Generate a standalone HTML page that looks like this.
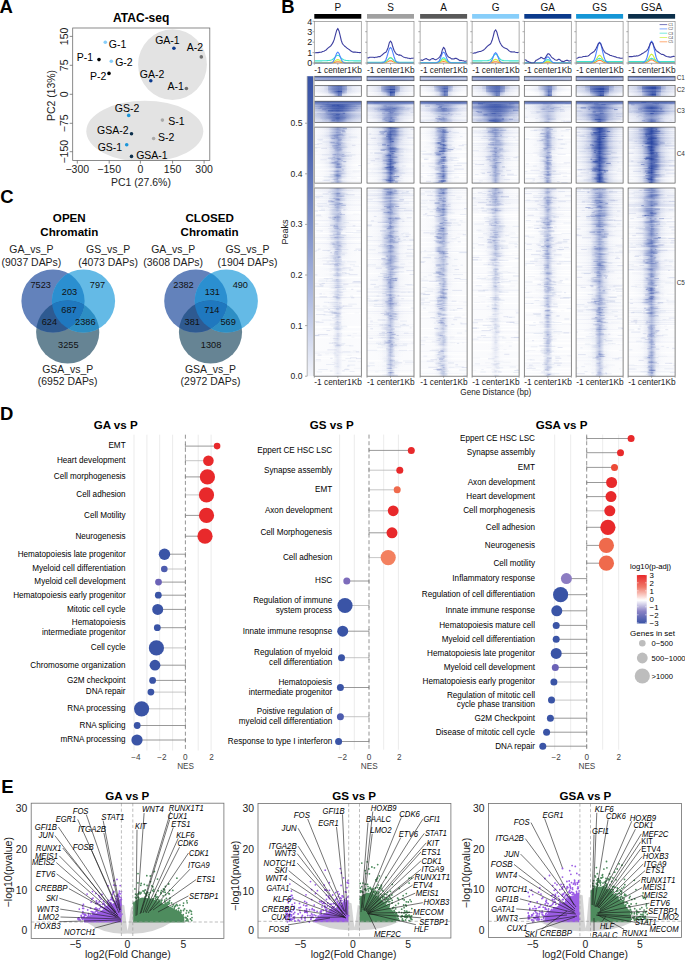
<!DOCTYPE html>
<html><head><meta charset="utf-8"><style>
html,body{margin:0;padding:0;background:#fff;}
svg{display:block;font-family:"Liberation Sans", sans-serif;}
stop{stop-color:#2b47a3;}
</style></head><body>
<svg width="685" height="961" viewBox="0 0 685 961">
<rect width="685" height="961" fill="#fff"/>
<text x="-0.5" y="12.7" font-size="18.5" font-weight="bold" fill="#000">A</text>
<text x="141.2" y="22" font-size="12" font-weight="bold" text-anchor="middle" fill="#000">ATAC-seq</text>
<clipPath id="clipA"><rect x="72.7" y="28" width="137.10000000000002" height="132.4"/></clipPath>
<g clip-path="url(#clipA)">
<ellipse cx="172.5" cy="64.6" rx="34.4" ry="35.3" fill="#e3e3e3"/>
<ellipse cx="144.8" cy="131.3" rx="58.5" ry="30.6" fill="#e3e3e3"/>
</g>
<rect x="72.7" y="28" width="137.1" height="132.4" fill="none" stroke="#6e6e6e" stroke-width="0.8"/>
<line x1="69.7" y1="36.4" x2="72.7" y2="36.4" stroke="#6e6e6e" stroke-width="0.8"/>
<text transform="translate(68.2,36.4) rotate(-90)" font-size="10.5" text-anchor="middle" fill="#222">150</text>
<line x1="69.7" y1="65.3" x2="72.7" y2="65.3" stroke="#6e6e6e" stroke-width="0.8"/>
<text transform="translate(68.2,65.3) rotate(-90)" font-size="10.5" text-anchor="middle" fill="#222">75</text>
<line x1="69.7" y1="94.3" x2="72.7" y2="94.3" stroke="#6e6e6e" stroke-width="0.8"/>
<text transform="translate(68.2,94.3) rotate(-90)" font-size="10.5" text-anchor="middle" fill="#222">0</text>
<line x1="69.7" y1="123.3" x2="72.7" y2="123.3" stroke="#6e6e6e" stroke-width="0.8"/>
<text transform="translate(68.2,123.3) rotate(-90)" font-size="10.5" text-anchor="middle" fill="#222">−75</text>
<line x1="69.7" y1="151.7" x2="72.7" y2="151.7" stroke="#6e6e6e" stroke-width="0.8"/>
<text transform="translate(68.2,151.7) rotate(-90)" font-size="10.5" text-anchor="middle" fill="#222">−150</text>
<line x1="77.3" y1="160.4" x2="77.3" y2="163.6" stroke="#6e6e6e" stroke-width="0.8"/>
<text x="77.3" y="173.3" font-size="10.5" text-anchor="middle" fill="#222">−300</text>
<line x1="109.2" y1="160.4" x2="109.2" y2="163.6" stroke="#6e6e6e" stroke-width="0.8"/>
<text x="109.2" y="173.3" font-size="10.5" text-anchor="middle" fill="#222">−150</text>
<line x1="140.4" y1="160.4" x2="140.4" y2="163.6" stroke="#6e6e6e" stroke-width="0.8"/>
<text x="140.4" y="173.3" font-size="10.5" text-anchor="middle" fill="#222">0</text>
<line x1="172.6" y1="160.4" x2="172.6" y2="163.6" stroke="#6e6e6e" stroke-width="0.8"/>
<text x="172.6" y="173.3" font-size="10.5" text-anchor="middle" fill="#222">150</text>
<line x1="204.1" y1="160.4" x2="204.1" y2="163.6" stroke="#6e6e6e" stroke-width="0.8"/>
<text x="204.1" y="173.3" font-size="10.5" text-anchor="middle" fill="#222">300</text>
<text x="141" y="185.6" font-size="10.45" text-anchor="middle" fill="#222">PC1 (27.6%)</text>
<text transform="translate(54.6,95.5) rotate(-90)" font-size="10.45" text-anchor="middle" fill="#222">PC2 (13%)</text>
<circle cx="99" cy="59.6" r="1.8" fill="#000"/>
<text x="93.2" y="61.2" font-size="10.5" text-anchor="end">P-1</text>
<circle cx="109" cy="73.4" r="1.8" fill="#000"/>
<text x="106.3" y="79.6" font-size="10.5" text-anchor="end">P-2</text>
<circle cx="105.3" cy="42.2" r="1.8" fill="#87cefa"/>
<text x="108.8" y="48.2" font-size="10.5">G-1</text>
<circle cx="111.3" cy="61.2" r="1.8" fill="#87cefa"/>
<text x="115.2" y="65.7" font-size="10.5">G-2</text>
<circle cx="173.9" cy="48.2" r="1.8" fill="#0b3a8e"/>
<text x="167.4" y="43.8" font-size="10.5" text-anchor="middle">GA-1</text>
<circle cx="201.3" cy="56.9" r="1.8" fill="#707070"/>
<text x="194.8" y="51.2" font-size="10.5" text-anchor="middle">A-2</text>
<circle cx="150.8" cy="80.8" r="1.8" fill="#0b3a8e"/>
<text x="152" y="78" font-size="10.5" text-anchor="middle">GA-2</text>
<circle cx="186.4" cy="88.5" r="1.8" fill="#707070"/>
<text x="183.9" y="90.2" font-size="10.5" text-anchor="end">A-1</text>
<circle cx="128.7" cy="115.4" r="1.8" fill="#1b95d8"/>
<text x="127.1" y="112" font-size="10.5" text-anchor="middle">GS-2</text>
<circle cx="131.5" cy="133.8" r="1.8" fill="#0c2f4c"/>
<text x="128.6" y="133.8" font-size="10.5" text-anchor="end">GSA-2</text>
<circle cx="126.7" cy="144.8" r="1.8" fill="#1b95d8"/>
<text x="122.2" y="151.3" font-size="10.5" text-anchor="end">GS-1</text>
<circle cx="131.5" cy="156.4" r="1.8" fill="#0c2f4c"/>
<text x="136.2" y="159.2" font-size="10.5">GSA-1</text>
<circle cx="162.4" cy="120.1" r="1.8" fill="#a9a9a9"/>
<text x="168.3" y="125" font-size="10.5">S-1</text>
<circle cx="153.6" cy="138.5" r="1.8" fill="#a9a9a9"/>
<text x="158" y="141.2" font-size="10.5">S-2</text>
<text x="281.2" y="12.7" font-size="18.5" font-weight="bold" fill="#000">B</text>
<text x="337.8" y="10.9" font-size="10" text-anchor="middle" fill="#111">P</text>
<rect x="314.3" y="14" width="47" height="4.7" fill="#000000"/>
<line x1="312.5" y1="63" x2="314.3" y2="63" stroke="#777" stroke-width="0.6"/>
<line x1="312.5" y1="52.6" x2="314.3" y2="52.6" stroke="#777" stroke-width="0.6"/>
<line x1="312.5" y1="42.2" x2="314.3" y2="42.2" stroke="#777" stroke-width="0.6"/>
<line x1="312.5" y1="31.7" x2="314.3" y2="31.7" stroke="#777" stroke-width="0.6"/>
<line x1="312.5" y1="21.3" x2="314.3" y2="21.3" stroke="#777" stroke-width="0.6"/>
<line x1="314.3" y1="63.2" x2="314.3" y2="64.8" stroke="#777" stroke-width="0.6"/>
<line x1="337.8" y1="63.2" x2="337.8" y2="64.8" stroke="#777" stroke-width="0.6"/>
<line x1="361.3" y1="63.2" x2="361.3" y2="64.8" stroke="#777" stroke-width="0.6"/>
<text x="338.1" y="72.6" font-size="8.3" text-anchor="middle" fill="#222" textLength="47.5" lengthAdjust="spacingAndGlyphs">-1 center1Kb</text>
<text x="390.5" y="10.9" font-size="10" text-anchor="middle" fill="#111">S</text>
<rect x="367" y="14" width="47" height="4.7" fill="#a0a0a0"/>
<line x1="365.2" y1="63" x2="367" y2="63" stroke="#777" stroke-width="0.6"/>
<line x1="365.2" y1="52.6" x2="367" y2="52.6" stroke="#777" stroke-width="0.6"/>
<line x1="365.2" y1="42.2" x2="367" y2="42.2" stroke="#777" stroke-width="0.6"/>
<line x1="365.2" y1="31.7" x2="367" y2="31.7" stroke="#777" stroke-width="0.6"/>
<line x1="365.2" y1="21.3" x2="367" y2="21.3" stroke="#777" stroke-width="0.6"/>
<line x1="367" y1="63.2" x2="367" y2="64.8" stroke="#777" stroke-width="0.6"/>
<line x1="390.5" y1="63.2" x2="390.5" y2="64.8" stroke="#777" stroke-width="0.6"/>
<line x1="414" y1="63.2" x2="414" y2="64.8" stroke="#777" stroke-width="0.6"/>
<text x="390.8" y="72.6" font-size="8.3" text-anchor="middle" fill="#222" textLength="47.5" lengthAdjust="spacingAndGlyphs">-1 center1Kb</text>
<text x="443.6" y="10.9" font-size="10" text-anchor="middle" fill="#111">A</text>
<rect x="420.1" y="14" width="47" height="4.7" fill="#595959"/>
<line x1="418.3" y1="63" x2="420.1" y2="63" stroke="#777" stroke-width="0.6"/>
<line x1="418.3" y1="52.6" x2="420.1" y2="52.6" stroke="#777" stroke-width="0.6"/>
<line x1="418.3" y1="42.2" x2="420.1" y2="42.2" stroke="#777" stroke-width="0.6"/>
<line x1="418.3" y1="31.7" x2="420.1" y2="31.7" stroke="#777" stroke-width="0.6"/>
<line x1="418.3" y1="21.3" x2="420.1" y2="21.3" stroke="#777" stroke-width="0.6"/>
<line x1="420.1" y1="63.2" x2="420.1" y2="64.8" stroke="#777" stroke-width="0.6"/>
<line x1="443.6" y1="63.2" x2="443.6" y2="64.8" stroke="#777" stroke-width="0.6"/>
<line x1="467.1" y1="63.2" x2="467.1" y2="64.8" stroke="#777" stroke-width="0.6"/>
<text x="443.9" y="72.6" font-size="8.3" text-anchor="middle" fill="#222" textLength="47.5" lengthAdjust="spacingAndGlyphs">-1 center1Kb</text>
<text x="495.6" y="10.9" font-size="10" text-anchor="middle" fill="#111">G</text>
<rect x="472.1" y="14" width="47" height="4.7" fill="#87cefa"/>
<line x1="470.3" y1="63" x2="472.1" y2="63" stroke="#777" stroke-width="0.6"/>
<line x1="470.3" y1="52.6" x2="472.1" y2="52.6" stroke="#777" stroke-width="0.6"/>
<line x1="470.3" y1="42.2" x2="472.1" y2="42.2" stroke="#777" stroke-width="0.6"/>
<line x1="470.3" y1="31.7" x2="472.1" y2="31.7" stroke="#777" stroke-width="0.6"/>
<line x1="470.3" y1="21.3" x2="472.1" y2="21.3" stroke="#777" stroke-width="0.6"/>
<line x1="472.1" y1="63.2" x2="472.1" y2="64.8" stroke="#777" stroke-width="0.6"/>
<line x1="495.6" y1="63.2" x2="495.6" y2="64.8" stroke="#777" stroke-width="0.6"/>
<line x1="519.1" y1="63.2" x2="519.1" y2="64.8" stroke="#777" stroke-width="0.6"/>
<text x="495.9" y="72.6" font-size="8.3" text-anchor="middle" fill="#222" textLength="47.5" lengthAdjust="spacingAndGlyphs">-1 center1Kb</text>
<text x="547.8" y="10.9" font-size="10" text-anchor="middle" fill="#111">GA</text>
<rect x="524.3" y="14" width="47" height="4.7" fill="#0a3a8c"/>
<line x1="522.5" y1="63" x2="524.3" y2="63" stroke="#777" stroke-width="0.6"/>
<line x1="522.5" y1="52.6" x2="524.3" y2="52.6" stroke="#777" stroke-width="0.6"/>
<line x1="522.5" y1="42.2" x2="524.3" y2="42.2" stroke="#777" stroke-width="0.6"/>
<line x1="522.5" y1="31.7" x2="524.3" y2="31.7" stroke="#777" stroke-width="0.6"/>
<line x1="522.5" y1="21.3" x2="524.3" y2="21.3" stroke="#777" stroke-width="0.6"/>
<line x1="524.3" y1="63.2" x2="524.3" y2="64.8" stroke="#777" stroke-width="0.6"/>
<line x1="547.8" y1="63.2" x2="547.8" y2="64.8" stroke="#777" stroke-width="0.6"/>
<line x1="571.3" y1="63.2" x2="571.3" y2="64.8" stroke="#777" stroke-width="0.6"/>
<text x="548.1" y="72.6" font-size="8.3" text-anchor="middle" fill="#222" textLength="47.5" lengthAdjust="spacingAndGlyphs">-1 center1Kb</text>
<text x="599.6" y="10.9" font-size="10" text-anchor="middle" fill="#111">GS</text>
<rect x="576.1" y="14" width="47" height="4.7" fill="#1596d6"/>
<line x1="574.3" y1="63" x2="576.1" y2="63" stroke="#777" stroke-width="0.6"/>
<line x1="574.3" y1="52.6" x2="576.1" y2="52.6" stroke="#777" stroke-width="0.6"/>
<line x1="574.3" y1="42.2" x2="576.1" y2="42.2" stroke="#777" stroke-width="0.6"/>
<line x1="574.3" y1="31.7" x2="576.1" y2="31.7" stroke="#777" stroke-width="0.6"/>
<line x1="574.3" y1="21.3" x2="576.1" y2="21.3" stroke="#777" stroke-width="0.6"/>
<line x1="576.1" y1="63.2" x2="576.1" y2="64.8" stroke="#777" stroke-width="0.6"/>
<line x1="599.6" y1="63.2" x2="599.6" y2="64.8" stroke="#777" stroke-width="0.6"/>
<line x1="623.1" y1="63.2" x2="623.1" y2="64.8" stroke="#777" stroke-width="0.6"/>
<text x="599.9" y="72.6" font-size="8.3" text-anchor="middle" fill="#222" textLength="47.5" lengthAdjust="spacingAndGlyphs">-1 center1Kb</text>
<text x="651.6" y="10.9" font-size="10" text-anchor="middle" fill="#111">GSA</text>
<rect x="628.1" y="14" width="47" height="4.7" fill="#0b2f4a"/>
<line x1="626.3" y1="63" x2="628.1" y2="63" stroke="#777" stroke-width="0.6"/>
<line x1="626.3" y1="52.6" x2="628.1" y2="52.6" stroke="#777" stroke-width="0.6"/>
<line x1="626.3" y1="42.2" x2="628.1" y2="42.2" stroke="#777" stroke-width="0.6"/>
<line x1="626.3" y1="31.7" x2="628.1" y2="31.7" stroke="#777" stroke-width="0.6"/>
<line x1="626.3" y1="21.3" x2="628.1" y2="21.3" stroke="#777" stroke-width="0.6"/>
<line x1="628.1" y1="63.2" x2="628.1" y2="64.8" stroke="#777" stroke-width="0.6"/>
<line x1="651.6" y1="63.2" x2="651.6" y2="64.8" stroke="#777" stroke-width="0.6"/>
<line x1="675.1" y1="63.2" x2="675.1" y2="64.8" stroke="#777" stroke-width="0.6"/>
<text x="651.9" y="72.6" font-size="8.3" text-anchor="middle" fill="#222" textLength="47.5" lengthAdjust="spacingAndGlyphs">-1 center1Kb</text>
<text x="312.3" y="66.2" font-size="9" text-anchor="end" fill="#222">0</text>
<text x="312.3" y="55.8" font-size="9" text-anchor="end" fill="#222">1</text>
<text x="312.3" y="45.4" font-size="9" text-anchor="end" fill="#222">2</text>
<text x="312.3" y="34.9" font-size="9" text-anchor="end" fill="#222">3</text>
<text x="312.3" y="24.5" font-size="9" text-anchor="end" fill="#222">4</text>
<polyline points="314.6,62.8 315.8,62.8 316.9,62.8 318.1,62.8 319.2,62.8 320.4,62.8 321.6,62.8 322.7,62.8 323.9,62.8 325,62.8 326.2,62.8 327.4,62.8 328.5,62.8 329.7,62.8 330.8,62.8 332,62.7 333.2,62.6 334.3,62.4 335.5,62.1 336.6,61.9 337.8,61.7 339,61.9 340.1,62.1 341.3,62.4 342.4,62.6 343.6,62.7 344.8,62.8 345.9,62.8 347.1,62.8 348.2,62.8 349.4,62.8 350.6,62.8 351.7,62.8 352.9,62.8 354,62.8 355.2,62.8 356.4,62.8 357.5,62.8 358.7,62.8 359.8,62.8 361,62.8" fill="none" stroke="#ff8a3a" stroke-width="1.1" stroke-linejoin="round"/>
<polyline points="314.6,62.5 315.8,62.5 316.9,62.5 318.1,62.5 319.2,62.5 320.4,62.5 321.6,62.5 322.7,62.5 323.9,62.5 325,62.5 326.2,62.5 327.4,62.5 328.5,62.5 329.7,62.5 330.8,62.4 332,62.3 333.2,62 334.3,61.4 335.5,60.6 336.6,59.9 337.8,59.6 339,59.9 340.1,60.6 341.3,61.4 342.4,62 343.6,62.3 344.8,62.4 345.9,62.5 347.1,62.5 348.2,62.5 349.4,62.5 350.6,62.5 351.7,62.5 352.9,62.5 354,62.5 355.2,62.5 356.4,62.5 357.5,62.5 358.7,62.5 359.8,62.5 361,62.5" fill="none" stroke="#cdf03c" stroke-width="1.1" stroke-linejoin="round"/>
<polyline points="314.6,60.9 315.8,60.9 316.9,60.9 318.1,60.9 319.2,60.9 320.4,60.9 321.6,60.9 322.7,60.8 323.9,60.8 325,60.7 326.2,60.7 327.4,60.6 328.5,60.5 329.7,60.4 330.8,60.2 332,59.8 333.2,59.1 334.3,58 335.5,56.7 336.6,55.6 337.8,55.2 339,55.6 340.1,56.8 341.3,58.1 342.4,59.1 343.6,59.8 344.8,60.2 345.9,60.4 347.1,60.5 348.2,60.6 349.4,60.7 350.6,60.8 351.7,60.8 352.9,60.8 354,60.9 355.2,60.9 356.4,60.9 357.5,60.9 358.7,60.9 359.8,60.9 361,60.9" fill="none" stroke="#3fe3cf" stroke-width="1.1" stroke-linejoin="round"/>
<polyline points="314.6,63 315.8,63 316.9,63 318.1,63 319.2,63 320.4,63 321.6,63 322.7,63 323.9,63 325,63 326.2,63 327.4,63 328.5,63 329.7,63 330.8,62.9 332,62.5 333.2,61.6 334.3,59.5 335.5,56.4 336.6,53.4 337.8,52.1 339,53.4 340.1,56.4 341.3,59.5 342.4,61.6 343.6,62.5 344.8,62.9 345.9,63 347.1,63 348.2,63 349.4,63 350.6,63 351.7,63 352.9,63 354,63 355.2,63 356.4,63 357.5,63 358.7,63 359.8,63 361,63" fill="none" stroke="#4d84ff" stroke-width="1.1" stroke-linejoin="round"/>
<polyline points="314.6,52.7 315.8,52.8 316.9,52.5 318.1,52.6 319.2,52.4 320.4,52.2 321.6,52.1 322.7,51.5 323.9,51.3 325,50.6 326.2,49.9 327.4,48.6 328.5,47.6 329.7,46.8 330.8,45.9 332,44.1 333.2,42.1 334.3,39.2 335.5,34.7 336.6,30.6 337.8,28.4 339,30.9 340.1,35.4 341.3,40.5 342.4,43.6 343.6,45 344.8,46.3 345.9,47.1 347.1,48.2 348.2,48.9 349.4,49.7 350.6,50.8 351.7,51.5 352.9,52.1 354,52.1 355.2,52.1 356.4,52.2 357.5,52.4 358.7,52.5 359.8,52.6 361,52.5" fill="none" stroke="#3d3fa0" stroke-width="1.1" stroke-linejoin="round"/>
<rect x="314.3" y="21.4" width="47" height="41.8" fill="none" stroke="#8a8a8a" stroke-width="0.7"/>
<polyline points="367.3,62.8 368.5,62.8 369.6,62.8 370.8,62.8 371.9,62.8 373.1,62.8 374.3,62.8 375.4,62.8 376.6,62.8 377.7,62.8 378.9,62.8 380.1,62.8 381.2,62.8 382.4,62.8 383.5,62.8 384.7,62.7 385.9,62.4 387,62 388.2,61.5 389.3,60.9 390.5,60.7 391.7,60.9 392.8,61.5 394,62 395.1,62.4 396.3,62.7 397.5,62.8 398.6,62.8 399.8,62.8 400.9,62.8 402.1,62.8 403.3,62.8 404.4,62.8 405.6,62.8 406.7,62.8 407.9,62.8 409.1,62.8 410.2,62.8 411.4,62.8 412.5,62.8 413.7,62.8" fill="none" stroke="#ff8a3a" stroke-width="1.1" stroke-linejoin="round"/>
<polyline points="367.3,62.6 368.5,62.6 369.6,62.6 370.8,62.6 371.9,62.6 373.1,62.6 374.3,62.6 375.4,62.6 376.6,62.6 377.7,62.6 378.9,62.6 380.1,62.6 381.2,62.6 382.4,62.6 383.5,62.5 384.7,62.4 385.9,61.9 387,60.9 388.2,59.5 389.3,58 390.5,57.4 391.7,58 392.8,59.5 394,60.9 395.1,61.9 396.3,62.4 397.5,62.5 398.6,62.6 399.8,62.6 400.9,62.6 402.1,62.6 403.3,62.6 404.4,62.6 405.6,62.6 406.7,62.6 407.9,62.6 409.1,62.6 410.2,62.6 411.4,62.6 412.5,62.6 413.7,62.6" fill="none" stroke="#cdf03c" stroke-width="1.1" stroke-linejoin="round"/>
<polyline points="367.3,62.2 368.5,62.2 369.6,62.2 370.8,62.2 371.9,62.2 373.1,62.2 374.3,62.2 375.4,62.2 376.6,62.2 377.7,62.2 378.9,62.2 380.1,62.2 381.2,62.2 382.4,62.1 383.5,62.1 384.7,61.9 385.9,61.4 387,60.6 388.2,59.4 389.3,58.3 390.5,57.8 391.7,58.3 392.8,59.4 394,60.6 395.1,61.4 396.3,61.9 397.5,62.1 398.6,62.1 399.8,62.2 400.9,62.2 402.1,62.2 403.3,62.2 404.4,62.2 405.6,62.2 406.7,62.2 407.9,62.2 409.1,62.2 410.2,62.2 411.4,62.2 412.5,62.2 413.7,62.2" fill="none" stroke="#3fe3cf" stroke-width="1.1" stroke-linejoin="round"/>
<polyline points="367.3,63 368.5,63 369.6,63 370.8,63 371.9,63 373.1,63 374.3,63 375.4,63 376.6,63 377.7,63 378.9,63 380.1,63 381.2,63 382.4,62.9 383.5,62.5 384.7,61.6 385.9,59.7 387,56.5 388.2,52.4 389.3,48.8 390.5,47.4 391.7,48.8 392.8,52.4 394,56.5 395.1,59.7 396.3,61.6 397.5,62.5 398.6,62.9 399.8,63 400.9,63 402.1,63 403.3,63 404.4,63 405.6,63 406.7,63 407.9,63 409.1,63 410.2,63 411.4,63 412.5,63 413.7,63" fill="none" stroke="#4d84ff" stroke-width="1.1" stroke-linejoin="round"/>
<polyline points="367.3,57.8 368.5,57.9 369.6,57.3 370.8,57.2 371.9,57.3 373.1,57.2 374.3,57.6 375.4,57.3 376.6,57.2 377.7,56.9 378.9,56.5 380.1,56.6 381.2,55.6 382.4,54.8 383.5,53.6 384.7,52.7 385.9,52.2 387,50.3 388.2,47.2 389.3,42.8 390.5,41 391.7,42.9 392.8,46.8 394,50.2 395.1,52.2 396.3,53.9 397.5,54.4 398.6,55.1 399.8,54.9 400.9,55.3 402.1,56.1 403.3,56.9 404.4,57.3 405.6,57.7 406.7,57.8 407.9,58.3 409.1,58.3 410.2,58.7 411.4,58.2 412.5,58.2 413.7,58.1" fill="none" stroke="#3d3fa0" stroke-width="1.1" stroke-linejoin="round"/>
<rect x="367" y="21.4" width="47" height="41.8" fill="none" stroke="#8a8a8a" stroke-width="0.7"/>
<polyline points="420.4,62.8 421.6,62.8 422.7,62.8 423.9,62.8 425,62.8 426.2,62.8 427.4,62.8 428.5,62.8 429.7,62.8 430.8,62.8 432,62.8 433.2,62.8 434.3,62.8 435.5,62.8 436.6,62.8 437.8,62.7 439,62.6 440.1,62.3 441.3,62 442.4,61.7 443.6,61.5 444.8,61.7 445.9,62 447.1,62.3 448.2,62.6 449.4,62.7 450.6,62.8 451.7,62.8 452.9,62.8 454,62.8 455.2,62.8 456.4,62.8 457.5,62.8 458.7,62.8 459.8,62.8 461,62.8 462.2,62.8 463.3,62.8 464.5,62.8 465.6,62.8 466.8,62.8" fill="none" stroke="#ff8a3a" stroke-width="1.1" stroke-linejoin="round"/>
<polyline points="420.4,62.7 421.6,62.7 422.7,62.7 423.9,62.7 425,62.7 426.2,62.7 427.4,62.7 428.5,62.7 429.7,62.7 430.8,62.7 432,62.7 433.2,62.7 434.3,62.7 435.5,62.7 436.6,62.7 437.8,62.6 439,62.3 440.1,61.7 441.3,60.8 442.4,59.9 443.6,59.6 444.8,59.9 445.9,60.8 447.1,61.7 448.2,62.3 449.4,62.6 450.6,62.7 451.7,62.7 452.9,62.7 454,62.7 455.2,62.7 456.4,62.7 457.5,62.7 458.7,62.7 459.8,62.7 461,62.7 462.2,62.7 463.3,62.7 464.5,62.7 465.6,62.7 466.8,62.7" fill="none" stroke="#cdf03c" stroke-width="1.1" stroke-linejoin="round"/>
<polyline points="420.4,62.5 421.6,62.5 422.7,62.5 423.9,62.5 425,62.5 426.2,62.5 427.4,62.5 428.5,62.5 429.7,62.5 430.8,62.5 432,62.5 433.2,62.5 434.3,62.5 435.5,62.5 436.6,62.4 437.8,62.2 439,61.7 440.1,60.8 441.3,59.5 442.4,58.3 443.6,57.8 444.8,58.3 445.9,59.5 447.1,60.8 448.2,61.7 449.4,62.2 450.6,62.4 451.7,62.5 452.9,62.5 454,62.5 455.2,62.5 456.4,62.5 457.5,62.5 458.7,62.5 459.8,62.5 461,62.5 462.2,62.5 463.3,62.5 464.5,62.5 465.6,62.5 466.8,62.5" fill="none" stroke="#3fe3cf" stroke-width="1.1" stroke-linejoin="round"/>
<polyline points="420.4,63 421.6,63 422.7,63 423.9,63 425,63 426.2,63 427.4,63 428.5,63 429.7,63 430.8,63 432,63 433.2,63 434.3,63 435.5,63 436.6,62.8 437.8,62.3 439,61.2 440.1,59 441.3,56 442.4,53.2 443.6,52.1 444.8,53.2 445.9,56 447.1,59 448.2,61.2 449.4,62.3 450.6,62.8 451.7,63 452.9,63 454,63 455.2,63 456.4,63 457.5,63 458.7,63 459.8,63 461,63 462.2,63 463.3,63 464.5,63 465.6,63 466.8,63" fill="none" stroke="#4d84ff" stroke-width="1.1" stroke-linejoin="round"/>
<polyline points="420.4,60.1 421.6,60 422.7,60.4 423.9,59.4 425,58.9 426.2,58.5 427.4,59.2 428.5,59.7 429.7,60.3 430.8,59.4 432,58.6 433.2,58.6 434.3,59.2 435.5,59.8 436.6,59.4 437.8,58.6 439,57.6 440.1,56.3 441.3,53.9 442.4,49.7 443.6,47.2 444.8,48.9 445.9,52.7 447.1,55.3 448.2,56.7 449.4,57.6 450.6,58.1 451.7,59 452.9,58.9 454,59 455.2,58.2 456.4,58.4 457.5,59 458.7,59.7 459.8,60.6 461,60.3 462.2,60.7 463.3,60.8 464.5,61.3 465.6,61.2 466.8,60.9" fill="none" stroke="#3d3fa0" stroke-width="1.1" stroke-linejoin="round"/>
<rect x="420.1" y="21.4" width="47" height="41.8" fill="none" stroke="#8a8a8a" stroke-width="0.7"/>
<polyline points="472.4,62.8 473.6,62.8 474.7,62.8 475.9,62.8 477,62.8 478.2,62.8 479.4,62.8 480.5,62.8 481.7,62.8 482.8,62.8 484,62.8 485.2,62.8 486.3,62.8 487.5,62.8 488.6,62.8 489.8,62.7 491,62.6 492.1,62.4 493.3,62.1 494.4,61.9 495.6,61.7 496.8,61.9 497.9,62.1 499.1,62.4 500.2,62.6 501.4,62.7 502.6,62.8 503.7,62.8 504.9,62.8 506,62.8 507.2,62.8 508.4,62.8 509.5,62.8 510.7,62.8 511.8,62.8 513,62.8 514.2,62.8 515.3,62.8 516.5,62.8 517.6,62.8 518.8,62.8" fill="none" stroke="#ff8a3a" stroke-width="1.1" stroke-linejoin="round"/>
<polyline points="472.4,62.5 473.6,62.5 474.7,62.5 475.9,62.5 477,62.5 478.2,62.5 479.4,62.5 480.5,62.5 481.7,62.5 482.8,62.5 484,62.5 485.2,62.5 486.3,62.5 487.5,62.5 488.6,62.4 489.8,62.3 491,62 492.1,61.3 493.3,60.5 494.4,59.7 495.6,59.4 496.8,59.7 497.9,60.5 499.1,61.3 500.2,62 501.4,62.3 502.6,62.4 503.7,62.5 504.9,62.5 506,62.5 507.2,62.5 508.4,62.5 509.5,62.5 510.7,62.5 511.8,62.5 513,62.5 514.2,62.5 515.3,62.5 516.5,62.5 517.6,62.5 518.8,62.5" fill="none" stroke="#cdf03c" stroke-width="1.1" stroke-linejoin="round"/>
<polyline points="472.4,60.9 473.6,60.9 474.7,60.9 475.9,60.9 477,60.9 478.2,60.9 479.4,60.9 480.5,60.9 481.7,60.9 482.8,60.8 484,60.8 485.2,60.8 486.3,60.7 487.5,60.6 488.6,60.4 489.8,60 491,59.2 492.1,57.9 493.3,56.2 494.4,54.7 495.6,54.1 496.8,54.7 497.9,56.2 499.1,57.9 500.2,59.2 501.4,60 502.6,60.4 503.7,60.6 504.9,60.7 506,60.8 507.2,60.8 508.4,60.8 509.5,60.9 510.7,60.9 511.8,60.9 513,60.9 514.2,60.9 515.3,60.9 516.5,60.9 517.6,60.9 518.8,60.9" fill="none" stroke="#3fe3cf" stroke-width="1.1" stroke-linejoin="round"/>
<polyline points="472.4,63 473.6,63 474.7,63 475.9,63 477,63 478.2,63 479.4,63 480.5,63 481.7,63 482.8,63 484,63 485.2,63 486.3,63 487.5,63 488.6,62.9 489.8,62.6 491,61.6 492.1,59.7 493.3,56.7 494.4,53.8 495.6,52.6 496.8,53.8 497.9,56.7 499.1,59.7 500.2,61.6 501.4,62.6 502.6,62.9 503.7,63 504.9,63 506,63 507.2,63 508.4,63 509.5,63 510.7,63 511.8,63 513,63 514.2,63 515.3,63 516.5,63 517.6,63 518.8,63" fill="none" stroke="#4d84ff" stroke-width="1.1" stroke-linejoin="round"/>
<polyline points="472.4,53.3 473.6,53.2 474.7,52.9 475.9,52.9 477,52.2 478.2,51.9 479.4,51.5 480.5,51.5 481.7,51.1 482.8,50.4 484,49.7 485.2,48.6 486.3,47.3 487.5,46.1 488.6,45.3 489.8,44.6 491,43.1 492.1,40.3 493.3,36.1 494.4,31.5 495.6,29.8 496.8,31.9 497.9,36.1 499.1,40.2 500.2,43 501.4,45.1 502.6,46.6 503.7,47.4 504.9,48.1 506,48.5 507.2,49.1 508.4,50.2 509.5,51.1 510.7,51.9 511.8,51.9 513,52 514.2,51.8 515.3,52.2 516.5,52.5 517.6,52.6 518.8,52.2" fill="none" stroke="#3d3fa0" stroke-width="1.1" stroke-linejoin="round"/>
<rect x="472.1" y="21.4" width="47" height="41.8" fill="none" stroke="#8a8a8a" stroke-width="0.7"/>
<polyline points="524.6,62.9 525.8,62.9 526.9,62.9 528.1,62.9 529.2,62.9 530.4,62.9 531.6,62.9 532.7,62.9 533.9,62.9 535,62.9 536.2,62.9 537.4,62.9 538.5,62.9 539.7,62.9 540.8,62.9 542,62.9 543.2,62.8 544.3,62.7 545.5,62.5 546.6,62.3 547.8,62.3 549,62.3 550.1,62.5 551.3,62.7 552.4,62.8 553.6,62.9 554.8,62.9 555.9,62.9 557.1,62.9 558.2,62.9 559.4,62.9 560.6,62.9 561.7,62.9 562.9,62.9 564,62.9 565.2,62.9 566.4,62.9 567.5,62.9 568.7,62.9 569.8,62.9 571,62.9" fill="none" stroke="#ff8a3a" stroke-width="1.1" stroke-linejoin="round"/>
<polyline points="524.6,62.8 525.8,62.8 526.9,62.8 528.1,62.8 529.2,62.8 530.4,62.8 531.6,62.8 532.7,62.8 533.9,62.8 535,62.8 536.2,62.8 537.4,62.8 538.5,62.8 539.7,62.8 540.8,62.8 542,62.7 543.2,62.6 544.3,62.3 545.5,61.9 546.6,61.4 547.8,61.2 549,61.4 550.1,61.9 551.3,62.3 552.4,62.6 553.6,62.7 554.8,62.8 555.9,62.8 557.1,62.8 558.2,62.8 559.4,62.8 560.6,62.8 561.7,62.8 562.9,62.8 564,62.8 565.2,62.8 566.4,62.8 567.5,62.8 568.7,62.8 569.8,62.8 571,62.8" fill="none" stroke="#cdf03c" stroke-width="1.1" stroke-linejoin="round"/>
<polyline points="524.6,62.7 525.8,62.7 526.9,62.7 528.1,62.7 529.2,62.7 530.4,62.7 531.6,62.7 532.7,62.7 533.9,62.7 535,62.7 536.2,62.7 537.4,62.7 538.5,62.7 539.7,62.7 540.8,62.6 542,62.5 543.2,62.2 544.3,61.5 545.5,60.7 546.6,59.9 547.8,59.6 549,59.9 550.1,60.7 551.3,61.5 552.4,62.2 553.6,62.5 554.8,62.6 555.9,62.7 557.1,62.7 558.2,62.7 559.4,62.7 560.6,62.7 561.7,62.7 562.9,62.7 564,62.7 565.2,62.7 566.4,62.7 567.5,62.7 568.7,62.7 569.8,62.7 571,62.7" fill="none" stroke="#3fe3cf" stroke-width="1.1" stroke-linejoin="round"/>
<polyline points="524.6,63 525.8,63 526.9,63 528.1,63 529.2,63 530.4,63 531.6,63 532.7,63 533.9,63 535,63 536.2,63 537.4,63 538.5,63 539.7,63 540.8,62.9 542,62.7 543.2,62.2 544.3,61 545.5,59.2 546.6,57.5 547.8,56.7 549,57.5 550.1,59.2 551.3,61 552.4,62.2 553.6,62.7 554.8,62.9 555.9,63 557.1,63 558.2,63 559.4,63 560.6,63 561.7,63 562.9,63 564,63 565.2,63 566.4,63 567.5,63 568.7,63 569.8,63 571,63" fill="none" stroke="#4d84ff" stroke-width="1.1" stroke-linejoin="round"/>
<polyline points="524.6,59.8 525.8,60 526.9,61 528.1,61.5 529.2,62.1 530.4,62.4 531.6,63 532.7,63 533.9,62.8 535,61.6 536.2,60.2 537.4,59.7 538.5,59 539.7,58.6 540.8,57.3 542,57.8 543.2,58.6 544.3,59 545.5,57.7 546.6,55.6 547.8,53.9 549,53.9 550.1,55 551.3,56.8 552.4,58 553.6,58.6 554.8,59.7 555.9,60.1 557.1,60.2 558.2,59.4 559.4,59.4 560.6,60.3 561.7,61.4 562.9,61.4 564,61.7 565.2,60.7 566.4,60.4 567.5,60.3 568.7,61 569.8,61 571,60.5" fill="none" stroke="#3d3fa0" stroke-width="1.1" stroke-linejoin="round"/>
<rect x="524.3" y="21.4" width="47" height="41.8" fill="none" stroke="#8a8a8a" stroke-width="0.7"/>
<polyline points="576.4,62.8 577.6,62.8 578.7,62.8 579.9,62.8 581,62.8 582.2,62.8 583.4,62.8 584.5,62.8 585.7,62.8 586.8,62.8 588,62.8 589.2,62.8 590.3,62.8 591.5,62.8 592.6,62.7 593.8,62.6 595,62.4 596.1,61.8 597.3,61.1 598.4,60.5 599.6,60.2 600.8,60.5 601.9,61.1 603.1,61.8 604.2,62.4 605.4,62.6 606.6,62.7 607.7,62.8 608.9,62.8 610,62.8 611.2,62.8 612.4,62.8 613.5,62.8 614.7,62.8 615.8,62.8 617,62.8 618.2,62.8 619.3,62.8 620.5,62.8 621.6,62.8 622.8,62.8" fill="none" stroke="#ff8a3a" stroke-width="1.1" stroke-linejoin="round"/>
<polyline points="576.4,62.5 577.6,62.5 578.7,62.5 579.9,62.5 581,62.5 582.2,62.5 583.4,62.5 584.5,62.5 585.7,62.5 586.8,62.5 588,62.5 589.2,62.5 590.3,62.5 591.5,62.4 592.6,62.3 593.8,62 595,61.2 596.1,59.8 597.3,57.8 598.4,56 599.6,55.2 600.8,56 601.9,57.8 603.1,59.8 604.2,61.2 605.4,62 606.6,62.3 607.7,62.4 608.9,62.5 610,62.5 611.2,62.5 612.4,62.5 613.5,62.5 614.7,62.5 615.8,62.5 617,62.5 618.2,62.5 619.3,62.5 620.5,62.5 621.6,62.5 622.8,62.5" fill="none" stroke="#cdf03c" stroke-width="1.1" stroke-linejoin="round"/>
<polyline points="576.4,61.5 577.6,61.5 578.7,61.5 579.9,61.5 581,61.5 582.2,61.5 583.4,61.5 584.5,61.5 585.7,61.5 586.8,61.5 588,61.5 589.2,61.5 590.3,61.5 591.5,61.5 592.6,61.4 593.8,61.3 595,60.9 596.1,60.2 597.3,59.4 598.4,58.7 599.6,58.4 600.8,58.7 601.9,59.4 603.1,60.2 604.2,60.9 605.4,61.3 606.6,61.4 607.7,61.5 608.9,61.5 610,61.5 611.2,61.5 612.4,61.5 613.5,61.5 614.7,61.5 615.8,61.5 617,61.5 618.2,61.5 619.3,61.5 620.5,61.5 621.6,61.5 622.8,61.5" fill="none" stroke="#3fe3cf" stroke-width="1.1" stroke-linejoin="round"/>
<polyline points="576.4,63 577.6,63 578.7,63 579.9,63 581,63 582.2,63 583.4,63 584.5,63 585.7,63 586.8,63 588,63 589.2,63 590.3,62.9 591.5,62.7 592.6,62.1 593.8,60.6 595,57.8 596.1,53.4 597.3,48.3 598.4,43.9 599.6,42.2 600.8,43.9 601.9,48.3 603.1,53.4 604.2,57.8 605.4,60.6 606.6,62.1 607.7,62.7 608.9,62.9 610,63 611.2,63 612.4,63 613.5,63 614.7,63 615.8,63 617,63 618.2,63 619.3,63 620.5,63 621.6,63 622.8,63" fill="none" stroke="#4d84ff" stroke-width="1.1" stroke-linejoin="round"/>
<polyline points="576.4,58.4 577.6,57.9 578.7,57.4 579.9,57.3 581,57.3 582.2,57 583.4,56.5 584.5,56.5 585.7,56.4 586.8,56.3 588,56 589.2,55.2 590.3,54.2 591.5,53.2 592.6,52.5 593.8,51.8 595,50.4 596.1,48.5 597.3,45.9 598.4,43.5 599.6,42.6 600.8,43.9 601.9,46.6 603.1,49.5 604.2,51.3 605.4,52.9 606.6,53.3 607.7,54.1 608.9,54.5 610,55.4 611.2,55.5 612.4,56 613.5,56.2 614.7,56.8 615.8,56.9 617,57.4 618.2,57.8 619.3,57.9 620.5,58.2 621.6,58.3 622.8,58.1" fill="none" stroke="#3d3fa0" stroke-width="1.1" stroke-linejoin="round"/>
<rect x="576.1" y="21.4" width="47" height="41.8" fill="none" stroke="#8a8a8a" stroke-width="0.7"/>
<polyline points="628.4,62.8 629.6,62.8 630.7,62.8 631.9,62.8 633,62.8 634.2,62.8 635.4,62.8 636.5,62.8 637.7,62.8 638.8,62.8 640,62.8 641.2,62.8 642.3,62.8 643.5,62.8 644.6,62.7 645.8,62.6 647,62.3 648.1,61.6 649.3,60.8 650.4,60 651.6,59.7 652.8,60 653.9,60.8 655.1,61.6 656.2,62.3 657.4,62.6 658.6,62.7 659.7,62.8 660.9,62.8 662,62.8 663.2,62.8 664.4,62.8 665.5,62.8 666.7,62.8 667.8,62.8 669,62.8 670.2,62.8 671.3,62.8 672.5,62.8 673.6,62.8 674.8,62.8" fill="none" stroke="#ff8a3a" stroke-width="1.1" stroke-linejoin="round"/>
<polyline points="628.4,62.5 629.6,62.5 630.7,62.5 631.9,62.5 633,62.5 634.2,62.5 635.4,62.5 636.5,62.5 637.7,62.5 638.8,62.5 640,62.5 641.2,62.5 642.3,62.5 643.5,62.4 644.6,62.3 645.8,62 647,61.1 648.1,59.4 649.3,57.1 650.4,55 651.6,54.1 652.8,55 653.9,57.1 655.1,59.4 656.2,61.1 657.4,62 658.6,62.3 659.7,62.4 660.9,62.5 662,62.5 663.2,62.5 664.4,62.5 665.5,62.5 666.7,62.5 667.8,62.5 669,62.5 670.2,62.5 671.3,62.5 672.5,62.5 673.6,62.5 674.8,62.5" fill="none" stroke="#cdf03c" stroke-width="1.1" stroke-linejoin="round"/>
<polyline points="628.4,61.5 629.6,61.5 630.7,61.5 631.9,61.5 633,61.5 634.2,61.5 635.4,61.5 636.5,61.5 637.7,61.5 638.8,61.5 640,61.5 641.2,61.5 642.3,61.5 643.5,61.5 644.6,61.4 645.8,61.3 647,60.9 648.1,60.2 649.3,59.4 650.4,58.7 651.6,58.4 652.8,58.7 653.9,59.4 655.1,60.2 656.2,60.9 657.4,61.3 658.6,61.4 659.7,61.5 660.9,61.5 662,61.5 663.2,61.5 664.4,61.5 665.5,61.5 666.7,61.5 667.8,61.5 669,61.5 670.2,61.5 671.3,61.5 672.5,61.5 673.6,61.5 674.8,61.5" fill="none" stroke="#3fe3cf" stroke-width="1.1" stroke-linejoin="round"/>
<polyline points="628.4,63 629.6,63 630.7,63 631.9,63 633,63 634.2,63 635.4,63 636.5,63 637.7,63 638.8,63 640,63 641.2,63 642.3,62.9 643.5,62.7 644.6,62 645.8,60.5 647,57.5 648.1,53 649.3,47.5 650.4,42.9 651.6,41.1 652.8,42.9 653.9,47.5 655.1,53 656.2,57.5 657.4,60.5 658.6,62 659.7,62.7 660.9,62.9 662,63 663.2,63 664.4,63 665.5,63 666.7,63 667.8,63 669,63 670.2,63 671.3,63 672.5,63 673.6,63 674.8,63" fill="none" stroke="#4d84ff" stroke-width="1.1" stroke-linejoin="round"/>
<polyline points="628.4,56.8 629.6,56.5 630.7,56.6 631.9,56.6 633,56.5 634.2,56.1 635.4,56.2 636.5,55.9 637.7,56 638.8,55.5 640,54.9 641.2,54.3 642.3,53.5 643.5,52.9 644.6,52.1 645.8,51.4 647,50.4 648.1,48.8 649.3,46 650.4,43.2 651.6,42.1 652.8,43.3 653.9,46.3 655.1,48.8 656.2,50.6 657.4,51.5 658.6,52.2 659.7,53.1 660.9,53.9 662,54.4 663.2,54.5 664.4,55.2 665.5,56 666.7,56.5 667.8,56.8 669,56.9 670.2,57.2 671.3,56.9 672.5,56.6 673.6,56.2 674.8,56.5" fill="none" stroke="#3d3fa0" stroke-width="1.1" stroke-linejoin="round"/>
<rect x="628.1" y="21.4" width="47" height="41.8" fill="none" stroke="#8a8a8a" stroke-width="0.7"/>
<line x1="659.6" y1="24.6" x2="667.2" y2="24.6" stroke="#3d3fa0" stroke-width="0.7"/>
<text x="668.2" y="25.9" font-size="3.8" fill="#333">C1</text>
<line x1="659.6" y1="28.9" x2="667.2" y2="28.9" stroke="#4d84ff" stroke-width="0.7"/>
<text x="668.2" y="30.2" font-size="3.8" fill="#333">C2</text>
<line x1="659.6" y1="33.2" x2="667.2" y2="33.2" stroke="#3fe3cf" stroke-width="0.7"/>
<text x="668.2" y="34.5" font-size="3.8" fill="#333">C3</text>
<line x1="659.6" y1="37.5" x2="667.2" y2="37.5" stroke="#cdf03c" stroke-width="0.7"/>
<text x="668.2" y="38.8" font-size="3.8" fill="#333">C4</text>
<line x1="659.6" y1="41.8" x2="667.2" y2="41.8" stroke="#ff8a3a" stroke-width="0.7"/>
<text x="668.2" y="43.1" font-size="3.8" fill="#333">C5</text>
<defs><linearGradient id="h0_0"><stop offset="0" stop-opacity=".00"/><stop offset="0.1" stop-opacity=".00"/><stop offset="0.2" stop-opacity=".00"/><stop offset="0.3" stop-opacity=".00"/><stop offset="0.4" stop-opacity=".27"/><stop offset="0.5" stop-opacity=".05"/><stop offset="0.6" stop-opacity=".00"/><stop offset="0.7" stop-opacity=".00"/><stop offset="0.8" stop-opacity=".00"/><stop offset="0.9" stop-opacity=".00"/><stop offset="1" stop-opacity=".00"/></linearGradient><linearGradient id="h0_1"><stop offset="0" stop-opacity=".00"/><stop offset="0.1" stop-opacity=".00"/><stop offset="0.2" stop-opacity=".00"/><stop offset="0.3" stop-opacity=".00"/><stop offset="0.4" stop-opacity=".02"/><stop offset="0.5" stop-opacity=".48"/><stop offset="0.6" stop-opacity=".00"/><stop offset="0.7" stop-opacity=".00"/><stop offset="0.8" stop-opacity=".00"/><stop offset="0.9" stop-opacity=".00"/><stop offset="1" stop-opacity=".00"/></linearGradient><linearGradient id="h0_2"><stop offset="0" stop-opacity=".00"/><stop offset="0.1" stop-opacity=".00"/><stop offset="0.2" stop-opacity=".00"/><stop offset="0.3" stop-opacity=".00"/><stop offset="0.4" stop-opacity=".00"/><stop offset="0.5" stop-opacity="1"/><stop offset="0.6" stop-opacity=".00"/><stop offset="0.7" stop-opacity=".00"/><stop offset="0.8" stop-opacity=".00"/><stop offset="0.9" stop-opacity=".00"/><stop offset="1" stop-opacity=".00"/></linearGradient><linearGradient id="h0_3"><stop offset="0" stop-opacity=".00"/><stop offset="0.1" stop-opacity=".00"/><stop offset="0.2" stop-opacity=".00"/><stop offset="0.3" stop-opacity=".00"/><stop offset="0.4" stop-opacity=".00"/><stop offset="0.5" stop-opacity=".48"/><stop offset="0.6" stop-opacity=".02"/><stop offset="0.7" stop-opacity=".00"/><stop offset="0.8" stop-opacity=".00"/><stop offset="0.9" stop-opacity=".00"/><stop offset="1" stop-opacity=".00"/></linearGradient><linearGradient id="h0_4"><stop offset="0" stop-opacity=".00"/><stop offset="0.1" stop-opacity=".00"/><stop offset="0.2" stop-opacity=".00"/><stop offset="0.3" stop-opacity=".00"/><stop offset="0.4" stop-opacity=".00"/><stop offset="0.5" stop-opacity=".05"/><stop offset="0.6" stop-opacity=".27"/><stop offset="0.7" stop-opacity=".00"/><stop offset="0.8" stop-opacity=".00"/><stop offset="0.9" stop-opacity=".00"/><stop offset="1" stop-opacity=".00"/></linearGradient><linearGradient id="h1_0"><stop offset="0" stop-opacity=".00"/><stop offset="0.1" stop-opacity=".00"/><stop offset="0.2" stop-opacity=".00"/><stop offset="0.3" stop-opacity=".00"/><stop offset="0.4" stop-opacity=".45"/><stop offset="0.5" stop-opacity=".17"/><stop offset="0.6" stop-opacity=".00"/><stop offset="0.7" stop-opacity=".00"/><stop offset="0.8" stop-opacity=".00"/><stop offset="0.9" stop-opacity=".00"/><stop offset="1" stop-opacity=".00"/></linearGradient><linearGradient id="h1_1"><stop offset="0" stop-opacity=".00"/><stop offset="0.1" stop-opacity=".00"/><stop offset="0.2" stop-opacity=".00"/><stop offset="0.3" stop-opacity=".00"/><stop offset="0.4" stop-opacity=".09"/><stop offset="0.5" stop-opacity=".64"/><stop offset="0.6" stop-opacity=".00"/><stop offset="0.7" stop-opacity=".00"/><stop offset="0.8" stop-opacity=".00"/><stop offset="0.9" stop-opacity=".00"/><stop offset="1" stop-opacity=".00"/></linearGradient><linearGradient id="h1_2"><stop offset="0" stop-opacity=".00"/><stop offset="0.1" stop-opacity=".00"/><stop offset="0.2" stop-opacity=".00"/><stop offset="0.3" stop-opacity=".00"/><stop offset="0.4" stop-opacity=".01"/><stop offset="0.5" stop-opacity="1"/><stop offset="0.6" stop-opacity=".01"/><stop offset="0.7" stop-opacity=".00"/><stop offset="0.8" stop-opacity=".00"/><stop offset="0.9" stop-opacity=".00"/><stop offset="1" stop-opacity=".00"/></linearGradient><linearGradient id="h1_3"><stop offset="0" stop-opacity=".00"/><stop offset="0.1" stop-opacity=".00"/><stop offset="0.2" stop-opacity=".00"/><stop offset="0.3" stop-opacity=".00"/><stop offset="0.4" stop-opacity=".00"/><stop offset="0.5" stop-opacity=".64"/><stop offset="0.6" stop-opacity=".09"/><stop offset="0.7" stop-opacity=".00"/><stop offset="0.8" stop-opacity=".00"/><stop offset="0.9" stop-opacity=".00"/><stop offset="1" stop-opacity=".00"/></linearGradient><linearGradient id="h1_4"><stop offset="0" stop-opacity=".00"/><stop offset="0.1" stop-opacity=".00"/><stop offset="0.2" stop-opacity=".00"/><stop offset="0.3" stop-opacity=".00"/><stop offset="0.4" stop-opacity=".00"/><stop offset="0.5" stop-opacity=".17"/><stop offset="0.6" stop-opacity=".45"/><stop offset="0.7" stop-opacity=".00"/><stop offset="0.8" stop-opacity=".00"/><stop offset="0.9" stop-opacity=".00"/><stop offset="1" stop-opacity=".00"/></linearGradient><linearGradient id="h2_0"><stop offset="0" stop-opacity=".00"/><stop offset="0.1" stop-opacity=".00"/><stop offset="0.2" stop-opacity=".00"/><stop offset="0.3" stop-opacity=".00"/><stop offset="0.4" stop-opacity=".59"/><stop offset="0.5" stop-opacity=".30"/><stop offset="0.6" stop-opacity=".00"/><stop offset="0.7" stop-opacity=".00"/><stop offset="0.8" stop-opacity=".00"/><stop offset="0.9" stop-opacity=".00"/><stop offset="1" stop-opacity=".00"/></linearGradient><linearGradient id="h2_1"><stop offset="0" stop-opacity=".00"/><stop offset="0.1" stop-opacity=".00"/><stop offset="0.2" stop-opacity=".00"/><stop offset="0.3" stop-opacity=".00"/><stop offset="0.4" stop-opacity=".20"/><stop offset="0.5" stop-opacity=".74"/><stop offset="0.6" stop-opacity=".00"/><stop offset="0.7" stop-opacity=".00"/><stop offset="0.8" stop-opacity=".00"/><stop offset="0.9" stop-opacity=".00"/><stop offset="1" stop-opacity=".00"/></linearGradient><linearGradient id="h2_2"><stop offset="0" stop-opacity=".00"/><stop offset="0.1" stop-opacity=".00"/><stop offset="0.2" stop-opacity=".00"/><stop offset="0.3" stop-opacity=".00"/><stop offset="0.4" stop-opacity=".04"/><stop offset="0.5" stop-opacity="1"/><stop offset="0.6" stop-opacity=".04"/><stop offset="0.7" stop-opacity=".00"/><stop offset="0.8" stop-opacity=".00"/><stop offset="0.9" stop-opacity=".00"/><stop offset="1" stop-opacity=".00"/></linearGradient><linearGradient id="h2_3"><stop offset="0" stop-opacity=".00"/><stop offset="0.1" stop-opacity=".00"/><stop offset="0.2" stop-opacity=".00"/><stop offset="0.3" stop-opacity=".00"/><stop offset="0.4" stop-opacity=".00"/><stop offset="0.5" stop-opacity=".74"/><stop offset="0.6" stop-opacity=".20"/><stop offset="0.7" stop-opacity=".00"/><stop offset="0.8" stop-opacity=".00"/><stop offset="0.9" stop-opacity=".00"/><stop offset="1" stop-opacity=".00"/></linearGradient><linearGradient id="h2_4"><stop offset="0" stop-opacity=".00"/><stop offset="0.1" stop-opacity=".00"/><stop offset="0.2" stop-opacity=".00"/><stop offset="0.3" stop-opacity=".00"/><stop offset="0.4" stop-opacity=".00"/><stop offset="0.5" stop-opacity=".30"/><stop offset="0.6" stop-opacity=".59"/><stop offset="0.7" stop-opacity=".00"/><stop offset="0.8" stop-opacity=".00"/><stop offset="0.9" stop-opacity=".00"/><stop offset="1" stop-opacity=".00"/></linearGradient><linearGradient id="h3_0"><stop offset="0" stop-opacity=".00"/><stop offset="0.1" stop-opacity=".00"/><stop offset="0.2" stop-opacity=".00"/><stop offset="0.3" stop-opacity=".01"/><stop offset="0.4" stop-opacity=".68"/><stop offset="0.5" stop-opacity=".43"/><stop offset="0.6" stop-opacity=".00"/><stop offset="0.7" stop-opacity=".00"/><stop offset="0.8" stop-opacity=".00"/><stop offset="0.9" stop-opacity=".00"/><stop offset="1" stop-opacity=".00"/></linearGradient><linearGradient id="h3_1"><stop offset="0" stop-opacity=".00"/><stop offset="0.1" stop-opacity=".00"/><stop offset="0.2" stop-opacity=".00"/><stop offset="0.3" stop-opacity=".00"/><stop offset="0.4" stop-opacity=".31"/><stop offset="0.5" stop-opacity=".81"/><stop offset="0.6" stop-opacity=".02"/><stop offset="0.7" stop-opacity=".00"/><stop offset="0.8" stop-opacity=".00"/><stop offset="0.9" stop-opacity=".00"/><stop offset="1" stop-opacity=".00"/></linearGradient><linearGradient id="h3_2"><stop offset="0" stop-opacity=".00"/><stop offset="0.1" stop-opacity=".00"/><stop offset="0.2" stop-opacity=".00"/><stop offset="0.3" stop-opacity=".00"/><stop offset="0.4" stop-opacity=".09"/><stop offset="0.5" stop-opacity="1"/><stop offset="0.6" stop-opacity=".09"/><stop offset="0.7" stop-opacity=".00"/><stop offset="0.8" stop-opacity=".00"/><stop offset="0.9" stop-opacity=".00"/><stop offset="1" stop-opacity=".00"/></linearGradient><linearGradient id="h3_3"><stop offset="0" stop-opacity=".00"/><stop offset="0.1" stop-opacity=".00"/><stop offset="0.2" stop-opacity=".00"/><stop offset="0.3" stop-opacity=".00"/><stop offset="0.4" stop-opacity=".02"/><stop offset="0.5" stop-opacity=".81"/><stop offset="0.6" stop-opacity=".31"/><stop offset="0.7" stop-opacity=".00"/><stop offset="0.8" stop-opacity=".00"/><stop offset="0.9" stop-opacity=".00"/><stop offset="1" stop-opacity=".00"/></linearGradient><linearGradient id="h3_4"><stop offset="0" stop-opacity=".00"/><stop offset="0.1" stop-opacity=".00"/><stop offset="0.2" stop-opacity=".00"/><stop offset="0.3" stop-opacity=".00"/><stop offset="0.4" stop-opacity=".00"/><stop offset="0.5" stop-opacity=".43"/><stop offset="0.6" stop-opacity=".68"/><stop offset="0.7" stop-opacity=".01"/><stop offset="0.8" stop-opacity=".00"/><stop offset="0.9" stop-opacity=".00"/><stop offset="1" stop-opacity=".00"/></linearGradient><linearGradient id="h4_0"><stop offset="0" stop-opacity=".00"/><stop offset="0.1" stop-opacity=".00"/><stop offset="0.2" stop-opacity=".00"/><stop offset="0.3" stop-opacity=".03"/><stop offset="0.4" stop-opacity=".75"/><stop offset="0.5" stop-opacity=".53"/><stop offset="0.6" stop-opacity=".01"/><stop offset="0.7" stop-opacity=".00"/><stop offset="0.8" stop-opacity=".00"/><stop offset="0.9" stop-opacity=".00"/><stop offset="1" stop-opacity=".00"/></linearGradient><linearGradient id="h4_1"><stop offset="0" stop-opacity=".00"/><stop offset="0.1" stop-opacity=".00"/><stop offset="0.2" stop-opacity=".00"/><stop offset="0.3" stop-opacity=".01"/><stop offset="0.4" stop-opacity=".42"/><stop offset="0.5" stop-opacity=".85"/><stop offset="0.6" stop-opacity=".05"/><stop offset="0.7" stop-opacity=".00"/><stop offset="0.8" stop-opacity=".00"/><stop offset="0.9" stop-opacity=".00"/><stop offset="1" stop-opacity=".00"/></linearGradient><linearGradient id="h4_2"><stop offset="0" stop-opacity=".00"/><stop offset="0.1" stop-opacity=".00"/><stop offset="0.2" stop-opacity=".00"/><stop offset="0.3" stop-opacity=".00"/><stop offset="0.4" stop-opacity=".17"/><stop offset="0.5" stop-opacity="1"/><stop offset="0.6" stop-opacity=".17"/><stop offset="0.7" stop-opacity=".00"/><stop offset="0.8" stop-opacity=".00"/><stop offset="0.9" stop-opacity=".00"/><stop offset="1" stop-opacity=".00"/></linearGradient><linearGradient id="h4_3"><stop offset="0" stop-opacity=".00"/><stop offset="0.1" stop-opacity=".00"/><stop offset="0.2" stop-opacity=".00"/><stop offset="0.3" stop-opacity=".00"/><stop offset="0.4" stop-opacity=".05"/><stop offset="0.5" stop-opacity=".85"/><stop offset="0.6" stop-opacity=".42"/><stop offset="0.7" stop-opacity=".01"/><stop offset="0.8" stop-opacity=".00"/><stop offset="0.9" stop-opacity=".00"/><stop offset="1" stop-opacity=".00"/></linearGradient><linearGradient id="h4_4"><stop offset="0" stop-opacity=".00"/><stop offset="0.1" stop-opacity=".00"/><stop offset="0.2" stop-opacity=".00"/><stop offset="0.3" stop-opacity=".00"/><stop offset="0.4" stop-opacity=".01"/><stop offset="0.5" stop-opacity=".53"/><stop offset="0.6" stop-opacity=".75"/><stop offset="0.7" stop-opacity=".03"/><stop offset="0.8" stop-opacity=".00"/><stop offset="0.9" stop-opacity=".00"/><stop offset="1" stop-opacity=".00"/></linearGradient><linearGradient id="h5_0"><stop offset="0" stop-opacity=".00"/><stop offset="0.1" stop-opacity=".00"/><stop offset="0.2" stop-opacity=".00"/><stop offset="0.3" stop-opacity=".09"/><stop offset="0.4" stop-opacity=".82"/><stop offset="0.5" stop-opacity=".64"/><stop offset="0.6" stop-opacity=".04"/><stop offset="0.7" stop-opacity=".00"/><stop offset="0.8" stop-opacity=".00"/><stop offset="0.9" stop-opacity=".00"/><stop offset="1" stop-opacity=".00"/></linearGradient><linearGradient id="h5_1"><stop offset="0" stop-opacity=".00"/><stop offset="0.1" stop-opacity=".00"/><stop offset="0.2" stop-opacity=".00"/><stop offset="0.3" stop-opacity=".03"/><stop offset="0.4" stop-opacity=".55"/><stop offset="0.5" stop-opacity=".89"/><stop offset="0.6" stop-opacity=".12"/><stop offset="0.7" stop-opacity=".00"/><stop offset="0.8" stop-opacity=".00"/><stop offset="0.9" stop-opacity=".00"/><stop offset="1" stop-opacity=".00"/></linearGradient><linearGradient id="h5_2"><stop offset="0" stop-opacity=".00"/><stop offset="0.1" stop-opacity=".00"/><stop offset="0.2" stop-opacity=".00"/><stop offset="0.3" stop-opacity=".01"/><stop offset="0.4" stop-opacity=".29"/><stop offset="0.5" stop-opacity="1"/><stop offset="0.6" stop-opacity=".29"/><stop offset="0.7" stop-opacity=".01"/><stop offset="0.8" stop-opacity=".00"/><stop offset="0.9" stop-opacity=".00"/><stop offset="1" stop-opacity=".00"/></linearGradient><linearGradient id="h5_3"><stop offset="0" stop-opacity=".00"/><stop offset="0.1" stop-opacity=".00"/><stop offset="0.2" stop-opacity=".00"/><stop offset="0.3" stop-opacity=".00"/><stop offset="0.4" stop-opacity=".12"/><stop offset="0.5" stop-opacity=".89"/><stop offset="0.6" stop-opacity=".55"/><stop offset="0.7" stop-opacity=".03"/><stop offset="0.8" stop-opacity=".00"/><stop offset="0.9" stop-opacity=".00"/><stop offset="1" stop-opacity=".00"/></linearGradient><linearGradient id="h5_4"><stop offset="0" stop-opacity=".00"/><stop offset="0.1" stop-opacity=".00"/><stop offset="0.2" stop-opacity=".00"/><stop offset="0.3" stop-opacity=".00"/><stop offset="0.4" stop-opacity=".04"/><stop offset="0.5" stop-opacity=".64"/><stop offset="0.6" stop-opacity=".82"/><stop offset="0.7" stop-opacity=".09"/><stop offset="0.8" stop-opacity=".00"/><stop offset="0.9" stop-opacity=".00"/><stop offset="1" stop-opacity=".00"/></linearGradient><linearGradient id="h6_0"><stop offset="0" stop-opacity=".00"/><stop offset="0.1" stop-opacity=".00"/><stop offset="0.2" stop-opacity=".01"/><stop offset="0.3" stop-opacity=".17"/><stop offset="0.4" stop-opacity=".86"/><stop offset="0.5" stop-opacity=".72"/><stop offset="0.6" stop-opacity=".10"/><stop offset="0.7" stop-opacity=".00"/><stop offset="0.8" stop-opacity=".00"/><stop offset="0.9" stop-opacity=".00"/><stop offset="1" stop-opacity=".00"/></linearGradient><linearGradient id="h6_1"><stop offset="0" stop-opacity=".00"/><stop offset="0.1" stop-opacity=".00"/><stop offset="0.2" stop-opacity=".00"/><stop offset="0.3" stop-opacity=".07"/><stop offset="0.4" stop-opacity=".64"/><stop offset="0.5" stop-opacity=".92"/><stop offset="0.6" stop-opacity=".22"/><stop offset="0.7" stop-opacity=".01"/><stop offset="0.8" stop-opacity=".00"/><stop offset="0.9" stop-opacity=".00"/><stop offset="1" stop-opacity=".00"/></linearGradient><linearGradient id="h6_2"><stop offset="0" stop-opacity=".00"/><stop offset="0.1" stop-opacity=".00"/><stop offset="0.2" stop-opacity=".00"/><stop offset="0.3" stop-opacity=".03"/><stop offset="0.4" stop-opacity=".40"/><stop offset="0.5" stop-opacity="1"/><stop offset="0.6" stop-opacity=".40"/><stop offset="0.7" stop-opacity=".03"/><stop offset="0.8" stop-opacity=".00"/><stop offset="0.9" stop-opacity=".00"/><stop offset="1" stop-opacity=".00"/></linearGradient><linearGradient id="h6_3"><stop offset="0" stop-opacity=".00"/><stop offset="0.1" stop-opacity=".00"/><stop offset="0.2" stop-opacity=".00"/><stop offset="0.3" stop-opacity=".01"/><stop offset="0.4" stop-opacity=".22"/><stop offset="0.5" stop-opacity=".92"/><stop offset="0.6" stop-opacity=".64"/><stop offset="0.7" stop-opacity=".07"/><stop offset="0.8" stop-opacity=".00"/><stop offset="0.9" stop-opacity=".00"/><stop offset="1" stop-opacity=".00"/></linearGradient><linearGradient id="h6_4"><stop offset="0" stop-opacity=".00"/><stop offset="0.1" stop-opacity=".00"/><stop offset="0.2" stop-opacity=".00"/><stop offset="0.3" stop-opacity=".00"/><stop offset="0.4" stop-opacity=".10"/><stop offset="0.5" stop-opacity=".72"/><stop offset="0.6" stop-opacity=".86"/><stop offset="0.7" stop-opacity=".17"/><stop offset="0.8" stop-opacity=".01"/><stop offset="0.9" stop-opacity=".00"/><stop offset="1" stop-opacity=".00"/></linearGradient><linearGradient id="h7_0"><stop offset="0" stop-opacity=".00"/><stop offset="0.1" stop-opacity=".00"/><stop offset="0.2" stop-opacity=".02"/><stop offset="0.3" stop-opacity=".26"/><stop offset="0.4" stop-opacity=".89"/><stop offset="0.5" stop-opacity=".78"/><stop offset="0.6" stop-opacity=".17"/><stop offset="0.7" stop-opacity=".01"/><stop offset="0.8" stop-opacity=".00"/><stop offset="0.9" stop-opacity=".00"/><stop offset="1" stop-opacity=".00"/></linearGradient><linearGradient id="h7_1"><stop offset="0" stop-opacity=".00"/><stop offset="0.1" stop-opacity=".00"/><stop offset="0.2" stop-opacity=".01"/><stop offset="0.3" stop-opacity=".13"/><stop offset="0.4" stop-opacity=".71"/><stop offset="0.5" stop-opacity=".94"/><stop offset="0.6" stop-opacity=".31"/><stop offset="0.7" stop-opacity=".03"/><stop offset="0.8" stop-opacity=".00"/><stop offset="0.9" stop-opacity=".00"/><stop offset="1" stop-opacity=".00"/></linearGradient><linearGradient id="h7_2"><stop offset="0" stop-opacity=".00"/><stop offset="0.1" stop-opacity=".00"/><stop offset="0.2" stop-opacity=".00"/><stop offset="0.3" stop-opacity=".06"/><stop offset="0.4" stop-opacity=".50"/><stop offset="0.5" stop-opacity="1"/><stop offset="0.6" stop-opacity=".50"/><stop offset="0.7" stop-opacity=".06"/><stop offset="0.8" stop-opacity=".00"/><stop offset="0.9" stop-opacity=".00"/><stop offset="1" stop-opacity=".00"/></linearGradient><linearGradient id="h7_3"><stop offset="0" stop-opacity=".00"/><stop offset="0.1" stop-opacity=".00"/><stop offset="0.2" stop-opacity=".00"/><stop offset="0.3" stop-opacity=".03"/><stop offset="0.4" stop-opacity=".31"/><stop offset="0.5" stop-opacity=".94"/><stop offset="0.6" stop-opacity=".71"/><stop offset="0.7" stop-opacity=".13"/><stop offset="0.8" stop-opacity=".01"/><stop offset="0.9" stop-opacity=".00"/><stop offset="1" stop-opacity=".00"/></linearGradient><linearGradient id="h7_4"><stop offset="0" stop-opacity=".00"/><stop offset="0.1" stop-opacity=".00"/><stop offset="0.2" stop-opacity=".00"/><stop offset="0.3" stop-opacity=".01"/><stop offset="0.4" stop-opacity=".17"/><stop offset="0.5" stop-opacity=".78"/><stop offset="0.6" stop-opacity=".89"/><stop offset="0.7" stop-opacity=".26"/><stop offset="0.8" stop-opacity=".02"/><stop offset="0.9" stop-opacity=".00"/><stop offset="1" stop-opacity=".00"/></linearGradient><linearGradient id="h8_0"><stop offset="0" stop-opacity=".00"/><stop offset="0.1" stop-opacity=".00"/><stop offset="0.2" stop-opacity=".05"/><stop offset="0.3" stop-opacity=".37"/><stop offset="0.4" stop-opacity=".92"/><stop offset="0.5" stop-opacity=".83"/><stop offset="0.6" stop-opacity=".27"/><stop offset="0.7" stop-opacity=".03"/><stop offset="0.8" stop-opacity=".00"/><stop offset="0.9" stop-opacity=".00"/><stop offset="1" stop-opacity=".00"/></linearGradient><linearGradient id="h8_1"><stop offset="0" stop-opacity=".00"/><stop offset="0.1" stop-opacity=".00"/><stop offset="0.2" stop-opacity=".02"/><stop offset="0.3" stop-opacity=".23"/><stop offset="0.4" stop-opacity=".78"/><stop offset="0.5" stop-opacity=".96"/><stop offset="0.6" stop-opacity=".42"/><stop offset="0.7" stop-opacity=".07"/><stop offset="0.8" stop-opacity=".00"/><stop offset="0.9" stop-opacity=".00"/><stop offset="1" stop-opacity=".00"/></linearGradient><linearGradient id="h8_2"><stop offset="0" stop-opacity=".00"/><stop offset="0.1" stop-opacity=".00"/><stop offset="0.2" stop-opacity=".01"/><stop offset="0.3" stop-opacity=".13"/><stop offset="0.4" stop-opacity=".60"/><stop offset="0.5" stop-opacity="1"/><stop offset="0.6" stop-opacity=".60"/><stop offset="0.7" stop-opacity=".13"/><stop offset="0.8" stop-opacity=".01"/><stop offset="0.9" stop-opacity=".00"/><stop offset="1" stop-opacity=".00"/></linearGradient><linearGradient id="h8_3"><stop offset="0" stop-opacity=".00"/><stop offset="0.1" stop-opacity=".00"/><stop offset="0.2" stop-opacity=".00"/><stop offset="0.3" stop-opacity=".07"/><stop offset="0.4" stop-opacity=".42"/><stop offset="0.5" stop-opacity=".96"/><stop offset="0.6" stop-opacity=".78"/><stop offset="0.7" stop-opacity=".23"/><stop offset="0.8" stop-opacity=".02"/><stop offset="0.9" stop-opacity=".00"/><stop offset="1" stop-opacity=".00"/></linearGradient><linearGradient id="h8_4"><stop offset="0" stop-opacity=".00"/><stop offset="0.1" stop-opacity=".00"/><stop offset="0.2" stop-opacity=".00"/><stop offset="0.3" stop-opacity=".03"/><stop offset="0.4" stop-opacity=".27"/><stop offset="0.5" stop-opacity=".83"/><stop offset="0.6" stop-opacity=".92"/><stop offset="0.7" stop-opacity=".37"/><stop offset="0.8" stop-opacity=".05"/><stop offset="0.9" stop-opacity=".00"/><stop offset="1" stop-opacity=".00"/></linearGradient><linearGradient id="h9_0"><stop offset="0" stop-opacity=".00"/><stop offset="0.1" stop-opacity=".01"/><stop offset="0.2" stop-opacity=".12"/><stop offset="0.3" stop-opacity=".49"/><stop offset="0.4" stop-opacity=".94"/><stop offset="0.5" stop-opacity=".88"/><stop offset="0.6" stop-opacity=".39"/><stop offset="0.7" stop-opacity=".08"/><stop offset="0.8" stop-opacity=".01"/><stop offset="0.9" stop-opacity=".00"/><stop offset="1" stop-opacity=".00"/></linearGradient><linearGradient id="h9_1"><stop offset="0" stop-opacity=".00"/><stop offset="0.1" stop-opacity=".01"/><stop offset="0.2" stop-opacity=".07"/><stop offset="0.3" stop-opacity=".35"/><stop offset="0.4" stop-opacity=".84"/><stop offset="0.5" stop-opacity=".97"/><stop offset="0.6" stop-opacity=".54"/><stop offset="0.7" stop-opacity=".14"/><stop offset="0.8" stop-opacity=".02"/><stop offset="0.9" stop-opacity=".00"/><stop offset="1" stop-opacity=".00"/></linearGradient><linearGradient id="h9_2"><stop offset="0" stop-opacity=".00"/><stop offset="0.1" stop-opacity=".00"/><stop offset="0.2" stop-opacity=".04"/><stop offset="0.3" stop-opacity=".23"/><stop offset="0.4" stop-opacity=".69"/><stop offset="0.5" stop-opacity="1"/><stop offset="0.6" stop-opacity=".69"/><stop offset="0.7" stop-opacity=".23"/><stop offset="0.8" stop-opacity=".04"/><stop offset="0.9" stop-opacity=".00"/><stop offset="1" stop-opacity=".00"/></linearGradient><linearGradient id="h9_3"><stop offset="0" stop-opacity=".00"/><stop offset="0.1" stop-opacity=".00"/><stop offset="0.2" stop-opacity=".02"/><stop offset="0.3" stop-opacity=".14"/><stop offset="0.4" stop-opacity=".54"/><stop offset="0.5" stop-opacity=".97"/><stop offset="0.6" stop-opacity=".84"/><stop offset="0.7" stop-opacity=".35"/><stop offset="0.8" stop-opacity=".07"/><stop offset="0.9" stop-opacity=".01"/><stop offset="1" stop-opacity=".00"/></linearGradient><linearGradient id="h9_4"><stop offset="0" stop-opacity=".00"/><stop offset="0.1" stop-opacity=".00"/><stop offset="0.2" stop-opacity=".01"/><stop offset="0.3" stop-opacity=".08"/><stop offset="0.4" stop-opacity=".39"/><stop offset="0.5" stop-opacity=".88"/><stop offset="0.6" stop-opacity=".94"/><stop offset="0.7" stop-opacity=".49"/><stop offset="0.8" stop-opacity=".12"/><stop offset="0.9" stop-opacity=".01"/><stop offset="1" stop-opacity=".00"/></linearGradient><linearGradient id="h10_0"><stop offset="0" stop-opacity=".00"/><stop offset="0.1" stop-opacity=".04"/><stop offset="0.2" stop-opacity=".20"/><stop offset="0.3" stop-opacity=".58"/><stop offset="0.4" stop-opacity=".96"/><stop offset="0.5" stop-opacity=".91"/><stop offset="0.6" stop-opacity=".49"/><stop offset="0.7" stop-opacity=".15"/><stop offset="0.8" stop-opacity=".03"/><stop offset="0.9" stop-opacity=".00"/><stop offset="1" stop-opacity=".00"/></linearGradient><linearGradient id="h10_1"><stop offset="0" stop-opacity=".00"/><stop offset="0.1" stop-opacity=".02"/><stop offset="0.2" stop-opacity=".13"/><stop offset="0.3" stop-opacity=".45"/><stop offset="0.4" stop-opacity=".87"/><stop offset="0.5" stop-opacity=".98"/><stop offset="0.6" stop-opacity=".63"/><stop offset="0.7" stop-opacity=".23"/><stop offset="0.8" stop-opacity=".05"/><stop offset="0.9" stop-opacity=".01"/><stop offset="1" stop-opacity=".00"/></linearGradient><linearGradient id="h10_2"><stop offset="0" stop-opacity=".00"/><stop offset="0.1" stop-opacity=".01"/><stop offset="0.2" stop-opacity=".08"/><stop offset="0.3" stop-opacity=".33"/><stop offset="0.4" stop-opacity=".76"/><stop offset="0.5" stop-opacity="1"/><stop offset="0.6" stop-opacity=".76"/><stop offset="0.7" stop-opacity=".33"/><stop offset="0.8" stop-opacity=".08"/><stop offset="0.9" stop-opacity=".01"/><stop offset="1" stop-opacity=".00"/></linearGradient><linearGradient id="h10_3"><stop offset="0" stop-opacity=".00"/><stop offset="0.1" stop-opacity=".01"/><stop offset="0.2" stop-opacity=".05"/><stop offset="0.3" stop-opacity=".23"/><stop offset="0.4" stop-opacity=".63"/><stop offset="0.5" stop-opacity=".98"/><stop offset="0.6" stop-opacity=".87"/><stop offset="0.7" stop-opacity=".45"/><stop offset="0.8" stop-opacity=".13"/><stop offset="0.9" stop-opacity=".02"/><stop offset="1" stop-opacity=".00"/></linearGradient><linearGradient id="h10_4"><stop offset="0" stop-opacity=".00"/><stop offset="0.1" stop-opacity=".00"/><stop offset="0.2" stop-opacity=".03"/><stop offset="0.3" stop-opacity=".15"/><stop offset="0.4" stop-opacity=".49"/><stop offset="0.5" stop-opacity=".91"/><stop offset="0.6" stop-opacity=".96"/><stop offset="0.7" stop-opacity=".58"/><stop offset="0.8" stop-opacity=".20"/><stop offset="0.9" stop-opacity=".04"/><stop offset="1" stop-opacity=".00"/></linearGradient><linearGradient id="h11_0"><stop offset="0" stop-opacity=".02"/><stop offset="0.1" stop-opacity=".09"/><stop offset="0.2" stop-opacity=".30"/><stop offset="0.3" stop-opacity=".67"/><stop offset="0.4" stop-opacity=".97"/><stop offset="0.5" stop-opacity=".93"/><stop offset="0.6" stop-opacity=".59"/><stop offset="0.7" stop-opacity=".25"/><stop offset="0.8" stop-opacity=".07"/><stop offset="0.9" stop-opacity=".01"/><stop offset="1" stop-opacity=".00"/></linearGradient><linearGradient id="h11_1"><stop offset="0" stop-opacity=".01"/><stop offset="0.1" stop-opacity=".06"/><stop offset="0.2" stop-opacity=".22"/><stop offset="0.3" stop-opacity=".55"/><stop offset="0.4" stop-opacity=".90"/><stop offset="0.5" stop-opacity=".98"/><stop offset="0.6" stop-opacity=".71"/><stop offset="0.7" stop-opacity=".34"/><stop offset="0.8" stop-opacity=".11"/><stop offset="0.9" stop-opacity=".02"/><stop offset="1" stop-opacity=".00"/></linearGradient><linearGradient id="h11_2"><stop offset="0" stop-opacity=".01"/><stop offset="0.1" stop-opacity=".04"/><stop offset="0.2" stop-opacity=".16"/><stop offset="0.3" stop-opacity=".44"/><stop offset="0.4" stop-opacity=".81"/><stop offset="0.5" stop-opacity="1"/><stop offset="0.6" stop-opacity=".81"/><stop offset="0.7" stop-opacity=".44"/><stop offset="0.8" stop-opacity=".16"/><stop offset="0.9" stop-opacity=".04"/><stop offset="1" stop-opacity=".01"/></linearGradient><linearGradient id="h11_3"><stop offset="0" stop-opacity=".00"/><stop offset="0.1" stop-opacity=".02"/><stop offset="0.2" stop-opacity=".11"/><stop offset="0.3" stop-opacity=".34"/><stop offset="0.4" stop-opacity=".71"/><stop offset="0.5" stop-opacity=".98"/><stop offset="0.6" stop-opacity=".90"/><stop offset="0.7" stop-opacity=".55"/><stop offset="0.8" stop-opacity=".22"/><stop offset="0.9" stop-opacity=".06"/><stop offset="1" stop-opacity=".01"/></linearGradient><linearGradient id="h11_4"><stop offset="0" stop-opacity=".00"/><stop offset="0.1" stop-opacity=".01"/><stop offset="0.2" stop-opacity=".07"/><stop offset="0.3" stop-opacity=".25"/><stop offset="0.4" stop-opacity=".59"/><stop offset="0.5" stop-opacity=".93"/><stop offset="0.6" stop-opacity=".97"/><stop offset="0.7" stop-opacity=".67"/><stop offset="0.8" stop-opacity=".30"/><stop offset="0.9" stop-opacity=".09"/><stop offset="1" stop-opacity=".02"/></linearGradient><linearGradient id="h12_0"><stop offset="0" stop-opacity=".06"/><stop offset="0.1" stop-opacity=".18"/><stop offset="0.2" stop-opacity=".43"/><stop offset="0.3" stop-opacity=".75"/><stop offset="0.4" stop-opacity=".98"/><stop offset="0.5" stop-opacity=".95"/><stop offset="0.6" stop-opacity=".68"/><stop offset="0.7" stop-opacity=".37"/><stop offset="0.8" stop-opacity=".15"/><stop offset="0.9" stop-opacity=".04"/><stop offset="1" stop-opacity=".01"/></linearGradient><linearGradient id="h12_1"><stop offset="0" stop-opacity=".04"/><stop offset="0.1" stop-opacity=".13"/><stop offset="0.2" stop-opacity=".34"/><stop offset="0.3" stop-opacity=".65"/><stop offset="0.4" stop-opacity=".93"/><stop offset="0.5" stop-opacity=".99"/><stop offset="0.6" stop-opacity=".78"/><stop offset="0.7" stop-opacity=".46"/><stop offset="0.8" stop-opacity=".20"/><stop offset="0.9" stop-opacity=".06"/><stop offset="1" stop-opacity=".02"/></linearGradient><linearGradient id="h12_2"><stop offset="0" stop-opacity=".02"/><stop offset="0.1" stop-opacity=".09"/><stop offset="0.2" stop-opacity=".26"/><stop offset="0.3" stop-opacity=".55"/><stop offset="0.4" stop-opacity=".86"/><stop offset="0.5" stop-opacity="1"/><stop offset="0.6" stop-opacity=".86"/><stop offset="0.7" stop-opacity=".55"/><stop offset="0.8" stop-opacity=".26"/><stop offset="0.9" stop-opacity=".09"/><stop offset="1" stop-opacity=".02"/></linearGradient><linearGradient id="h12_3"><stop offset="0" stop-opacity=".02"/><stop offset="0.1" stop-opacity=".06"/><stop offset="0.2" stop-opacity=".20"/><stop offset="0.3" stop-opacity=".46"/><stop offset="0.4" stop-opacity=".78"/><stop offset="0.5" stop-opacity=".99"/><stop offset="0.6" stop-opacity=".93"/><stop offset="0.7" stop-opacity=".65"/><stop offset="0.8" stop-opacity=".34"/><stop offset="0.9" stop-opacity=".13"/><stop offset="1" stop-opacity=".04"/></linearGradient><linearGradient id="h12_4"><stop offset="0" stop-opacity=".01"/><stop offset="0.1" stop-opacity=".04"/><stop offset="0.2" stop-opacity=".15"/><stop offset="0.3" stop-opacity=".37"/><stop offset="0.4" stop-opacity=".68"/><stop offset="0.5" stop-opacity=".95"/><stop offset="0.6" stop-opacity=".98"/><stop offset="0.7" stop-opacity=".75"/><stop offset="0.8" stop-opacity=".43"/><stop offset="0.9" stop-opacity=".18"/><stop offset="1" stop-opacity=".06"/></linearGradient><linearGradient id="h13_0"><stop offset="0" stop-opacity=".13"/><stop offset="0.1" stop-opacity=".30"/><stop offset="0.2" stop-opacity=".55"/><stop offset="0.3" stop-opacity=".82"/><stop offset="0.4" stop-opacity=".98"/><stop offset="0.5" stop-opacity=".96"/><stop offset="0.6" stop-opacity=".77"/><stop offset="0.7" stop-opacity=".49"/><stop offset="0.8" stop-opacity=".26"/><stop offset="0.9" stop-opacity=".11"/><stop offset="1" stop-opacity=".04"/></linearGradient><linearGradient id="h13_1"><stop offset="0" stop-opacity=".10"/><stop offset="0.1" stop-opacity=".24"/><stop offset="0.2" stop-opacity=".47"/><stop offset="0.3" stop-opacity=".74"/><stop offset="0.4" stop-opacity=".95"/><stop offset="0.5" stop-opacity=".99"/><stop offset="0.6" stop-opacity=".84"/><stop offset="0.7" stop-opacity=".58"/><stop offset="0.8" stop-opacity=".32"/><stop offset="0.9" stop-opacity=".15"/><stop offset="1" stop-opacity=".05"/></linearGradient><linearGradient id="h13_2"><stop offset="0" stop-opacity=".07"/><stop offset="0.1" stop-opacity=".19"/><stop offset="0.2" stop-opacity=".39"/><stop offset="0.3" stop-opacity=".66"/><stop offset="0.4" stop-opacity=".90"/><stop offset="0.5" stop-opacity="1"/><stop offset="0.6" stop-opacity=".90"/><stop offset="0.7" stop-opacity=".66"/><stop offset="0.8" stop-opacity=".39"/><stop offset="0.9" stop-opacity=".19"/><stop offset="1" stop-opacity=".07"/></linearGradient><linearGradient id="h13_3"><stop offset="0" stop-opacity=".05"/><stop offset="0.1" stop-opacity=".15"/><stop offset="0.2" stop-opacity=".32"/><stop offset="0.3" stop-opacity=".58"/><stop offset="0.4" stop-opacity=".84"/><stop offset="0.5" stop-opacity=".99"/><stop offset="0.6" stop-opacity=".95"/><stop offset="0.7" stop-opacity=".74"/><stop offset="0.8" stop-opacity=".47"/><stop offset="0.9" stop-opacity=".24"/><stop offset="1" stop-opacity=".10"/></linearGradient><linearGradient id="h13_4"><stop offset="0" stop-opacity=".04"/><stop offset="0.1" stop-opacity=".11"/><stop offset="0.2" stop-opacity=".26"/><stop offset="0.3" stop-opacity=".49"/><stop offset="0.4" stop-opacity=".77"/><stop offset="0.5" stop-opacity=".96"/><stop offset="0.6" stop-opacity=".98"/><stop offset="0.7" stop-opacity=".82"/><stop offset="0.8" stop-opacity=".55"/><stop offset="0.9" stop-opacity=".30"/><stop offset="1" stop-opacity=".13"/></linearGradient><linearGradient id="h14_0"><stop offset="0" stop-opacity=".26"/><stop offset="0.1" stop-opacity=".45"/><stop offset="0.2" stop-opacity=".67"/><stop offset="0.3" stop-opacity=".87"/><stop offset="0.4" stop-opacity=".99"/><stop offset="0.5" stop-opacity=".98"/><stop offset="0.6" stop-opacity=".84"/><stop offset="0.7" stop-opacity=".63"/><stop offset="0.8" stop-opacity=".41"/><stop offset="0.9" stop-opacity=".23"/><stop offset="1" stop-opacity=".11"/></linearGradient><linearGradient id="h14_1"><stop offset="0" stop-opacity=".22"/><stop offset="0.1" stop-opacity=".39"/><stop offset="0.2" stop-opacity=".60"/><stop offset="0.3" stop-opacity=".82"/><stop offset="0.4" stop-opacity=".97"/><stop offset="0.5" stop-opacity=".99"/><stop offset="0.6" stop-opacity=".89"/><stop offset="0.7" stop-opacity=".69"/><stop offset="0.8" stop-opacity=".47"/><stop offset="0.9" stop-opacity=".28"/><stop offset="1" stop-opacity=".14"/></linearGradient><linearGradient id="h14_2"><stop offset="0" stop-opacity=".18"/><stop offset="0.1" stop-opacity=".33"/><stop offset="0.2" stop-opacity=".54"/><stop offset="0.3" stop-opacity=".76"/><stop offset="0.4" stop-opacity=".93"/><stop offset="0.5" stop-opacity="1"/><stop offset="0.6" stop-opacity=".93"/><stop offset="0.7" stop-opacity=".76"/><stop offset="0.8" stop-opacity=".54"/><stop offset="0.9" stop-opacity=".33"/><stop offset="1" stop-opacity=".18"/></linearGradient><linearGradient id="h14_3"><stop offset="0" stop-opacity=".14"/><stop offset="0.1" stop-opacity=".28"/><stop offset="0.2" stop-opacity=".47"/><stop offset="0.3" stop-opacity=".69"/><stop offset="0.4" stop-opacity=".89"/><stop offset="0.5" stop-opacity=".99"/><stop offset="0.6" stop-opacity=".97"/><stop offset="0.7" stop-opacity=".82"/><stop offset="0.8" stop-opacity=".60"/><stop offset="0.9" stop-opacity=".39"/><stop offset="1" stop-opacity=".22"/></linearGradient><linearGradient id="h14_4"><stop offset="0" stop-opacity=".11"/><stop offset="0.1" stop-opacity=".23"/><stop offset="0.2" stop-opacity=".41"/><stop offset="0.3" stop-opacity=".63"/><stop offset="0.4" stop-opacity=".84"/><stop offset="0.5" stop-opacity=".98"/><stop offset="0.6" stop-opacity=".99"/><stop offset="0.7" stop-opacity=".87"/><stop offset="0.8" stop-opacity=".67"/><stop offset="0.9" stop-opacity=".45"/><stop offset="1" stop-opacity=".26"/></linearGradient><linearGradient id="h15_0"><stop offset="0" stop-opacity=".43"/><stop offset="0.1" stop-opacity=".61"/><stop offset="0.2" stop-opacity=".78"/><stop offset="0.3" stop-opacity=".92"/><stop offset="0.4" stop-opacity=".99"/><stop offset="0.5" stop-opacity=".98"/><stop offset="0.6" stop-opacity=".89"/><stop offset="0.7" stop-opacity=".75"/><stop offset="0.8" stop-opacity=".57"/><stop offset="0.9" stop-opacity=".40"/><stop offset="1" stop-opacity=".26"/></linearGradient><linearGradient id="h15_1"><stop offset="0" stop-opacity=".38"/><stop offset="0.1" stop-opacity=".55"/><stop offset="0.2" stop-opacity=".73"/><stop offset="0.3" stop-opacity=".88"/><stop offset="0.4" stop-opacity=".98"/><stop offset="0.5" stop-opacity="1.00"/><stop offset="0.6" stop-opacity=".93"/><stop offset="0.7" stop-opacity=".79"/><stop offset="0.8" stop-opacity=".62"/><stop offset="0.9" stop-opacity=".45"/><stop offset="1" stop-opacity=".30"/></linearGradient><linearGradient id="h15_2"><stop offset="0" stop-opacity=".34"/><stop offset="0.1" stop-opacity=".50"/><stop offset="0.2" stop-opacity=".68"/><stop offset="0.3" stop-opacity=".84"/><stop offset="0.4" stop-opacity=".96"/><stop offset="0.5" stop-opacity="1"/><stop offset="0.6" stop-opacity=".96"/><stop offset="0.7" stop-opacity=".84"/><stop offset="0.8" stop-opacity=".68"/><stop offset="0.9" stop-opacity=".50"/><stop offset="1" stop-opacity=".34"/></linearGradient><linearGradient id="h15_3"><stop offset="0" stop-opacity=".30"/><stop offset="0.1" stop-opacity=".45"/><stop offset="0.2" stop-opacity=".62"/><stop offset="0.3" stop-opacity=".79"/><stop offset="0.4" stop-opacity=".93"/><stop offset="0.5" stop-opacity="1.00"/><stop offset="0.6" stop-opacity=".98"/><stop offset="0.7" stop-opacity=".88"/><stop offset="0.8" stop-opacity=".73"/><stop offset="0.9" stop-opacity=".55"/><stop offset="1" stop-opacity=".38"/></linearGradient><linearGradient id="h15_4"><stop offset="0" stop-opacity=".26"/><stop offset="0.1" stop-opacity=".40"/><stop offset="0.2" stop-opacity=".57"/><stop offset="0.3" stop-opacity=".75"/><stop offset="0.4" stop-opacity=".89"/><stop offset="0.5" stop-opacity=".98"/><stop offset="0.6" stop-opacity=".99"/><stop offset="0.7" stop-opacity=".92"/><stop offset="0.8" stop-opacity=".78"/><stop offset="0.9" stop-opacity=".61"/><stop offset="1" stop-opacity=".43"/></linearGradient><linearGradient id="h16_0"><stop offset="0" stop-opacity=".63"/><stop offset="0.1" stop-opacity=".76"/><stop offset="0.2" stop-opacity=".87"/><stop offset="0.3" stop-opacity=".95"/><stop offset="0.4" stop-opacity="1.00"/><stop offset="0.5" stop-opacity=".99"/><stop offset="0.6" stop-opacity=".94"/><stop offset="0.7" stop-opacity=".85"/><stop offset="0.8" stop-opacity=".74"/><stop offset="0.9" stop-opacity=".61"/><stop offset="1" stop-opacity=".48"/></linearGradient><linearGradient id="h16_1"><stop offset="0" stop-opacity=".59"/><stop offset="0.1" stop-opacity=".72"/><stop offset="0.2" stop-opacity=".84"/><stop offset="0.3" stop-opacity=".93"/><stop offset="0.4" stop-opacity=".99"/><stop offset="0.5" stop-opacity="1.00"/><stop offset="0.6" stop-opacity=".96"/><stop offset="0.7" stop-opacity=".88"/><stop offset="0.8" stop-opacity=".77"/><stop offset="0.9" stop-opacity=".65"/><stop offset="1" stop-opacity=".51"/></linearGradient><linearGradient id="h16_2"><stop offset="0" stop-opacity=".55"/><stop offset="0.1" stop-opacity=".68"/><stop offset="0.2" stop-opacity=".81"/><stop offset="0.3" stop-opacity=".91"/><stop offset="0.4" stop-opacity=".98"/><stop offset="0.5" stop-opacity="1"/><stop offset="0.6" stop-opacity=".98"/><stop offset="0.7" stop-opacity=".91"/><stop offset="0.8" stop-opacity=".81"/><stop offset="0.9" stop-opacity=".68"/><stop offset="1" stop-opacity=".55"/></linearGradient><linearGradient id="h16_3"><stop offset="0" stop-opacity=".51"/><stop offset="0.1" stop-opacity=".65"/><stop offset="0.2" stop-opacity=".77"/><stop offset="0.3" stop-opacity=".88"/><stop offset="0.4" stop-opacity=".96"/><stop offset="0.5" stop-opacity="1.00"/><stop offset="0.6" stop-opacity=".99"/><stop offset="0.7" stop-opacity=".93"/><stop offset="0.8" stop-opacity=".84"/><stop offset="0.9" stop-opacity=".72"/><stop offset="1" stop-opacity=".59"/></linearGradient><linearGradient id="h16_4"><stop offset="0" stop-opacity=".48"/><stop offset="0.1" stop-opacity=".61"/><stop offset="0.2" stop-opacity=".74"/><stop offset="0.3" stop-opacity=".85"/><stop offset="0.4" stop-opacity=".94"/><stop offset="0.5" stop-opacity=".99"/><stop offset="0.6" stop-opacity="1.00"/><stop offset="0.7" stop-opacity=".95"/><stop offset="0.8" stop-opacity=".87"/><stop offset="0.9" stop-opacity=".76"/><stop offset="1" stop-opacity=".63"/></linearGradient><linearGradient id="h17_0"><stop offset="0" stop-opacity=".87"/><stop offset="0.1" stop-opacity=".92"/><stop offset="0.2" stop-opacity=".96"/><stop offset="0.3" stop-opacity=".99"/><stop offset="0.4" stop-opacity="1.00"/><stop offset="0.5" stop-opacity="1.00"/><stop offset="0.6" stop-opacity=".98"/><stop offset="0.7" stop-opacity=".95"/><stop offset="0.8" stop-opacity=".91"/><stop offset="0.9" stop-opacity=".86"/><stop offset="1" stop-opacity=".80"/></linearGradient><linearGradient id="h17_1"><stop offset="0" stop-opacity=".86"/><stop offset="0.1" stop-opacity=".91"/><stop offset="0.2" stop-opacity=".95"/><stop offset="0.3" stop-opacity=".98"/><stop offset="0.4" stop-opacity="1.00"/><stop offset="0.5" stop-opacity="1.00"/><stop offset="0.6" stop-opacity=".99"/><stop offset="0.7" stop-opacity=".96"/><stop offset="0.8" stop-opacity=".93"/><stop offset="0.9" stop-opacity=".88"/><stop offset="1" stop-opacity=".82"/></linearGradient><linearGradient id="h17_2"><stop offset="0" stop-opacity=".84"/><stop offset="0.1" stop-opacity=".89"/><stop offset="0.2" stop-opacity=".94"/><stop offset="0.3" stop-opacity=".97"/><stop offset="0.4" stop-opacity=".99"/><stop offset="0.5" stop-opacity="1"/><stop offset="0.6" stop-opacity=".99"/><stop offset="0.7" stop-opacity=".97"/><stop offset="0.8" stop-opacity=".94"/><stop offset="0.9" stop-opacity=".89"/><stop offset="1" stop-opacity=".84"/></linearGradient><linearGradient id="h17_3"><stop offset="0" stop-opacity=".82"/><stop offset="0.1" stop-opacity=".88"/><stop offset="0.2" stop-opacity=".93"/><stop offset="0.3" stop-opacity=".96"/><stop offset="0.4" stop-opacity=".99"/><stop offset="0.5" stop-opacity="1.00"/><stop offset="0.6" stop-opacity="1.00"/><stop offset="0.7" stop-opacity=".98"/><stop offset="0.8" stop-opacity=".95"/><stop offset="0.9" stop-opacity=".91"/><stop offset="1" stop-opacity=".86"/></linearGradient><linearGradient id="h17_4"><stop offset="0" stop-opacity=".80"/><stop offset="0.1" stop-opacity=".86"/><stop offset="0.2" stop-opacity=".91"/><stop offset="0.3" stop-opacity=".95"/><stop offset="0.4" stop-opacity=".98"/><stop offset="0.5" stop-opacity="1.00"/><stop offset="0.6" stop-opacity="1.00"/><stop offset="0.7" stop-opacity=".99"/><stop offset="0.8" stop-opacity=".96"/><stop offset="0.9" stop-opacity=".92"/><stop offset="1" stop-opacity=".87"/></linearGradient><linearGradient id="fl0"><stop offset="0" stop-opacity=".00"/><stop offset="0.1" stop-opacity=".00"/><stop offset="0.1" stop-opacity=".00"/><stop offset="0.1" stop-opacity=".00"/><stop offset="0.2" stop-opacity=".00"/><stop offset="0.2" stop-opacity=".00"/><stop offset="0.3" stop-opacity=".00"/><stop offset="0.3" stop-opacity=".00"/><stop offset="0.4" stop-opacity=".08"/><stop offset="0.5" stop-opacity=".66"/><stop offset="0.5" stop-opacity="1"/><stop offset="0.6" stop-opacity=".66"/><stop offset="0.6" stop-opacity=".08"/><stop offset="0.7" stop-opacity=".00"/><stop offset="0.7" stop-opacity=".00"/><stop offset="0.8" stop-opacity=".00"/><stop offset="0.8" stop-opacity=".00"/><stop offset="0.8" stop-opacity=".00"/><stop offset="0.9" stop-opacity=".00"/><stop offset="0.9" stop-opacity=".00"/><stop offset="1" stop-opacity=".00"/></linearGradient><linearGradient id="fl1"><stop offset="0" stop-opacity=".00"/><stop offset="0.1" stop-opacity=".00"/><stop offset="0.1" stop-opacity=".00"/><stop offset="0.1" stop-opacity=".00"/><stop offset="0.2" stop-opacity=".00"/><stop offset="0.2" stop-opacity=".00"/><stop offset="0.3" stop-opacity=".00"/><stop offset="0.3" stop-opacity=".02"/><stop offset="0.4" stop-opacity=".27"/><stop offset="0.5" stop-opacity=".80"/><stop offset="0.5" stop-opacity="1"/><stop offset="0.6" stop-opacity=".80"/><stop offset="0.6" stop-opacity=".27"/><stop offset="0.7" stop-opacity=".02"/><stop offset="0.7" stop-opacity=".00"/><stop offset="0.8" stop-opacity=".00"/><stop offset="0.8" stop-opacity=".00"/><stop offset="0.8" stop-opacity=".00"/><stop offset="0.9" stop-opacity=".00"/><stop offset="0.9" stop-opacity=".00"/><stop offset="1" stop-opacity=".00"/></linearGradient><linearGradient id="fl2"><stop offset="0" stop-opacity=".00"/><stop offset="0.1" stop-opacity=".00"/><stop offset="0.1" stop-opacity=".00"/><stop offset="0.1" stop-opacity=".00"/><stop offset="0.2" stop-opacity=".00"/><stop offset="0.2" stop-opacity=".00"/><stop offset="0.3" stop-opacity=".01"/><stop offset="0.3" stop-opacity=".11"/><stop offset="0.4" stop-opacity=".46"/><stop offset="0.5" stop-opacity=".88"/><stop offset="0.5" stop-opacity="1"/><stop offset="0.6" stop-opacity=".88"/><stop offset="0.6" stop-opacity=".46"/><stop offset="0.7" stop-opacity=".11"/><stop offset="0.7" stop-opacity=".01"/><stop offset="0.8" stop-opacity=".00"/><stop offset="0.8" stop-opacity=".00"/><stop offset="0.8" stop-opacity=".00"/><stop offset="0.9" stop-opacity=".00"/><stop offset="0.9" stop-opacity=".00"/><stop offset="1" stop-opacity=".00"/></linearGradient><linearGradient id="fl3"><stop offset="0" stop-opacity=".00"/><stop offset="0.1" stop-opacity=".00"/><stop offset="0.1" stop-opacity=".00"/><stop offset="0.1" stop-opacity=".00"/><stop offset="0.2" stop-opacity=".00"/><stop offset="0.2" stop-opacity=".00"/><stop offset="0.3" stop-opacity=".05"/><stop offset="0.3" stop-opacity=".23"/><stop offset="0.4" stop-opacity=".60"/><stop offset="0.5" stop-opacity=".92"/><stop offset="0.5" stop-opacity="1"/><stop offset="0.6" stop-opacity=".92"/><stop offset="0.6" stop-opacity=".60"/><stop offset="0.7" stop-opacity=".23"/><stop offset="0.7" stop-opacity=".05"/><stop offset="0.8" stop-opacity=".00"/><stop offset="0.8" stop-opacity=".00"/><stop offset="0.8" stop-opacity=".00"/><stop offset="0.9" stop-opacity=".00"/><stop offset="0.9" stop-opacity=".00"/><stop offset="1" stop-opacity=".00"/></linearGradient><linearGradient id="fl4"><stop offset="0" stop-opacity=".00"/><stop offset="0.1" stop-opacity=".00"/><stop offset="0.1" stop-opacity=".00"/><stop offset="0.1" stop-opacity=".00"/><stop offset="0.2" stop-opacity=".00"/><stop offset="0.2" stop-opacity=".02"/><stop offset="0.3" stop-opacity=".12"/><stop offset="0.3" stop-opacity=".37"/><stop offset="0.4" stop-opacity=".71"/><stop offset="0.5" stop-opacity=".94"/><stop offset="0.5" stop-opacity="1"/><stop offset="0.6" stop-opacity=".94"/><stop offset="0.6" stop-opacity=".71"/><stop offset="0.7" stop-opacity=".37"/><stop offset="0.7" stop-opacity=".12"/><stop offset="0.8" stop-opacity=".02"/><stop offset="0.8" stop-opacity=".00"/><stop offset="0.8" stop-opacity=".00"/><stop offset="0.9" stop-opacity=".00"/><stop offset="0.9" stop-opacity=".00"/><stop offset="1" stop-opacity=".00"/></linearGradient><linearGradient id="fl5"><stop offset="0" stop-opacity=".00"/><stop offset="0.1" stop-opacity=".00"/><stop offset="0.1" stop-opacity=".00"/><stop offset="0.1" stop-opacity=".00"/><stop offset="0.2" stop-opacity=".02"/><stop offset="0.2" stop-opacity=".10"/><stop offset="0.3" stop-opacity=".27"/><stop offset="0.3" stop-opacity=".54"/><stop offset="0.4" stop-opacity=".80"/><stop offset="0.5" stop-opacity=".96"/><stop offset="0.5" stop-opacity="1"/><stop offset="0.6" stop-opacity=".96"/><stop offset="0.6" stop-opacity=".80"/><stop offset="0.7" stop-opacity=".54"/><stop offset="0.7" stop-opacity=".27"/><stop offset="0.8" stop-opacity=".10"/><stop offset="0.8" stop-opacity=".02"/><stop offset="0.8" stop-opacity=".00"/><stop offset="0.9" stop-opacity=".00"/><stop offset="0.9" stop-opacity=".00"/><stop offset="1" stop-opacity=".00"/></linearGradient><linearGradient id="fl6"><stop offset="0" stop-opacity=".00"/><stop offset="0.1" stop-opacity=".00"/><stop offset="0.1" stop-opacity=".00"/><stop offset="0.1" stop-opacity=".02"/><stop offset="0.2" stop-opacity=".08"/><stop offset="0.2" stop-opacity=".21"/><stop offset="0.3" stop-opacity=".41"/><stop offset="0.3" stop-opacity=".66"/><stop offset="0.4" stop-opacity=".86"/><stop offset="0.5" stop-opacity=".98"/><stop offset="0.5" stop-opacity="1"/><stop offset="0.6" stop-opacity=".98"/><stop offset="0.6" stop-opacity=".86"/><stop offset="0.7" stop-opacity=".66"/><stop offset="0.7" stop-opacity=".41"/><stop offset="0.8" stop-opacity=".21"/><stop offset="0.8" stop-opacity=".08"/><stop offset="0.8" stop-opacity=".02"/><stop offset="0.9" stop-opacity=".00"/><stop offset="0.9" stop-opacity=".00"/><stop offset="1" stop-opacity=".00"/></linearGradient><linearGradient id="side" x1="0" y1="0" x2="0" y2="1"><stop offset="0" style="stop-color:#3752a5"/><stop offset="0.25" style="stop-color:#4f67b1"/><stop offset="0.5" style="stop-color:#7d90c8"/><stop offset="0.75" style="stop-color:#b3bfe2"/><stop offset="1" style="stop-color:#f2f4fa"/></linearGradient></defs>
<g transform="translate(314.3,0)">
<path d="M0 95.3h47v1H0z" fill="url(#fl0)" fill-opacity="0.8"/>
<path d="M0 94.3h47v1H0z" fill="url(#fl0)" fill-opacity="0.85"/>
<path d="M0 93.3h47v1H0z" fill="url(#fl1)" fill-opacity="0.85"/>
<path d="M0 92.3h47v1H0z" fill="url(#fl2)" fill-opacity="0.9"/>
<path d="M0 90.4h47v1H0zM0 91.3h47v1H0z" fill="url(#fl2)" fill-opacity="1.0"/>
<path d="M0 87.4h47v1H0zM0 89.4h47v1H0z" fill="url(#fl4)" fill-opacity="0.85"/>
<path d="M0 86.4h47v1H0z" fill="url(#fl4)" fill-opacity="0.9"/>
<path d="M0 85.4h47v1H0zM0 88.4h47v1H0z" fill="url(#fl4)" fill-opacity="1.0"/>
<path d="M0 232h47v1H0zM0 256.1h47v1H0zM0 257.1h47v1H0zM0 258.1h47v1H0z" fill="url(#h10_1)" fill-opacity="0.05"/>
<path d="M0 248.1h47v1H0zM0 249.1h47v1H0zM0 250.1h47v1H0zM0 251.1h47v1H0zM0 252.1h47v1H0zM0 254.1h47v1H0zM0 270.1h47v1H0zM0 274.1h47v1H0zM0 279.1h47v1H0zM0 280.1h47v1H0zM0 281.1h47v1H0zM0 285.1h47v1H0zM0 287.1h47v1H0zM0 291.1h47v1H0zM0 295.1h47v1H0z" fill="url(#h10_2)" fill-opacity="0.05"/>
<path d="M0 178.1h47v1H0zM0 182.1h47v1H0z" fill="url(#h10_2)" fill-opacity="0.1"/>
<path d="M0 95.3h47v1H0zM0 174.1h47v1H0zM0 176.1h47v1H0zM0 177.1h47v1H0z" fill="url(#h10_2)" fill-opacity="0.15"/>
<path d="M0 116.4h47v1H0z" fill="url(#h10_2)" fill-opacity="0.8"/>
<path d="M0 117.4h47v1H0z" fill="url(#h10_2)" fill-opacity="0.95"/>
<path d="M0 172.1h47v1H0z" fill="url(#h10_3)" fill-opacity="0.1"/>
<path d="M0 173.1h47v1H0z" fill="url(#h10_3)" fill-opacity="0.15"/>
<path d="M0 209h47v1H0zM0 210h47v1H0zM0 230h47v1H0zM0 231h47v1H0zM0 244.1h47v1H0zM0 255.1h47v1H0zM0 260.1h47v1H0zM0 261.1h47v1H0zM0 264.1h47v1H0z" fill="url(#h11_1)" fill-opacity="0.05"/>
<path d="M0 162.1h47v1H0zM0 163.1h47v1H0z" fill="url(#h11_1)" fill-opacity="0.15"/>
<path d="M0 112.4h47v1H0z" fill="url(#h11_1)" fill-opacity="0.7"/>
<path d="M0 113.4h47v1H0z" fill="url(#h11_1)" fill-opacity="0.9"/>
<path d="M0 206h47v1H0zM0 216h47v1H0zM0 217h47v1H0zM0 218h47v1H0zM0 219h47v1H0zM0 220h47v1H0zM0 221h47v1H0zM0 226h47v1H0zM0 229h47v1H0zM0 234h47v1H0zM0 236.1h47v1H0zM0 237.1h47v1H0zM0 240.1h47v1H0zM0 241.1h47v1H0zM0 242.1h47v1H0zM0 243.1h47v1H0zM0 245.1h47v1H0zM0 246.1h47v1H0zM0 247.1h47v1H0zM0 253.1h47v1H0zM0 263.1h47v1H0zM0 265.1h47v1H0zM0 268.1h47v1H0zM0 269.1h47v1H0z" fill="url(#h11_2)" fill-opacity="0.05"/>
<path d="M0 160.1h47v1H0zM0 167.1h47v1H0zM0 170.1h47v1H0z" fill="url(#h11_2)" fill-opacity="0.1"/>
<path d="M0 94.3h47v1H0zM0 164.1h47v1H0zM0 165.1h47v1H0zM0 166.1h47v1H0zM0 171.1h47v1H0z" fill="url(#h11_2)" fill-opacity="0.15"/>
<path d="M0 114.4h47v1H0z" fill="url(#h11_2)" fill-opacity="0.7"/>
<path d="M0 111.3h47v1H0zM0 115.4h47v1H0z" fill="url(#h11_2)" fill-opacity="0.8"/>
<path d="M0 239.1h47v1H0z" fill="url(#h11_3)" fill-opacity="0.05"/>
<path d="M0 168.1h47v1H0zM0 169.1h47v1H0z" fill="url(#h11_3)" fill-opacity="0.1"/>
<path d="M0 191h47v1H0zM0 211h47v1H0zM0 212h47v1H0zM0 213h47v1H0zM0 214h47v1H0z" fill="url(#h12_1)" fill-opacity="0.05"/>
<path d="M0 188h47v1H0zM0 193h47v1H0zM0 195h47v1H0zM0 197h47v1H0zM0 198h47v1H0zM0 199h47v1H0zM0 200h47v1H0zM0 203h47v1H0zM0 204h47v1H0zM0 205h47v1H0zM0 207h47v1H0zM0 208h47v1H0zM0 215h47v1H0zM0 222h47v1H0zM0 223h47v1H0zM0 224h47v1H0zM0 225h47v1H0zM0 227h47v1H0zM0 228h47v1H0zM0 235.1h47v1H0zM0 238.1h47v1H0z" fill="url(#h12_2)" fill-opacity="0.05"/>
<path d="M0 139.1h47v1H0zM0 142.1h47v1H0zM0 144.1h47v1H0zM0 148.1h47v1H0zM0 149.1h47v1H0zM0 150.1h47v1H0zM0 151.1h47v1H0zM0 152.1h47v1H0zM0 153.1h47v1H0zM0 154.1h47v1H0zM0 155.1h47v1H0zM0 156.1h47v1H0zM0 157.1h47v1H0zM0 159.1h47v1H0zM0 161.1h47v1H0z" fill="url(#h12_2)" fill-opacity="0.1"/>
<path d="M0 93.3h47v1H0zM0 143.1h47v1H0zM0 145.1h47v1H0zM0 147.1h47v1H0zM0 158.1h47v1H0z" fill="url(#h12_2)" fill-opacity="0.15"/>
<path d="M0 109.3h47v1H0zM0 110.3h47v1H0z" fill="url(#h12_2)" fill-opacity="0.85"/>
<path d="M0 201h47v1H0zM0 202h47v1H0z" fill="url(#h13_1)" fill-opacity="0.05"/>
<path d="M0 132.1h47v1H0zM0 141.1h47v1H0z" fill="url(#h13_1)" fill-opacity="0.1"/>
<path d="M0 135.1h47v1H0zM0 136.1h47v1H0z" fill="url(#h13_1)" fill-opacity="0.15"/>
<path d="M0 189h47v1H0zM0 190h47v1H0zM0 192h47v1H0zM0 194h47v1H0zM0 196h47v1H0z" fill="url(#h13_2)" fill-opacity="0.05"/>
<path d="M0 130.1h47v1H0zM0 131.1h47v1H0zM0 133.1h47v1H0zM0 140.1h47v1H0zM0 146.1h47v1H0z" fill="url(#h13_2)" fill-opacity="0.1"/>
<path d="M0 127.1h47v1H0zM0 128.1h47v1H0zM0 129.1h47v1H0zM0 134.1h47v1H0zM0 137.1h47v1H0zM0 138.1h47v1H0z" fill="url(#h13_2)" fill-opacity="0.15"/>
<path d="M0 90.4h47v1H0zM0 91.3h47v1H0zM0 92.3h47v1H0z" fill="url(#h13_2)" fill-opacity="0.2"/>
<path d="M0 107.3h47v1H0z" fill="url(#h13_2)" fill-opacity="0.9"/>
<path d="M0 105.3h47v1H0zM0 108.3h47v1H0z" fill="url(#h13_2)" fill-opacity="1.0"/>
<path d="M0 87.4h47v1H0zM0 89.4h47v1H0z" fill="url(#h14_2)" fill-opacity="0.15"/>
<path d="M0 86.4h47v1H0zM0 88.4h47v1H0zM0 120.5h47v1H0zM0 121.5h47v1H0z" fill="url(#h14_2)" fill-opacity="0.2"/>
<path d="M0 118.4h47v1H0z" fill="url(#h14_2)" fill-opacity="0.25"/>
<path d="M0 119.5h47v1H0z" fill="url(#h14_2)" fill-opacity="0.3"/>
<path d="M0 104.2h47v1H0zM0 106.3h47v1H0z" fill="url(#h14_2)" fill-opacity="1.0"/>
<path d="M0 85.4h47v1H0z" fill="url(#h15_2)" fill-opacity="0.2"/>
<path d="M0 116.4h47v1H0z" fill="url(#h15_2)" fill-opacity="0.3"/>
<path d="M0 117.4h47v1H0z" fill="url(#h15_2)" fill-opacity="0.35"/>
<path d="M0 112.4h47v1H0z" fill="url(#h16_1)" fill-opacity="0.25"/>
<path d="M0 113.4h47v1H0z" fill="url(#h16_1)" fill-opacity="0.3"/>
<path d="M0 114.4h47v1H0z" fill="url(#h16_2)" fill-opacity="0.25"/>
<path d="M0 107.3h47v1H0zM0 109.3h47v1H0zM0 110.3h47v1H0zM0 111.3h47v1H0zM0 115.4h47v1H0z" fill="url(#h16_2)" fill-opacity="0.3"/>
<path d="M0 105.3h47v1H0zM0 108.3h47v1H0z" fill="url(#h16_2)" fill-opacity="0.35"/>
<path d="M0 86.4h47v1H0zM0 87.4h47v1H0zM0 89.4h47v1H0zM0 91.3h47v1H0zM0 92.3h47v1H0zM0 93.3h47v1H0zM0 95.3h47v1H0zM0 128.1h47v1H0zM0 129.1h47v1H0zM0 130.1h47v1H0zM0 131.1h47v1H0zM0 132.1h47v1H0zM0 133.1h47v1H0zM0 134.1h47v1H0zM0 135.1h47v1H0zM0 136.1h47v1H0zM0 137.1h47v1H0zM0 138.1h47v1H0zM0 139.1h47v1H0zM0 140.1h47v1H0zM0 141.1h47v1H0zM0 142.1h47v1H0zM0 143.1h47v1H0zM0 145.1h47v1H0zM0 146.1h47v1H0zM0 147.1h47v1H0zM0 148.1h47v1H0zM0 149.1h47v1H0zM0 150.1h47v1H0zM0 151.1h47v1H0zM0 152.1h47v1H0zM0 153.1h47v1H0zM0 155.1h47v1H0zM0 156.1h47v1H0zM0 157.1h47v1H0zM0 158.1h47v1H0zM0 159.1h47v1H0zM0 160.1h47v1H0zM0 161.1h47v1H0zM0 162.1h47v1H0zM0 163.1h47v1H0zM0 166.1h47v1H0zM0 167.1h47v1H0zM0 168.1h47v1H0zM0 170.1h47v1H0zM0 171.1h47v1H0zM0 172.1h47v1H0zM0 173.1h47v1H0zM0 174.1h47v1H0zM0 175.1h47v1H0zM0 178.1h47v1H0zM0 179.1h47v1H0zM0 180.1h47v1H0zM0 188h47v1H0zM0 192h47v1H0zM0 193h47v1H0zM0 195h47v1H0zM0 199h47v1H0zM0 201h47v1H0zM0 202h47v1H0zM0 203h47v1H0zM0 206h47v1H0zM0 207h47v1H0zM0 208h47v1H0zM0 209h47v1H0zM0 214h47v1H0zM0 215h47v1H0zM0 216h47v1H0zM0 217h47v1H0zM0 218h47v1H0zM0 219h47v1H0zM0 221h47v1H0zM0 223h47v1H0zM0 224h47v1H0zM0 225h47v1H0zM0 228h47v1H0zM0 229h47v1H0zM0 230h47v1H0zM0 232h47v1H0zM0 234h47v1H0zM0 235.1h47v1H0zM0 236.1h47v1H0zM0 238.1h47v1H0zM0 239.1h47v1H0zM0 241.1h47v1H0zM0 242.1h47v1H0zM0 244.1h47v1H0zM0 245.1h47v1H0zM0 246.1h47v1H0zM0 247.1h47v1H0zM0 248.1h47v1H0zM0 249.1h47v1H0zM0 250.1h47v1H0zM0 251.1h47v1H0zM0 252.1h47v1H0zM0 253.1h47v1H0zM0 254.1h47v1H0zM0 255.1h47v1H0zM0 256.1h47v1H0zM0 257.1h47v1H0zM0 258.1h47v1H0zM0 259.1h47v1H0zM0 260.1h47v1H0zM0 261.1h47v1H0zM0 262.1h47v1H0zM0 263.1h47v1H0zM0 264.1h47v1H0zM0 266.1h47v1H0zM0 267.1h47v1H0zM0 268.1h47v1H0zM0 269.1h47v1H0zM0 270.1h47v1H0zM0 271.1h47v1H0zM0 272.1h47v1H0zM0 273.1h47v1H0zM0 274.1h47v1H0zM0 275.1h47v1H0zM0 276.1h47v1H0zM0 278.1h47v1H0zM0 279.1h47v1H0zM0 280.1h47v1H0zM0 281.1h47v1H0zM0 282.1h47v1H0zM0 284.1h47v1H0zM0 285.1h47v1H0zM0 287.1h47v1H0zM0 289.1h47v1H0zM0 290.1h47v1H0zM0 291.1h47v1H0zM0 292.1h47v1H0zM0 293.1h47v1H0zM0 294.1h47v1H0zM0 296.1h47v1H0zM0 298.1h47v1H0zM0 299.1h47v1H0zM0 300.1h47v1H0zM0 301.1h47v1H0zM0 302.1h47v1H0zM0 303.1h47v1H0zM0 304.1h47v1H0zM0 305.1h47v1H0zM0 306.1h47v1H0zM0 307.1h47v1H0zM0 309.1h47v1H0zM0 310.1h47v1H0zM0 311.1h47v1H0zM0 312.1h47v1H0zM0 314.1h47v1H0zM0 315.1h47v1H0zM0 316.1h47v1H0zM0 317.1h47v1H0zM0 318.1h47v1H0zM0 319.1h47v1H0zM0 320.1h47v1H0zM0 321.1h47v1H0zM0 322.1h47v1H0zM0 323.1h47v1H0zM0 324.1h47v1H0zM0 325.1h47v1H0zM0 328.1h47v1H0zM0 329.1h47v1H0zM0 330.2h47v1H0zM0 332.2h47v1H0zM0 333.2h47v1H0zM0 334.2h47v1H0zM0 336.2h47v1H0zM0 338.2h47v1H0zM0 339.2h47v1H0zM0 340.2h47v1H0zM0 341.2h47v1H0zM0 342.2h47v1H0zM0 343.2h47v1H0zM0 344.2h47v1H0zM0 345.2h47v1H0zM0 346.2h47v1H0zM0 347.2h47v1H0zM0 348.2h47v1H0zM0 349.2h47v1H0zM0 350.2h47v1H0zM0 353.2h47v1H0zM0 354.2h47v1H0zM0 355.2h47v1H0zM0 357.2h47v1H0zM0 359.2h47v1H0zM0 360.2h47v1H0zM0 361.2h47v1H0zM0 362.2h47v1H0zM0 363.2h47v1H0zM0 364.2h47v1H0zM0 365.2h47v1H0zM0 366.2h47v1H0zM0 367.2h47v1H0zM0 368.2h47v1H0zM0 369.2h47v1H0zM0 370.2h47v1H0zM0 371.2h47v1H0zM0 373.2h47v1H0zM0 374.2h47v1H0z" fill="url(#h17_2)" fill-opacity="0.025"/>
<path d="M0 88.4h47v1H0zM0 101.2h47v1H0zM0 111.3h47v1H0zM0 127.1h47v1H0zM0 144.1h47v1H0zM0 154.1h47v1H0zM0 176.1h47v1H0zM0 181.1h47v1H0zM0 189h47v1H0zM0 190h47v1H0zM0 191h47v1H0zM0 194h47v1H0zM0 196h47v1H0zM0 197h47v1H0zM0 198h47v1H0zM0 200h47v1H0zM0 204h47v1H0zM0 205h47v1H0zM0 210h47v1H0zM0 286.1h47v1H0zM0 335.2h47v1H0zM0 351.2h47v1H0zM0 352.2h47v1H0zM0 375.2h47v1H0z" fill="url(#h17_2)" fill-opacity="0.05"/>
<path d="M0 76.3h47v1.1H0zM0 79.6h47v1.1H0zM0 85.4h47v1H0zM0 90.4h47v1H0zM0 106.3h47v1H0zM0 109.3h47v1H0zM0 113.4h47v1H0zM0 220h47v1H0zM0 226h47v1H0zM0 237.1h47v1H0zM0 243.1h47v1H0zM0 283.1h47v1H0zM0 297.1h47v1H0zM0 308.1h47v1H0z" fill="url(#h17_2)" fill-opacity="0.075"/>
<path d="M0 78.5h47v1.1H0zM0 102.2h47v1H0zM0 107.3h47v1H0zM0 120.5h47v1H0z" fill="url(#h17_2)" fill-opacity="0.1"/>
<path d="M0 104.2h47v1H0zM0 105.3h47v1H0zM0 112.4h47v1H0zM0 115.4h47v1H0zM0 117.4h47v1H0zM0 119.5h47v1H0z" fill="url(#h17_2)" fill-opacity="0.125"/>
<path d="M0 77.4h47v1.1H0zM0 103.2h47v1H0zM0 108.3h47v1H0zM0 110.3h47v1H0zM0 114.4h47v1H0zM0 116.4h47v1H0zM0 118.4h47v1H0zM0 121.5h47v1H0z" fill="url(#h17_2)" fill-opacity="0.15"/>
<path d="M0 103.2h47v1H0z" fill="url(#h17_2)" fill-opacity="0.2"/>
<path d="M0 78.5h47v1.1H0z" fill="url(#h17_2)" fill-opacity="0.275"/>
<path d="M0 102.2h47v1H0z" fill="url(#h17_2)" fill-opacity="0.3"/>
<path d="M0 101.2h47v1H0zM0 104.2h47v1H0zM0 106.3h47v1H0z" fill="url(#h17_2)" fill-opacity="0.35"/>
<path d="M0 103.2h47v1H0z" fill="url(#h17_2)" fill-opacity="0.6"/>
<path d="M0 77.4h47v1.1H0z" fill="url(#h17_2)" fill-opacity="0.65"/>
<path d="M0 79.6h47v1.1H0z" fill="url(#h17_2)" fill-opacity="0.75"/>
<path d="M0 102.2h47v1H0z" fill="url(#h17_2)" fill-opacity="0.8"/>
<path d="M0 101.2h47v1H0z" fill="url(#h17_2)" fill-opacity="0.95"/>
<path d="M0 76.3h47v1.1H0z" fill="url(#h17_2)" fill-opacity="1.0"/>
<path d="M0 374.2h47v1H0z" fill="url(#h1_1)" fill-opacity="0.05"/>
<path d="M0 368.2h47v1H0zM0 369.2h47v1H0zM0 370.2h47v1H0zM0 371.2h47v1H0zM0 375.2h47v1H0z" fill="url(#h1_1)" fill-opacity="0.1"/>
<path d="M0 351.2h47v1H0zM0 355.2h47v1H0zM0 356.2h47v1H0zM0 357.2h47v1H0zM0 362.2h47v1H0zM0 363.2h47v1H0zM0 364.2h47v1H0zM0 365.2h47v1H0zM0 372.2h47v1H0zM0 373.2h47v1H0z" fill="url(#h1_2)" fill-opacity="0.1"/>
<path d="M0 343.2h47v1H0zM0 344.2h47v1H0z" fill="url(#h1_2)" fill-opacity="0.15"/>
<path d="M0 347.2h47v1H0zM0 352.2h47v1H0zM0 353.2h47v1H0z" fill="url(#h2_1)" fill-opacity="0.1"/>
<path d="M0 315.1h47v1H0zM0 331.2h47v1H0zM0 340.2h47v1H0zM0 346.2h47v1H0z" fill="url(#h2_1)" fill-opacity="0.15"/>
<path d="M0 310.1h47v1H0zM0 314.1h47v1H0zM0 325.1h47v1H0z" fill="url(#h2_1)" fill-opacity="0.2"/>
<path d="M0 332.2h47v1H0zM0 335.2h47v1H0zM0 341.2h47v1H0zM0 348.2h47v1H0zM0 349.2h47v1H0zM0 350.2h47v1H0zM0 354.2h47v1H0zM0 358.2h47v1H0zM0 359.2h47v1H0zM0 360.2h47v1H0zM0 361.2h47v1H0zM0 366.2h47v1H0zM0 367.2h47v1H0z" fill="url(#h2_2)" fill-opacity="0.1"/>
<path d="M0 316.1h47v1H0zM0 318.1h47v1H0zM0 322.1h47v1H0zM0 333.2h47v1H0zM0 334.2h47v1H0zM0 338.2h47v1H0zM0 339.2h47v1H0zM0 342.2h47v1H0zM0 345.2h47v1H0z" fill="url(#h2_2)" fill-opacity="0.15"/>
<path d="M0 324.1h47v1H0zM0 327.1h47v1H0zM0 328.1h47v1H0z" fill="url(#h2_2)" fill-opacity="0.2"/>
<path d="M0 278.1h47v1H0zM0 301.1h47v1H0zM0 320.1h47v1H0z" fill="url(#h3_1)" fill-opacity="0.15"/>
<path d="M0 277.1h47v1H0zM0 299.1h47v1H0zM0 302.1h47v1H0zM0 305.1h47v1H0zM0 306.1h47v1H0zM0 311.1h47v1H0zM0 312.1h47v1H0zM0 317.1h47v1H0z" fill="url(#h3_1)" fill-opacity="0.2"/>
<path d="M0 258.1h47v1H0zM0 313.1h47v1H0z" fill="url(#h3_1)" fill-opacity="0.25"/>
<path d="M0 179.1h47v1H0zM0 257.1h47v1H0z" fill="url(#h3_1)" fill-opacity="0.3"/>
<path d="M0 272.1h47v1H0zM0 289.1h47v1H0zM0 300.1h47v1H0zM0 321.1h47v1H0zM0 323.1h47v1H0zM0 330.2h47v1H0zM0 336.2h47v1H0zM0 337.2h47v1H0z" fill="url(#h3_2)" fill-opacity="0.15"/>
<path d="M0 250.1h47v1H0zM0 271.1h47v1H0zM0 279.1h47v1H0zM0 290.1h47v1H0zM0 292.1h47v1H0zM0 295.1h47v1H0zM0 296.1h47v1H0zM0 297.1h47v1H0zM0 307.1h47v1H0zM0 309.1h47v1H0zM0 319.1h47v1H0zM0 326.1h47v1H0zM0 329.1h47v1H0z" fill="url(#h3_2)" fill-opacity="0.2"/>
<path d="M0 273.1h47v1H0z" fill="url(#h3_2)" fill-opacity="0.25"/>
<path d="M0 180.1h47v1H0zM0 275.1h47v1H0z" fill="url(#h3_2)" fill-opacity="0.3"/>
<path d="M0 181.1h47v1H0z" fill="url(#h3_2)" fill-opacity="0.35"/>
<path d="M0 178.1h47v1H0z" fill="url(#h3_2)" fill-opacity="0.4"/>
<path d="M0 175.1h47v1H0z" fill="url(#h3_2)" fill-opacity="0.5"/>
<path d="M0 303.1h47v1H0z" fill="url(#h4_1)" fill-opacity="0.15"/>
<path d="M0 259.1h47v1H0zM0 288.1h47v1H0zM0 293.1h47v1H0zM0 304.1h47v1H0zM0 308.1h47v1H0z" fill="url(#h4_1)" fill-opacity="0.2"/>
<path d="M0 232h47v1H0zM0 260.1h47v1H0z" fill="url(#h4_1)" fill-opacity="0.25"/>
<path d="M0 230h47v1H0zM0 256.1h47v1H0z" fill="url(#h4_1)" fill-opacity="0.3"/>
<path d="M0 262.1h47v1H0zM0 267.1h47v1H0zM0 276.1h47v1H0zM0 280.1h47v1H0zM0 282.1h47v1H0zM0 283.1h47v1H0zM0 284.1h47v1H0zM0 286.1h47v1H0zM0 291.1h47v1H0zM0 294.1h47v1H0zM0 298.1h47v1H0z" fill="url(#h4_2)" fill-opacity="0.2"/>
<path d="M0 248.1h47v1H0zM0 251.1h47v1H0zM0 252.1h47v1H0zM0 254.1h47v1H0zM0 263.1h47v1H0zM0 270.1h47v1H0zM0 274.1h47v1H0zM0 281.1h47v1H0zM0 285.1h47v1H0zM0 287.1h47v1H0z" fill="url(#h4_2)" fill-opacity="0.25"/>
<path d="M0 249.1h47v1H0zM0 269.1h47v1H0z" fill="url(#h4_2)" fill-opacity="0.3"/>
<path d="M0 182.1h47v1H0zM0 220h47v1H0zM0 242.1h47v1H0z" fill="url(#h4_2)" fill-opacity="0.35"/>
<path d="M0 177.1h47v1H0z" fill="url(#h4_2)" fill-opacity="0.4"/>
<path d="M0 165.1h47v1H0z" fill="url(#h4_2)" fill-opacity="0.45"/>
<path d="M0 164.1h47v1H0zM0 174.1h47v1H0zM0 176.1h47v1H0z" fill="url(#h4_2)" fill-opacity="0.5"/>
<path d="M0 172.1h47v1H0z" fill="url(#h4_3)" fill-opacity="0.35"/>
<path d="M0 173.1h47v1H0z" fill="url(#h4_3)" fill-opacity="0.45"/>
<path d="M0 233h47v1H0z" fill="url(#h5_1)" fill-opacity="0.2"/>
<path d="M0 255.1h47v1H0zM0 261.1h47v1H0zM0 264.1h47v1H0z" fill="url(#h5_1)" fill-opacity="0.25"/>
<path d="M0 210h47v1H0zM0 211h47v1H0z" fill="url(#h5_1)" fill-opacity="0.3"/>
<path d="M0 209h47v1H0zM0 214h47v1H0zM0 231h47v1H0zM0 244.1h47v1H0z" fill="url(#h5_1)" fill-opacity="0.35"/>
<path d="M0 162.1h47v1H0z" fill="url(#h5_1)" fill-opacity="0.4"/>
<path d="M0 163.1h47v1H0z" fill="url(#h5_1)" fill-opacity="0.5"/>
<path d="M0 240.1h47v1H0zM0 265.1h47v1H0zM0 266.1h47v1H0z" fill="url(#h5_2)" fill-opacity="0.2"/>
<path d="M0 197h47v1H0zM0 225h47v1H0zM0 226h47v1H0zM0 228h47v1H0zM0 235.1h47v1H0zM0 237.1h47v1H0zM0 238.1h47v1H0zM0 246.1h47v1H0zM0 253.1h47v1H0zM0 268.1h47v1H0z" fill="url(#h5_2)" fill-opacity="0.25"/>
<path d="M0 227h47v1H0zM0 229h47v1H0zM0 234h47v1H0zM0 236.1h47v1H0zM0 241.1h47v1H0zM0 243.1h47v1H0zM0 245.1h47v1H0zM0 247.1h47v1H0z" fill="url(#h5_2)" fill-opacity="0.3"/>
<path d="M0 150.1h47v1H0zM0 156.1h47v1H0zM0 160.1h47v1H0zM0 170.1h47v1H0zM0 208h47v1H0zM0 215h47v1H0zM0 221h47v1H0z" fill="url(#h5_2)" fill-opacity="0.35"/>
<path d="M0 154.1h47v1H0zM0 166.1h47v1H0zM0 167.1h47v1H0zM0 171.1h47v1H0zM0 206h47v1H0zM0 216h47v1H0zM0 217h47v1H0zM0 218h47v1H0zM0 219h47v1H0z" fill="url(#h5_2)" fill-opacity="0.4"/>
<path d="M0 239.1h47v1H0z" fill="url(#h5_3)" fill-opacity="0.2"/>
<path d="M0 168.1h47v1H0zM0 169.1h47v1H0z" fill="url(#h5_3)" fill-opacity="0.3"/>
<path d="M0 212h47v1H0z" fill="url(#h6_1)" fill-opacity="0.25"/>
<path d="M0 191h47v1H0zM0 201h47v1H0zM0 202h47v1H0zM0 213h47v1H0z" fill="url(#h6_1)" fill-opacity="0.3"/>
<path d="M0 141.1h47v1H0z" fill="url(#h6_1)" fill-opacity="0.35"/>
<path d="M0 222h47v1H0zM0 223h47v1H0zM0 224h47v1H0z" fill="url(#h6_2)" fill-opacity="0.25"/>
<path d="M0 152.1h47v1H0zM0 205h47v1H0z" fill="url(#h6_2)" fill-opacity="0.3"/>
<path d="M0 146.1h47v1H0zM0 149.1h47v1H0zM0 151.1h47v1H0zM0 153.1h47v1H0zM0 155.1h47v1H0zM0 157.1h47v1H0zM0 159.1h47v1H0zM0 189h47v1H0zM0 192h47v1H0zM0 196h47v1H0zM0 199h47v1H0zM0 200h47v1H0zM0 207h47v1H0z" fill="url(#h6_2)" fill-opacity="0.35"/>
<path d="M0 139.1h47v1H0zM0 142.1h47v1H0zM0 144.1h47v1H0zM0 148.1h47v1H0zM0 161.1h47v1H0zM0 194h47v1H0zM0 195h47v1H0zM0 198h47v1H0zM0 203h47v1H0z" fill="url(#h6_2)" fill-opacity="0.4"/>
<path d="M0 137.1h47v1H0zM0 138.1h47v1H0zM0 145.1h47v1H0zM0 147.1h47v1H0zM0 158.1h47v1H0zM0 188h47v1H0zM0 193h47v1H0zM0 204h47v1H0z" fill="url(#h6_2)" fill-opacity="0.45"/>
<path d="M0 143.1h47v1H0z" fill="url(#h6_2)" fill-opacity="0.5"/>
<path d="M0 132.1h47v1H0zM0 136.1h47v1H0z" fill="url(#h7_1)" fill-opacity="0.4"/>
<path d="M0 135.1h47v1H0z" fill="url(#h7_1)" fill-opacity="0.55"/>
<path d="M0 190h47v1H0z" fill="url(#h7_2)" fill-opacity="0.3"/>
<path d="M0 140.1h47v1H0z" fill="url(#h7_2)" fill-opacity="0.35"/>
<path d="M0 128.1h47v1H0zM0 130.1h47v1H0zM0 131.1h47v1H0z" fill="url(#h7_2)" fill-opacity="0.4"/>
<path d="M0 127.1h47v1H0zM0 129.1h47v1H0z" fill="url(#h7_2)" fill-opacity="0.45"/>
<path d="M0 134.1h47v1H0z" fill="url(#h7_2)" fill-opacity="0.5"/>
<path d="M0 133.1h47v1H0z" fill="url(#h8_2)" fill-opacity="0.35"/>
<path d="M0 121.5h47v1H0z" fill="url(#h8_2)" fill-opacity="0.55"/>
<path d="M0 120.5h47v1H0z" fill="url(#h8_2)" fill-opacity="0.6"/>
<path d="M0 119.5h47v1H0z" fill="url(#h8_2)" fill-opacity="0.8"/>
<path d="M0 312.1h47v1H0zM0 313.1h47v1H0z" fill="url(#h9_1)" fill-opacity="0.05"/>
<path d="M0 179.1h47v1H0z" fill="url(#h9_1)" fill-opacity="0.1"/>
<path d="M0 273.1h47v1H0zM0 275.1h47v1H0zM0 297.1h47v1H0z" fill="url(#h9_2)" fill-opacity="0.05"/>
<path d="M0 180.1h47v1H0zM0 181.1h47v1H0z" fill="url(#h9_2)" fill-opacity="0.1"/>
<path d="M0 175.1h47v1H0z" fill="url(#h9_2)" fill-opacity="0.15"/>
<path d="M0 118.4h47v1H0z" fill="url(#h9_2)" fill-opacity="0.7"/>
<path d="M0.2 108.7h5.7M22.5 119.3h8.2M8.4 121.3h4M6.4 104.2h3.1M12.8 107.2h5.9M0.2 122h9M28.5 159.3h9M36.8 177.8h6.1M38 172.1h7.1M26.7 161.1h7.7M32.4 140h4.7M38.5 170.8h8.3M18.7 174.3h4.4M22.7 135.6h9.4M0.2 151.1h3.6M19.5 181.4h9.2M13.9 177.1h6.9M38.4 333.6h4.2M30.9 345.6h5.5M20.9 316.6h5.3M8.4 328.4h9.6M9.3 307.8h4.9M19.9 363.7h4M15.8 249.2h2.6M31.4 190.5h7.7M28.7 306h4M18 343h4M8 257.6h6.5M40.3 313.2h4.4M15 271.5h2.7M16.9 287.7h3.4M13.6 207.6h9.7M30 209.6h3.5M26.2 272.1h2.2M23.1 317.1h5.4M12.9 307h8.4M0.4 361h6.6M22.4 373.4h1.8M11.9 279.2h2.2M24 325.9h8.5M19.5 352.4h2.3M43 361.7h3.8M22.3 324.1h2.2M3.3 286.5h5.8M16 330.1h2.1M21.3 199.8h9.5M27.5 360.6h4M18 342.5h3.7M19.9 355.3h4.1M0.9 216.7h7.5M0.2 353.6h5.5M21.3 316.8h3.1M11.6 281.4h9.7M10.8 353.8h4.1M19.3 340.8h5.2M11.5 258.2h8M17.5 292.5h4.4M38.5 350.8h3.6M24.3 352.9h4.4M21.3 314.9h5.6M20 366.5h4.6M21.3 345h4M15.9 338.1h5M17.4 362.6h3.9M28.5 253h4.7M23.5 336h4M18.6 336h6.1M2.9 258.6h9.5M6.1 231.4h2.2M21.1 315.6h2.5M21.1 322.8h5.8M39.6 368.4h7.2M22.1 335.9h3.6M19.5 343.1h4.4M12.5 239.3h9.1M32.9 355.3h4.6M38.5 214.1h6.7M30.8 368.8h3.3M7.9 260.7h9.3M40 286.1h4.7M24.5 345.5h2.7M1.7 195.9h7M21.1 345.6h8.2M16.4 193.8h7M16.8 326.3h7.6M20 356.8h2.9M37.2 337.3h2.9M8.8 294h2.2M23.9 325.6h1.6M13.5 228.6h8.6M5 279.2h9.2" stroke="#2b47a3" stroke-opacity="0.05" stroke-width="0.8"/>
<path d="M6.4 118.1h9.2M20.6 119.7h3.5M8.5 104.1h7.1M16.8 121.1h3.3M42 104.6h4.4M2.9 113.7h4.1M10.9 104.6h3.2M7.8 119.9h4.3M0.2 148h2.8M20.1 175.6h6.2M8.2 180.3h7.1M0.2 147.6h6M8.2 142.2h9.4M9.5 180.2h6.3M26.6 152.9h4.5M22.7 127.8h9.7M31.4 152.5h5.1M31.4 155h10M29.8 156.1h4.9M19.4 176h7M0.2 144.5h4.4M6 159.8h6.4M34.5 137h8.5M9.4 177h9.7M7.5 154.9h7.7M2.9 143.6h5.1M4.1 140.1h4.1M2.6 139.3h6.3M14.8 142.5h6.5M21 322.7h5.6M28.5 194h5.3M26.3 333.9h1.7M1.5 359.7h5.1M0.2 306.1h5.1M7.4 320.1h9.8M2.4 372h5.5M33.2 335.4h3.5M4.1 281h6.6M2.8 203.5h9.8M34.9 345.9h4.3M17 312.4h5.5M9.1 315.1h9.6M9.5 278.5h9.1M14.8 204.5h5.3M8.6 206.3h6.4M2 230.9h6.7M22.5 232.8h4.2M18.5 328h4.6M18.3 343.1h4.7M0.5 196.6h8.4M6.5 209.2h4.3M29 222.6h5.8M22.1 298.8h4.1M23.4 261.1h4.1M13.2 251h2.2M22.9 314.1h3.8M28 351.9h8.1M26.7 326.9h6.4M23.8 257.3h3.1M19.1 245.1h2.9M26.8 249.7h7.4M11 281h2.1M22.7 289.3h6.8M22.5 333.8h2.8M21.9 309.3h3.3M24 295.1h4.9M19.1 353.8h3.1M26.7 244.2h5.6M20.3 317.6h2M9.5 302.3h5M21.4 233.6h5.3M0.2 335.3h4.4M19 328.2h10M31.1 232.4h7.7M26.5 262.2h4.6M8.4 306.2h4.1M31 358.6h5.8M0.2 286.1h8.9M17.8 318.6h2.2M22.3 315.8h2.6M20.6 257.9h4.1M35.6 264.9h5.1M17.4 193.3h8.7M38.9 266.2h5.9M21.6 210.6h5.2M20.8 207.5h4.6M0.2 321.6h5M14.6 198.3h5.9M20 294.3h4.7M1.7 197.7h3.4M33.9 361.2h7.4M26.7 227.2h5M25.3 308.5h1.9M18.7 275.4h2.9M27.2 343.6h3.9M20.6 346.8h5.9M3.8 206.7h4.8M39.5 250.6h3.2M2.4 206.1h6.3M4.7 210.5h6.1M33.4 365.1h7.5M34 304.2h8.5M24.6 264.7h4.8M38.8 232.8h7.7M32.5 261.9h9.5M19.1 345h1.5M17.5 280.1h5.2M19.6 266.9h3.7M27.8 254.7h2.7M16.5 239.2h8.5M13.7 302.7h9.6M23.4 287.2h5.1M28 235.5h4M14 312.3h7.4M22.2 344.8h8M18.6 296.5h4.9M21.5 308.6h3.4M35.3 371.6h5M35.7 296.2h3.1M4 369.5h9.5M18.4 217h7.4M20.6 329.4h5.6M21.2 315.4h4.4M11.8 364.5h8.4M20.5 345.4h4.9M2.4 310h7.6M22.6 228.4h4.5M15.6 371h2.6M15.5 324.1h6.7M1.8 250.2h3.1M30.9 273.5h4.7M19.1 306.5h6M23 245.7h3.1" stroke="#2b47a3" stroke-opacity="0.1" stroke-width="0.8"/>
<path d="M31.2 110.3h9.7M41.3 108.8h2.4M29.2 117.7h2.4M39.2 106.2h3.1M13.1 114.5h5.8M4.1 108.2h2.5M12.7 102.9h2.1M22 137.6h1.9M26.8 166h4.2M16.1 175h5.2M19.6 179.9h4.2M24.7 147h8.6M32 156.1h5.8M37.6 145.4h3.6M16.8 182.4h2.9M43.9 165.5h2.9M21.7 142.2h6.6M25.5 150.2h2M21.5 167h5.6M24.6 130.6h5.5M21.4 171.2h5.9M23.6 149.8h5.2M23.2 164.1h4.7M6.8 148.3h6M9.3 311.9h4.8M24.7 306.2h4.7M27.2 196.1h2.4M28.2 267.9h8.6M4.8 284.3h2.3M24.1 250.9h3.4M17.4 313.3h8.6M28.8 209.9h2.4M0.2 224h3.8M28.4 306.1h9.6M41.2 249.1h5.6M27.9 370.9h2.5M3.3 355.1h4M1.5 322.3h7.8M5.2 293.9h2.5M41.5 351.8h3.3M36.9 289.3h2.1M15 218.1h6.9M20.2 202.7h5.5M19.9 237.6h9.9M32.1 194.9h8.2M23.5 246.3h4.7M17.2 263.3h2.4M28.2 289h3.7M1.5 215.2h5.4M8.1 250.4h8.1M15.1 311.2h3.8M8.4 193.9h6M24.8 307.6h3.6M3.8 249.1h2.5M21 237.6h2.4M12.2 330.6h3.7M3.6 334.5h10M13.4 192.2h3M21.8 279.7h2.3M25 292.7h3.9M42.3 291.2h4.5M20.4 263.2h5.9M13.8 309.5h2M34.4 274.7h8.9M25.3 196.6h2.2M15.3 235.6h5.1M5.2 296.8h7.7M19.3 259.5h8.1M28.9 284.3h5.2M22 196.1h8.2M36.8 297.8h3.2M0.2 251.1h2.2M16.2 237.6h5.4M21.6 297.8h4M18.6 338.7h5.6M13.6 217.3h3.2M21 205.1h5.5M21.5 272.7h2.3M23.4 257.2h2.4M12.4 262.1h2.7M18.3 296.8h5M22.3 321.6h1.7M0.2 274.9h3M44 250.5h2.8M39.1 281.6h7.1M38.4 225.8h2.7M1.6 314.4h9.5M35.8 357.9h6.7M34.7 270h4.4M0.2 211.1h3.5M7.3 283.4h3.3M13.1 349.9h9.2M19.6 313.2h3.1M15.9 358.3h2.5M5.9 285.1h3.4M18.8 246.9h3.2M19.9 225.4h3.3M27.7 272.8h4.5M20.8 287.6h1.7M14.6 343.2h4.1M29.9 369.6h5.2M8.7 264.1h8.3M38 282.2h8.6M24.8 303.1h2.7M42 230.9h4.8M20.9 224.1h2.4M32.7 366h2.5M17.5 217.3h9.3M41.7 358.6h5.1M0.2 335.6h5" stroke="#2b47a3" stroke-opacity="0.15" stroke-width="0.8"/>
<path d="M24 175.6h2.2M24.4 134.3h4.2M18.4 179.2h5.3M27.4 156.5h2.6M27.3 135.8h2.8M16.9 159.8h4M13.6 158.1h5M23.3 146.9h1.7M19.3 171.9h4.8M24.8 155.1h2.1M24.5 245.2h2.3M23.5 234.3h2.4M20.2 265.6h4.5M22.9 233h3.5M23.9 199.8h2M16 252.6h1.7M19.9 264.5h3.7M23.6 213.9h4.1M20.7 251.7h3M24.1 256.9h2.2M17.1 201.4h3.3M20.9 261h1.5M24.7 229.9h3.9M21 249.2h5.4M18.9 258.1h2.8M19 198.1h3.3M16.3 242.9h3.7M18.7 234.1h4.9M19.7 254h3.9M20.6 199.6h5.1M19.9 252.2h2.4" stroke="#2b47a3" stroke-opacity="0.2" stroke-width="0.8"/>
<path d="M24.3 167h2.8M20.2 161.8h3.5M20.5 150h5.3M23.2 140.9h3.2M27.8 170.1h1.8M26.9 160.3h1.9M19.2 148.2h4.1M19.7 136.2h3.8M16.2 137.9h6M17.2 162.6h5M23.8 159.6h3.2M21.5 132.7h5.3M22.5 164.1h3.1M25.5 214.5h5.3M18 244h2.3M20.1 205.3h1.5M22.2 193.7h3.5M24.5 203.5h4M20 228.4h4.3M18.2 219.3h2.5M22.1 199.3h2.7M19.6 226.3h4.3M20 217.5h1.7M25.1 212.3h1.6M13.9 200.8h4.1M15.8 225.3h4.9M18.7 227h4.7M13.9 201.8h5.5" stroke="#2b47a3" stroke-opacity="0.25" stroke-width="0.8"/>
<path d="M11.3 112.2h6M19.1 115.5h5.7M27.9 132h3.7M17.2 138.7h3.3M21.4 167.3h5.4M26.6 156h5.2M21.5 175.2h1.8M25.2 148.9h2M22.9 159.1h3.2M26.9 205.4h4.7" stroke="#2b47a3" stroke-opacity="0.3" stroke-width="0.8"/>
<path d="M7.9 109.3h4.2M5.9 106.9h2.3M16.2 142.7h4.1M18.2 154.7h3.6M18.4 157.2h2.5M27.3 154.6h2.8M27.7 131h3M29 161.7h2.9M23.8 139.8h3.7M23.7 144.7h2.9" stroke="#2b47a3" stroke-opacity="0.35" stroke-width="0.8"/>
<path d="M18 146h5.1M28.4 128.7h4.3" stroke="#2b47a3" stroke-opacity="0.4" stroke-width="0.8"/>
<path d="M24.2 106.9h6" stroke="#2b47a3" stroke-opacity="0.45" stroke-width="0.8"/>
<path d="M17.3 120.2h3.3" stroke="#2b47a3" stroke-opacity="0.5" stroke-width="0.8"/>
<path d="M17.7 105.6h3.3" stroke="#2b47a3" stroke-opacity="0.55" stroke-width="0.8"/>
<path d="M21.5 114.5h4M28.4 113.3h2.4" stroke="#2b47a3" stroke-opacity="0.6" stroke-width="0.8"/>
<path d="M21.4 118.1h3.9" stroke="#2b47a3" stroke-opacity="0.65" stroke-width="0.8"/>
<path d="M13.7 110.8h5.3M22.4 105.5h2.5" stroke="#2b47a3" stroke-opacity="0.7" stroke-width="0.8"/>
</g>
<rect x="314.3" y="76.3" width="47" height="4.4" fill="none" stroke="#555" stroke-width="0.7"/>
<rect x="314.3" y="85.4" width="47" height="10.9" fill="none" stroke="#555" stroke-width="0.7"/>
<rect x="314.3" y="101.2" width="47" height="21.3" fill="none" stroke="#555" stroke-width="0.7"/>
<rect x="314.3" y="127.1" width="47" height="56" fill="none" stroke="#555" stroke-width="0.7"/>
<rect x="314.3" y="188" width="47" height="188.2" fill="none" stroke="#555" stroke-width="0.7"/>
<line x1="314.3" y1="376.2" x2="314.3" y2="377.8" stroke="#777" stroke-width="0.6"/>
<line x1="337.8" y1="376.2" x2="337.8" y2="377.8" stroke="#777" stroke-width="0.6"/>
<line x1="361.3" y1="376.2" x2="361.3" y2="377.8" stroke="#777" stroke-width="0.6"/>
<text x="338.1" y="384.8" font-size="8.3" text-anchor="middle" fill="#222" textLength="47.5" lengthAdjust="spacingAndGlyphs">-1 center1Kb</text>
<g transform="translate(367,0)">
<path d="M0 95.3h47v1H0z" fill="url(#fl0)" fill-opacity="0.85"/>
<path d="M0 94.3h47v1H0z" fill="url(#fl0)" fill-opacity="0.9"/>
<path d="M0 93.3h47v1H0z" fill="url(#fl0)" fill-opacity="1.0"/>
<path d="M0 91.3h47v1H0zM0 92.3h47v1H0z" fill="url(#fl1)" fill-opacity="1.0"/>
<path d="M0 85.4h47v1H0zM0 90.4h47v1H0z" fill="url(#fl3)" fill-opacity="0.9"/>
<path d="M0 86.4h47v1H0zM0 88.4h47v1H0zM0 89.4h47v1H0z" fill="url(#fl3)" fill-opacity="1.0"/>
<path d="M0 87.4h47v1H0z" fill="url(#fl4)" fill-opacity="0.9"/>
<path d="M0 327.1h47v1H0zM0 328.1h47v1H0zM0 329.1h47v1H0z" fill="url(#h10_1)" fill-opacity="0.05"/>
<path d="M0 179.1h47v1H0z" fill="url(#h10_1)" fill-opacity="0.25"/>
<path d="M0 293.1h47v1H0zM0 294.1h47v1H0zM0 319.1h47v1H0zM0 320.1h47v1H0zM0 322.1h47v1H0zM0 326.1h47v1H0zM0 331.2h47v1H0zM0 334.2h47v1H0zM0 337.2h47v1H0zM0 338.2h47v1H0zM0 339.2h47v1H0zM0 340.2h47v1H0zM0 343.2h47v1H0zM0 346.2h47v1H0z" fill="url(#h10_2)" fill-opacity="0.05"/>
<path d="M0 95.3h47v1H0zM0 174.1h47v1H0z" fill="url(#h10_2)" fill-opacity="0.15"/>
<path d="M0 176.1h47v1H0zM0 177.1h47v1H0zM0 178.1h47v1H0zM0 181.1h47v1H0z" fill="url(#h10_2)" fill-opacity="0.2"/>
<path d="M0 164.1h47v1H0zM0 166.1h47v1H0zM0 180.1h47v1H0z" fill="url(#h10_2)" fill-opacity="0.25"/>
<path d="M0 111.3h47v1H0z" fill="url(#h10_2)" fill-opacity="0.55"/>
<path d="M0 109.3h47v1H0z" fill="url(#h10_2)" fill-opacity="0.65"/>
<path d="M0 318.1h47v1H0zM0 345.2h47v1H0z" fill="url(#h10_3)" fill-opacity="0.05"/>
<path d="M0 112.4h47v1H0z" fill="url(#h10_3)" fill-opacity="0.6"/>
<path d="M0 289.1h47v1H0zM0 324.1h47v1H0zM0 325.1h47v1H0z" fill="url(#h11_1)" fill-opacity="0.05"/>
<path d="M0 120.5h47v1H0z" fill="url(#h11_1)" fill-opacity="0.25"/>
<path d="M0 270.1h47v1H0zM0 271.1h47v1H0zM0 273.1h47v1H0zM0 274.1h47v1H0zM0 275.1h47v1H0zM0 281.1h47v1H0zM0 282.1h47v1H0zM0 283.1h47v1H0zM0 286.1h47v1H0zM0 287.1h47v1H0zM0 288.1h47v1H0zM0 290.1h47v1H0zM0 291.1h47v1H0zM0 292.1h47v1H0zM0 295.1h47v1H0zM0 296.1h47v1H0zM0 297.1h47v1H0zM0 298.1h47v1H0zM0 300.1h47v1H0zM0 301.1h47v1H0zM0 302.1h47v1H0zM0 303.1h47v1H0zM0 304.1h47v1H0zM0 306.1h47v1H0zM0 307.1h47v1H0zM0 308.1h47v1H0zM0 309.1h47v1H0zM0 310.1h47v1H0zM0 312.1h47v1H0zM0 315.1h47v1H0zM0 323.1h47v1H0zM0 330.2h47v1H0z" fill="url(#h11_2)" fill-opacity="0.05"/>
<path d="M0 175.1h47v1H0z" fill="url(#h11_2)" fill-opacity="0.15"/>
<path d="M0 92.3h47v1H0zM0 93.3h47v1H0zM0 94.3h47v1H0zM0 121.5h47v1H0zM0 155.1h47v1H0zM0 160.1h47v1H0zM0 163.1h47v1H0zM0 165.1h47v1H0zM0 168.1h47v1H0zM0 173.1h47v1H0z" fill="url(#h11_2)" fill-opacity="0.2"/>
<path d="M0 159.1h47v1H0zM0 167.1h47v1H0zM0 169.1h47v1H0zM0 172.1h47v1H0z" fill="url(#h11_2)" fill-opacity="0.25"/>
<path d="M0 105.3h47v1H0z" fill="url(#h11_2)" fill-opacity="0.4"/>
<path d="M0 106.3h47v1H0z" fill="url(#h11_2)" fill-opacity="0.5"/>
<path d="M0 107.3h47v1H0z" fill="url(#h11_2)" fill-opacity="0.6"/>
<path d="M0 108.3h47v1H0z" fill="url(#h11_2)" fill-opacity="0.65"/>
<path d="M0 272.1h47v1H0zM0 311.1h47v1H0zM0 313.1h47v1H0zM0 314.1h47v1H0zM0 316.1h47v1H0zM0 317.1h47v1H0z" fill="url(#h11_3)" fill-opacity="0.05"/>
<path d="M0 162.1h47v1H0zM0 171.1h47v1H0z" fill="url(#h11_3)" fill-opacity="0.2"/>
<path d="M0 170.1h47v1H0z" fill="url(#h11_3)" fill-opacity="0.25"/>
<path d="M0 215h47v1H0zM0 222h47v1H0zM0 224h47v1H0zM0 229h47v1H0zM0 232h47v1H0zM0 235.1h47v1H0zM0 236.1h47v1H0zM0 244.1h47v1H0zM0 249.1h47v1H0zM0 250.1h47v1H0zM0 251.1h47v1H0zM0 252.1h47v1H0zM0 255.1h47v1H0zM0 260.1h47v1H0zM0 262.1h47v1H0zM0 263.1h47v1H0zM0 264.1h47v1H0zM0 265.1h47v1H0zM0 276.1h47v1H0zM0 277.1h47v1H0zM0 278.1h47v1H0zM0 279.1h47v1H0zM0 280.1h47v1H0zM0 284.1h47v1H0zM0 285.1h47v1H0zM0 299.1h47v1H0zM0 305.1h47v1H0z" fill="url(#h12_2)" fill-opacity="0.05"/>
<path d="M0 145.1h47v1H0zM0 146.1h47v1H0zM0 153.1h47v1H0z" fill="url(#h12_2)" fill-opacity="0.15"/>
<path d="M0 140.1h47v1H0zM0 141.1h47v1H0zM0 147.1h47v1H0zM0 154.1h47v1H0zM0 156.1h47v1H0zM0 157.1h47v1H0zM0 158.1h47v1H0z" fill="url(#h12_2)" fill-opacity="0.2"/>
<path d="M0 119.5h47v1H0zM0 138.1h47v1H0zM0 139.1h47v1H0zM0 161.1h47v1H0z" fill="url(#h12_2)" fill-opacity="0.25"/>
<path d="M0 104.2h47v1H0z" fill="url(#h12_2)" fill-opacity="0.5"/>
<path d="M0 223h47v1H0zM0 256.1h47v1H0zM0 257.1h47v1H0zM0 258.1h47v1H0zM0 261.1h47v1H0zM0 268.1h47v1H0zM0 269.1h47v1H0z" fill="url(#h12_3)" fill-opacity="0.05"/>
<path d="M0 151.1h47v1H0z" fill="url(#h12_3)" fill-opacity="0.15"/>
<path d="M0 129.1h47v1H0zM0 150.1h47v1H0z" fill="url(#h12_3)" fill-opacity="0.2"/>
<path d="M0 148.1h47v1H0zM0 149.1h47v1H0z" fill="url(#h12_3)" fill-opacity="0.25"/>
<path d="M0 188h47v1H0zM0 189h47v1H0zM0 194h47v1H0zM0 195h47v1H0zM0 196h47v1H0zM0 198h47v1H0zM0 199h47v1H0zM0 201h47v1H0z" fill="url(#h13_1)" fill-opacity="0.05"/>
<path d="M0 116.4h47v1H0zM0 117.4h47v1H0z" fill="url(#h13_1)" fill-opacity="0.2"/>
<path d="M0 190h47v1H0zM0 192h47v1H0zM0 200h47v1H0zM0 203h47v1H0zM0 204h47v1H0zM0 205h47v1H0zM0 206h47v1H0zM0 207h47v1H0zM0 208h47v1H0zM0 209h47v1H0zM0 210h47v1H0zM0 211h47v1H0zM0 212h47v1H0zM0 213h47v1H0zM0 214h47v1H0zM0 216h47v1H0zM0 217h47v1H0zM0 220h47v1H0zM0 221h47v1H0zM0 225h47v1H0zM0 226h47v1H0zM0 227h47v1H0zM0 228h47v1H0zM0 230h47v1H0zM0 231h47v1H0zM0 233h47v1H0zM0 234h47v1H0zM0 237.1h47v1H0zM0 238.1h47v1H0zM0 239.1h47v1H0zM0 240.1h47v1H0zM0 241.1h47v1H0zM0 242.1h47v1H0zM0 243.1h47v1H0zM0 245.1h47v1H0zM0 246.1h47v1H0zM0 247.1h47v1H0zM0 248.1h47v1H0zM0 253.1h47v1H0zM0 254.1h47v1H0zM0 259.1h47v1H0z" fill="url(#h13_2)" fill-opacity="0.05"/>
<path d="M0 143.1h47v1H0zM0 144.1h47v1H0z" fill="url(#h13_2)" fill-opacity="0.15"/>
<path d="M0 91.3h47v1H0zM0 115.4h47v1H0zM0 118.4h47v1H0zM0 137.1h47v1H0zM0 142.1h47v1H0z" fill="url(#h13_2)" fill-opacity="0.2"/>
<path d="M0 127.1h47v1H0z" fill="url(#h13_2)" fill-opacity="0.25"/>
<path d="M0 218h47v1H0zM0 219h47v1H0zM0 266.1h47v1H0zM0 267.1h47v1H0z" fill="url(#h13_3)" fill-opacity="0.05"/>
<path d="M0 152.1h47v1H0z" fill="url(#h13_3)" fill-opacity="0.15"/>
<path d="M0 130.1h47v1H0zM0 132.1h47v1H0zM0 133.1h47v1H0zM0 135.1h47v1H0zM0 136.1h47v1H0z" fill="url(#h13_3)" fill-opacity="0.2"/>
<path d="M0 128.1h47v1H0zM0 131.1h47v1H0zM0 134.1h47v1H0z" fill="url(#h13_3)" fill-opacity="0.25"/>
<path d="M0 197h47v1H0zM0 202h47v1H0z" fill="url(#h14_1)" fill-opacity="0.05"/>
<path d="M0 191h47v1H0zM0 193h47v1H0z" fill="url(#h14_2)" fill-opacity="0.05"/>
<path d="M0 85.4h47v1H0zM0 86.4h47v1H0zM0 87.4h47v1H0zM0 88.4h47v1H0zM0 89.4h47v1H0zM0 90.4h47v1H0zM0 114.4h47v1H0z" fill="url(#h14_2)" fill-opacity="0.2"/>
<path d="M0 113.4h47v1H0z" fill="url(#h14_3)" fill-opacity="0.2"/>
<path d="M0 110.3h47v1H0zM0 111.3h47v1H0z" fill="url(#h15_2)" fill-opacity="0.2"/>
<path d="M0 108.3h47v1H0zM0 109.3h47v1H0z" fill="url(#h15_2)" fill-opacity="0.25"/>
<path d="M0 112.4h47v1H0z" fill="url(#h15_3)" fill-opacity="0.2"/>
<path d="M0 104.2h47v1H0zM0 105.3h47v1H0zM0 106.3h47v1H0z" fill="url(#h16_2)" fill-opacity="0.15"/>
<path d="M0 107.3h47v1H0z" fill="url(#h16_2)" fill-opacity="0.2"/>
<path d="M0 85.4h47v1H0zM0 88.4h47v1H0zM0 90.4h47v1H0zM0 91.3h47v1H0zM0 92.3h47v1H0zM0 94.3h47v1H0zM0 95.3h47v1H0zM0 101.2h47v1H0zM0 102.2h47v1H0zM0 103.2h47v1H0zM0 105.3h47v1H0zM0 112.4h47v1H0zM0 113.4h47v1H0zM0 116.4h47v1H0zM0 118.4h47v1H0zM0 119.5h47v1H0zM0 127.1h47v1H0zM0 128.1h47v1H0zM0 130.1h47v1H0zM0 131.1h47v1H0zM0 132.1h47v1H0zM0 133.1h47v1H0zM0 135.1h47v1H0zM0 136.1h47v1H0zM0 137.1h47v1H0zM0 139.1h47v1H0zM0 141.1h47v1H0zM0 142.1h47v1H0zM0 143.1h47v1H0zM0 146.1h47v1H0zM0 147.1h47v1H0zM0 148.1h47v1H0zM0 150.1h47v1H0zM0 151.1h47v1H0zM0 152.1h47v1H0zM0 153.1h47v1H0zM0 154.1h47v1H0zM0 156.1h47v1H0zM0 157.1h47v1H0zM0 161.1h47v1H0zM0 163.1h47v1H0zM0 164.1h47v1H0zM0 165.1h47v1H0zM0 166.1h47v1H0zM0 167.1h47v1H0zM0 170.1h47v1H0zM0 171.1h47v1H0zM0 175.1h47v1H0zM0 177.1h47v1H0zM0 178.1h47v1H0zM0 179.1h47v1H0zM0 180.1h47v1H0zM0 181.1h47v1H0zM0 182.1h47v1H0zM0 189h47v1H0zM0 192h47v1H0zM0 197h47v1H0zM0 199h47v1H0zM0 200h47v1H0zM0 202h47v1H0zM0 204h47v1H0zM0 205h47v1H0zM0 209h47v1H0zM0 212h47v1H0zM0 213h47v1H0zM0 214h47v1H0zM0 215h47v1H0zM0 216h47v1H0zM0 217h47v1H0zM0 218h47v1H0zM0 219h47v1H0zM0 220h47v1H0zM0 222h47v1H0zM0 223h47v1H0zM0 224h47v1H0zM0 225h47v1H0zM0 227h47v1H0zM0 228h47v1H0zM0 229h47v1H0zM0 230h47v1H0zM0 231h47v1H0zM0 232h47v1H0zM0 233h47v1H0zM0 234h47v1H0zM0 235.1h47v1H0zM0 237.1h47v1H0zM0 238.1h47v1H0zM0 239.1h47v1H0zM0 241.1h47v1H0zM0 242.1h47v1H0zM0 244.1h47v1H0zM0 246.1h47v1H0zM0 247.1h47v1H0zM0 248.1h47v1H0zM0 249.1h47v1H0zM0 250.1h47v1H0zM0 251.1h47v1H0zM0 252.1h47v1H0zM0 254.1h47v1H0zM0 255.1h47v1H0zM0 256.1h47v1H0zM0 257.1h47v1H0zM0 260.1h47v1H0zM0 261.1h47v1H0zM0 262.1h47v1H0zM0 263.1h47v1H0zM0 264.1h47v1H0zM0 265.1h47v1H0zM0 267.1h47v1H0zM0 268.1h47v1H0zM0 269.1h47v1H0zM0 270.1h47v1H0zM0 271.1h47v1H0zM0 272.1h47v1H0zM0 274.1h47v1H0zM0 275.1h47v1H0zM0 276.1h47v1H0zM0 277.1h47v1H0zM0 278.1h47v1H0zM0 279.1h47v1H0zM0 280.1h47v1H0zM0 281.1h47v1H0zM0 282.1h47v1H0zM0 283.1h47v1H0zM0 284.1h47v1H0zM0 285.1h47v1H0zM0 286.1h47v1H0zM0 287.1h47v1H0zM0 290.1h47v1H0zM0 293.1h47v1H0zM0 294.1h47v1H0zM0 298.1h47v1H0zM0 299.1h47v1H0zM0 302.1h47v1H0zM0 304.1h47v1H0zM0 305.1h47v1H0zM0 306.1h47v1H0zM0 308.1h47v1H0zM0 309.1h47v1H0zM0 310.1h47v1H0zM0 312.1h47v1H0zM0 314.1h47v1H0zM0 315.1h47v1H0zM0 316.1h47v1H0zM0 317.1h47v1H0zM0 318.1h47v1H0zM0 319.1h47v1H0zM0 320.1h47v1H0zM0 321.1h47v1H0zM0 322.1h47v1H0zM0 323.1h47v1H0zM0 325.1h47v1H0zM0 327.1h47v1H0zM0 328.1h47v1H0zM0 329.1h47v1H0zM0 330.2h47v1H0zM0 332.2h47v1H0zM0 334.2h47v1H0zM0 336.2h47v1H0zM0 338.2h47v1H0zM0 340.2h47v1H0zM0 342.2h47v1H0zM0 344.2h47v1H0zM0 345.2h47v1H0zM0 346.2h47v1H0zM0 347.2h47v1H0zM0 348.2h47v1H0zM0 351.2h47v1H0zM0 352.2h47v1H0zM0 353.2h47v1H0zM0 354.2h47v1H0zM0 355.2h47v1H0zM0 356.2h47v1H0zM0 357.2h47v1H0zM0 358.2h47v1H0zM0 359.2h47v1H0zM0 361.2h47v1H0zM0 362.2h47v1H0zM0 363.2h47v1H0zM0 364.2h47v1H0zM0 365.2h47v1H0zM0 366.2h47v1H0zM0 367.2h47v1H0zM0 368.2h47v1H0zM0 369.2h47v1H0zM0 371.2h47v1H0zM0 372.2h47v1H0zM0 374.2h47v1H0zM0 375.2h47v1H0z" fill="url(#h17_2)" fill-opacity="0.025"/>
<path d="M0 77.4h47v1.1H0zM0 86.4h47v1H0zM0 93.3h47v1H0zM0 106.3h47v1H0zM0 111.3h47v1H0zM0 120.5h47v1H0zM0 129.1h47v1H0zM0 134.1h47v1H0zM0 138.1h47v1H0zM0 140.1h47v1H0zM0 145.1h47v1H0zM0 149.1h47v1H0zM0 155.1h47v1H0zM0 158.1h47v1H0zM0 159.1h47v1H0zM0 160.1h47v1H0zM0 162.1h47v1H0zM0 168.1h47v1H0zM0 169.1h47v1H0zM0 173.1h47v1H0zM0 174.1h47v1H0zM0 176.1h47v1H0zM0 188h47v1H0zM0 191h47v1H0zM0 196h47v1H0zM0 203h47v1H0zM0 206h47v1H0zM0 207h47v1H0zM0 221h47v1H0zM0 226h47v1H0zM0 236.1h47v1H0zM0 245.1h47v1H0zM0 253.1h47v1H0zM0 259.1h47v1H0zM0 266.1h47v1H0zM0 288.1h47v1H0zM0 289.1h47v1H0zM0 295.1h47v1H0zM0 301.1h47v1H0zM0 303.1h47v1H0zM0 313.1h47v1H0zM0 324.1h47v1H0zM0 326.1h47v1H0zM0 331.2h47v1H0zM0 333.2h47v1H0zM0 337.2h47v1H0zM0 341.2h47v1H0zM0 350.2h47v1H0zM0 370.2h47v1H0z" fill="url(#h17_2)" fill-opacity="0.05"/>
<path d="M0 78.5h47v1.1H0zM0 104.2h47v1H0zM0 107.3h47v1H0zM0 108.3h47v1H0zM0 109.3h47v1H0zM0 110.3h47v1H0zM0 114.4h47v1H0zM0 115.4h47v1H0zM0 117.4h47v1H0zM0 121.5h47v1H0zM0 144.1h47v1H0zM0 172.1h47v1H0zM0 190h47v1H0zM0 193h47v1H0zM0 194h47v1H0zM0 198h47v1H0zM0 208h47v1H0zM0 210h47v1H0zM0 211h47v1H0zM0 240.1h47v1H0zM0 291.1h47v1H0zM0 292.1h47v1H0zM0 296.1h47v1H0zM0 300.1h47v1H0zM0 311.1h47v1H0zM0 335.2h47v1H0zM0 343.2h47v1H0z" fill="url(#h17_2)" fill-opacity="0.075"/>
<path d="M0 76.3h47v1.1H0zM0 78.5h47v1.1H0zM0 201h47v1H0z" fill="url(#h17_2)" fill-opacity="0.1"/>
<path d="M0 195h47v1H0z" fill="url(#h17_2)" fill-opacity="0.125"/>
<path d="M0 79.6h47v1.1H0z" fill="url(#h17_2)" fill-opacity="0.15"/>
<path d="M0 103.2h47v1H0z" fill="url(#h17_2)" fill-opacity="0.2"/>
<path d="M0 102.2h47v1H0z" fill="url(#h17_2)" fill-opacity="0.3"/>
<path d="M0 101.2h47v1H0z" fill="url(#h17_2)" fill-opacity="0.35"/>
<path d="M0 77.4h47v1.1H0zM0 103.2h47v1H0z" fill="url(#h17_2)" fill-opacity="0.6"/>
<path d="M0 79.6h47v1.1H0zM0 102.2h47v1H0z" fill="url(#h17_2)" fill-opacity="0.8"/>
<path d="M0 76.3h47v1.1H0z" fill="url(#h17_2)" fill-opacity="0.9"/>
<path d="M0 101.2h47v1H0z" fill="url(#h17_2)" fill-opacity="0.95"/>
<path d="M0 371.2h47v1H0z" fill="url(#h1_1)" fill-opacity="0.2"/>
<path d="M0 372.2h47v1H0zM0 373.2h47v1H0z" fill="url(#h1_2)" fill-opacity="0.25"/>
<path d="M0 369.2h47v1H0z" fill="url(#h2_1)" fill-opacity="0.2"/>
<path d="M0 358.2h47v1H0z" fill="url(#h2_1)" fill-opacity="0.25"/>
<path d="M0 374.2h47v1H0z" fill="url(#h2_1)" fill-opacity="0.3"/>
<path d="M0 351.2h47v1H0zM0 353.2h47v1H0zM0 354.2h47v1H0zM0 360.2h47v1H0zM0 368.2h47v1H0zM0 370.2h47v1H0zM0 375.2h47v1H0z" fill="url(#h2_2)" fill-opacity="0.25"/>
<path d="M0 348.2h47v1H0zM0 349.2h47v1H0zM0 355.2h47v1H0zM0 359.2h47v1H0zM0 362.2h47v1H0z" fill="url(#h2_2)" fill-opacity="0.3"/>
<path d="M0 361.2h47v1H0z" fill="url(#h2_3)" fill-opacity="0.25"/>
<path d="M0 363.2h47v1H0z" fill="url(#h2_3)" fill-opacity="0.3"/>
<path d="M0 357.2h47v1H0z" fill="url(#h3_1)" fill-opacity="0.2"/>
<path d="M0 347.2h47v1H0zM0 352.2h47v1H0zM0 365.2h47v1H0zM0 366.2h47v1H0zM0 367.2h47v1H0z" fill="url(#h3_2)" fill-opacity="0.2"/>
<path d="M0 321.1h47v1H0zM0 332.2h47v1H0zM0 336.2h47v1H0zM0 343.2h47v1H0zM0 350.2h47v1H0zM0 356.2h47v1H0z" fill="url(#h3_2)" fill-opacity="0.25"/>
<path d="M0 333.2h47v1H0z" fill="url(#h3_2)" fill-opacity="0.3"/>
<path d="M0 335.2h47v1H0zM0 341.2h47v1H0zM0 342.2h47v1H0z" fill="url(#h3_2)" fill-opacity="0.35"/>
<path d="M0 182.1h47v1H0z" fill="url(#h3_2)" fill-opacity="0.6"/>
<path d="M0 364.2h47v1H0z" fill="url(#h3_3)" fill-opacity="0.25"/>
<path d="M0 344.2h47v1H0z" fill="url(#h3_3)" fill-opacity="0.3"/>
<path d="M0 328.1h47v1H0z" fill="url(#h4_1)" fill-opacity="0.25"/>
<path d="M0 324.1h47v1H0zM0 327.1h47v1H0zM0 329.1h47v1H0z" fill="url(#h4_1)" fill-opacity="0.3"/>
<path d="M0 325.1h47v1H0z" fill="url(#h4_1)" fill-opacity="0.35"/>
<path d="M0 289.1h47v1H0z" fill="url(#h4_1)" fill-opacity="0.4"/>
<path d="M0 179.1h47v1H0z" fill="url(#h4_1)" fill-opacity="0.75"/>
<path d="M0 293.1h47v1H0zM0 310.1h47v1H0zM0 319.1h47v1H0zM0 322.1h47v1H0zM0 323.1h47v1H0zM0 331.2h47v1H0zM0 339.2h47v1H0zM0 346.2h47v1H0z" fill="url(#h4_2)" fill-opacity="0.25"/>
<path d="M0 292.1h47v1H0zM0 320.1h47v1H0zM0 326.1h47v1H0zM0 330.2h47v1H0zM0 334.2h47v1H0zM0 337.2h47v1H0zM0 338.2h47v1H0z" fill="url(#h4_2)" fill-opacity="0.3"/>
<path d="M0 308.1h47v1H0zM0 340.2h47v1H0z" fill="url(#h4_2)" fill-opacity="0.35"/>
<path d="M0 294.1h47v1H0z" fill="url(#h4_2)" fill-opacity="0.4"/>
<path d="M0 287.1h47v1H0z" fill="url(#h4_2)" fill-opacity="0.45"/>
<path d="M0 175.1h47v1H0z" fill="url(#h4_2)" fill-opacity="0.55"/>
<path d="M0 174.1h47v1H0z" fill="url(#h4_2)" fill-opacity="0.6"/>
<path d="M0 121.5h47v1H0zM0 176.1h47v1H0zM0 177.1h47v1H0z" fill="url(#h4_2)" fill-opacity="0.65"/>
<path d="M0 165.1h47v1H0zM0 178.1h47v1H0zM0 181.1h47v1H0z" fill="url(#h4_2)" fill-opacity="0.7"/>
<path d="M0 164.1h47v1H0z" fill="url(#h4_2)" fill-opacity="0.75"/>
<path d="M0 166.1h47v1H0zM0 180.1h47v1H0z" fill="url(#h4_2)" fill-opacity="0.8"/>
<path d="M0 318.1h47v1H0z" fill="url(#h4_3)" fill-opacity="0.3"/>
<path d="M0 345.2h47v1H0z" fill="url(#h4_3)" fill-opacity="0.35"/>
<path d="M0 170.1h47v1H0z" fill="url(#h4_3)" fill-opacity="0.85"/>
<path d="M0 120.5h47v1H0z" fill="url(#h5_1)" fill-opacity="0.65"/>
<path d="M0 296.1h47v1H0z" fill="url(#h5_2)" fill-opacity="0.25"/>
<path d="M0 270.1h47v1H0zM0 276.1h47v1H0zM0 277.1h47v1H0zM0 290.1h47v1H0zM0 295.1h47v1H0zM0 297.1h47v1H0zM0 307.1h47v1H0zM0 309.1h47v1H0zM0 312.1h47v1H0z" fill="url(#h5_2)" fill-opacity="0.3"/>
<path d="M0 271.1h47v1H0zM0 273.1h47v1H0zM0 275.1h47v1H0zM0 288.1h47v1H0zM0 291.1h47v1H0zM0 298.1h47v1H0zM0 299.1h47v1H0zM0 300.1h47v1H0zM0 304.1h47v1H0z" fill="url(#h5_2)" fill-opacity="0.35"/>
<path d="M0 282.1h47v1H0zM0 283.1h47v1H0zM0 284.1h47v1H0zM0 301.1h47v1H0zM0 302.1h47v1H0zM0 305.1h47v1H0zM0 306.1h47v1H0zM0 315.1h47v1H0z" fill="url(#h5_2)" fill-opacity="0.4"/>
<path d="M0 263.1h47v1H0zM0 274.1h47v1H0zM0 280.1h47v1H0zM0 281.1h47v1H0zM0 285.1h47v1H0zM0 286.1h47v1H0zM0 303.1h47v1H0z" fill="url(#h5_2)" fill-opacity="0.45"/>
<path d="M0 158.1h47v1H0z" fill="url(#h5_2)" fill-opacity="0.6"/>
<path d="M0 147.1h47v1H0zM0 173.1h47v1H0z" fill="url(#h5_2)" fill-opacity="0.65"/>
<path d="M0 155.1h47v1H0zM0 160.1h47v1H0zM0 163.1h47v1H0zM0 168.1h47v1H0z" fill="url(#h5_2)" fill-opacity="0.7"/>
<path d="M0 159.1h47v1H0zM0 167.1h47v1H0zM0 172.1h47v1H0z" fill="url(#h5_2)" fill-opacity="0.75"/>
<path d="M0 169.1h47v1H0z" fill="url(#h5_2)" fill-opacity="0.8"/>
<path d="M0 161.1h47v1H0z" fill="url(#h5_2)" fill-opacity="0.85"/>
<path d="M0 311.1h47v1H0zM0 317.1h47v1H0z" fill="url(#h5_3)" fill-opacity="0.25"/>
<path d="M0 269.1h47v1H0zM0 316.1h47v1H0z" fill="url(#h5_3)" fill-opacity="0.3"/>
<path d="M0 313.1h47v1H0zM0 314.1h47v1H0z" fill="url(#h5_3)" fill-opacity="0.35"/>
<path d="M0 256.1h47v1H0zM0 272.1h47v1H0z" fill="url(#h5_3)" fill-opacity="0.45"/>
<path d="M0 171.1h47v1H0z" fill="url(#h5_3)" fill-opacity="0.7"/>
<path d="M0 162.1h47v1H0z" fill="url(#h5_3)" fill-opacity="0.75"/>
<path d="M0 373.2h47v1H0z" fill="url(#h6_2)" fill-opacity="0.05"/>
<path d="M0 228h47v1H0zM0 229h47v1H0zM0 244.1h47v1H0z" fill="url(#h6_2)" fill-opacity="0.3"/>
<path d="M0 215h47v1H0zM0 224h47v1H0zM0 234h47v1H0zM0 245.1h47v1H0zM0 264.1h47v1H0zM0 278.1h47v1H0z" fill="url(#h6_2)" fill-opacity="0.35"/>
<path d="M0 232h47v1H0zM0 249.1h47v1H0zM0 250.1h47v1H0zM0 255.1h47v1H0zM0 262.1h47v1H0zM0 265.1h47v1H0zM0 279.1h47v1H0z" fill="url(#h6_2)" fill-opacity="0.4"/>
<path d="M0 207h47v1H0zM0 212h47v1H0zM0 235.1h47v1H0zM0 251.1h47v1H0zM0 252.1h47v1H0z" fill="url(#h6_2)" fill-opacity="0.45"/>
<path d="M0 146.1h47v1H0zM0 153.1h47v1H0zM0 222h47v1H0zM0 236.1h47v1H0zM0 248.1h47v1H0zM0 259.1h47v1H0zM0 260.1h47v1H0z" fill="url(#h6_2)" fill-opacity="0.5"/>
<path d="M0 144.1h47v1H0zM0 145.1h47v1H0z" fill="url(#h6_2)" fill-opacity="0.55"/>
<path d="M0 154.1h47v1H0z" fill="url(#h6_2)" fill-opacity="0.6"/>
<path d="M0 119.5h47v1H0zM0 140.1h47v1H0zM0 141.1h47v1H0zM0 142.1h47v1H0zM0 156.1h47v1H0z" fill="url(#h6_2)" fill-opacity="0.65"/>
<path d="M0 157.1h47v1H0z" fill="url(#h6_2)" fill-opacity="0.7"/>
<path d="M0 138.1h47v1H0zM0 139.1h47v1H0z" fill="url(#h6_2)" fill-opacity="0.8"/>
<path d="M0 223h47v1H0zM0 257.1h47v1H0zM0 267.1h47v1H0zM0 268.1h47v1H0z" fill="url(#h6_3)" fill-opacity="0.35"/>
<path d="M0 258.1h47v1H0zM0 261.1h47v1H0zM0 266.1h47v1H0z" fill="url(#h6_3)" fill-opacity="0.45"/>
<path d="M0 151.1h47v1H0zM0 152.1h47v1H0z" fill="url(#h6_3)" fill-opacity="0.55"/>
<path d="M0 129.1h47v1H0zM0 150.1h47v1H0z" fill="url(#h6_3)" fill-opacity="0.65"/>
<path d="M0 149.1h47v1H0z" fill="url(#h6_3)" fill-opacity="0.75"/>
<path d="M0 148.1h47v1H0z" fill="url(#h6_3)" fill-opacity="0.8"/>
<path d="M0 195h47v1H0zM0 196h47v1H0zM0 199h47v1H0z" fill="url(#h7_1)" fill-opacity="0.35"/>
<path d="M0 188h47v1H0zM0 194h47v1H0z" fill="url(#h7_1)" fill-opacity="0.45"/>
<path d="M0 189h47v1H0zM0 198h47v1H0z" fill="url(#h7_1)" fill-opacity="0.5"/>
<path d="M0 116.4h47v1H0zM0 117.4h47v1H0z" fill="url(#h7_1)" fill-opacity="0.55"/>
<path d="M0 372.2h47v1H0z" fill="url(#h7_2)" fill-opacity="0.05"/>
<path d="M0 230h47v1H0zM0 231h47v1H0zM0 240.1h47v1H0z" fill="url(#h7_2)" fill-opacity="0.3"/>
<path d="M0 211h47v1H0zM0 216h47v1H0zM0 225h47v1H0zM0 233h47v1H0zM0 243.1h47v1H0zM0 253.1h47v1H0zM0 254.1h47v1H0z" fill="url(#h7_2)" fill-opacity="0.35"/>
<path d="M0 206h47v1H0zM0 208h47v1H0zM0 209h47v1H0zM0 220h47v1H0zM0 221h47v1H0zM0 227h47v1H0zM0 238.1h47v1H0zM0 239.1h47v1H0zM0 246.1h47v1H0z" fill="url(#h7_2)" fill-opacity="0.4"/>
<path d="M0 200h47v1H0zM0 203h47v1H0zM0 214h47v1H0zM0 217h47v1H0zM0 226h47v1H0zM0 241.1h47v1H0zM0 242.1h47v1H0zM0 247.1h47v1H0z" fill="url(#h7_2)" fill-opacity="0.45"/>
<path d="M0 205h47v1H0zM0 213h47v1H0zM0 237.1h47v1H0z" fill="url(#h7_2)" fill-opacity="0.5"/>
<path d="M0 115.4h47v1H0zM0 143.1h47v1H0z" fill="url(#h7_2)" fill-opacity="0.55"/>
<path d="M0 118.4h47v1H0zM0 192h47v1H0z" fill="url(#h7_2)" fill-opacity="0.6"/>
<path d="M0 137.1h47v1H0z" fill="url(#h7_2)" fill-opacity="0.65"/>
<path d="M0 127.1h47v1H0z" fill="url(#h7_2)" fill-opacity="0.8"/>
<path d="M0 218h47v1H0z" fill="url(#h7_3)" fill-opacity="0.55"/>
<path d="M0 136.1h47v1H0z" fill="url(#h7_3)" fill-opacity="0.6"/>
<path d="M0 130.1h47v1H0zM0 133.1h47v1H0z" fill="url(#h7_3)" fill-opacity="0.7"/>
<path d="M0 132.1h47v1H0z" fill="url(#h7_3)" fill-opacity="0.75"/>
<path d="M0 128.1h47v1H0zM0 131.1h47v1H0zM0 134.1h47v1H0z" fill="url(#h7_3)" fill-opacity="0.8"/>
<path d="M0 358.2h47v1H0zM0 374.2h47v1H0z" fill="url(#h8_1)" fill-opacity="0.05"/>
<path d="M0 202h47v1H0z" fill="url(#h8_1)" fill-opacity="0.35"/>
<path d="M0 201h47v1H0z" fill="url(#h8_1)" fill-opacity="0.4"/>
<path d="M0 197h47v1H0z" fill="url(#h8_1)" fill-opacity="0.5"/>
<path d="M0 348.2h47v1H0zM0 349.2h47v1H0zM0 353.2h47v1H0zM0 354.2h47v1H0zM0 355.2h47v1H0zM0 359.2h47v1H0zM0 362.2h47v1H0zM0 368.2h47v1H0zM0 370.2h47v1H0zM0 375.2h47v1H0z" fill="url(#h8_2)" fill-opacity="0.05"/>
<path d="M0 210h47v1H0z" fill="url(#h8_2)" fill-opacity="0.35"/>
<path d="M0 190h47v1H0z" fill="url(#h8_2)" fill-opacity="0.4"/>
<path d="M0 191h47v1H0zM0 204h47v1H0z" fill="url(#h8_2)" fill-opacity="0.5"/>
<path d="M0 193h47v1H0z" fill="url(#h8_2)" fill-opacity="0.55"/>
<path d="M0 114.4h47v1H0z" fill="url(#h8_2)" fill-opacity="0.6"/>
<path d="M0 361.2h47v1H0zM0 363.2h47v1H0z" fill="url(#h8_3)" fill-opacity="0.05"/>
<path d="M0 219h47v1H0z" fill="url(#h8_3)" fill-opacity="0.4"/>
<path d="M0 135.1h47v1H0z" fill="url(#h8_3)" fill-opacity="0.65"/>
<path d="M0 321.1h47v1H0zM0 332.2h47v1H0zM0 333.2h47v1H0zM0 335.2h47v1H0zM0 336.2h47v1H0zM0 341.2h47v1H0zM0 342.2h47v1H0zM0 347.2h47v1H0zM0 350.2h47v1H0zM0 351.2h47v1H0zM0 352.2h47v1H0zM0 356.2h47v1H0zM0 360.2h47v1H0zM0 365.2h47v1H0zM0 366.2h47v1H0z" fill="url(#h9_2)" fill-opacity="0.05"/>
<path d="M0 182.1h47v1H0z" fill="url(#h9_2)" fill-opacity="0.2"/>
<path d="M0 110.3h47v1H0z" fill="url(#h9_2)" fill-opacity="0.65"/>
<path d="M0 344.2h47v1H0zM0 364.2h47v1H0z" fill="url(#h9_3)" fill-opacity="0.05"/>
<path d="M0 113.4h47v1H0z" fill="url(#h9_3)" fill-opacity="0.5"/>
<path d="M7.4 112.1h6M5.6 117h8.3M28.3 108.5h2.2M9.4 115.4h8.8M25.1 146.1h2.7M24.1 161.5h5.5M27.2 180.9h6.9M13.6 138.8h4.7M33 178.6h2.7M19.5 147.9h8M14.4 168.6h4.8M6.2 164.6h5.3M5.3 128.5h8.1M29.3 131.2h6.4M4.3 171h2.1M38.9 151h6.5M21.8 132.3h2.9M23.8 141.7h10M21.8 163.2h8.9M30.5 153.8h3.5M37.2 364.2h8.3M37.3 258.2h8.8M24.8 271.9h9.8M26.6 197.1h9.4M39.6 239.2h7.2M41.3 262.9h4.6M9.8 347.4h6.3M38 213.8h7.6M14.1 345.6h7.1M8.1 371.8h3.3M37.7 253.2h8.2M23.8 271.2h2.5M10.4 335h7.6M28.3 271.5h6.3M10.9 293.7h9.1M1.9 305.1h8.1M38.7 252.9h6.4M8.2 299.9h9.4M34.1 292.4h4.8M44.1 342.8h2.7M14 337.6h8.4M2.9 322.4h7.9M32.4 235.2h3.8M23 319.3h3.4M21.7 251.4h7.7M13.2 342.5h4.3M10.9 337.5h8.1M0.5 318.2h3.9M12.3 202.8h5.6M1.2 324.5h4.8M18 215.9h5.3M14 328.2h6.9M41.3 333.5h5.5M41.8 350.4h4.1M0.2 192.2h2.6M0.2 326.7h4.5M32.2 286.7h6.3M29 254.1h3.8M0.2 299.2h4.3" stroke="#2b47a3" stroke-opacity="0.05" stroke-width="0.8"/>
<path d="M21.8 106.8h4.3M34.5 109.9h7.8M14.4 106h4.9M27.8 115h4.2M40.1 108.4h3.5M26.8 108.3h3M10.5 110.5h6.1M11.1 145.7h9.7M29.1 139.7h6M32.6 173.3h5.6M27.9 151.8h8.9M35.2 166.1h3.6M17.5 167.9h3.2M15.9 149.9h6.5M7.1 153h8.9M0.2 163.7h3.1M10.1 143.4h8.5M0.2 144.2h2.2M31.2 155.6h5.3M3.1 153h2.8M20.8 349.8h5.8M34.9 192.4h6.4M33.2 321.1h6.8M21.9 361.1h9.4M34.3 271.9h2.9M7.1 304.5h9.1M20.3 262.5h6.9M22.5 375.1h1.7M0.2 298.2h2.4M9.1 343.1h5M25.8 243.9h6.3M38 362.3h8.8M26 305.2h7.6M0.2 199.7h5.5M13.9 234.8h8.4M11 344.6h7.5M38.3 234.7h5.6M23.5 322.2h3M27.5 241.4h5M16.7 361h8.9M28 327.1h6.1M36 360.9h9.9M34.2 193.2h8.6M20.2 228.5h3.6M25.1 220.7h5.4M23.6 370.8h2.8M6.9 300.4h4.7M30.7 241.5h4M0.2 366.3h2.7M17.9 235.3h6.2M26.9 302.4h4.7M36.2 233.1h6M22.3 372.4h2M11.1 276.5h9.7M12.3 335.2h5.3M0.2 365.7h7.6M29.7 215.9h3M0.2 265.9h1.2M19.1 295.2h9.9M30.9 208.5h8.2M39.7 285.1h7.1M34.1 298.7h3M15.2 191.7h6.7M19 364.3h5.5M0.4 350.2h9.9M26.7 201.3h9.1M2 363.1h5.4M11 252.6h8.5M1.7 249.8h7M40.3 245.8h4M17.4 310.9h2.2M35.9 236.8h5.4M34.2 233.8h2.4M21.4 354.9h2.4M28.1 339.3h4.3M29.2 219.3h3.4M40.9 292.1h2.3M1.7 301.2h8.8M31.8 350.3h8.3M0.6 264.8h8.4M35.9 344.2h4.6M37.7 284.6h7.5M33.3 264.1h4.9M36.3 239.7h2.7M17.9 292.2h2.7M33 325.5h9.1M3.1 280.1h7.7M26 342.6h2.1M36.6 203.1h5.6M22.7 368h1.8M26.3 367.6h4M0.2 236.6h5.4M0.2 225.8h4.3M27.1 189.5h2.1M20.8 373.1h3.6M18.8 330.4h6.9M24.3 356.3h3.8M6.6 306.5h10M16.1 261.8h8.9M42.7 327.9h2M19.2 368.2h5M11.8 285.9h8M23.8 278.7h6.7M27.9 314.6h2.6M9.6 296h2.8M15.4 252.2h6.3M32.3 345.7h7.7M19.2 229.9h7.7" stroke="#2b47a3" stroke-opacity="0.1" stroke-width="0.8"/>
<path d="M43.5 112.4h3.3M29.1 107.2h8.8M16.8 118.8h2.8M19.3 107h2.7M7.4 109.2h4.9M43.6 129.4h3.2M27.2 178.5h3.1M22 178.1h3.6M3.7 160.7h4.3M29.1 175.1h5.5M8 158.9h4.5M16.8 129.6h5.1M26.8 128.3h5.8M2.1 134h2.2M11.6 134.3h5.1M16.4 163.1h4.2M3.8 138.3h5.3M40.4 137.9h6.4M7.5 153.2h7.7M25.3 313.8h4.1M20.8 282.9h5.9M20.5 340.7h2.4M27 362.8h8.2M20.7 298.3h3.7M28.4 267.7h8.7M36.9 210.2h8.1M21.1 194h9.7M22.8 365.8h5.4M40.1 249.4h6.7M35.3 221.3h2.1M22.1 297.2h5.2M26.3 231.4h4.9M36.8 333.2h4.6M20.8 260.6h3M28.2 236.5h3.8M14.7 332.4h3.2M20.9 358.1h3.1M2.3 338.3h3.8M17.9 256.9h3.8M13.6 313.5h8.6M21.2 240.8h5.2M13 273.4h6.8M13.2 244.4h6.6M16.8 341.1h2.1M21.6 352.7h3.2M3.9 220.9h3.2M27.4 345h2.5M12 333.4h8.3M6.8 216.4h2.8M3.3 328.8h2.8M3.5 284.4h5.4M20.1 228.8h3.4M19 195h7.6M12.4 325.1h3.6M22.4 257.2h5.4M21.6 345.1h4.6M10.7 222.5h9.6M14 264.1h9.2M8.7 268.2h6.2M22.5 372.3h3.1M22.5 352.1h3.6M24 344h2.1M20.5 317.5h2.2M17.6 311.9h2.2M22.7 338.3h5.7M23.7 318.3h2.2M0.2 225h4.8M23 360.7h5.1M39.7 217.8h5.2M23.3 316.7h6.2M11.5 246.2h9.6M16.4 275.3h3.6M15.7 279.9h4.8M23.2 372.8h4.2M13.6 209.5h4.6M39.4 256h7.4M3.2 321.1h2.6M42.5 274.4h4.3M42.4 240h4.4M21.6 346.3h5.3M38.8 236.3h3.4M19.9 207.5h2.8M6.9 287h5.3M39.3 270.6h7.5M23.2 341h2M35.6 324.4h3M19.1 348.9h1.5M21 372.5h5.9M10.6 320h7.9M19.6 304.4h2.2M20.2 283.8h3.9M23.7 255.9h5.3M24.8 274.1h3.8M15.3 293.6h4.3M39.3 191.5h2.6M43.8 308h3M18.7 294.9h5" stroke="#2b47a3" stroke-opacity="0.15" stroke-width="0.8"/>
<path d="M6.8 102.9h5.8M24 117.4h5.6M17.6 110.6h3.3M20.6 113.6h5.1M24.8 111.1h3.2M22.9 347.2h2.9M27.1 238.6h1.6M20.4 258h4.7M22.3 304.7h3.2M28 217.7h4.7M18.9 194.3h5M25 297.7h3.4M17.2 245h1.7M24.2 310.9h2.4M22.2 332.6h4.9M23.2 210.3h2.3M19.1 313h3.4M20.4 364.7h5M21.7 340.6h1.6M23.8 280.1h5.9M25.5 375.3h5.3M21.4 325.5h2.2M24.2 268.2h4M23.9 308h2.3M24.5 237.5h2.1M24.2 269.6h2.5M23.9 334.3h5M20.3 368.3h4.7M21.1 227.7h3.5M18.5 267.7h4M23.2 226.6h3.6M25.1 334.4h3.4M26.5 319.6h4.3M13 230.9h5.9M30.5 295.8h1.8M29.6 335.5h2.1M21.6 226.9h3.4M22.6 337.6h4.4M25.2 220.2h1.8M21.9 301h3.9" stroke="#2b47a3" stroke-opacity="0.2" stroke-width="0.8"/>
<path d="M15 113.2h3.2M18.1 120.2h1.7M22.4 174.1h5.5M24.6 130.4h3.7M15.9 160.4h4.5M24 153.6h1.9M22.9 221.2h1.6M25.8 280.6h4.2M22.3 233.1h4.2M18.2 342.2h5.1M17.1 314.5h4.9M19.6 245.8h5.2M28.2 218.4h5.5M25.8 242.4h5.6M21.3 235.3h3.5M19.7 279.7h4.3M21.1 251.1h5.4M28 280.1h2.5M21 276.8h4.4M24.1 329h3.6M16.8 238.3h4.4M22.7 298.2h2.2M19.6 228.5h4.9M21.7 316.2h3.1M23.2 239.5h3.1M18.3 263.8h3.3M22 295.7h2.9M27.9 278.2h2.9M22.2 287.4h4M21.2 300.3h3.6M24.9 303.9h5.2M16.9 343.1h5.7M23.8 236.2h2.6M21.6 318.9h5.1M23.8 299.2h2.1M20.6 269.3h5.9M22.5 201.9h1.6M16.6 189.3h5.5M21.1 282.2h2M21.6 303.8h5.2M19.9 332.5h5.2M23.5 344.4h2.7" stroke="#2b47a3" stroke-opacity="0.25" stroke-width="0.8"/>
<path d="M25.3 108.5h3.2M15.3 119.3h2.9M18 109.4h4.9M16.5 106h3.1M21.7 121.6h3.7M24.9 147.4h4.5M21 180.2h4.6M13.5 149.4h5.8M18.2 155.6h5.4M23.7 148.9h3.6M19.7 134.8h4.4M13.5 133.6h3.5M23.6 169.6h3.8M16.7 277.5h5.3M24.2 228.2h2.5M23.3 231.3h4.1M24.4 278.5h5M22.6 218.8h1.9M18.2 301.9h3.5M30.9 239.1h2.4M22.6 240.9h5.5M27.2 191h2.6M32.4 199.8h4.7M22.5 209.4h2.1" stroke="#2b47a3" stroke-opacity="0.3" stroke-width="0.8"/>
<path d="M21.5 111.9h2.3M13 109.4h5M21.9 167.3h4.4M17.6 167.6h3.7M13.6 150.5h4.1M21.3 159.8h4.4M14.3 258.7h4.3M28.2 206.5h4.1M17 206.6h5.7M22.4 225.7h1.6M19.3 256.2h1.9M22.1 223.5h2.6M21.6 245.7h4.2M21.1 218.9h2.3M23.2 247h3.9M22.1 206.7h4.8" stroke="#2b47a3" stroke-opacity="0.35" stroke-width="0.8"/>
<path d="M22.8 112.5h3.8M22.5 121.5h5.3M25.2 120h2.6M25 180.1h3M19.6 155.6h4.3M25.1 157.2h5.3M23.5 141.4h3.2M23.2 151.8h2.3M23.2 167.4h3.4M20.1 167.3h2.8M16.5 212.4h6M20.6 212.1h5.3M19.6 207.9h3.9M19.7 192.2h5.6" stroke="#2b47a3" stroke-opacity="0.4" stroke-width="0.8"/>
<path d="M23.5 118.2h1.7M26.6 163.1h2.3M20.8 154.1h2.5M23.8 168.4h5.4M18.7 180.4h4.8M23 163.4h3.8" stroke="#2b47a3" stroke-opacity="0.45" stroke-width="0.8"/>
<path d="M19.7 164.2h3.6M23.9 173.4h1.6M24.6 153.6h2.7M20.8 135h4M17.8 131.2h2M28 182h2.8M19.9 133.1h4.1M21.3 137.3h2.4" stroke="#2b47a3" stroke-opacity="0.5" stroke-width="0.8"/>
<path d="M22.4 151.7h4M18.8 167.9h5.4M24.9 166.7h2M25 141.5h1.7" stroke="#2b47a3" stroke-opacity="0.55" stroke-width="0.8"/>
<path d="M19.1 136.4h5.4M20.1 145.7h2.4M15.1 144.8h3.8M12.4 132h5.9M25.4 151.5h2.9M26.6 176.7h5.7" stroke="#2b47a3" stroke-opacity="0.6" stroke-width="0.8"/>
</g>
<rect x="367" y="76.3" width="47" height="4.4" fill="none" stroke="#555" stroke-width="0.7"/>
<rect x="367" y="85.4" width="47" height="10.9" fill="none" stroke="#555" stroke-width="0.7"/>
<rect x="367" y="101.2" width="47" height="21.3" fill="none" stroke="#555" stroke-width="0.7"/>
<rect x="367" y="127.1" width="47" height="56" fill="none" stroke="#555" stroke-width="0.7"/>
<rect x="367" y="188" width="47" height="188.2" fill="none" stroke="#555" stroke-width="0.7"/>
<line x1="367" y1="376.2" x2="367" y2="377.8" stroke="#777" stroke-width="0.6"/>
<line x1="390.5" y1="376.2" x2="390.5" y2="377.8" stroke="#777" stroke-width="0.6"/>
<line x1="414" y1="376.2" x2="414" y2="377.8" stroke="#777" stroke-width="0.6"/>
<text x="390.8" y="384.8" font-size="8.3" text-anchor="middle" fill="#222" textLength="47.5" lengthAdjust="spacingAndGlyphs">-1 center1Kb</text>
<g transform="translate(420.1,0)">
<path d="M0 93.3h47v1H0z" fill="url(#fl0)" fill-opacity="0.8"/>
<path d="M0 92.3h47v1H0zM0 95.3h47v1H0z" fill="url(#fl0)" fill-opacity="0.85"/>
<path d="M0 94.3h47v1H0z" fill="url(#fl0)" fill-opacity="0.9"/>
<path d="M0 91.3h47v1H0z" fill="url(#fl0)" fill-opacity="0.95"/>
<path d="M0 90.4h47v1H0z" fill="url(#fl1)" fill-opacity="0.9"/>
<path d="M0 87.4h47v1H0zM0 88.4h47v1H0z" fill="url(#fl2)" fill-opacity="0.85"/>
<path d="M0 89.4h47v1H0z" fill="url(#fl2)" fill-opacity="0.9"/>
<path d="M0 85.4h47v1H0z" fill="url(#fl3)" fill-opacity="0.8"/>
<path d="M0 86.4h47v1H0z" fill="url(#fl3)" fill-opacity="0.9"/>
<path d="M0 372.2h47v1H0z" fill="url(#h0_1)" fill-opacity="0.2"/>
<path d="M0 370.2h47v1H0z" fill="url(#h0_1)" fill-opacity="0.25"/>
<path d="M0 373.2h47v1H0z" fill="url(#h0_1)" fill-opacity="0.3"/>
<path d="M0 367.2h47v1H0z" fill="url(#h0_2)" fill-opacity="0.25"/>
<path d="M0 216h47v1H0zM0 247.1h47v1H0zM0 249.1h47v1H0zM0 250.1h47v1H0zM0 251.1h47v1H0zM0 272.1h47v1H0zM0 273.1h47v1H0zM0 276.1h47v1H0z" fill="url(#h10_0)" fill-opacity="0.05"/>
<path d="M0 128.1h47v1H0zM0 152.1h47v1H0zM0 153.1h47v1H0zM0 155.1h47v1H0z" fill="url(#h10_0)" fill-opacity="0.15"/>
<path d="M0 142.1h47v1H0zM0 143.1h47v1H0zM0 154.1h47v1H0z" fill="url(#h10_0)" fill-opacity="0.2"/>
<path d="M0 213h47v1H0zM0 214h47v1H0zM0 215h47v1H0zM0 217h47v1H0zM0 218h47v1H0zM0 228h47v1H0zM0 229h47v1H0zM0 231h47v1H0zM0 242.1h47v1H0zM0 243.1h47v1H0zM0 244.1h47v1H0zM0 245.1h47v1H0zM0 255.1h47v1H0zM0 256.1h47v1H0zM0 257.1h47v1H0zM0 261.1h47v1H0zM0 262.1h47v1H0zM0 264.1h47v1H0zM0 265.1h47v1H0zM0 266.1h47v1H0zM0 267.1h47v1H0zM0 271.1h47v1H0zM0 274.1h47v1H0zM0 278.1h47v1H0zM0 279.1h47v1H0z" fill="url(#h10_1)" fill-opacity="0.05"/>
<path d="M0 139.1h47v1H0z" fill="url(#h10_1)" fill-opacity="0.15"/>
<path d="M0 129.1h47v1H0zM0 134.1h47v1H0zM0 138.1h47v1H0zM0 140.1h47v1H0zM0 144.1h47v1H0zM0 151.1h47v1H0z" fill="url(#h10_1)" fill-opacity="0.2"/>
<path d="M0 127.1h47v1H0z" fill="url(#h10_1)" fill-opacity="0.25"/>
<path d="M0 92.3h47v1H0zM0 93.3h47v1H0z" fill="url(#h10_2)" fill-opacity="0.15"/>
<path d="M0 94.3h47v1H0zM0 148.1h47v1H0z" fill="url(#h10_2)" fill-opacity="0.2"/>
<path d="M0 104.2h47v1H0z" fill="url(#h10_2)" fill-opacity="0.4"/>
<path d="M0 106.3h47v1H0z" fill="url(#h10_2)" fill-opacity="0.45"/>
<path d="M0 105.3h47v1H0z" fill="url(#h10_2)" fill-opacity="0.5"/>
<path d="M0 108.3h47v1H0zM0 109.3h47v1H0z" fill="url(#h10_2)" fill-opacity="0.55"/>
<path d="M0 110.3h47v1H0z" fill="url(#h10_2)" fill-opacity="0.6"/>
<path d="M0 195h47v1H0zM0 196h47v1H0zM0 226h47v1H0zM0 233h47v1H0zM0 248.1h47v1H0zM0 258.1h47v1H0z" fill="url(#h11_0)" fill-opacity="0.05"/>
<path d="M0 193h47v1H0zM0 194h47v1H0zM0 199h47v1H0zM0 200h47v1H0zM0 201h47v1H0zM0 202h47v1H0zM0 206h47v1H0zM0 207h47v1H0zM0 211h47v1H0zM0 212h47v1H0zM0 219h47v1H0zM0 220h47v1H0zM0 221h47v1H0zM0 224h47v1H0zM0 225h47v1H0zM0 227h47v1H0zM0 230h47v1H0zM0 232h47v1H0zM0 234h47v1H0zM0 235.1h47v1H0zM0 236.1h47v1H0zM0 237.1h47v1H0zM0 238.1h47v1H0zM0 239.1h47v1H0zM0 240.1h47v1H0zM0 241.1h47v1H0zM0 246.1h47v1H0zM0 259.1h47v1H0zM0 260.1h47v1H0zM0 263.1h47v1H0zM0 268.1h47v1H0zM0 269.1h47v1H0zM0 270.1h47v1H0z" fill="url(#h11_1)" fill-opacity="0.05"/>
<path d="M0 130.1h47v1H0zM0 133.1h47v1H0zM0 136.1h47v1H0z" fill="url(#h11_1)" fill-opacity="0.15"/>
<path d="M0 131.1h47v1H0zM0 132.1h47v1H0zM0 135.1h47v1H0z" fill="url(#h11_1)" fill-opacity="0.2"/>
<path d="M0 222h47v1H0zM0 223h47v1H0z" fill="url(#h11_2)" fill-opacity="0.05"/>
<path d="M0 120.5h47v1H0zM0 121.5h47v1H0z" fill="url(#h11_2)" fill-opacity="0.1"/>
<path d="M0 137.1h47v1H0z" fill="url(#h11_2)" fill-opacity="0.15"/>
<path d="M0 91.3h47v1H0z" fill="url(#h11_2)" fill-opacity="0.2"/>
<path d="M0 188h47v1H0zM0 189h47v1H0zM0 190h47v1H0zM0 191h47v1H0zM0 192h47v1H0zM0 197h47v1H0zM0 198h47v1H0zM0 203h47v1H0zM0 204h47v1H0zM0 205h47v1H0zM0 208h47v1H0zM0 209h47v1H0zM0 210h47v1H0z" fill="url(#h12_1)" fill-opacity="0.05"/>
<path d="M0 117.4h47v1H0z" fill="url(#h12_2)" fill-opacity="0.1"/>
<path d="M0 118.4h47v1H0zM0 119.5h47v1H0z" fill="url(#h12_2)" fill-opacity="0.15"/>
<path d="M0 90.4h47v1H0z" fill="url(#h12_2)" fill-opacity="0.2"/>
<path d="M0 114.4h47v1H0zM0 115.4h47v1H0zM0 116.4h47v1H0z" fill="url(#h13_2)" fill-opacity="0.1"/>
<path d="M0 87.4h47v1H0zM0 88.4h47v1H0z" fill="url(#h13_2)" fill-opacity="0.15"/>
<path d="M0 89.4h47v1H0z" fill="url(#h13_2)" fill-opacity="0.2"/>
<path d="M0 85.4h47v1H0zM0 112.4h47v1H0z" fill="url(#h14_2)" fill-opacity="0.15"/>
<path d="M0 86.4h47v1H0zM0 111.3h47v1H0z" fill="url(#h14_2)" fill-opacity="0.2"/>
<path d="M0 113.4h47v1H0z" fill="url(#h14_3)" fill-opacity="0.1"/>
<path d="M0 104.2h47v1H0zM0 106.3h47v1H0zM0 107.3h47v1H0z" fill="url(#h15_2)" fill-opacity="0.15"/>
<path d="M0 105.3h47v1H0zM0 108.3h47v1H0zM0 109.3h47v1H0zM0 110.3h47v1H0z" fill="url(#h15_2)" fill-opacity="0.2"/>
<path d="M0 77.4h47v1.1H0zM0 85.4h47v1H0zM0 87.4h47v1H0zM0 88.4h47v1H0zM0 89.4h47v1H0zM0 90.4h47v1H0zM0 91.3h47v1H0zM0 92.3h47v1H0zM0 93.3h47v1H0zM0 95.3h47v1H0zM0 101.2h47v1H0zM0 105.3h47v1H0zM0 106.3h47v1H0zM0 109.3h47v1H0zM0 111.3h47v1H0zM0 112.4h47v1H0zM0 114.4h47v1H0zM0 117.4h47v1H0zM0 121.5h47v1H0zM0 127.1h47v1H0zM0 128.1h47v1H0zM0 129.1h47v1H0zM0 130.1h47v1H0zM0 131.1h47v1H0zM0 132.1h47v1H0zM0 134.1h47v1H0zM0 135.1h47v1H0zM0 136.1h47v1H0zM0 137.1h47v1H0zM0 138.1h47v1H0zM0 139.1h47v1H0zM0 141.1h47v1H0zM0 142.1h47v1H0zM0 143.1h47v1H0zM0 144.1h47v1H0zM0 145.1h47v1H0zM0 146.1h47v1H0zM0 147.1h47v1H0zM0 148.1h47v1H0zM0 149.1h47v1H0zM0 150.1h47v1H0zM0 154.1h47v1H0zM0 155.1h47v1H0zM0 156.1h47v1H0zM0 157.1h47v1H0zM0 162.1h47v1H0zM0 164.1h47v1H0zM0 165.1h47v1H0zM0 166.1h47v1H0zM0 167.1h47v1H0zM0 168.1h47v1H0zM0 169.1h47v1H0zM0 170.1h47v1H0zM0 171.1h47v1H0zM0 175.1h47v1H0zM0 177.1h47v1H0zM0 178.1h47v1H0zM0 179.1h47v1H0zM0 180.1h47v1H0zM0 181.1h47v1H0zM0 182.1h47v1H0zM0 189h47v1H0zM0 191h47v1H0zM0 194h47v1H0zM0 196h47v1H0zM0 197h47v1H0zM0 198h47v1H0zM0 200h47v1H0zM0 201h47v1H0zM0 204h47v1H0zM0 205h47v1H0zM0 206h47v1H0zM0 207h47v1H0zM0 208h47v1H0zM0 210h47v1H0zM0 211h47v1H0zM0 212h47v1H0zM0 213h47v1H0zM0 214h47v1H0zM0 216h47v1H0zM0 218h47v1H0zM0 219h47v1H0zM0 220h47v1H0zM0 221h47v1H0zM0 222h47v1H0zM0 223h47v1H0zM0 224h47v1H0zM0 225h47v1H0zM0 226h47v1H0zM0 227h47v1H0zM0 228h47v1H0zM0 229h47v1H0zM0 231h47v1H0zM0 232h47v1H0zM0 233h47v1H0zM0 234h47v1H0zM0 235.1h47v1H0zM0 236.1h47v1H0zM0 238.1h47v1H0zM0 239.1h47v1H0zM0 240.1h47v1H0zM0 241.1h47v1H0zM0 243.1h47v1H0zM0 244.1h47v1H0zM0 245.1h47v1H0zM0 247.1h47v1H0zM0 248.1h47v1H0zM0 249.1h47v1H0zM0 250.1h47v1H0zM0 253.1h47v1H0zM0 254.1h47v1H0zM0 255.1h47v1H0zM0 256.1h47v1H0zM0 257.1h47v1H0zM0 258.1h47v1H0zM0 259.1h47v1H0zM0 260.1h47v1H0zM0 261.1h47v1H0zM0 262.1h47v1H0zM0 263.1h47v1H0zM0 264.1h47v1H0zM0 265.1h47v1H0zM0 266.1h47v1H0zM0 267.1h47v1H0zM0 268.1h47v1H0zM0 269.1h47v1H0zM0 270.1h47v1H0zM0 271.1h47v1H0zM0 273.1h47v1H0zM0 274.1h47v1H0zM0 275.1h47v1H0zM0 276.1h47v1H0zM0 277.1h47v1H0zM0 278.1h47v1H0zM0 279.1h47v1H0zM0 280.1h47v1H0zM0 283.1h47v1H0zM0 284.1h47v1H0zM0 285.1h47v1H0zM0 286.1h47v1H0zM0 287.1h47v1H0zM0 288.1h47v1H0zM0 289.1h47v1H0zM0 290.1h47v1H0zM0 291.1h47v1H0zM0 292.1h47v1H0zM0 293.1h47v1H0zM0 294.1h47v1H0zM0 296.1h47v1H0zM0 297.1h47v1H0zM0 298.1h47v1H0zM0 299.1h47v1H0zM0 300.1h47v1H0zM0 301.1h47v1H0zM0 303.1h47v1H0zM0 304.1h47v1H0zM0 306.1h47v1H0zM0 307.1h47v1H0zM0 308.1h47v1H0zM0 309.1h47v1H0zM0 310.1h47v1H0zM0 312.1h47v1H0zM0 313.1h47v1H0zM0 314.1h47v1H0zM0 315.1h47v1H0zM0 317.1h47v1H0zM0 319.1h47v1H0zM0 320.1h47v1H0zM0 321.1h47v1H0zM0 322.1h47v1H0zM0 323.1h47v1H0zM0 324.1h47v1H0zM0 325.1h47v1H0zM0 326.1h47v1H0zM0 327.1h47v1H0zM0 329.1h47v1H0zM0 330.2h47v1H0zM0 331.2h47v1H0zM0 332.2h47v1H0zM0 333.2h47v1H0zM0 334.2h47v1H0zM0 336.2h47v1H0zM0 338.2h47v1H0zM0 341.2h47v1H0zM0 344.2h47v1H0zM0 345.2h47v1H0zM0 346.2h47v1H0zM0 347.2h47v1H0zM0 348.2h47v1H0zM0 349.2h47v1H0zM0 350.2h47v1H0zM0 353.2h47v1H0zM0 355.2h47v1H0zM0 356.2h47v1H0zM0 357.2h47v1H0zM0 359.2h47v1H0zM0 360.2h47v1H0zM0 362.2h47v1H0zM0 363.2h47v1H0zM0 364.2h47v1H0zM0 365.2h47v1H0zM0 366.2h47v1H0zM0 367.2h47v1H0zM0 368.2h47v1H0zM0 370.2h47v1H0zM0 371.2h47v1H0zM0 372.2h47v1H0z" fill="url(#h17_2)" fill-opacity="0.025"/>
<path d="M0 78.5h47v1.1H0zM0 86.4h47v1H0zM0 102.2h47v1H0zM0 103.2h47v1H0zM0 107.3h47v1H0zM0 108.3h47v1H0zM0 110.3h47v1H0zM0 113.4h47v1H0zM0 116.4h47v1H0zM0 118.4h47v1H0zM0 133.1h47v1H0zM0 153.1h47v1H0zM0 163.1h47v1H0zM0 190h47v1H0zM0 192h47v1H0zM0 193h47v1H0zM0 195h47v1H0zM0 199h47v1H0zM0 202h47v1H0zM0 203h47v1H0zM0 209h47v1H0zM0 230h47v1H0zM0 272.1h47v1H0zM0 281.1h47v1H0zM0 305.1h47v1H0zM0 318.1h47v1H0zM0 337.2h47v1H0zM0 339.2h47v1H0zM0 342.2h47v1H0zM0 351.2h47v1H0zM0 361.2h47v1H0zM0 373.2h47v1H0z" fill="url(#h17_2)" fill-opacity="0.05"/>
<path d="M0 79.6h47v1.1H0zM0 173.1h47v1H0zM0 188h47v1H0zM0 251.1h47v1H0z" fill="url(#h17_2)" fill-opacity="0.075"/>
<path d="M0 76.3h47v1.1H0zM0 78.5h47v1.1H0zM0 104.2h47v1H0zM0 115.4h47v1H0zM0 119.5h47v1H0z" fill="url(#h17_2)" fill-opacity="0.1"/>
<path d="M0 120.5h47v1H0z" fill="url(#h17_2)" fill-opacity="0.125"/>
<path d="M0 103.2h47v1H0z" fill="url(#h17_2)" fill-opacity="0.2"/>
<path d="M0 102.2h47v1H0z" fill="url(#h17_2)" fill-opacity="0.3"/>
<path d="M0 101.2h47v1H0z" fill="url(#h17_2)" fill-opacity="0.35"/>
<path d="M0 77.4h47v1.1H0z" fill="url(#h17_2)" fill-opacity="0.45"/>
<path d="M0 103.2h47v1H0z" fill="url(#h17_2)" fill-opacity="0.6"/>
<path d="M0 79.6h47v1.1H0z" fill="url(#h17_2)" fill-opacity="0.65"/>
<path d="M0 76.3h47v1.1H0z" fill="url(#h17_2)" fill-opacity="0.7"/>
<path d="M0 102.2h47v1H0z" fill="url(#h17_2)" fill-opacity="0.8"/>
<path d="M0 101.2h47v1H0z" fill="url(#h17_2)" fill-opacity="0.95"/>
<path d="M0 352.2h47v1H0zM0 358.2h47v1H0z" fill="url(#h1_0)" fill-opacity="0.25"/>
<path d="M0 362.2h47v1H0z" fill="url(#h1_0)" fill-opacity="0.3"/>
<path d="M0 346.2h47v1H0zM0 347.2h47v1H0zM0 353.2h47v1H0zM0 368.2h47v1H0z" fill="url(#h1_1)" fill-opacity="0.2"/>
<path d="M0 348.2h47v1H0zM0 350.2h47v1H0zM0 361.2h47v1H0zM0 363.2h47v1H0zM0 364.2h47v1H0zM0 366.2h47v1H0zM0 369.2h47v1H0z" fill="url(#h1_1)" fill-opacity="0.25"/>
<path d="M0 324.1h47v1H0zM0 349.2h47v1H0zM0 351.2h47v1H0zM0 365.2h47v1H0zM0 371.2h47v1H0zM0 374.2h47v1H0z" fill="url(#h1_1)" fill-opacity="0.3"/>
<path d="M0 338.2h47v1H0z" fill="url(#h1_1)" fill-opacity="0.35"/>
<path d="M0 337.2h47v1H0z" fill="url(#h1_1)" fill-opacity="0.4"/>
<path d="M0 375.2h47v1H0z" fill="url(#h1_2)" fill-opacity="0.25"/>
<path d="M0 311.1h47v1H0zM0 312.1h47v1H0zM0 313.1h47v1H0zM0 316.1h47v1H0z" fill="url(#h2_0)" fill-opacity="0.25"/>
<path d="M0 333.2h47v1H0zM0 354.2h47v1H0z" fill="url(#h2_0)" fill-opacity="0.3"/>
<path d="M0 334.2h47v1H0zM0 335.2h47v1H0z" fill="url(#h2_0)" fill-opacity="0.35"/>
<path d="M0 164.1h47v1H0zM0 182.1h47v1H0z" fill="url(#h2_0)" fill-opacity="0.55"/>
<path d="M0 359.2h47v1H0z" fill="url(#h2_1)" fill-opacity="0.2"/>
<path d="M0 291.1h47v1H0zM0 294.1h47v1H0zM0 319.1h47v1H0zM0 320.1h47v1H0zM0 322.1h47v1H0zM0 323.1h47v1H0zM0 326.1h47v1H0zM0 327.1h47v1H0zM0 330.2h47v1H0zM0 339.2h47v1H0zM0 343.2h47v1H0zM0 345.2h47v1H0zM0 357.2h47v1H0zM0 360.2h47v1H0z" fill="url(#h2_1)" fill-opacity="0.25"/>
<path d="M0 290.1h47v1H0zM0 298.1h47v1H0zM0 299.1h47v1H0zM0 309.1h47v1H0zM0 310.1h47v1H0zM0 318.1h47v1H0zM0 328.1h47v1H0zM0 329.1h47v1H0zM0 331.2h47v1H0zM0 341.2h47v1H0zM0 344.2h47v1H0zM0 355.2h47v1H0zM0 356.2h47v1H0z" fill="url(#h2_1)" fill-opacity="0.3"/>
<path d="M0 288.1h47v1H0zM0 302.1h47v1H0zM0 307.1h47v1H0zM0 325.1h47v1H0zM0 336.2h47v1H0zM0 340.2h47v1H0zM0 342.2h47v1H0z" fill="url(#h2_1)" fill-opacity="0.35"/>
<path d="M0 172.1h47v1H0zM0 179.1h47v1H0z" fill="url(#h2_1)" fill-opacity="0.45"/>
<path d="M0 165.1h47v1H0zM0 166.1h47v1H0zM0 180.1h47v1H0zM0 181.1h47v1H0z" fill="url(#h2_1)" fill-opacity="0.6"/>
<path d="M0 147.1h47v1H0zM0 175.1h47v1H0z" fill="url(#h2_1)" fill-opacity="0.65"/>
<path d="M0 177.1h47v1H0z" fill="url(#h2_1)" fill-opacity="0.7"/>
<path d="M0 176.1h47v1H0z" fill="url(#h2_1)" fill-opacity="0.75"/>
<path d="M0 286.1h47v1H0z" fill="url(#h2_2)" fill-opacity="0.4"/>
<path d="M0 332.2h47v1H0z" fill="url(#h3_0)" fill-opacity="0.25"/>
<path d="M0 306.1h47v1H0z" fill="url(#h3_0)" fill-opacity="0.3"/>
<path d="M0 277.1h47v1H0z" fill="url(#h3_0)" fill-opacity="0.35"/>
<path d="M0 304.1h47v1H0z" fill="url(#h3_0)" fill-opacity="0.4"/>
<path d="M0 216h47v1H0z" fill="url(#h3_0)" fill-opacity="0.5"/>
<path d="M0 152.1h47v1H0zM0 162.1h47v1H0zM0 163.1h47v1H0zM0 251.1h47v1H0z" fill="url(#h3_0)" fill-opacity="0.55"/>
<path d="M0 154.1h47v1H0z" fill="url(#h3_0)" fill-opacity="0.65"/>
<path d="M0 142.1h47v1H0z" fill="url(#h3_0)" fill-opacity="0.7"/>
<path d="M0 317.1h47v1H0z" fill="url(#h3_1)" fill-opacity="0.2"/>
<path d="M0 321.1h47v1H0z" fill="url(#h3_1)" fill-opacity="0.25"/>
<path d="M0 281.1h47v1H0zM0 287.1h47v1H0zM0 293.1h47v1H0zM0 308.1h47v1H0zM0 315.1h47v1H0z" fill="url(#h3_1)" fill-opacity="0.3"/>
<path d="M0 285.1h47v1H0zM0 289.1h47v1H0zM0 295.1h47v1H0zM0 300.1h47v1H0zM0 301.1h47v1H0zM0 305.1h47v1H0zM0 314.1h47v1H0z" fill="url(#h3_1)" fill-opacity="0.35"/>
<path d="M0 244.1h47v1H0zM0 253.1h47v1H0zM0 254.1h47v1H0zM0 256.1h47v1H0zM0 275.1h47v1H0zM0 280.1h47v1H0zM0 292.1h47v1H0zM0 296.1h47v1H0zM0 303.1h47v1H0z" fill="url(#h3_1)" fill-opacity="0.4"/>
<path d="M0 278.1h47v1H0zM0 297.1h47v1H0z" fill="url(#h3_1)" fill-opacity="0.45"/>
<path d="M0 168.1h47v1H0z" fill="url(#h3_1)" fill-opacity="0.5"/>
<path d="M0 141.1h47v1H0zM0 156.1h47v1H0zM0 157.1h47v1H0zM0 158.1h47v1H0zM0 169.1h47v1H0zM0 170.1h47v1H0zM0 252.1h47v1H0z" fill="url(#h3_1)" fill-opacity="0.55"/>
<path d="M0 167.1h47v1H0zM0 178.1h47v1H0z" fill="url(#h3_1)" fill-opacity="0.6"/>
<path d="M0 146.1h47v1H0zM0 173.1h47v1H0z" fill="url(#h3_1)" fill-opacity="0.65"/>
<path d="M0 145.1h47v1H0zM0 159.1h47v1H0zM0 161.1h47v1H0zM0 174.1h47v1H0z" fill="url(#h3_1)" fill-opacity="0.7"/>
<path d="M0 149.1h47v1H0zM0 150.1h47v1H0zM0 160.1h47v1H0z" fill="url(#h3_1)" fill-opacity="0.75"/>
<path d="M0 282.1h47v1H0z" fill="url(#h3_2)" fill-opacity="0.25"/>
<path d="M0 283.1h47v1H0z" fill="url(#h3_2)" fill-opacity="0.35"/>
<path d="M0 284.1h47v1H0z" fill="url(#h3_2)" fill-opacity="0.4"/>
<path d="M0 171.1h47v1H0z" fill="url(#h3_2)" fill-opacity="0.55"/>
<path d="M0 148.1h47v1H0z" fill="url(#h3_2)" fill-opacity="0.7"/>
<path d="M0 258.1h47v1H0z" fill="url(#h4_0)" fill-opacity="0.3"/>
<path d="M0 272.1h47v1H0zM0 273.1h47v1H0zM0 276.1h47v1H0z" fill="url(#h4_0)" fill-opacity="0.4"/>
<path d="M0 153.1h47v1H0zM0 247.1h47v1H0zM0 248.1h47v1H0zM0 249.1h47v1H0zM0 250.1h47v1H0z" fill="url(#h4_0)" fill-opacity="0.45"/>
<path d="M0 155.1h47v1H0zM0 233h47v1H0z" fill="url(#h4_0)" fill-opacity="0.5"/>
<path d="M0 128.1h47v1H0z" fill="url(#h4_0)" fill-opacity="0.55"/>
<path d="M0 143.1h47v1H0z" fill="url(#h4_0)" fill-opacity="0.65"/>
<path d="M0 245.1h47v1H0zM0 262.1h47v1H0zM0 263.1h47v1H0zM0 265.1h47v1H0zM0 266.1h47v1H0zM0 267.1h47v1H0zM0 268.1h47v1H0zM0 274.1h47v1H0z" fill="url(#h4_1)" fill-opacity="0.3"/>
<path d="M0 242.1h47v1H0zM0 255.1h47v1H0zM0 257.1h47v1H0zM0 259.1h47v1H0zM0 260.1h47v1H0zM0 261.1h47v1H0zM0 271.1h47v1H0zM0 279.1h47v1H0z" fill="url(#h4_1)" fill-opacity="0.35"/>
<path d="M0 224h47v1H0zM0 232h47v1H0zM0 239.1h47v1H0zM0 240.1h47v1H0zM0 243.1h47v1H0zM0 246.1h47v1H0zM0 264.1h47v1H0zM0 269.1h47v1H0zM0 270.1h47v1H0z" fill="url(#h4_1)" fill-opacity="0.4"/>
<path d="M0 213h47v1H0zM0 217h47v1H0zM0 218h47v1H0zM0 219h47v1H0zM0 227h47v1H0zM0 235.1h47v1H0z" fill="url(#h4_1)" fill-opacity="0.45"/>
<path d="M0 136.1h47v1H0zM0 215h47v1H0zM0 229h47v1H0zM0 231h47v1H0z" fill="url(#h4_1)" fill-opacity="0.5"/>
<path d="M0 130.1h47v1H0zM0 133.1h47v1H0zM0 139.1h47v1H0zM0 214h47v1H0zM0 228h47v1H0z" fill="url(#h4_1)" fill-opacity="0.55"/>
<path d="M0 129.1h47v1H0zM0 134.1h47v1H0zM0 135.1h47v1H0zM0 138.1h47v1H0z" fill="url(#h4_1)" fill-opacity="0.6"/>
<path d="M0 132.1h47v1H0zM0 140.1h47v1H0zM0 144.1h47v1H0z" fill="url(#h4_1)" fill-opacity="0.65"/>
<path d="M0 151.1h47v1H0z" fill="url(#h4_1)" fill-opacity="0.7"/>
<path d="M0 127.1h47v1H0zM0 131.1h47v1H0z" fill="url(#h4_1)" fill-opacity="0.75"/>
<path d="M0 196h47v1H0zM0 226h47v1H0z" fill="url(#h5_0)" fill-opacity="0.4"/>
<path d="M0 195h47v1H0z" fill="url(#h5_0)" fill-opacity="0.5"/>
<path d="M0 203h47v1H0zM0 220h47v1H0zM0 221h47v1H0z" fill="url(#h5_1)" fill-opacity="0.35"/>
<path d="M0 197h47v1H0zM0 198h47v1H0zM0 199h47v1H0zM0 201h47v1H0zM0 202h47v1H0zM0 207h47v1H0zM0 241.1h47v1H0z" fill="url(#h5_1)" fill-opacity="0.4"/>
<path d="M0 194h47v1H0zM0 204h47v1H0zM0 205h47v1H0zM0 225h47v1H0zM0 230h47v1H0zM0 234h47v1H0zM0 236.1h47v1H0zM0 237.1h47v1H0zM0 238.1h47v1H0z" fill="url(#h5_1)" fill-opacity="0.45"/>
<path d="M0 191h47v1H0zM0 200h47v1H0zM0 210h47v1H0z" fill="url(#h5_1)" fill-opacity="0.5"/>
<path d="M0 190h47v1H0zM0 206h47v1H0zM0 208h47v1H0zM0 211h47v1H0zM0 212h47v1H0z" fill="url(#h5_1)" fill-opacity="0.55"/>
<path d="M0 189h47v1H0zM0 193h47v1H0z" fill="url(#h5_1)" fill-opacity="0.6"/>
<path d="M0 367.2h47v1H0z" fill="url(#h5_2)" fill-opacity="0.05"/>
<path d="M0 121.5h47v1H0z" fill="url(#h5_2)" fill-opacity="0.25"/>
<path d="M0 120.5h47v1H0zM0 223h47v1H0z" fill="url(#h5_2)" fill-opacity="0.35"/>
<path d="M0 222h47v1H0z" fill="url(#h5_2)" fill-opacity="0.45"/>
<path d="M0 137.1h47v1H0z" fill="url(#h5_2)" fill-opacity="0.5"/>
<path d="M0 352.2h47v1H0z" fill="url(#h6_0)" fill-opacity="0.05"/>
<path d="M0 351.2h47v1H0zM0 366.2h47v1H0zM0 368.2h47v1H0zM0 369.2h47v1H0zM0 370.2h47v1H0zM0 371.2h47v1H0zM0 372.2h47v1H0zM0 373.2h47v1H0zM0 374.2h47v1H0z" fill="url(#h6_1)" fill-opacity="0.05"/>
<path d="M0 188h47v1H0z" fill="url(#h6_1)" fill-opacity="0.45"/>
<path d="M0 192h47v1H0z" fill="url(#h6_1)" fill-opacity="0.5"/>
<path d="M0 209h47v1H0z" fill="url(#h6_1)" fill-opacity="0.6"/>
<path d="M0 117.4h47v1H0z" fill="url(#h6_2)" fill-opacity="0.3"/>
<path d="M0 119.5h47v1H0z" fill="url(#h6_2)" fill-opacity="0.4"/>
<path d="M0 118.4h47v1H0z" fill="url(#h6_2)" fill-opacity="0.45"/>
<path d="M0 358.2h47v1H0zM0 362.2h47v1H0z" fill="url(#h7_0)" fill-opacity="0.05"/>
<path d="M0 324.1h47v1H0zM0 337.2h47v1H0zM0 338.2h47v1H0zM0 339.2h47v1H0zM0 348.2h47v1H0zM0 349.2h47v1H0zM0 350.2h47v1H0zM0 361.2h47v1H0zM0 363.2h47v1H0zM0 364.2h47v1H0zM0 365.2h47v1H0z" fill="url(#h7_1)" fill-opacity="0.05"/>
<path d="M0 375.2h47v1H0z" fill="url(#h7_2)" fill-opacity="0.05"/>
<path d="M0 115.4h47v1H0z" fill="url(#h7_2)" fill-opacity="0.25"/>
<path d="M0 114.4h47v1H0z" fill="url(#h7_2)" fill-opacity="0.3"/>
<path d="M0 116.4h47v1H0z" fill="url(#h7_2)" fill-opacity="0.35"/>
<path d="M0 311.1h47v1H0zM0 312.1h47v1H0zM0 313.1h47v1H0zM0 333.2h47v1H0zM0 334.2h47v1H0zM0 335.2h47v1H0zM0 354.2h47v1H0z" fill="url(#h8_0)" fill-opacity="0.05"/>
<path d="M0 164.1h47v1H0zM0 182.1h47v1H0z" fill="url(#h8_0)" fill-opacity="0.15"/>
<path d="M0 288.1h47v1H0zM0 294.1h47v1H0zM0 298.1h47v1H0zM0 299.1h47v1H0zM0 307.1h47v1H0zM0 309.1h47v1H0zM0 310.1h47v1H0zM0 318.1h47v1H0zM0 319.1h47v1H0zM0 322.1h47v1H0zM0 323.1h47v1H0zM0 325.1h47v1H0zM0 326.1h47v1H0zM0 327.1h47v1H0zM0 328.1h47v1H0zM0 329.1h47v1H0zM0 330.2h47v1H0zM0 331.2h47v1H0zM0 336.2h47v1H0zM0 340.2h47v1H0zM0 341.2h47v1H0zM0 342.2h47v1H0zM0 343.2h47v1H0zM0 344.2h47v1H0zM0 345.2h47v1H0zM0 355.2h47v1H0zM0 356.2h47v1H0zM0 357.2h47v1H0zM0 359.2h47v1H0zM0 360.2h47v1H0z" fill="url(#h8_1)" fill-opacity="0.05"/>
<path d="M0 179.1h47v1H0z" fill="url(#h8_1)" fill-opacity="0.15"/>
<path d="M0 147.1h47v1H0zM0 165.1h47v1H0zM0 175.1h47v1H0zM0 176.1h47v1H0zM0 177.1h47v1H0zM0 180.1h47v1H0z" fill="url(#h8_1)" fill-opacity="0.2"/>
<path d="M0 286.1h47v1H0z" fill="url(#h8_2)" fill-opacity="0.05"/>
<path d="M0 277.1h47v1H0zM0 304.1h47v1H0zM0 306.1h47v1H0zM0 316.1h47v1H0zM0 332.2h47v1H0z" fill="url(#h9_0)" fill-opacity="0.05"/>
<path d="M0 162.1h47v1H0zM0 163.1h47v1H0z" fill="url(#h9_0)" fill-opacity="0.15"/>
<path d="M0 252.1h47v1H0zM0 253.1h47v1H0zM0 254.1h47v1H0zM0 275.1h47v1H0zM0 280.1h47v1H0zM0 281.1h47v1H0zM0 285.1h47v1H0zM0 287.1h47v1H0zM0 289.1h47v1H0zM0 290.1h47v1H0zM0 291.1h47v1H0zM0 292.1h47v1H0zM0 293.1h47v1H0zM0 295.1h47v1H0zM0 296.1h47v1H0zM0 297.1h47v1H0zM0 300.1h47v1H0zM0 301.1h47v1H0zM0 302.1h47v1H0zM0 303.1h47v1H0zM0 305.1h47v1H0zM0 308.1h47v1H0zM0 314.1h47v1H0zM0 315.1h47v1H0zM0 317.1h47v1H0zM0 320.1h47v1H0zM0 321.1h47v1H0z" fill="url(#h9_1)" fill-opacity="0.05"/>
<path d="M0 141.1h47v1H0zM0 156.1h47v1H0zM0 157.1h47v1H0zM0 158.1h47v1H0zM0 168.1h47v1H0zM0 169.1h47v1H0zM0 170.1h47v1H0zM0 172.1h47v1H0z" fill="url(#h9_1)" fill-opacity="0.15"/>
<path d="M0 145.1h47v1H0zM0 146.1h47v1H0zM0 149.1h47v1H0zM0 159.1h47v1H0zM0 161.1h47v1H0zM0 166.1h47v1H0zM0 167.1h47v1H0zM0 173.1h47v1H0zM0 174.1h47v1H0zM0 178.1h47v1H0zM0 181.1h47v1H0z" fill="url(#h9_1)" fill-opacity="0.2"/>
<path d="M0 150.1h47v1H0zM0 160.1h47v1H0z" fill="url(#h9_1)" fill-opacity="0.25"/>
<path d="M0 282.1h47v1H0zM0 283.1h47v1H0zM0 284.1h47v1H0z" fill="url(#h9_2)" fill-opacity="0.05"/>
<path d="M0 95.3h47v1H0zM0 171.1h47v1H0z" fill="url(#h9_2)" fill-opacity="0.15"/>
<path d="M0 112.4h47v1H0z" fill="url(#h9_2)" fill-opacity="0.35"/>
<path d="M0 107.3h47v1H0z" fill="url(#h9_2)" fill-opacity="0.45"/>
<path d="M0 111.3h47v1H0z" fill="url(#h9_2)" fill-opacity="0.55"/>
<path d="M0 113.4h47v1H0z" fill="url(#h9_3)" fill-opacity="0.35"/>
<path d="M41.7 108.1h5.1M7.9 104.2h9M10.3 112.4h7M0.2 106.3h4.8M44.3 148.1h2.5M11.2 168.1h7.9M15.4 167.1h8.8M13.3 168.4h8.7M3.7 147.1h6.6M8.2 163.2h4.4M1.8 158.1h7.5M23.6 131.7h8.7M7.8 165.4h2.5M11.6 349.8h7.3M0.2 203.3h5.6M27.6 225.3h9.3M30.2 342.8h5M40.6 222.3h4.8M15.5 329.9h8.1M29.8 337.8h4.6M23.4 248.7h7.2M18.5 254.4h7.4M31.1 324.1h2.4M12.9 273.7h9.6M11.7 262.2h6.3M41.8 342.8h2.4M15.5 229.7h8.2M5.6 217.1h3.3M13.6 267.7h2.2M6.4 288.4h7.1M24 245.6h2.9M7.1 289.7h7.8M23.5 224.3h6.2M42.2 315.1h2.4M11.7 341.9h3.5M0.2 304.6h9M36.3 199.3h4.3M11.6 341h5.3M19.4 361.6h3.1M16.4 309.5h4.2M18.3 246.7h2.5M0.2 278.8h4.3M2.6 252.4h9.1M12.1 227.9h5.1M17.1 323.5h3.2M37.3 234h6.5M22.6 234.4h4.5M27.8 242h6.1M29.3 336.3h5.3M38.5 302h5M15.1 234.7h8.8" stroke="#2b47a3" stroke-opacity="0.05" stroke-width="0.8"/>
<path d="M0.5 121.5h3.7M30.6 103h9.7M35.6 114.3h5.6M29.8 108.4h8.1M14.2 121.3h8.3M13.3 114h9.2M2.1 166h2.2M13 182.5h8.5M41.8 144.7h5M28.7 147.4h5.9M32.5 132.6h6.5M18.4 171.8h7.9M34.1 177.1h4.8M0.2 151.4h6.1M7.2 175.8h6.1M31.1 160.5h7.4M18.2 147.9h10M36.9 163.1h9.9M36.4 149.1h5.4M26.1 171.1h8.1M26.6 141.4h7.1M27.6 157.9h9.3M24.3 128.1h9.3M0.2 176.8h2.9M28.2 159.7h5.2M3.7 159.4h3.5M13 138.3h2.4M21.9 179.1h2.6M23.3 145.3h8.5M8.7 166.4h6.3M30.1 158.2h9.3M39.9 136.6h2.6M16.1 176.9h8.8M33.1 148.3h2.2M23.3 342.3h2.3M39.6 279.5h7.2M18.1 363.7h4.3M4.4 291.3h8.7M23.1 198.4h2M18.6 208.4h5.6M45.7 283.2h1.1M15.7 198.9h6.8M0.2 303.8h3.8M2.2 287.5h4.5M16.5 314h5.2M7.2 255h8M1.3 200.8h6.4M40.3 265.2h2.5M38.5 252.7h8.3M13.3 209h4.4M33 274.6h9.9M1.3 280.3h7M0.2 261.6h5.4M13.3 318.2h4.9M39.5 252.4h7.3M36.9 333.1h5.1M28.5 367.3h6M36.2 197.1h5.7M20.9 190.9h2.2M3 308.2h2.8M0.2 340.8h5.4M0.2 344.7h4.4M29.8 213h4.6M4.7 191.7h6.2M16.7 265h7.7M9.5 211.7h3.6M44.7 331h2.1M10 232.3h5.8M3.3 356.2h3.8M31.2 324.5h3.2M0.2 294.8h9.4M3.3 257.4h7.2M33.9 259.4h3.7M12.5 191.5h9.5M2.1 257.8h9M21.8 212.9h7.7M33 223h5.6M39.5 220.8h3M24.2 299.2h3.3M19.5 365.4h3.4M21.2 311.2h5.2M35.5 237.4h4.4M0.2 194.1h4.5M43.3 302.2h3.5M29.4 310.2h5.1M22.6 371h6.4M22.3 340.9h3.5M18.5 210h5.4M3.6 337.2h4.1M20.1 373.1h3.3M31.8 265.9h5.5M19 298.1h7.3M9.4 300.8h9.8M28.4 195.7h6.7M39.8 323h2.5M9.6 350.5h9M39 370h7.3M19.2 328.2h3M18.5 373h6.5M19.9 369.2h7.6M33 310h4.2M18.9 196.9h2.4M8.4 312.1h6.7M8.1 275.2h3.9M16.6 338.7h3.7M13.2 273.3h9.8M3.3 276.9h3.4M39.8 214.5h6.3M30 219.8h6M21.3 313.9h4.1M17.2 357.6h5.1M7 208.8h2.4M19.3 204.9h9.8M35.1 366.9h8.6M17 354.4h2.2M4.1 250.7h2M13.6 323.1h2M0.2 206.9h7.4M0.2 298.2h8M31.4 238.9h5M23.9 339.4h2.2" stroke="#2b47a3" stroke-opacity="0.1" stroke-width="0.8"/>
<path d="M21.2 114.5h6.2M16.6 104.5h7.4M23.8 121.2h8.4M25.2 115.1h6.8M17.6 116.3h2.1M30.6 114.7h2.9M24.3 102.9h4.7M20.7 109.2h4.2M18.1 116.5h3.2M14.6 169.3h3.8M34.1 169.1h9.6M23 131.1h7.8M18 147.6h7M5.8 181.3h5M4 159.2h4.5M38.5 145.7h5.2M33.7 165.6h8M14.8 153.4h9M2.3 154.2h9.3M21.5 151.2h9.4M34.2 317.2h7M40.5 323.9h6.3M20.3 290.6h4.4M43.3 375.4h3.5M18.7 320.3h3.6M2.8 214.9h3.7M4.9 213.7h2.4M33.1 319.7h4M10.2 317.6h4.5M41.6 367.5h5.2M24.9 257.9h5.3M22.8 356.8h2.2M13.6 240.5h5.5M18.4 283h3.2M21.6 293.2h5.4M25.6 225.9h5.1M25.1 249.1h3.3M9.1 200.7h5.9M16.9 242.7h5.9M3 294.5h7.1M19.1 309.9h6M18.3 338.9h2.6M16.9 306.9h6.3M14 216.8h3.2M27.8 363h6.1M16.2 280.7h4M17 370.1h5.2M42.6 234.7h3.3M16.5 340.5h3.5M20.7 372h4.4M16.6 251.2h6.5M19.8 320.4h4.7M19.4 196.1h8.9M21.2 374h6M9.8 233.9h4.3M0.2 300h4.4M15 231.8h7.8M3.3 232.8h6.4M6.6 361.1h6.9M15.4 369.2h9.9M0.2 293.3h5.1M18.4 344.1h5.4M37.6 241.9h3.1M19.9 295.3h4.7M0.7 302.4h9.4M34.3 278.5h6.1M20.4 333.1h4.2M18.3 353.7h5.6M21.9 318.3h4M31.5 301.2h4.8M8.2 367.3h9.3M15.4 363.8h5.6M18.9 257.5h4M16.6 370.4h3.4M25.9 206.4h4.6M21.6 328.3h1.7M34.5 269.5h4.5M27.9 204.3h2.7M20.4 298.4h4.3M18.5 251.8h6.2M18.6 295.9h2.6M17 301.8h3.8M16.3 320.9h5.1M0.2 262.4h4.1M6.8 215.5h8.4M17.5 366h5.8M43.9 208.5h2.9M37.3 225h3.8M36.8 343.4h2.3M35.2 364.8h2.8M24.9 223.2h6.9M9 281.2h8.1M13.2 369.5h7M32.2 290.4h9.8M0.2 252.7h1.3M21.1 365.2h3.5M18 200.6h5.3M19.7 223.3h1.9M19.5 361.2h2.7M36.9 308.5h5.6M20.5 370.7h2.7M7 195.3h5.5M16.6 229.5h3.9M10.4 359.7h6.6M14 258h2.6" stroke="#2b47a3" stroke-opacity="0.15" stroke-width="0.8"/>
<path d="M21.1 117.8h2.9M19.5 104.2h2.8M16.5 121.6h2.4M21.7 110.5h4.7M23.8 118.8h3.2M14.6 147.8h6M22.1 167.4h5.7M20.3 181.1h5.5M17.6 268.7h4.2M16.8 304.2h5.5M23 198.3h2.9M15.5 271.6h4.9M19.9 297.1h3.6M17.6 292h5.7M20 350.8h2.7M17.1 302.3h2M24.5 242.7h4.9M19.2 351.9h4.6M18.3 316.3h1.8M16.4 234.2h1.8M18.5 253h3.7M20.2 321.4h2.5M23.5 298.1h4.1M20 289.1h3.3M16 236.3h4.7M20.7 351h2.9M22.6 367.5h1.8M15.8 272.4h5.4M16.9 237.8h5.4M19.2 335.7h6M20.8 322.6h2.3M20.4 268.3h3.7M24.5 192.9h2.8M20 241.7h2.4M17.3 313.3h3.9M20.8 259h4.8M18.3 301.1h3.2M17.9 314.4h3.5M23.2 293.9h2.8M20.2 318.7h3M19.9 335.3h2.9M17.9 231h2.4M17.8 352.1h2.2M18.1 308.6h4.6M19.5 291.4h3.8M17.5 322.8h4.6" stroke="#2b47a3" stroke-opacity="0.2" stroke-width="0.8"/>
<path d="M16.8 119.7h5.3M28 113.3h1.6M18.2 176.3h5.6M17.6 137.8h3.9M18.5 180.6h3.1M14.3 152.7h3.3M20.2 159.7h5.3M16.7 130.7h4.4M21.8 132.6h3.6M20.7 148.5h5.7M14.1 328.4h4.2M16.6 369.3h4.9M18.6 322.5h5.4M19.1 230.6h4.2M16.4 208.4h3.1M18.9 359.5h4.1M17.7 297.6h4M24.6 256.6h3.7M15.4 264.9h4.7M15.8 266h5.5M22.1 251.4h5.4M21.5 241.3h3.4M19.6 228.4h4.1M19.2 358.5h5.1M18 233.8h4.5M19.1 253.2h5M16.4 298.3h3M22.4 294.1h4.8M24.8 325.9h2.5" stroke="#2b47a3" stroke-opacity="0.25" stroke-width="0.8"/>
<path d="M18.8 118.9h5.5M4.9 106.1h5M15.7 104.3h3.9M19.6 106.7h2.3M22 130.6h4.1M18.6 137h4.5M21.8 176.3h2.1M24 156.8h1.5M16.4 173.6h4.6M19.4 308.6h2.8M23.1 253.5h5.3M14.6 202.9h4.9M24 220.5h3.3M16.8 300.1h5.8M25.7 264h2.8M21.9 209.6h3.1M20.1 323.8h4.9M18.7 242.9h3.8M20.5 297.2h5.9M20.1 215.5h3.3M19.3 226.9h3.2M17.5 238.3h3.4M20.4 293.2h3.1M22.4 289.6h5.7M16.1 237.9h5.7M14.4 203.3h5.1M23.7 282h2.5M18.7 283.8h2" stroke="#2b47a3" stroke-opacity="0.3" stroke-width="0.8"/>
<path d="M21.1 108.6h5.7M18.9 106.2h3.5M15.3 118.4h5.1M16 154.3h4.9M21.1 163.4h3.7M21.3 180.9h3.5M22.7 175.7h2.5M21 137.1h4.4M22 165.6h1.8M21.3 171h2.8M16 210.7h4.6M22.2 204.8h3.3M19 198.7h2.7M14.3 236.7h3.7M20.6 228.5h3.5M23 233.7h5M15.5 241.9h5.2M18.7 274.5h5.6" stroke="#2b47a3" stroke-opacity="0.35" stroke-width="0.8"/>
<path d="M17.7 107.5h3.8M18.6 161.9h3.7M18.5 181.4h5.5M20.6 168.1h3.2M20.7 141.4h5.7M22.6 142.1h1.7M21.2 139.7h3.5M21.7 153.2h2.6M21 180.7h4.9M22.1 192.5h2.1M19.4 223.5h3.4M19.7 189h2.2M22.4 201.4h3.5M16.8 207.8h1.7M18.6 193.3h5.9" stroke="#2b47a3" stroke-opacity="0.4" stroke-width="0.8"/>
<path d="M17.2 148.1h4.3M19.1 151.3h5.9M27.4 149.6h5.9M23 145.5h3.1M24.2 132.4h4.4M24.5 188.8h2.8" stroke="#2b47a3" stroke-opacity="0.45" stroke-width="0.8"/>
<path d="M21.2 182.2h1.6M17.4 143h3.9M18.8 151.5h3.4" stroke="#2b47a3" stroke-opacity="0.5" stroke-width="0.8"/>
<path d="M19.9 144.6h4.6M20.9 157.5h4.8" stroke="#2b47a3" stroke-opacity="0.55" stroke-width="0.8"/>
</g>
<rect x="420.1" y="76.3" width="47" height="4.4" fill="none" stroke="#555" stroke-width="0.7"/>
<rect x="420.1" y="85.4" width="47" height="10.9" fill="none" stroke="#555" stroke-width="0.7"/>
<rect x="420.1" y="101.2" width="47" height="21.3" fill="none" stroke="#555" stroke-width="0.7"/>
<rect x="420.1" y="127.1" width="47" height="56" fill="none" stroke="#555" stroke-width="0.7"/>
<rect x="420.1" y="188" width="47" height="188.2" fill="none" stroke="#555" stroke-width="0.7"/>
<line x1="420.1" y1="376.2" x2="420.1" y2="377.8" stroke="#777" stroke-width="0.6"/>
<line x1="443.6" y1="376.2" x2="443.6" y2="377.8" stroke="#777" stroke-width="0.6"/>
<line x1="467.1" y1="376.2" x2="467.1" y2="377.8" stroke="#777" stroke-width="0.6"/>
<text x="443.9" y="384.8" font-size="8.3" text-anchor="middle" fill="#222" textLength="47.5" lengthAdjust="spacingAndGlyphs">-1 center1Kb</text>
<g transform="translate(472.1,0)">
<path d="M0 95.3h47v1H0z" fill="url(#fl0)" fill-opacity="0.85"/>
<path d="M0 94.3h47v1H0z" fill="url(#fl1)" fill-opacity="0.75"/>
<path d="M0 93.3h47v1H0z" fill="url(#fl1)" fill-opacity="0.8"/>
<path d="M0 92.3h47v1H0z" fill="url(#fl2)" fill-opacity="0.8"/>
<path d="M0 91.3h47v1H0z" fill="url(#fl3)" fill-opacity="0.8"/>
<path d="M0 89.4h47v1H0z" fill="url(#fl4)" fill-opacity="0.9"/>
<path d="M0 90.4h47v1H0z" fill="url(#fl4)" fill-opacity="0.95"/>
<path d="M0 86.4h47v1H0zM0 88.4h47v1H0z" fill="url(#fl4)" fill-opacity="1.0"/>
<path d="M0 87.4h47v1H0z" fill="url(#fl5)" fill-opacity="0.95"/>
<path d="M0 85.4h47v1H0z" fill="url(#fl5)" fill-opacity="1.0"/>
<path d="M0 262.1h47v1H0z" fill="url(#h10_1)" fill-opacity="0.05"/>
<path d="M0 243.1h47v1H0zM0 265.1h47v1H0zM0 278.1h47v1H0zM0 279.1h47v1H0zM0 282.1h47v1H0zM0 287.1h47v1H0z" fill="url(#h10_2)" fill-opacity="0.05"/>
<path d="M0 160.1h47v1H0zM0 165.1h47v1H0zM0 166.1h47v1H0zM0 169.1h47v1H0zM0 170.1h47v1H0zM0 173.1h47v1H0zM0 174.1h47v1H0zM0 175.1h47v1H0zM0 176.1h47v1H0zM0 177.1h47v1H0zM0 178.1h47v1H0zM0 179.1h47v1H0zM0 182.1h47v1H0z" fill="url(#h10_2)" fill-opacity="0.1"/>
<path d="M0 95.3h47v1H0z" fill="url(#h10_2)" fill-opacity="0.15"/>
<path d="M0 117.4h47v1H0z" fill="url(#h10_2)" fill-opacity="0.55"/>
<path d="M0 116.4h47v1H0z" fill="url(#h10_2)" fill-opacity="0.65"/>
<path d="M0 212h47v1H0zM0 213h47v1H0zM0 238.1h47v1H0zM0 239.1h47v1H0zM0 240.1h47v1H0zM0 242.1h47v1H0z" fill="url(#h11_1)" fill-opacity="0.05"/>
<path d="M0 203h47v1H0zM0 211h47v1H0zM0 216h47v1H0zM0 218h47v1H0zM0 219h47v1H0zM0 220h47v1H0zM0 236.1h47v1H0zM0 237.1h47v1H0zM0 244.1h47v1H0zM0 245.1h47v1H0zM0 246.1h47v1H0zM0 247.1h47v1H0zM0 248.1h47v1H0zM0 251.1h47v1H0zM0 253.1h47v1H0zM0 254.1h47v1H0zM0 260.1h47v1H0zM0 280.1h47v1H0z" fill="url(#h11_2)" fill-opacity="0.05"/>
<path d="M0 158.1h47v1H0zM0 159.1h47v1H0zM0 161.1h47v1H0zM0 162.1h47v1H0zM0 164.1h47v1H0zM0 167.1h47v1H0zM0 168.1h47v1H0zM0 171.1h47v1H0zM0 172.1h47v1H0z" fill="url(#h11_2)" fill-opacity="0.1"/>
<path d="M0 163.1h47v1H0z" fill="url(#h11_2)" fill-opacity="0.15"/>
<path d="M0 115.4h47v1H0z" fill="url(#h11_2)" fill-opacity="0.65"/>
<path d="M0 113.4h47v1H0z" fill="url(#h11_2)" fill-opacity="0.7"/>
<path d="M0 255.1h47v1H0zM0 256.1h47v1H0z" fill="url(#h11_3)" fill-opacity="0.05"/>
<path d="M0 195h47v1H0zM0 197h47v1H0zM0 241.1h47v1H0z" fill="url(#h12_1)" fill-opacity="0.05"/>
<path d="M0 114.4h47v1H0z" fill="url(#h12_1)" fill-opacity="0.75"/>
<path d="M0 188h47v1H0zM0 189h47v1H0zM0 190h47v1H0zM0 192h47v1H0zM0 193h47v1H0zM0 194h47v1H0zM0 196h47v1H0zM0 198h47v1H0zM0 199h47v1H0zM0 200h47v1H0zM0 201h47v1H0zM0 202h47v1H0zM0 204h47v1H0zM0 205h47v1H0zM0 208h47v1H0zM0 209h47v1H0zM0 210h47v1H0zM0 221h47v1H0zM0 222h47v1H0zM0 223h47v1H0zM0 225h47v1H0zM0 228h47v1H0zM0 229h47v1H0zM0 230h47v1H0zM0 232h47v1H0zM0 233h47v1H0zM0 234h47v1H0zM0 235.1h47v1H0zM0 249.1h47v1H0zM0 252.1h47v1H0z" fill="url(#h12_2)" fill-opacity="0.05"/>
<path d="M0 137.1h47v1H0zM0 139.1h47v1H0zM0 147.1h47v1H0zM0 152.1h47v1H0zM0 153.1h47v1H0zM0 154.1h47v1H0zM0 155.1h47v1H0zM0 157.1h47v1H0z" fill="url(#h12_2)" fill-opacity="0.1"/>
<path d="M0 94.3h47v1H0zM0 134.1h47v1H0zM0 156.1h47v1H0z" fill="url(#h12_2)" fill-opacity="0.15"/>
<path d="M0 112.4h47v1H0z" fill="url(#h12_2)" fill-opacity="0.9"/>
<path d="M0 226h47v1H0zM0 227h47v1H0zM0 231h47v1H0z" fill="url(#h12_3)" fill-opacity="0.05"/>
<path d="M0 140.1h47v1H0zM0 141.1h47v1H0zM0 145.1h47v1H0zM0 146.1h47v1H0z" fill="url(#h12_3)" fill-opacity="0.1"/>
<path d="M0 142.1h47v1H0z" fill="url(#h12_3)" fill-opacity="0.15"/>
<path d="M0 111.3h47v1H0z" fill="url(#h12_3)" fill-opacity="0.85"/>
<path d="M0 191h47v1H0z" fill="url(#h13_1)" fill-opacity="0.05"/>
<path d="M0 127.1h47v1H0zM0 129.1h47v1H0zM0 135.1h47v1H0zM0 138.1h47v1H0zM0 148.1h47v1H0z" fill="url(#h13_2)" fill-opacity="0.1"/>
<path d="M0 92.3h47v1H0zM0 93.3h47v1H0zM0 132.1h47v1H0zM0 133.1h47v1H0zM0 136.1h47v1H0zM0 151.1h47v1H0z" fill="url(#h13_2)" fill-opacity="0.15"/>
<path d="M0 109.3h47v1H0z" fill="url(#h13_2)" fill-opacity="0.9"/>
<path d="M0 104.2h47v1H0z" fill="url(#h13_2)" fill-opacity="0.95"/>
<path d="M0 128.1h47v1H0zM0 143.1h47v1H0zM0 149.1h47v1H0zM0 150.1h47v1H0z" fill="url(#h13_3)" fill-opacity="0.1"/>
<path d="M0 144.1h47v1H0z" fill="url(#h13_3)" fill-opacity="0.15"/>
<path d="M0 110.3h47v1H0z" fill="url(#h13_3)" fill-opacity="0.8"/>
<path d="M0 131.1h47v1H0z" fill="url(#h14_2)" fill-opacity="0.1"/>
<path d="M0 91.3h47v1H0zM0 130.1h47v1H0z" fill="url(#h14_2)" fill-opacity="0.15"/>
<path d="M0 89.4h47v1H0zM0 90.4h47v1H0z" fill="url(#h14_2)" fill-opacity="0.2"/>
<path d="M0 121.5h47v1H0z" fill="url(#h14_2)" fill-opacity="0.3"/>
<path d="M0 120.5h47v1H0z" fill="url(#h14_2)" fill-opacity="0.35"/>
<path d="M0 108.3h47v1H0z" fill="url(#h14_2)" fill-opacity="0.8"/>
<path d="M0 105.3h47v1H0z" fill="url(#h14_2)" fill-opacity="0.9"/>
<path d="M0 107.3h47v1H0z" fill="url(#h14_2)" fill-opacity="0.95"/>
<path d="M0 106.3h47v1H0z" fill="url(#h14_2)" fill-opacity="1.0"/>
<path d="M0 85.4h47v1H0zM0 86.4h47v1H0zM0 87.4h47v1H0zM0 88.4h47v1H0zM0 116.4h47v1H0zM0 117.4h47v1H0z" fill="url(#h15_2)" fill-opacity="0.2"/>
<path d="M0 115.4h47v1H0z" fill="url(#h15_2)" fill-opacity="0.25"/>
<path d="M0 118.4h47v1H0zM0 119.5h47v1H0z" fill="url(#h15_2)" fill-opacity="0.3"/>
<path d="M0 114.4h47v1H0z" fill="url(#h16_1)" fill-opacity="0.25"/>
<path d="M0 113.4h47v1H0z" fill="url(#h16_2)" fill-opacity="0.25"/>
<path d="M0 109.3h47v1H0zM0 112.4h47v1H0z" fill="url(#h16_2)" fill-opacity="0.3"/>
<path d="M0 104.2h47v1H0z" fill="url(#h16_2)" fill-opacity="0.35"/>
<path d="M0 110.3h47v1H0z" fill="url(#h16_3)" fill-opacity="0.25"/>
<path d="M0 111.3h47v1H0z" fill="url(#h16_3)" fill-opacity="0.3"/>
<path d="M0 85.4h47v1H0zM0 86.4h47v1H0zM0 87.4h47v1H0zM0 88.4h47v1H0zM0 90.4h47v1H0zM0 92.3h47v1H0zM0 93.3h47v1H0zM0 94.3h47v1H0zM0 127.1h47v1H0zM0 128.1h47v1H0zM0 129.1h47v1H0zM0 130.1h47v1H0zM0 131.1h47v1H0zM0 134.1h47v1H0zM0 135.1h47v1H0zM0 137.1h47v1H0zM0 138.1h47v1H0zM0 139.1h47v1H0zM0 142.1h47v1H0zM0 144.1h47v1H0zM0 146.1h47v1H0zM0 148.1h47v1H0zM0 149.1h47v1H0zM0 150.1h47v1H0zM0 151.1h47v1H0zM0 152.1h47v1H0zM0 153.1h47v1H0zM0 154.1h47v1H0zM0 155.1h47v1H0zM0 157.1h47v1H0zM0 158.1h47v1H0zM0 159.1h47v1H0zM0 161.1h47v1H0zM0 162.1h47v1H0zM0 163.1h47v1H0zM0 164.1h47v1H0zM0 165.1h47v1H0zM0 167.1h47v1H0zM0 168.1h47v1H0zM0 170.1h47v1H0zM0 171.1h47v1H0zM0 172.1h47v1H0zM0 173.1h47v1H0zM0 174.1h47v1H0zM0 175.1h47v1H0zM0 177.1h47v1H0zM0 178.1h47v1H0zM0 180.1h47v1H0zM0 181.1h47v1H0zM0 182.1h47v1H0zM0 188h47v1H0zM0 189h47v1H0zM0 190h47v1H0zM0 191h47v1H0zM0 192h47v1H0zM0 194h47v1H0zM0 196h47v1H0zM0 198h47v1H0zM0 204h47v1H0zM0 205h47v1H0zM0 206h47v1H0zM0 209h47v1H0zM0 211h47v1H0zM0 212h47v1H0zM0 213h47v1H0zM0 215h47v1H0zM0 217h47v1H0zM0 218h47v1H0zM0 219h47v1H0zM0 221h47v1H0zM0 222h47v1H0zM0 223h47v1H0zM0 224h47v1H0zM0 225h47v1H0zM0 226h47v1H0zM0 227h47v1H0zM0 228h47v1H0zM0 229h47v1H0zM0 230h47v1H0zM0 231h47v1H0zM0 232h47v1H0zM0 234h47v1H0zM0 235.1h47v1H0zM0 236.1h47v1H0zM0 237.1h47v1H0zM0 238.1h47v1H0zM0 239.1h47v1H0zM0 240.1h47v1H0zM0 241.1h47v1H0zM0 242.1h47v1H0zM0 244.1h47v1H0zM0 245.1h47v1H0zM0 246.1h47v1H0zM0 247.1h47v1H0zM0 248.1h47v1H0zM0 250.1h47v1H0zM0 251.1h47v1H0zM0 258.1h47v1H0zM0 259.1h47v1H0zM0 262.1h47v1H0zM0 263.1h47v1H0zM0 264.1h47v1H0zM0 265.1h47v1H0zM0 267.1h47v1H0zM0 268.1h47v1H0zM0 269.1h47v1H0zM0 270.1h47v1H0zM0 271.1h47v1H0zM0 272.1h47v1H0zM0 275.1h47v1H0zM0 276.1h47v1H0zM0 277.1h47v1H0zM0 278.1h47v1H0zM0 279.1h47v1H0zM0 281.1h47v1H0zM0 282.1h47v1H0zM0 283.1h47v1H0zM0 285.1h47v1H0zM0 286.1h47v1H0zM0 287.1h47v1H0zM0 288.1h47v1H0zM0 291.1h47v1H0zM0 292.1h47v1H0zM0 294.1h47v1H0zM0 295.1h47v1H0zM0 297.1h47v1H0zM0 298.1h47v1H0zM0 299.1h47v1H0zM0 300.1h47v1H0zM0 301.1h47v1H0zM0 302.1h47v1H0zM0 304.1h47v1H0zM0 305.1h47v1H0zM0 306.1h47v1H0zM0 307.1h47v1H0zM0 308.1h47v1H0zM0 310.1h47v1H0zM0 311.1h47v1H0zM0 312.1h47v1H0zM0 313.1h47v1H0zM0 314.1h47v1H0zM0 315.1h47v1H0zM0 316.1h47v1H0zM0 317.1h47v1H0zM0 318.1h47v1H0zM0 319.1h47v1H0zM0 320.1h47v1H0zM0 322.1h47v1H0zM0 324.1h47v1H0zM0 325.1h47v1H0zM0 327.1h47v1H0zM0 328.1h47v1H0zM0 330.2h47v1H0zM0 332.2h47v1H0zM0 333.2h47v1H0zM0 335.2h47v1H0zM0 336.2h47v1H0zM0 337.2h47v1H0zM0 338.2h47v1H0zM0 339.2h47v1H0zM0 343.2h47v1H0zM0 344.2h47v1H0zM0 345.2h47v1H0zM0 346.2h47v1H0zM0 347.2h47v1H0zM0 348.2h47v1H0zM0 349.2h47v1H0zM0 351.2h47v1H0zM0 352.2h47v1H0zM0 353.2h47v1H0zM0 354.2h47v1H0zM0 355.2h47v1H0zM0 356.2h47v1H0zM0 357.2h47v1H0zM0 359.2h47v1H0zM0 360.2h47v1H0zM0 361.2h47v1H0zM0 362.2h47v1H0zM0 363.2h47v1H0zM0 364.2h47v1H0zM0 366.2h47v1H0zM0 367.2h47v1H0zM0 368.2h47v1H0zM0 370.2h47v1H0zM0 371.2h47v1H0zM0 372.2h47v1H0zM0 374.2h47v1H0zM0 375.2h47v1H0z" fill="url(#h17_2)" fill-opacity="0.025"/>
<path d="M0 76.3h47v1.1H0zM0 79.6h47v1.1H0zM0 95.3h47v1H0zM0 105.3h47v1H0zM0 109.3h47v1H0zM0 116.4h47v1H0zM0 133.1h47v1H0zM0 140.1h47v1H0zM0 147.1h47v1H0zM0 156.1h47v1H0zM0 166.1h47v1H0zM0 169.1h47v1H0zM0 179.1h47v1H0zM0 193h47v1H0zM0 195h47v1H0zM0 197h47v1H0zM0 200h47v1H0zM0 201h47v1H0zM0 202h47v1H0zM0 203h47v1H0zM0 207h47v1H0zM0 210h47v1H0zM0 255.1h47v1H0zM0 257.1h47v1H0zM0 273.1h47v1H0zM0 289.1h47v1H0zM0 309.1h47v1H0zM0 321.1h47v1H0zM0 331.2h47v1H0zM0 340.2h47v1H0zM0 365.2h47v1H0z" fill="url(#h17_2)" fill-opacity="0.05"/>
<path d="M0 101.2h47v1H0zM0 113.4h47v1H0zM0 117.4h47v1H0zM0 132.1h47v1H0zM0 136.1h47v1H0zM0 143.1h47v1H0zM0 145.1h47v1H0zM0 160.1h47v1H0zM0 199h47v1H0zM0 208h47v1H0zM0 290.1h47v1H0z" fill="url(#h17_2)" fill-opacity="0.075"/>
<path d="M0 78.5h47v1.1H0zM0 104.2h47v1H0zM0 108.3h47v1H0zM0 121.5h47v1H0z" fill="url(#h17_2)" fill-opacity="0.1"/>
<path d="M0 102.2h47v1H0zM0 106.3h47v1H0zM0 107.3h47v1H0zM0 110.3h47v1H0zM0 112.4h47v1H0zM0 114.4h47v1H0zM0 119.5h47v1H0z" fill="url(#h17_2)" fill-opacity="0.125"/>
<path d="M0 77.4h47v1.1H0zM0 78.5h47v1.1H0zM0 111.3h47v1H0zM0 115.4h47v1H0zM0 118.4h47v1H0zM0 120.5h47v1H0z" fill="url(#h17_2)" fill-opacity="0.15"/>
<path d="M0 103.2h47v1H0z" fill="url(#h17_2)" fill-opacity="0.2"/>
<path d="M0 103.2h47v1H0z" fill="url(#h17_2)" fill-opacity="0.275"/>
<path d="M0 102.2h47v1H0zM0 105.3h47v1H0zM0 108.3h47v1H0z" fill="url(#h17_2)" fill-opacity="0.3"/>
<path d="M0 101.2h47v1H0zM0 106.3h47v1H0zM0 107.3h47v1H0z" fill="url(#h17_2)" fill-opacity="0.35"/>
<path d="M0 103.2h47v1H0z" fill="url(#h17_2)" fill-opacity="0.6"/>
<path d="M0 77.4h47v1.1H0z" fill="url(#h17_2)" fill-opacity="0.65"/>
<path d="M0 102.2h47v1H0z" fill="url(#h17_2)" fill-opacity="0.8"/>
<path d="M0 79.6h47v1.1H0z" fill="url(#h17_2)" fill-opacity="0.85"/>
<path d="M0 101.2h47v1H0z" fill="url(#h17_2)" fill-opacity="0.95"/>
<path d="M0 76.3h47v1.1H0z" fill="url(#h17_2)" fill-opacity="1.0"/>
<path d="M0 355.2h47v1H0z" fill="url(#h1_1)" fill-opacity="0.1"/>
<path d="M0 364.2h47v1H0zM0 368.2h47v1H0zM0 369.2h47v1H0zM0 370.2h47v1H0zM0 373.2h47v1H0zM0 374.2h47v1H0zM0 375.2h47v1H0z" fill="url(#h1_2)" fill-opacity="0.05"/>
<path d="M0 337.2h47v1H0z" fill="url(#h1_2)" fill-opacity="0.15"/>
<path d="M0 363.2h47v1H0zM0 372.2h47v1H0z" fill="url(#h1_3)" fill-opacity="0.05"/>
<path d="M0 353.2h47v1H0zM0 354.2h47v1H0z" fill="url(#h2_1)" fill-opacity="0.1"/>
<path d="M0 318.1h47v1H0z" fill="url(#h2_1)" fill-opacity="0.15"/>
<path d="M0 359.2h47v1H0zM0 365.2h47v1H0zM0 366.2h47v1H0zM0 367.2h47v1H0z" fill="url(#h2_2)" fill-opacity="0.05"/>
<path d="M0 322.1h47v1H0zM0 327.1h47v1H0zM0 330.2h47v1H0zM0 333.2h47v1H0zM0 334.2h47v1H0zM0 335.2h47v1H0zM0 336.2h47v1H0zM0 338.2h47v1H0zM0 339.2h47v1H0zM0 340.2h47v1H0zM0 341.2h47v1H0zM0 343.2h47v1H0zM0 344.2h47v1H0zM0 347.2h47v1H0zM0 348.2h47v1H0zM0 349.2h47v1H0zM0 350.2h47v1H0zM0 352.2h47v1H0zM0 356.2h47v1H0zM0 357.2h47v1H0z" fill="url(#h2_2)" fill-opacity="0.1"/>
<path d="M0 314.1h47v1H0zM0 325.1h47v1H0zM0 329.1h47v1H0z" fill="url(#h2_2)" fill-opacity="0.15"/>
<path d="M0 361.2h47v1H0zM0 362.2h47v1H0zM0 371.2h47v1H0z" fill="url(#h2_3)" fill-opacity="0.05"/>
<path d="M0 351.2h47v1H0zM0 358.2h47v1H0zM0 360.2h47v1H0z" fill="url(#h2_3)" fill-opacity="0.1"/>
<path d="M0 317.1h47v1H0z" fill="url(#h3_1)" fill-opacity="0.1"/>
<path d="M0 301.1h47v1H0zM0 316.1h47v1H0z" fill="url(#h3_1)" fill-opacity="0.15"/>
<path d="M0 303.1h47v1H0zM0 313.1h47v1H0zM0 315.1h47v1H0zM0 321.1h47v1H0zM0 326.1h47v1H0zM0 342.2h47v1H0zM0 346.2h47v1H0z" fill="url(#h3_2)" fill-opacity="0.1"/>
<path d="M0 270.1h47v1H0zM0 281.1h47v1H0zM0 290.1h47v1H0zM0 293.1h47v1H0zM0 295.1h47v1H0zM0 296.1h47v1H0zM0 302.1h47v1H0zM0 304.1h47v1H0zM0 306.1h47v1H0zM0 307.1h47v1H0zM0 308.1h47v1H0zM0 309.1h47v1H0zM0 310.1h47v1H0zM0 311.1h47v1H0zM0 319.1h47v1H0zM0 320.1h47v1H0zM0 323.1h47v1H0zM0 324.1h47v1H0zM0 328.1h47v1H0zM0 332.2h47v1H0z" fill="url(#h3_2)" fill-opacity="0.15"/>
<path d="M0 277.1h47v1H0zM0 283.1h47v1H0zM0 297.1h47v1H0zM0 298.1h47v1H0zM0 299.1h47v1H0zM0 300.1h47v1H0zM0 305.1h47v1H0z" fill="url(#h3_2)" fill-opacity="0.2"/>
<path d="M0 181.1h47v1H0z" fill="url(#h3_2)" fill-opacity="0.3"/>
<path d="M0 179.1h47v1H0zM0 180.1h47v1H0zM0 182.1h47v1H0z" fill="url(#h3_2)" fill-opacity="0.35"/>
<path d="M0 175.1h47v1H0z" fill="url(#h3_2)" fill-opacity="0.4"/>
<path d="M0 312.1h47v1H0zM0 331.2h47v1H0zM0 345.2h47v1H0z" fill="url(#h3_3)" fill-opacity="0.1"/>
<path d="M0 292.1h47v1H0z" fill="url(#h3_3)" fill-opacity="0.15"/>
<path d="M0 263.1h47v1H0zM0 284.1h47v1H0z" fill="url(#h4_1)" fill-opacity="0.15"/>
<path d="M0 238.1h47v1H0zM0 261.1h47v1H0zM0 262.1h47v1H0zM0 271.1h47v1H0zM0 272.1h47v1H0z" fill="url(#h4_1)" fill-opacity="0.2"/>
<path d="M0 267.1h47v1H0zM0 269.1h47v1H0zM0 276.1h47v1H0z" fill="url(#h4_2)" fill-opacity="0.15"/>
<path d="M0 257.1h47v1H0zM0 258.1h47v1H0zM0 264.1h47v1H0zM0 268.1h47v1H0zM0 273.1h47v1H0zM0 274.1h47v1H0zM0 275.1h47v1H0zM0 278.1h47v1H0zM0 280.1h47v1H0zM0 282.1h47v1H0zM0 286.1h47v1H0zM0 287.1h47v1H0zM0 288.1h47v1H0zM0 289.1h47v1H0z" fill="url(#h4_2)" fill-opacity="0.2"/>
<path d="M0 243.1h47v1H0zM0 265.1h47v1H0zM0 279.1h47v1H0z" fill="url(#h4_2)" fill-opacity="0.25"/>
<path d="M0 160.1h47v1H0zM0 177.1h47v1H0zM0 247.1h47v1H0z" fill="url(#h4_2)" fill-opacity="0.3"/>
<path d="M0 159.1h47v1H0zM0 169.1h47v1H0zM0 172.1h47v1H0zM0 173.1h47v1H0zM0 174.1h47v1H0zM0 178.1h47v1H0z" fill="url(#h4_2)" fill-opacity="0.35"/>
<path d="M0 163.1h47v1H0zM0 165.1h47v1H0zM0 166.1h47v1H0zM0 167.1h47v1H0zM0 168.1h47v1H0zM0 170.1h47v1H0zM0 176.1h47v1H0z" fill="url(#h4_2)" fill-opacity="0.4"/>
<path d="M0 294.1h47v1H0z" fill="url(#h4_3)" fill-opacity="0.15"/>
<path d="M0 266.1h47v1H0zM0 291.1h47v1H0z" fill="url(#h4_3)" fill-opacity="0.2"/>
<path d="M0 255.1h47v1H0z" fill="url(#h4_3)" fill-opacity="0.3"/>
<path d="M0 213h47v1H0zM0 241.1h47v1H0z" fill="url(#h5_1)" fill-opacity="0.2"/>
<path d="M0 212h47v1H0zM0 239.1h47v1H0zM0 240.1h47v1H0zM0 242.1h47v1H0z" fill="url(#h5_1)" fill-opacity="0.25"/>
<path d="M0 206h47v1H0zM0 207h47v1H0zM0 214h47v1H0zM0 215h47v1H0zM0 217h47v1H0zM0 224h47v1H0zM0 249.1h47v1H0zM0 250.1h47v1H0zM0 251.1h47v1H0zM0 259.1h47v1H0zM0 260.1h47v1H0zM0 285.1h47v1H0z" fill="url(#h5_2)" fill-opacity="0.2"/>
<path d="M0 161.1h47v1H0zM0 211h47v1H0zM0 216h47v1H0zM0 218h47v1H0zM0 220h47v1H0zM0 221h47v1H0zM0 222h47v1H0zM0 237.1h47v1H0zM0 244.1h47v1H0zM0 248.1h47v1H0zM0 252.1h47v1H0z" fill="url(#h5_2)" fill-opacity="0.25"/>
<path d="M0 198h47v1H0zM0 199h47v1H0zM0 202h47v1H0zM0 203h47v1H0zM0 208h47v1H0zM0 219h47v1H0zM0 236.1h47v1H0zM0 245.1h47v1H0zM0 246.1h47v1H0zM0 253.1h47v1H0zM0 254.1h47v1H0z" fill="url(#h5_2)" fill-opacity="0.3"/>
<path d="M0 153.1h47v1H0zM0 157.1h47v1H0zM0 162.1h47v1H0zM0 164.1h47v1H0zM0 171.1h47v1H0zM0 210h47v1H0z" fill="url(#h5_2)" fill-opacity="0.35"/>
<path d="M0 152.1h47v1H0zM0 154.1h47v1H0zM0 158.1h47v1H0z" fill="url(#h5_2)" fill-opacity="0.4"/>
<path d="M0 256.1h47v1H0z" fill="url(#h5_3)" fill-opacity="0.2"/>
<path d="M0 146.1h47v1H0z" fill="url(#h5_3)" fill-opacity="0.3"/>
<path d="M0 195h47v1H0z" fill="url(#h6_1)" fill-opacity="0.35"/>
<path d="M0 197h47v1H0z" fill="url(#h6_1)" fill-opacity="0.4"/>
<path d="M0 229h47v1H0z" fill="url(#h6_2)" fill-opacity="0.2"/>
<path d="M0 204h47v1H0zM0 205h47v1H0zM0 209h47v1H0zM0 223h47v1H0zM0 228h47v1H0zM0 230h47v1H0zM0 232h47v1H0zM0 233h47v1H0zM0 234h47v1H0zM0 235.1h47v1H0z" fill="url(#h6_2)" fill-opacity="0.25"/>
<path d="M0 192h47v1H0zM0 200h47v1H0zM0 225h47v1H0z" fill="url(#h6_2)" fill-opacity="0.3"/>
<path d="M0 137.1h47v1H0zM0 148.1h47v1H0zM0 188h47v1H0zM0 189h47v1H0zM0 193h47v1H0zM0 194h47v1H0zM0 201h47v1H0z" fill="url(#h6_2)" fill-opacity="0.35"/>
<path d="M0 139.1h47v1H0zM0 147.1h47v1H0zM0 155.1h47v1H0zM0 190h47v1H0zM0 196h47v1H0z" fill="url(#h6_2)" fill-opacity="0.4"/>
<path d="M0 133.1h47v1H0zM0 134.1h47v1H0zM0 156.1h47v1H0z" fill="url(#h6_2)" fill-opacity="0.45"/>
<path d="M0 226h47v1H0zM0 227h47v1H0zM0 231h47v1H0z" fill="url(#h6_3)" fill-opacity="0.25"/>
<path d="M0 141.1h47v1H0zM0 145.1h47v1H0z" fill="url(#h6_3)" fill-opacity="0.35"/>
<path d="M0 140.1h47v1H0zM0 142.1h47v1H0z" fill="url(#h6_3)" fill-opacity="0.4"/>
<path d="M0 191h47v1H0z" fill="url(#h7_1)" fill-opacity="0.35"/>
<path d="M0 135.1h47v1H0zM0 138.1h47v1H0z" fill="url(#h7_2)" fill-opacity="0.35"/>
<path d="M0 129.1h47v1H0zM0 151.1h47v1H0z" fill="url(#h7_2)" fill-opacity="0.4"/>
<path d="M0 136.1h47v1H0z" fill="url(#h7_2)" fill-opacity="0.45"/>
<path d="M0 132.1h47v1H0z" fill="url(#h7_2)" fill-opacity="0.5"/>
<path d="M0 143.1h47v1H0zM0 149.1h47v1H0z" fill="url(#h7_3)" fill-opacity="0.35"/>
<path d="M0 150.1h47v1H0z" fill="url(#h7_3)" fill-opacity="0.4"/>
<path d="M0 144.1h47v1H0z" fill="url(#h7_3)" fill-opacity="0.45"/>
<path d="M0 127.1h47v1H0zM0 131.1h47v1H0z" fill="url(#h8_2)" fill-opacity="0.4"/>
<path d="M0 130.1h47v1H0z" fill="url(#h8_2)" fill-opacity="0.5"/>
<path d="M0 121.5h47v1H0z" fill="url(#h8_2)" fill-opacity="0.85"/>
<path d="M0 120.5h47v1H0z" fill="url(#h8_2)" fill-opacity="1.0"/>
<path d="M0 128.1h47v1H0z" fill="url(#h8_3)" fill-opacity="0.35"/>
<path d="M0 299.1h47v1H0z" fill="url(#h9_2)" fill-opacity="0.05"/>
<path d="M0 180.1h47v1H0zM0 181.1h47v1H0z" fill="url(#h9_2)" fill-opacity="0.1"/>
<path d="M0 118.4h47v1H0z" fill="url(#h9_2)" fill-opacity="0.8"/>
<path d="M0 119.5h47v1H0z" fill="url(#h9_2)" fill-opacity="0.9"/>
<path d="M11.8 117.3h6.6M17.3 105.9h5.2M40.3 105.1h6.5M17.9 112.7h8.8M12.1 103.9h3.3M17.6 121.9h9M32.3 105.1h2.6M24.8 145.4h6.1M27.3 143.8h6.9M21.6 151.3h4.1M8.5 169.8h7M30.6 159.9h8.2M33.3 151.3h4.3M1.6 131.7h7.4M41 128.7h3.2M12.9 148.7h9.9M7.1 164.7h5.3M23.9 160.5h7.8M24.2 159.4h3.7M0.8 130.9h3.5M27.8 167.7h7.2M43 140h3.8M14.3 158h7.3M27.6 159.2h6.1M11.2 149.7h5.9M0.2 154.8h1.9M27.1 154.5h2.4M27.9 162.2h4M0.2 163.5h4.8M8.6 302h4.6M29 195.9h2.1M24.4 349.4h2.9M36.1 233.8h7.8M24.2 290.2h5.8M6.2 296.5h7.6M18.9 322h4.1M21.8 327.6h5.5M17.3 254.6h2.6M5.8 231.2h6.5M22 337.2h2.2M12.2 277.3h3.8M0.2 370.3h4M38.2 284.2h8.4M31.2 349.7h3.2M37.1 241.9h9.7M25 368.6h3.1M17.3 321.6h4.5M23.5 366.3h3.4M32.2 248.1h3.2M33.3 342.4h7.5M15.2 205.7h9.6M18.1 242.9h9.9M21.6 364.8h1.9M20.8 324.9h3.3M19.6 371.9h4.2M21.6 350.5h4M25.2 313.5h5.5M25.6 232.1h4.6M13.1 250.6h2M20 372.3h5.3M16.6 243.6h6.6M21.1 313.9h4.1M23.9 224.2h8.2M32.9 203.7h6.1M1 212.1h6.2M25.2 314.1h1.8M22.1 361.3h2.5M15 319.2h9M22.2 324.6h2.1M26.2 263.6h3.3M44.1 196.3h2.7M22.4 371.2h5.9M21.2 361h1.5M42.9 311h3.6M18.8 348.6h3.7M21.9 341.9h3.6M40.4 267.1h6.4M38.4 232.9h4.8M25.3 303.3h5.4M24 347.5h1.9M22.7 364.9h1.7M0.3 358.2h7.6M22.6 371.6h2.4M29.3 272.3h9.3M24.9 318.1h4.5M19.2 369.6h3.7M2.1 302.5h5.9M19.9 337h2.3M23 331.3h5.6M20.6 365h5.2M29.3 279.5h6.7M22.6 367.2h5.2M5.6 276.6h2.1M12.9 362.8h5.3M14.5 367.5h5.1M22 361.7h5.5M12.3 219.2h7.6M8.7 279.8h8.8M26.6 291.8h3M22.6 356.7h3.9M0.2 193.7h4M0.2 209.7h5.8M40 253.9h6.8M44.2 333h2.6M21.5 334.4h4.8M19 308h5.4M37.6 286h5.7M17.7 321.3h3.9M35.5 272.6h7.8M27.3 271.5h8.8M14.6 267.1h6.7M23.5 330.1h5.6M24 302.6h2.1M26.5 299.2h2.9M23.5 325h4.1M31.5 362.3h7.2M0.2 198.3h8.2M24.3 363h2.9M26.3 361.9h5.4M20.3 321.1h8.4M17 204.4h4.6M21.1 364.2h4.3M21.6 370.5h4.1M23.1 340.3h2.7M27 286.9h5M2.4 202.1h9.7M24.9 306.1h3.2" stroke="#2b47a3" stroke-opacity="0.05" stroke-width="0.8"/>
<path d="M31.4 112.6h5.5M41.7 120.8h5.1M6 102.6h7.1M43 103h3.8M5.2 103h7.7M33.2 106.4h9.5M35 175.3h10M31.7 179.7h6.2M43.6 157h3.2M24.8 153.1h2.5M2.9 174.5h3.5M6.7 180.9h4M8.9 138.4h7.3M1.7 182.5h7.5M34 158.6h4.3M28.5 137.5h7.2M0.2 150.7h6.5M8.4 172.8h4.4M18 174.8h9.8M18.3 175.5h3.5M11.3 136.3h2.9M41.1 137.7h2.4M26.5 152.5h2.1M17.4 159.6h4.7M30.2 151.9h3.6M14.6 132.5h8M22 326.6h6M22.6 276.9h2.1M22.5 248.2h5.3M23.9 246.1h4.6M41.2 323.4h5.6M21.1 284.2h4.1M21.8 258.8h3.4M29.9 338h4.4M24.4 326.1h3.3M21.7 286.4h3.4M13.5 319h2.1M23.6 249.5h3.9M19.9 278.1h2.6M40.5 226.4h6.3M20.8 299h7.7M41.3 372.5h5.5M41.7 337.4h5.1M0.2 248h2.8M14.6 306.3h2.7M11.8 217.7h5.4M42.3 244.3h3.7M9.3 369.6h2.3M23.1 331.2h4M3.4 285.7h6.3M20.6 216.7h2.5M2.6 363.9h5.3M27 276.9h4.1M22 303.8h1.9M0.2 205.3h4.6M15 327.2h6M4.3 230.2h5.1M0.6 260.1h9.4M10.9 233.7h4.3M38.4 237.6h7.9M10.8 290.1h5.3M10.3 193.6h3.7M20.4 314.5h1.9M44.5 369.7h2.1M19.4 260.2h4.7M24.2 363.8h3M24.2 309h2.9M22.5 286.5h2.5M21.9 328.2h3M23 296h3.7M5 337.3h4.5M19.9 308.6h5.2M19.9 263.3h1.9M15.5 275.5h7.1M19.4 304.9h1.8M36.7 346.1h2.9M42.7 258.5h4.1M22.5 242.4h3.3M37.6 367h6.5M37.4 322.4h5.1M36.9 317.4h3.2M14.6 209.3h9M28.8 248.2h7.7M6.1 237.6h5.3M17.1 220.6h3.5M8.3 372h5.5M4.5 278.6h9.4M2.2 224.1h9.7M25.7 300.4h6.8M0.2 243.7h6.1M20.2 201.8h7.5M19.7 202.7h4M28.9 281.7h9.8M36.8 280.7h8.9M26 282.4h2.3M21.8 308.8h1.9M22.3 342.7h2.8M22 238.1h3.4M22.4 272.6h6.9M18.6 363.9h9.5M0.2 339.2h6.2M19.9 213.7h2.2M26.2 336.9h6M21.4 253.6h8.6M16.8 318.8h9.1M28.4 246h7.5M20.6 282h3M11.3 264.4h6.2M23.5 262.7h3.9M17.3 258.1h4.8M27 260.3h9.3M0.2 188.7h2.6M26.4 284.6h2M19.9 237.4h5.9M19.8 308.6h4.9M26.7 210.6h2.9M36.4 243.4h8.6M22.3 304.9h2.5M0.2 328.1h6.7M33 235.7h4.1M26 229h5.3M26.8 292.2h9.5M25.3 273.8h5.4M35.1 317.2h8M10.6 337.5h8.6M22.6 234.7h4.2M24 367.9h7.2" stroke="#2b47a3" stroke-opacity="0.1" stroke-width="0.8"/>
<path d="M40.8 117.2h4.4M10.9 102.8h9.2M25.3 121h3.2M4.4 120.8h5.4M24.8 106.3h4M37.7 113.1h7.8M36.9 107h4.6M36.8 104.8h2.7M17.8 145.7h4.7M2.9 164.6h9M27.3 158.3h4.9M35 174.2h6.7M25.6 170.8h5.1M22.7 180.8h1.6M41.2 157.7h3.9M22.1 135.9h4.1M17.3 161.5h5.6M14.1 147h5.9M28.1 155.3h2.9M28.9 175.6h4M17.6 160.5h7.6M18.2 138.5h5.1M9.7 173.6h3.4M34.1 170.6h5M16.2 144.9h5.7M14.2 128.1h4.3M14.1 129h7.3M38.7 337.6h8.1M18.3 199h3.4M6.1 291h6.9M20.7 240.6h7.2M22.8 249.9h2.8M26 237h2.5M8.8 335.6h5M6.1 244.9h6.1M31.3 316.7h4.7M23.9 204.5h7.7M20.1 212.9h3.5M23.2 270h2.1M18.1 233.9h1.6M22.9 199.9h3.1M6 202.6h8.7M40.8 276h6M9.4 330.5h9.3M42.3 370.5h4.5M17.3 237.4h7.8M25.8 372h3.8M28.4 196.9h8.4M26.9 226h6.4M9.7 211h5.2M24 256.5h4.5M28.4 241h5.1M25.3 275h2.2M15.1 194.7h1.5M2.1 319.8h8.9M5.6 192.8h4.6M43.8 312.9h2.7M18.6 196.1h4.2M0.2 259.8h5.7M16.7 194.3h2.2M23.7 332.6h3.8M17.2 259.6h8.6M22.8 274.8h2.7M20.9 286h2.9M14 199.4h2.3M0.2 328.1h4.7M18 230.3h5.2M32.1 354.3h5.2M20.9 269.6h5.9M23.8 197.9h1.6M22 245.5h2.1M25.5 277.9h2.5M15.9 358.8h6.5M22.4 274.1h3.4M34.1 322.3h8.1M25.5 193h5.2M16.8 223.2h4.5M0.2 322.8h5.7M21.9 249.3h2.7M15.9 264.3h6.1M17.4 329.7h3.3M21.6 277.4h5M14.9 242.9h5M20.7 241.3h2.3M42.6 246.8h2.5M22.6 210.8h6M17.7 297.6h9M18.5 260.4h4.8M24.7 205.4h2.6M22 234.7h4M14.8 247.1h4.7M28.9 196.7h8.1M0.2 198h3.5M9 208h3M25.1 282.3h2.3M22.3 269h3.7M22.2 375.6h4.3M0.2 257.3h7M23.3 221.9h5.2M29.1 248.2h2.2M24.2 223.5h2.3M13.1 221.6h5.5M20.9 270.9h2.7M10.6 325.4h8.8" stroke="#2b47a3" stroke-opacity="0.15" stroke-width="0.8"/>
<path d="M17.9 151h5M21.7 129.7h4.9M20.3 154.5h3.2M18.2 128.6h5.1M19.9 130.2h2.4M13.5 159.8h4.8M15.1 159.2h3.4M17.1 175.3h1.7M14.9 172.5h3.9M20.9 232.4h5M15 239.6h4.2M20.3 199.3h4.6M17.5 236.6h4.6M21.2 194.3h1.6M22.2 222.3h2.6M19.8 188.6h5.5M18.8 205h5.5M24.9 203.7h4.4M23.1 188.7h3.6M19.1 209.6h2.6M15.9 241.9h3.7M20 240.7h3.4M22.6 271.7h2.4M16.4 191.3h1.7M25.1 192.5h2.4" stroke="#2b47a3" stroke-opacity="0.2" stroke-width="0.8"/>
<path d="M25.4 157.2h1.9M13.5 157h5.2M18 142.7h3.8M23.6 141.1h4M21.3 172.4h2.1M16.1 144.3h5.5M17.4 165.7h6M24.3 173.7h4.2M19.9 193h4.8M26.1 192.1h4.9M17.1 224.7h2.5M18.9 225.2h4.9M13.8 204.9h5.1M17.1 201.8h1.7M22.7 209.9h3" stroke="#2b47a3" stroke-opacity="0.25" stroke-width="0.8"/>
<path d="M36.9 103.8h5.4M30 166.9h2.8M21.2 159.7h1.8M22.8 152.6h2.1M28.1 135.3h1.8M27.1 148.9h3.9M28.3 130.1h5.9M23.6 162.5h5.6M19.8 167.3h5M16.5 140h5.6" stroke="#2b47a3" stroke-opacity="0.3" stroke-width="0.8"/>
<path d="M36.9 119.3h4M3.7 111.5h2.7M26.2 115.8h3.5M15.8 131.7h5.7M22.1 148.7h2.9" stroke="#2b47a3" stroke-opacity="0.35" stroke-width="0.8"/>
<path d="M11.4 114.8h4M16.7 120.5h5.7M19.5 113.5h3.9" stroke="#2b47a3" stroke-opacity="0.5" stroke-width="0.8"/>
<path d="M40.9 110.2h5.4M5.4 112.1h4.6" stroke="#2b47a3" stroke-opacity="0.6" stroke-width="0.8"/>
<path d="M29.7 119h2.2M6 103.8h5" stroke="#2b47a3" stroke-opacity="0.65" stroke-width="0.8"/>
</g>
<rect x="472.1" y="76.3" width="47" height="4.4" fill="none" stroke="#555" stroke-width="0.7"/>
<rect x="472.1" y="85.4" width="47" height="10.9" fill="none" stroke="#555" stroke-width="0.7"/>
<rect x="472.1" y="101.2" width="47" height="21.3" fill="none" stroke="#555" stroke-width="0.7"/>
<rect x="472.1" y="127.1" width="47" height="56" fill="none" stroke="#555" stroke-width="0.7"/>
<rect x="472.1" y="188" width="47" height="188.2" fill="none" stroke="#555" stroke-width="0.7"/>
<line x1="472.1" y1="376.2" x2="472.1" y2="377.8" stroke="#777" stroke-width="0.6"/>
<line x1="495.6" y1="376.2" x2="495.6" y2="377.8" stroke="#777" stroke-width="0.6"/>
<line x1="519.1" y1="376.2" x2="519.1" y2="377.8" stroke="#777" stroke-width="0.6"/>
<text x="495.9" y="384.8" font-size="8.3" text-anchor="middle" fill="#222" textLength="47.5" lengthAdjust="spacingAndGlyphs">-1 center1Kb</text>
<g transform="translate(524.3,0)">
<path d="M0 93.3h47v1H0z" fill="url(#fl0)" fill-opacity="0.7"/>
<path d="M0 91.3h47v1H0z" fill="url(#fl0)" fill-opacity="0.75"/>
<path d="M0 90.4h47v1H0zM0 92.3h47v1H0z" fill="url(#fl0)" fill-opacity="0.8"/>
<path d="M0 94.3h47v1H0zM0 95.3h47v1H0z" fill="url(#fl0)" fill-opacity="0.85"/>
<path d="M0 89.4h47v1H0z" fill="url(#fl1)" fill-opacity="0.85"/>
<path d="M0 87.4h47v1H0z" fill="url(#fl2)" fill-opacity="0.65"/>
<path d="M0 86.4h47v1H0zM0 88.4h47v1H0z" fill="url(#fl2)" fill-opacity="0.75"/>
<path d="M0 85.4h47v1H0z" fill="url(#fl2)" fill-opacity="0.8"/>
<path d="M0 371.2h47v1H0z" fill="url(#h0_1)" fill-opacity="0.15"/>
<path d="M0 369.2h47v1H0zM0 372.2h47v1H0zM0 375.2h47v1H0z" fill="url(#h0_1)" fill-opacity="0.2"/>
<path d="M0 370.2h47v1H0z" fill="url(#h0_2)" fill-opacity="0.15"/>
<path d="M0 356.2h47v1H0z" fill="url(#h0_3)" fill-opacity="0.15"/>
<path d="M0 225h47v1H0zM0 227h47v1H0zM0 232h47v1H0zM0 247.1h47v1H0zM0 255.1h47v1H0z" fill="url(#h10_1)" fill-opacity="0.05"/>
<path d="M0 136.1h47v1H0z" fill="url(#h10_1)" fill-opacity="0.15"/>
<path d="M0 188h47v1H0zM0 189h47v1H0zM0 191h47v1H0zM0 194h47v1H0zM0 197h47v1H0zM0 198h47v1H0zM0 199h47v1H0zM0 200h47v1H0zM0 202h47v1H0zM0 208h47v1H0zM0 209h47v1H0zM0 210h47v1H0zM0 211h47v1H0zM0 212h47v1H0zM0 216h47v1H0zM0 217h47v1H0zM0 218h47v1H0zM0 219h47v1H0zM0 224h47v1H0zM0 228h47v1H0zM0 231h47v1H0zM0 234h47v1H0zM0 236.1h47v1H0zM0 239.1h47v1H0zM0 240.1h47v1H0zM0 243.1h47v1H0zM0 248.1h47v1H0zM0 249.1h47v1H0zM0 252.1h47v1H0zM0 254.1h47v1H0zM0 256.1h47v1H0zM0 258.1h47v1H0zM0 259.1h47v1H0zM0 260.1h47v1H0zM0 263.1h47v1H0zM0 268.1h47v1H0zM0 269.1h47v1H0zM0 273.1h47v1H0z" fill="url(#h10_2)" fill-opacity="0.05"/>
<path d="M0 128.1h47v1H0zM0 129.1h47v1H0zM0 131.1h47v1H0zM0 139.1h47v1H0zM0 142.1h47v1H0z" fill="url(#h10_2)" fill-opacity="0.1"/>
<path d="M0 91.3h47v1H0zM0 127.1h47v1H0zM0 138.1h47v1H0zM0 140.1h47v1H0zM0 143.1h47v1H0zM0 147.1h47v1H0z" fill="url(#h10_2)" fill-opacity="0.15"/>
<path d="M0 105.3h47v1H0zM0 106.3h47v1H0zM0 107.3h47v1H0z" fill="url(#h10_2)" fill-opacity="0.3"/>
<path d="M0 215h47v1H0zM0 237.1h47v1H0zM0 244.1h47v1H0zM0 261.1h47v1H0zM0 272.1h47v1H0zM0 277.1h47v1H0z" fill="url(#h10_3)" fill-opacity="0.05"/>
<path d="M0 108.3h47v1H0zM0 109.3h47v1H0z" fill="url(#h10_3)" fill-opacity="0.3"/>
<path d="M0 205h47v1H0z" fill="url(#h11_1)" fill-opacity="0.05"/>
<path d="M0 190h47v1H0zM0 192h47v1H0zM0 193h47v1H0zM0 195h47v1H0zM0 196h47v1H0zM0 201h47v1H0zM0 203h47v1H0zM0 204h47v1H0zM0 206h47v1H0zM0 207h47v1H0zM0 214h47v1H0zM0 220h47v1H0zM0 221h47v1H0zM0 222h47v1H0zM0 223h47v1H0zM0 238.1h47v1H0zM0 245.1h47v1H0zM0 246.1h47v1H0z" fill="url(#h11_2)" fill-opacity="0.05"/>
<path d="M0 121.5h47v1H0z" fill="url(#h11_2)" fill-opacity="0.1"/>
<path d="M0 90.4h47v1H0z" fill="url(#h11_2)" fill-opacity="0.15"/>
<path d="M0 213h47v1H0z" fill="url(#h11_3)" fill-opacity="0.05"/>
<path d="M0 120.5h47v1H0z" fill="url(#h12_2)" fill-opacity="0.05"/>
<path d="M0 117.4h47v1H0zM0 119.5h47v1H0z" fill="url(#h12_2)" fill-opacity="0.1"/>
<path d="M0 89.4h47v1H0z" fill="url(#h12_2)" fill-opacity="0.15"/>
<path d="M0 118.4h47v1H0z" fill="url(#h12_3)" fill-opacity="0.1"/>
<path d="M0 113.4h47v1H0z" fill="url(#h13_2)" fill-opacity="0.05"/>
<path d="M0 112.4h47v1H0zM0 114.4h47v1H0zM0 115.4h47v1H0zM0 116.4h47v1H0z" fill="url(#h13_2)" fill-opacity="0.1"/>
<path d="M0 85.4h47v1H0zM0 86.4h47v1H0zM0 87.4h47v1H0zM0 88.4h47v1H0z" fill="url(#h13_2)" fill-opacity="0.15"/>
<path d="M0 111.3h47v1H0z" fill="url(#h14_2)" fill-opacity="0.1"/>
<path d="M0 110.3h47v1H0z" fill="url(#h14_3)" fill-opacity="0.1"/>
<path d="M0 104.2h47v1H0z" fill="url(#h15_2)" fill-opacity="0.05"/>
<path d="M0 105.3h47v1H0zM0 106.3h47v1H0zM0 107.3h47v1H0z" fill="url(#h15_2)" fill-opacity="0.1"/>
<path d="M0 108.3h47v1H0zM0 109.3h47v1H0z" fill="url(#h15_3)" fill-opacity="0.1"/>
<path d="M0 88.4h47v1H0zM0 91.3h47v1H0zM0 93.3h47v1H0zM0 95.3h47v1H0zM0 101.2h47v1H0zM0 102.2h47v1H0zM0 103.2h47v1H0zM0 104.2h47v1H0zM0 105.3h47v1H0zM0 106.3h47v1H0zM0 107.3h47v1H0zM0 108.3h47v1H0zM0 109.3h47v1H0zM0 110.3h47v1H0zM0 111.3h47v1H0zM0 113.4h47v1H0zM0 115.4h47v1H0zM0 117.4h47v1H0zM0 118.4h47v1H0zM0 119.5h47v1H0zM0 120.5h47v1H0zM0 121.5h47v1H0zM0 127.1h47v1H0zM0 128.1h47v1H0zM0 129.1h47v1H0zM0 130.1h47v1H0zM0 131.1h47v1H0zM0 132.1h47v1H0zM0 133.1h47v1H0zM0 134.1h47v1H0zM0 135.1h47v1H0zM0 136.1h47v1H0zM0 138.1h47v1H0zM0 140.1h47v1H0zM0 141.1h47v1H0zM0 142.1h47v1H0zM0 143.1h47v1H0zM0 144.1h47v1H0zM0 145.1h47v1H0zM0 146.1h47v1H0zM0 147.1h47v1H0zM0 148.1h47v1H0zM0 149.1h47v1H0zM0 150.1h47v1H0zM0 151.1h47v1H0zM0 152.1h47v1H0zM0 156.1h47v1H0zM0 157.1h47v1H0zM0 158.1h47v1H0zM0 159.1h47v1H0zM0 160.1h47v1H0zM0 161.1h47v1H0zM0 163.1h47v1H0zM0 164.1h47v1H0zM0 165.1h47v1H0zM0 167.1h47v1H0zM0 168.1h47v1H0zM0 170.1h47v1H0zM0 171.1h47v1H0zM0 172.1h47v1H0zM0 174.1h47v1H0zM0 176.1h47v1H0zM0 177.1h47v1H0zM0 178.1h47v1H0zM0 180.1h47v1H0zM0 181.1h47v1H0zM0 182.1h47v1H0zM0 190h47v1H0zM0 192h47v1H0zM0 193h47v1H0zM0 194h47v1H0zM0 195h47v1H0zM0 196h47v1H0zM0 198h47v1H0zM0 199h47v1H0zM0 203h47v1H0zM0 204h47v1H0zM0 205h47v1H0zM0 206h47v1H0zM0 209h47v1H0zM0 212h47v1H0zM0 213h47v1H0zM0 214h47v1H0zM0 215h47v1H0zM0 217h47v1H0zM0 218h47v1H0zM0 220h47v1H0zM0 221h47v1H0zM0 222h47v1H0zM0 224h47v1H0zM0 226h47v1H0zM0 227h47v1H0zM0 228h47v1H0zM0 230h47v1H0zM0 231h47v1H0zM0 234h47v1H0zM0 235.1h47v1H0zM0 236.1h47v1H0zM0 237.1h47v1H0zM0 238.1h47v1H0zM0 239.1h47v1H0zM0 240.1h47v1H0zM0 241.1h47v1H0zM0 242.1h47v1H0zM0 244.1h47v1H0zM0 245.1h47v1H0zM0 246.1h47v1H0zM0 247.1h47v1H0zM0 248.1h47v1H0zM0 249.1h47v1H0zM0 250.1h47v1H0zM0 251.1h47v1H0zM0 253.1h47v1H0zM0 254.1h47v1H0zM0 255.1h47v1H0zM0 256.1h47v1H0zM0 257.1h47v1H0zM0 260.1h47v1H0zM0 262.1h47v1H0zM0 264.1h47v1H0zM0 266.1h47v1H0zM0 267.1h47v1H0zM0 268.1h47v1H0zM0 269.1h47v1H0zM0 271.1h47v1H0zM0 273.1h47v1H0zM0 274.1h47v1H0zM0 276.1h47v1H0zM0 277.1h47v1H0zM0 278.1h47v1H0zM0 279.1h47v1H0zM0 280.1h47v1H0zM0 283.1h47v1H0zM0 284.1h47v1H0zM0 286.1h47v1H0zM0 287.1h47v1H0zM0 288.1h47v1H0zM0 289.1h47v1H0zM0 290.1h47v1H0zM0 291.1h47v1H0zM0 292.1h47v1H0zM0 294.1h47v1H0zM0 295.1h47v1H0zM0 296.1h47v1H0zM0 298.1h47v1H0zM0 300.1h47v1H0zM0 301.1h47v1H0zM0 302.1h47v1H0zM0 303.1h47v1H0zM0 305.1h47v1H0zM0 306.1h47v1H0zM0 307.1h47v1H0zM0 308.1h47v1H0zM0 312.1h47v1H0zM0 313.1h47v1H0zM0 314.1h47v1H0zM0 315.1h47v1H0zM0 316.1h47v1H0zM0 317.1h47v1H0zM0 318.1h47v1H0zM0 319.1h47v1H0zM0 320.1h47v1H0zM0 325.1h47v1H0zM0 326.1h47v1H0zM0 327.1h47v1H0zM0 328.1h47v1H0zM0 329.1h47v1H0zM0 330.2h47v1H0zM0 331.2h47v1H0zM0 333.2h47v1H0zM0 335.2h47v1H0zM0 336.2h47v1H0zM0 337.2h47v1H0zM0 338.2h47v1H0zM0 340.2h47v1H0zM0 341.2h47v1H0zM0 344.2h47v1H0zM0 345.2h47v1H0zM0 346.2h47v1H0zM0 350.2h47v1H0zM0 351.2h47v1H0zM0 352.2h47v1H0zM0 354.2h47v1H0zM0 356.2h47v1H0zM0 357.2h47v1H0zM0 358.2h47v1H0zM0 359.2h47v1H0zM0 360.2h47v1H0zM0 364.2h47v1H0zM0 366.2h47v1H0zM0 367.2h47v1H0zM0 369.2h47v1H0zM0 370.2h47v1H0zM0 372.2h47v1H0zM0 373.2h47v1H0zM0 375.2h47v1H0z" fill="url(#h17_2)" fill-opacity="0.025"/>
<path d="M0 77.4h47v1.1H0zM0 89.4h47v1H0zM0 112.4h47v1H0zM0 114.4h47v1H0zM0 116.4h47v1H0zM0 139.1h47v1H0zM0 153.1h47v1H0zM0 166.1h47v1H0zM0 179.1h47v1H0zM0 188h47v1H0zM0 189h47v1H0zM0 197h47v1H0zM0 201h47v1H0zM0 202h47v1H0zM0 207h47v1H0zM0 208h47v1H0zM0 216h47v1H0zM0 243.1h47v1H0zM0 261.1h47v1H0zM0 263.1h47v1H0zM0 285.1h47v1H0zM0 297.1h47v1H0zM0 324.1h47v1H0zM0 355.2h47v1H0zM0 362.2h47v1H0zM0 363.2h47v1H0zM0 365.2h47v1H0z" fill="url(#h17_2)" fill-opacity="0.05"/>
<path d="M0 78.5h47v1.1H0zM0 79.6h47v1.1H0zM0 173.1h47v1H0zM0 191h47v1H0zM0 210h47v1H0zM0 332.2h47v1H0z" fill="url(#h17_2)" fill-opacity="0.075"/>
<path d="M0 78.5h47v1.1H0zM0 200h47v1H0z" fill="url(#h17_2)" fill-opacity="0.1"/>
<path d="M0 76.3h47v1.1H0z" fill="url(#h17_2)" fill-opacity="0.125"/>
<path d="M0 102.2h47v1H0z" fill="url(#h17_2)" fill-opacity="0.25"/>
<path d="M0 101.2h47v1H0z" fill="url(#h17_2)" fill-opacity="0.3"/>
<path d="M0 77.4h47v1.1H0z" fill="url(#h17_2)" fill-opacity="0.5"/>
<path d="M0 76.3h47v1.1H0zM0 79.6h47v1.1H0z" fill="url(#h17_2)" fill-opacity="0.65"/>
<path d="M0 102.2h47v1H0z" fill="url(#h17_2)" fill-opacity="0.8"/>
<path d="M0 101.2h47v1H0z" fill="url(#h17_2)" fill-opacity="0.95"/>
<path d="M0 103.2h47v1H0z" fill="url(#h17_3)" fill-opacity="0.2"/>
<path d="M0 103.2h47v1H0z" fill="url(#h17_3)" fill-opacity="0.6"/>
<path d="M0 373.2h47v1H0z" fill="url(#h1_1)" fill-opacity="0.2"/>
<path d="M0 353.2h47v1H0zM0 363.2h47v1H0zM0 364.2h47v1H0z" fill="url(#h1_2)" fill-opacity="0.15"/>
<path d="M0 339.2h47v1H0zM0 342.2h47v1H0zM0 344.2h47v1H0zM0 345.2h47v1H0zM0 350.2h47v1H0zM0 352.2h47v1H0zM0 354.2h47v1H0zM0 357.2h47v1H0zM0 358.2h47v1H0zM0 359.2h47v1H0zM0 365.2h47v1H0zM0 366.2h47v1H0zM0 374.2h47v1H0z" fill="url(#h1_2)" fill-opacity="0.2"/>
<path d="M0 315.1h47v1H0zM0 316.1h47v1H0zM0 332.2h47v1H0zM0 338.2h47v1H0zM0 341.2h47v1H0zM0 343.2h47v1H0zM0 349.2h47v1H0zM0 351.2h47v1H0zM0 360.2h47v1H0zM0 361.2h47v1H0zM0 367.2h47v1H0zM0 368.2h47v1H0z" fill="url(#h1_2)" fill-opacity="0.25"/>
<path d="M0 179.1h47v1H0zM0 326.1h47v1H0z" fill="url(#h1_2)" fill-opacity="0.3"/>
<path d="M0 182.1h47v1H0z" fill="url(#h1_2)" fill-opacity="0.45"/>
<path d="M0 355.2h47v1H0zM0 362.2h47v1H0z" fill="url(#h1_3)" fill-opacity="0.2"/>
<path d="M0 308.1h47v1H0zM0 309.1h47v1H0z" fill="url(#h2_1)" fill-opacity="0.2"/>
<path d="M0 285.1h47v1H0zM0 323.1h47v1H0z" fill="url(#h2_1)" fill-opacity="0.25"/>
<path d="M0 176.1h47v1H0z" fill="url(#h2_1)" fill-opacity="0.3"/>
<path d="M0 152.1h47v1H0zM0 159.1h47v1H0z" fill="url(#h2_1)" fill-opacity="0.35"/>
<path d="M0 153.1h47v1H0zM0 160.1h47v1H0zM0 178.1h47v1H0z" fill="url(#h2_1)" fill-opacity="0.4"/>
<path d="M0 280.1h47v1H0zM0 306.1h47v1H0zM0 307.1h47v1H0zM0 313.1h47v1H0zM0 317.1h47v1H0zM0 319.1h47v1H0zM0 320.1h47v1H0zM0 337.2h47v1H0zM0 347.2h47v1H0z" fill="url(#h2_2)" fill-opacity="0.2"/>
<path d="M0 297.1h47v1H0zM0 300.1h47v1H0zM0 304.1h47v1H0zM0 314.1h47v1H0zM0 322.1h47v1H0zM0 325.1h47v1H0zM0 327.1h47v1H0zM0 330.2h47v1H0zM0 331.2h47v1H0zM0 333.2h47v1H0zM0 334.2h47v1H0zM0 335.2h47v1H0zM0 336.2h47v1H0zM0 340.2h47v1H0zM0 346.2h47v1H0zM0 348.2h47v1H0z" fill="url(#h2_2)" fill-opacity="0.25"/>
<path d="M0 165.1h47v1H0zM0 173.1h47v1H0zM0 177.1h47v1H0zM0 266.1h47v1H0zM0 279.1h47v1H0zM0 281.1h47v1H0zM0 298.1h47v1H0zM0 318.1h47v1H0zM0 324.1h47v1H0z" fill="url(#h2_2)" fill-opacity="0.3"/>
<path d="M0 158.1h47v1H0zM0 181.1h47v1H0zM0 265.1h47v1H0zM0 286.1h47v1H0z" fill="url(#h2_2)" fill-opacity="0.35"/>
<path d="M0 157.1h47v1H0zM0 175.1h47v1H0zM0 180.1h47v1H0z" fill="url(#h2_2)" fill-opacity="0.4"/>
<path d="M0 162.1h47v1H0zM0 163.1h47v1H0zM0 168.1h47v1H0zM0 169.1h47v1H0zM0 174.1h47v1H0z" fill="url(#h2_2)" fill-opacity="0.45"/>
<path d="M0 328.1h47v1H0z" fill="url(#h2_3)" fill-opacity="0.2"/>
<path d="M0 296.1h47v1H0zM0 312.1h47v1H0zM0 329.1h47v1H0z" fill="url(#h2_3)" fill-opacity="0.25"/>
<path d="M0 170.1h47v1H0z" fill="url(#h2_3)" fill-opacity="0.3"/>
<path d="M0 166.1h47v1H0zM0 288.1h47v1H0zM0 299.1h47v1H0z" fill="url(#h2_3)" fill-opacity="0.35"/>
<path d="M0 230h47v1H0zM0 305.1h47v1H0z" fill="url(#h3_1)" fill-opacity="0.25"/>
<path d="M0 154.1h47v1H0zM0 155.1h47v1H0zM0 233h47v1H0z" fill="url(#h3_1)" fill-opacity="0.3"/>
<path d="M0 149.1h47v1H0zM0 150.1h47v1H0zM0 151.1h47v1H0zM0 226h47v1H0z" fill="url(#h3_1)" fill-opacity="0.35"/>
<path d="M0 161.1h47v1H0z" fill="url(#h3_1)" fill-opacity="0.4"/>
<path d="M0 134.1h47v1H0z" fill="url(#h3_1)" fill-opacity="0.45"/>
<path d="M0 271.1h47v1H0zM0 293.1h47v1H0zM0 294.1h47v1H0zM0 321.1h47v1H0z" fill="url(#h3_2)" fill-opacity="0.2"/>
<path d="M0 229h47v1H0zM0 242.1h47v1H0zM0 259.1h47v1H0zM0 262.1h47v1H0zM0 263.1h47v1H0zM0 264.1h47v1H0zM0 269.1h47v1H0zM0 275.1h47v1H0zM0 278.1h47v1H0zM0 302.1h47v1H0zM0 303.1h47v1H0zM0 310.1h47v1H0zM0 311.1h47v1H0z" fill="url(#h3_2)" fill-opacity="0.25"/>
<path d="M0 130.1h47v1H0zM0 172.1h47v1H0zM0 198h47v1H0zM0 218h47v1H0zM0 235.1h47v1H0zM0 241.1h47v1H0zM0 243.1h47v1H0zM0 249.1h47v1H0zM0 250.1h47v1H0zM0 251.1h47v1H0zM0 267.1h47v1H0zM0 274.1h47v1H0zM0 284.1h47v1H0zM0 287.1h47v1H0zM0 291.1h47v1H0zM0 301.1h47v1H0z" fill="url(#h3_2)" fill-opacity="0.3"/>
<path d="M0 132.1h47v1H0zM0 148.1h47v1H0zM0 156.1h47v1H0zM0 210h47v1H0zM0 253.1h47v1H0zM0 257.1h47v1H0zM0 282.1h47v1H0zM0 283.1h47v1H0z" fill="url(#h3_2)" fill-opacity="0.35"/>
<path d="M0 141.1h47v1H0zM0 146.1h47v1H0zM0 164.1h47v1H0zM0 167.1h47v1H0zM0 171.1h47v1H0zM0 209h47v1H0z" fill="url(#h3_2)" fill-opacity="0.4"/>
<path d="M0 133.1h47v1H0zM0 140.1h47v1H0zM0 143.1h47v1H0zM0 144.1h47v1H0z" fill="url(#h3_2)" fill-opacity="0.45"/>
<path d="M0 135.1h47v1H0zM0 137.1h47v1H0zM0 145.1h47v1H0z" fill="url(#h3_2)" fill-opacity="0.5"/>
<path d="M0 276.1h47v1H0zM0 277.1h47v1H0zM0 292.1h47v1H0z" fill="url(#h3_3)" fill-opacity="0.25"/>
<path d="M0 261.1h47v1H0zM0 270.1h47v1H0zM0 272.1h47v1H0zM0 289.1h47v1H0zM0 295.1h47v1H0z" fill="url(#h3_3)" fill-opacity="0.3"/>
<path d="M0 290.1h47v1H0z" fill="url(#h3_3)" fill-opacity="0.35"/>
<path d="M0 232h47v1H0z" fill="url(#h4_1)" fill-opacity="0.25"/>
<path d="M0 225h47v1H0zM0 247.1h47v1H0zM0 255.1h47v1H0z" fill="url(#h4_1)" fill-opacity="0.3"/>
<path d="M0 205h47v1H0zM0 227h47v1H0z" fill="url(#h4_1)" fill-opacity="0.35"/>
<path d="M0 136.1h47v1H0z" fill="url(#h4_1)" fill-opacity="0.5"/>
<path d="M0 194h47v1H0zM0 231h47v1H0zM0 234h47v1H0zM0 236.1h47v1H0z" fill="url(#h4_2)" fill-opacity="0.25"/>
<path d="M0 129.1h47v1H0zM0 189h47v1H0zM0 192h47v1H0zM0 193h47v1H0zM0 199h47v1H0zM0 206h47v1H0zM0 208h47v1H0zM0 212h47v1H0zM0 214h47v1H0zM0 216h47v1H0zM0 220h47v1H0zM0 228h47v1H0zM0 248.1h47v1H0zM0 256.1h47v1H0zM0 260.1h47v1H0zM0 268.1h47v1H0zM0 273.1h47v1H0z" fill="url(#h4_2)" fill-opacity="0.3"/>
<path d="M0 139.1h47v1H0zM0 188h47v1H0zM0 191h47v1H0zM0 196h47v1H0zM0 200h47v1H0zM0 201h47v1H0zM0 204h47v1H0zM0 211h47v1H0zM0 217h47v1H0zM0 223h47v1H0zM0 238.1h47v1H0zM0 252.1h47v1H0z" fill="url(#h4_2)" fill-opacity="0.35"/>
<path d="M0 128.1h47v1H0zM0 131.1h47v1H0zM0 142.1h47v1H0zM0 219h47v1H0zM0 222h47v1H0zM0 224h47v1H0zM0 239.1h47v1H0zM0 240.1h47v1H0zM0 245.1h47v1H0zM0 254.1h47v1H0zM0 258.1h47v1H0z" fill="url(#h4_2)" fill-opacity="0.4"/>
<path d="M0 138.1h47v1H0zM0 147.1h47v1H0zM0 197h47v1H0zM0 202h47v1H0zM0 203h47v1H0zM0 246.1h47v1H0z" fill="url(#h4_2)" fill-opacity="0.45"/>
<path d="M0 127.1h47v1H0z" fill="url(#h4_2)" fill-opacity="0.5"/>
<path d="M0 213h47v1H0z" fill="url(#h4_3)" fill-opacity="0.25"/>
<path d="M0 215h47v1H0zM0 237.1h47v1H0z" fill="url(#h4_3)" fill-opacity="0.3"/>
<path d="M0 244.1h47v1H0z" fill="url(#h4_3)" fill-opacity="0.35"/>
<path d="M0 375.2h47v1H0z" fill="url(#h5_1)" fill-opacity="0.05"/>
<path d="M0 120.5h47v1H0z" fill="url(#h5_2)" fill-opacity="0.2"/>
<path d="M0 119.5h47v1H0zM0 190h47v1H0zM0 195h47v1H0z" fill="url(#h5_2)" fill-opacity="0.25"/>
<path d="M0 121.5h47v1H0z" fill="url(#h5_2)" fill-opacity="0.3"/>
<path d="M0 207h47v1H0zM0 221h47v1H0z" fill="url(#h5_2)" fill-opacity="0.35"/>
<path d="M0 372.2h47v1H0zM0 373.2h47v1H0z" fill="url(#h6_1)" fill-opacity="0.05"/>
<path d="M0 354.2h47v1H0zM0 360.2h47v1H0zM0 361.2h47v1H0zM0 367.2h47v1H0zM0 368.2h47v1H0z" fill="url(#h6_2)" fill-opacity="0.05"/>
<path d="M0 117.4h47v1H0z" fill="url(#h6_2)" fill-opacity="0.25"/>
<path d="M0 115.4h47v1H0z" fill="url(#h6_2)" fill-opacity="0.3"/>
<path d="M0 118.4h47v1H0z" fill="url(#h6_3)" fill-opacity="0.35"/>
<path d="M0 315.1h47v1H0zM0 316.1h47v1H0zM0 325.1h47v1H0zM0 326.1h47v1H0zM0 332.2h47v1H0zM0 338.2h47v1H0zM0 339.2h47v1H0zM0 341.2h47v1H0zM0 343.2h47v1H0zM0 349.2h47v1H0zM0 350.2h47v1H0zM0 351.2h47v1H0zM0 352.2h47v1H0zM0 359.2h47v1H0zM0 366.2h47v1H0z" fill="url(#h7_2)" fill-opacity="0.05"/>
<path d="M0 179.1h47v1H0z" fill="url(#h7_2)" fill-opacity="0.1"/>
<path d="M0 182.1h47v1H0z" fill="url(#h7_2)" fill-opacity="0.15"/>
<path d="M0 114.4h47v1H0zM0 116.4h47v1H0z" fill="url(#h7_2)" fill-opacity="0.3"/>
<path d="M0 285.1h47v1H0zM0 323.1h47v1H0z" fill="url(#h8_1)" fill-opacity="0.05"/>
<path d="M0 159.1h47v1H0zM0 160.1h47v1H0zM0 178.1h47v1H0z" fill="url(#h8_1)" fill-opacity="0.1"/>
<path d="M0 265.1h47v1H0zM0 280.1h47v1H0zM0 281.1h47v1H0zM0 286.1h47v1H0zM0 297.1h47v1H0zM0 298.1h47v1H0zM0 300.1h47v1H0zM0 306.1h47v1H0zM0 313.1h47v1H0zM0 314.1h47v1H0zM0 317.1h47v1H0zM0 318.1h47v1H0zM0 319.1h47v1H0zM0 324.1h47v1H0zM0 327.1h47v1H0zM0 330.2h47v1H0zM0 331.2h47v1H0zM0 333.2h47v1H0zM0 334.2h47v1H0zM0 335.2h47v1H0zM0 336.2h47v1H0zM0 340.2h47v1H0zM0 346.2h47v1H0zM0 348.2h47v1H0z" fill="url(#h8_2)" fill-opacity="0.05"/>
<path d="M0 157.1h47v1H0zM0 158.1h47v1H0zM0 173.1h47v1H0zM0 175.1h47v1H0zM0 180.1h47v1H0zM0 181.1h47v1H0z" fill="url(#h8_2)" fill-opacity="0.1"/>
<path d="M0 93.3h47v1H0zM0 94.3h47v1H0zM0 95.3h47v1H0zM0 162.1h47v1H0zM0 168.1h47v1H0zM0 169.1h47v1H0zM0 174.1h47v1H0z" fill="url(#h8_2)" fill-opacity="0.15"/>
<path d="M0 113.4h47v1H0z" fill="url(#h8_2)" fill-opacity="0.2"/>
<path d="M0 112.4h47v1H0z" fill="url(#h8_2)" fill-opacity="0.3"/>
<path d="M0 288.1h47v1H0zM0 299.1h47v1H0zM0 312.1h47v1H0zM0 329.1h47v1H0z" fill="url(#h8_3)" fill-opacity="0.05"/>
<path d="M0 166.1h47v1H0z" fill="url(#h8_3)" fill-opacity="0.1"/>
<path d="M0 226h47v1H0zM0 230h47v1H0zM0 233h47v1H0zM0 305.1h47v1H0z" fill="url(#h9_1)" fill-opacity="0.05"/>
<path d="M0 149.1h47v1H0zM0 150.1h47v1H0zM0 151.1h47v1H0zM0 152.1h47v1H0zM0 153.1h47v1H0zM0 154.1h47v1H0zM0 155.1h47v1H0zM0 161.1h47v1H0zM0 176.1h47v1H0z" fill="url(#h9_1)" fill-opacity="0.1"/>
<path d="M0 134.1h47v1H0z" fill="url(#h9_1)" fill-opacity="0.15"/>
<path d="M0 229h47v1H0zM0 235.1h47v1H0zM0 241.1h47v1H0zM0 242.1h47v1H0zM0 250.1h47v1H0zM0 251.1h47v1H0zM0 253.1h47v1H0zM0 257.1h47v1H0zM0 262.1h47v1H0zM0 264.1h47v1H0zM0 266.1h47v1H0zM0 267.1h47v1H0zM0 271.1h47v1H0zM0 274.1h47v1H0zM0 275.1h47v1H0zM0 278.1h47v1H0zM0 279.1h47v1H0zM0 282.1h47v1H0zM0 283.1h47v1H0zM0 284.1h47v1H0zM0 287.1h47v1H0zM0 291.1h47v1H0zM0 293.1h47v1H0zM0 301.1h47v1H0zM0 302.1h47v1H0zM0 303.1h47v1H0zM0 304.1h47v1H0zM0 310.1h47v1H0zM0 311.1h47v1H0zM0 321.1h47v1H0zM0 322.1h47v1H0z" fill="url(#h9_2)" fill-opacity="0.05"/>
<path d="M0 130.1h47v1H0zM0 132.1h47v1H0zM0 146.1h47v1H0zM0 148.1h47v1H0zM0 156.1h47v1H0zM0 164.1h47v1H0zM0 165.1h47v1H0zM0 167.1h47v1H0zM0 172.1h47v1H0zM0 177.1h47v1H0z" fill="url(#h9_2)" fill-opacity="0.1"/>
<path d="M0 92.3h47v1H0zM0 133.1h47v1H0zM0 135.1h47v1H0zM0 137.1h47v1H0zM0 141.1h47v1H0zM0 144.1h47v1H0zM0 145.1h47v1H0zM0 163.1h47v1H0zM0 171.1h47v1H0z" fill="url(#h9_2)" fill-opacity="0.15"/>
<path d="M0 104.2h47v1H0z" fill="url(#h9_2)" fill-opacity="0.2"/>
<path d="M0 111.3h47v1H0z" fill="url(#h9_2)" fill-opacity="0.35"/>
<path d="M0 270.1h47v1H0zM0 276.1h47v1H0zM0 289.1h47v1H0zM0 290.1h47v1H0zM0 292.1h47v1H0zM0 295.1h47v1H0zM0 296.1h47v1H0z" fill="url(#h9_3)" fill-opacity="0.05"/>
<path d="M0 170.1h47v1H0z" fill="url(#h9_3)" fill-opacity="0.1"/>
<path d="M0 110.3h47v1H0z" fill="url(#h9_3)" fill-opacity="0.25"/>
<path d="M12.7 112.7h5.6M11.3 121.3h9.5M19 103.6h6.2M5.6 111.4h8.8M29.1 107.9h5.7M42.9 106.1h3.9M15.6 121.3h7.2M17.7 171.2h8.7M34.4 164.2h8.4M40.7 142h6M8.9 152.7h9M36.3 148.6h6.2M1.2 155.2h7.3M25.9 149.9h6.2M19.6 143.5h6.4M22 177.5h8.4M17.6 148.9h3.8M34.8 172.5h8M16.5 172.6h4.2M9 145.1h3.8M23.3 324.3h2.6M36.5 310.9h3.7M37.3 323.4h8.7M0.2 288h2.6M40.3 257.9h5.4M3.9 227.4h2.7M0.9 339.1h3.6M1.3 351.5h3.3M11.1 262.2h6.6M6.6 303.5h2.4M15.2 213.6h9.3M8 363h7.6M29 234.7h8.6M33 334.3h3M2.7 359.7h5M30.6 198.6h4.2M24.6 223.8h4.9M37.5 249.1h9.3M30.4 214.7h9.1M29.4 249.6h6.8M23.4 281.1h3.8M3.5 227.2h5.1M13.9 199h2.3M3.3 366.3h6.5M2.6 350.6h8.6M45.4 324.9h1.4M16.1 304.9h4.5M1.6 315.1h7.5M11.1 290.1h8.5M42.8 355.8h4M10.2 279h5.7M8 370.1h8.4M4.7 367.5h3M23.5 197.6h9.2M33.5 283.4h6.7M3 292h4.8M3.7 276.6h7M0.2 297.3h8.8" stroke="#2b47a3" stroke-opacity="0.05" stroke-width="0.8"/>
<path d="M6.5 113.1h8M0.2 117.2h3.3M36.7 121h3.9M45.2 101.9h1.6M0.2 108.3h2.4M35.5 106h3.6M38.2 107h8.6M11.1 118.5h2.9M23.9 119.2h7.8M23.1 105.7h3.4M22 107.3h2.9M42 121.3h4.8M36.3 130.9h8.3M35.4 144h7.5M1.5 163.9h3.2M33.2 154.5h8.2M6.1 130.6h6.8M12.5 182.5h6.6M28 131.1h4.6M1.1 138.8h3.9M38.4 176.3h4.5M13.9 176.1h4M18.2 157h2.1M33.5 148.3h5.6M13 154.9h9.5M6 182.2h4.1M36.6 144.2h4M18.7 142h7.4M0.2 171.6h2.9M27.9 174.6h8.8M24.8 147h2.7M23.2 145.7h6.1M19.1 150.5h2.6M1.3 178.5h9.6M8.8 166h3.8M18.8 222.6h3.1M2.2 200h3.9M37.2 233.4h9.6M34.7 247.4h3.9M38.8 241.1h4.4M9.1 197.6h8.1M0.2 243h1.7M22.7 351.2h6.9M5.5 359.9h4.9M19.4 353.5h3.2M12 316h5.4M3.2 208.8h9.4M24.8 367.4h3.5M34.6 261.8h4.8M18.6 370.3h3.1M33.7 207.2h2.1M18.3 254.2h5.9M22.6 366.9h4.8M14.9 241.8h4M35 249.9h3.1M24.9 322.1h4.7M18 248.4h5.9M23.2 263.1h2.2M9.3 333.5h9.4M22.8 357.2h5.1M29.1 292h8.6M0.2 292.7h4.9M16 273.1h2.3M8.7 195.9h9.8M25.1 312.6h3.5M24.1 285.1h4.9M21.4 364.6h8.7M9.4 225.4h7.9M22.3 340.6h3.9M11.8 221.2h8.9M18.7 273.1h5M30.8 356.8h4.8M39.1 223.1h7.7M39.5 261.6h7.3M19.8 317.4h3.4M22.5 339.1h9.8M17.7 271.7h10M24.5 208.9h7.7M1.9 249.5h5.9M16.9 349h9.5M20.3 272.7h5.9M21.4 346.3h9.7M25.7 373.9h9.4M23.3 231.8h6.7M18.5 297.6h6.4M4 237.2h6.2M24.3 369.3h1.7M8.8 322.7h2.6M41 279.1h2.9M18.9 338.5h3.9M13.6 193.5h9.9M23.7 345.1h3.8M18 282.2h4.3M9.4 314.6h6.7M16.5 205.8h4.6M0.2 189.6h2.5M14 231.6h4.9M42.4 308.7h4.4M21.7 298.5h1.5M29.2 331.5h8.7M26.2 293h5.4M34 201.5h7.6M4.8 325.5h6.8M29.2 322.5h8.2M11 209.7h2.7M0.2 265.1h2.5M27.3 375h3.2M21 315.3h4.9M1.2 263.4h8.9M22.2 344.1h3M25.5 221.7h2.2M29.9 226.9h2.6M24.1 258.7h4.8M33.3 295.7h3M10.2 300.5h4.9M20 343.1h5.1M0.2 303.6h9.3M25.3 287.6h2.1M27.8 293.2h2.6M23.9 374.4h2.6M18.4 343.3h3.8M10.8 265.4h9M11.7 221.8h3.1M18.9 356.5h4.1M24.6 352.5h2.7M6.4 346.9h6.8M10 258.7h9.8M9.9 259.9h4.3M24 375h1.8M21.8 320h5.4M31.1 360.8h3.6M1.6 220.5h4.9M39 297.5h7.8M22.3 210.8h2.3M5.6 261.3h7.6M31.3 316.2h3.1M34 191.6h6.8M28.3 217.1h3M16 280.2h4.8M19.5 295.9h10M11.8 244.3h4.4M19.5 332h3.4" stroke="#2b47a3" stroke-opacity="0.1" stroke-width="0.8"/>
<path d="M20.2 121.7h5M24 111.5h5.8M29.3 107.5h7.5M41.2 103.5h5.6M18.5 104.3h9.4M23.4 119.1h2.2M11.9 112h4.1M35.7 111.2h4.9M35.4 109.6h4.1M16.3 103.1h6.7M17.9 109h4.4M39.1 121.3h7.6M37 182.6h6.4M21.9 175.7h5.2M18.9 174.6h5.4M36.9 135.9h2.3M9.5 130.1h9.6M6.2 170.2h9.2M21.6 160.1h3.2M39.4 162.8h6.7M33.5 139.6h5.1M23.1 150.1h2.8M15.1 140.5h3.9M28.4 171.3h3.3M21.7 134.6h2.3M22.9 154.5h2.5M21.3 155.5h4.2M23.9 134.1h5M20.6 136.7h6.2M18.4 161h1.9M12.5 140.9h7.1M41.4 129.5h4.8M25.2 137.6h5.4M21.8 181.1h4.8M18.3 143.9h3.9M32.6 181.7h2.8M23.7 130.9h2.4M24.8 149.2h6M8.3 180.1h2.3M15.2 156.5h9.2M23.1 202.5h5.7M24 337.7h1.9M22.4 227.9h4.4M15 345.8h9.3M20.7 254.6h4.5M35.3 280.7h3.3M22.6 374.3h3.3M7.7 340.7h2.1M12.4 228.4h2.1M22.3 358.2h5M17.2 353h6M16.1 234.2h9M24.8 336.9h3.5M26.9 197.1h2.3M21.4 350.5h4.5M22.9 307.1h2.9M20.4 369.5h3.6M16.9 371.9h3.9M18.6 338.3h2.6M9.8 228.4h5.4M19.3 290.3h2.6M20.3 310.9h5.1M24.8 358.4h2.5M27.5 294.4h4.7M21.1 317.6h3.6M20.6 222.9h3.8M16.1 350.8h4.8M39.2 332.9h5.5M21.9 290.3h4.6M23.7 279.7h2.6M26.9 241.3h2.8M23.2 339.9h5.2M14.9 322.2h4.1M28.9 304.2h4.3M23.8 306.8h9.9M29.2 217h5.5M13.3 245.4h3.2M20.3 364h2.9M23.2 310.1h2.6M4.7 365.1h3.7M22 370.5h3M40.5 195.9h6.3M40.1 319h4.9M20 258.6h4.5M21.8 375.5h2.6M2.3 244.3h5.2M32.8 365.2h3.4M39.7 292.7h2.1M19.1 362.8h4.9M21.3 292.1h3.5M22.4 334.6h4.5M20.4 321.8h4.3M21.3 304.5h3.1M33.3 347.5h5M13.1 284.4h3.6M3.2 215.3h6.3M18.5 199.2h9.3M23.3 353.7h2.2M38.8 239.6h6.3M33.3 242h9.8M17.9 364.6h4.5M0.3 282h8M39.6 247.4h4.9M21.1 310.1h1.7M29.6 254.9h7.8M27.9 250.9h3.8M10.6 201.2h3.9M24.1 284.6h7.9M20.1 278.3h3.5M6.7 254.6h8.9M33.1 249.5h6.6M23.9 289.7h5.6M21 267h3.7M16.8 222.5h3.5M13 204.3h3.1M0.2 236.1h4.6M29.6 363.1h8M20.5 369.8h3.8M19.2 298.5h3.8M23.3 374.4h3.8M2.2 368.4h9.2M8.6 313.8h8.3M32.3 315.9h3.4M0.2 193.6h7.3M23.3 224.5h2.8M20.2 292h1.9M32.5 264h4.4M20.2 224.4h4.1M28.1 282.2h3.8M31.1 243.1h6.4M22.1 273.2h5.8M19.9 265h4.9M35.7 298.2h9.5M29.4 282h8.2M24.4 198h3.6M31 358.3h6M22 304.2h2.5" stroke="#2b47a3" stroke-opacity="0.15" stroke-width="0.8"/>
<path d="M26.3 102.9h4.2M23.9 152.4h3.1M16.7 133.1h5.1M20.3 161.7h3.1M22.1 167.9h3.7M21.7 178.5h3.8M22.2 181.3h1.6M21.7 132.6h4.7M28.3 198.3h3.9M21.9 342h4.9M23.6 209.3h2.1M17.3 220h4.4M20.2 253.6h5.1M25.1 281.3h5M20 306h5.3M22.5 334.8h2M22.5 309.9h3.9M21.6 273.2h4.6M11.6 251.1h5.3M22.2 321.8h3.1M25.3 221.1h5.9M22.2 315.3h4.2M20.7 310.7h4.5M19.7 289.2h2.1M19.8 269.8h2M22.7 288.7h3.4M21.2 315.6h3.6M24 274.1h4.1M23.8 287.7h5.9M18.1 256.5h3.4M19 265.2h5.4M22 343.2h3.7M19.5 231.9h2.9M24.9 280.4h2.2M23.2 245.4h3.2M21.4 251.7h2.1M19.4 286.6h3.6M19.6 267.7h5M21.1 192.4h4.6" stroke="#2b47a3" stroke-opacity="0.2" stroke-width="0.8"/>
<path d="M25.9 108.4h3.8M16.3 109.2h4.1M21.8 158h2.2M18.8 148.5h4.4M15.8 133.5h4.4M23.2 175h2.9M17.2 139.7h5.2M20.2 166.4h4.4M17.5 130h5.4M23.7 174h3.5M20.1 177.6h1.9M20.4 207.2h2.2M24.1 230.8h5.9M21.8 240.4h2.6M19.7 241.9h2.4M16.8 246.5h3.3M23.6 222.9h2.5M21.9 278.3h3.1M22 225.3h3.7M19.3 236.2h5M22.5 247.5h5.6M21.3 218.4h2.6M25 220.9h2.6M25 238h3.9M15.6 218.2h5.8M21.5 256.7h3.7M18.1 250.5h5.5M24.8 235.3h1.8M23.2 227.5h5.5M19.8 284.4h3.9" stroke="#2b47a3" stroke-opacity="0.25" stroke-width="0.8"/>
<path d="M19.9 149.1h3M22.7 160.4h5.5M22.5 164.9h5.3M25 129.7h3.7M21.5 157.6h5.8M24.5 155.9h3.1M21.6 163h5.1M22.8 172.4h2M22.3 152.7h4M19.2 198.2h2.5M18.4 222.9h2.7M19.4 228.2h2.6M27.1 189h4.9M20 245h2.3M23.1 204.9h2.1M21.8 246.5h3.3M17.5 228.1h1.9M21.6 200.9h4.7" stroke="#2b47a3" stroke-opacity="0.3" stroke-width="0.8"/>
</g>
<rect x="524.3" y="76.3" width="47" height="4.4" fill="none" stroke="#555" stroke-width="0.7"/>
<rect x="524.3" y="85.4" width="47" height="10.9" fill="none" stroke="#555" stroke-width="0.7"/>
<rect x="524.3" y="101.2" width="47" height="21.3" fill="none" stroke="#555" stroke-width="0.7"/>
<rect x="524.3" y="127.1" width="47" height="56" fill="none" stroke="#555" stroke-width="0.7"/>
<rect x="524.3" y="188" width="47" height="188.2" fill="none" stroke="#555" stroke-width="0.7"/>
<line x1="524.3" y1="376.2" x2="524.3" y2="377.8" stroke="#777" stroke-width="0.6"/>
<line x1="547.8" y1="376.2" x2="547.8" y2="377.8" stroke="#777" stroke-width="0.6"/>
<line x1="571.3" y1="376.2" x2="571.3" y2="377.8" stroke="#777" stroke-width="0.6"/>
<text x="548.1" y="384.8" font-size="8.3" text-anchor="middle" fill="#222" textLength="47.5" lengthAdjust="spacingAndGlyphs">-1 center1Kb</text>
<g transform="translate(576.1,0)">
<path d="M0 94.3h47v1H0zM0 95.3h47v1H0z" fill="url(#fl1)" fill-opacity="1.0"/>
<path d="M0 93.3h47v1H0z" fill="url(#fl2)" fill-opacity="0.95"/>
<path d="M0 92.3h47v1H0z" fill="url(#fl3)" fill-opacity="0.9"/>
<path d="M0 90.4h47v1H0zM0 91.3h47v1H0z" fill="url(#fl4)" fill-opacity="1.0"/>
<path d="M0 87.4h47v1H0zM0 88.4h47v1H0zM0 89.4h47v1H0z" fill="url(#fl5)" fill-opacity="1.0"/>
<path d="M0 86.4h47v1H0z" fill="url(#fl6)" fill-opacity="0.95"/>
<path d="M0 85.4h47v1H0z" fill="url(#fl6)" fill-opacity="1.0"/>
<path d="M0 318.1h47v1H0zM0 352.2h47v1H0z" fill="url(#h10_1)" fill-opacity="0.05"/>
<path d="M0 114.4h47v1H0z" fill="url(#h10_1)" fill-opacity="0.8"/>
<path d="M0 313.1h47v1H0zM0 314.1h47v1H0zM0 315.1h47v1H0zM0 316.1h47v1H0zM0 319.1h47v1H0zM0 321.1h47v1H0zM0 324.1h47v1H0zM0 325.1h47v1H0zM0 327.1h47v1H0zM0 328.1h47v1H0zM0 330.2h47v1H0zM0 331.2h47v1H0zM0 333.2h47v1H0zM0 335.2h47v1H0zM0 337.2h47v1H0zM0 344.2h47v1H0zM0 354.2h47v1H0zM0 355.2h47v1H0z" fill="url(#h10_2)" fill-opacity="0.05"/>
<path d="M0 112.4h47v1H0z" fill="url(#h10_2)" fill-opacity="0.55"/>
<path d="M0 110.3h47v1H0z" fill="url(#h10_2)" fill-opacity="0.6"/>
<path d="M0 109.3h47v1H0zM0 111.3h47v1H0z" fill="url(#h10_2)" fill-opacity="0.65"/>
<path d="M0 113.4h47v1H0z" fill="url(#h10_2)" fill-opacity="0.7"/>
<path d="M0 108.3h47v1H0z" fill="url(#h10_2)" fill-opacity="0.8"/>
<path d="M0 107.3h47v1H0z" fill="url(#h10_2)" fill-opacity="0.9"/>
<path d="M0 334.2h47v1H0zM0 336.2h47v1H0z" fill="url(#h10_3)" fill-opacity="0.05"/>
<path d="M0 171.1h47v1H0z" fill="url(#h11_1)" fill-opacity="0.3"/>
<path d="M0 273.1h47v1H0zM0 274.1h47v1H0zM0 276.1h47v1H0zM0 284.1h47v1H0zM0 285.1h47v1H0zM0 297.1h47v1H0zM0 298.1h47v1H0zM0 306.1h47v1H0zM0 308.1h47v1H0zM0 309.1h47v1H0zM0 310.1h47v1H0zM0 317.1h47v1H0zM0 323.1h47v1H0zM0 329.1h47v1H0z" fill="url(#h11_2)" fill-opacity="0.05"/>
<path d="M0 172.1h47v1H0zM0 173.1h47v1H0z" fill="url(#h11_2)" fill-opacity="0.25"/>
<path d="M0 174.1h47v1H0zM0 175.1h47v1H0zM0 176.1h47v1H0zM0 180.1h47v1H0zM0 181.1h47v1H0z" fill="url(#h11_2)" fill-opacity="0.3"/>
<path d="M0 177.1h47v1H0zM0 178.1h47v1H0zM0 179.1h47v1H0z" fill="url(#h11_2)" fill-opacity="0.35"/>
<path d="M0 105.3h47v1H0z" fill="url(#h11_2)" fill-opacity="0.65"/>
<path d="M0 106.3h47v1H0z" fill="url(#h11_2)" fill-opacity="0.75"/>
<path d="M0 286.1h47v1H0zM0 287.1h47v1H0zM0 288.1h47v1H0zM0 292.1h47v1H0zM0 307.1h47v1H0zM0 312.1h47v1H0zM0 322.1h47v1H0z" fill="url(#h11_3)" fill-opacity="0.05"/>
<path d="M0 182.1h47v1H0z" fill="url(#h11_3)" fill-opacity="0.3"/>
<path d="M0 252.1h47v1H0zM0 277.1h47v1H0zM0 280.1h47v1H0z" fill="url(#h12_1)" fill-opacity="0.05"/>
<path d="M0 168.1h47v1H0z" fill="url(#h12_1)" fill-opacity="0.3"/>
<path d="M0 169.1h47v1H0z" fill="url(#h12_1)" fill-opacity="0.35"/>
<path d="M0 238.1h47v1H0zM0 239.1h47v1H0zM0 240.1h47v1H0zM0 242.1h47v1H0zM0 244.1h47v1H0zM0 246.1h47v1H0zM0 253.1h47v1H0zM0 257.1h47v1H0zM0 260.1h47v1H0zM0 261.1h47v1H0zM0 268.1h47v1H0zM0 269.1h47v1H0zM0 270.1h47v1H0zM0 271.1h47v1H0zM0 275.1h47v1H0zM0 278.1h47v1H0zM0 282.1h47v1H0zM0 283.1h47v1H0zM0 289.1h47v1H0zM0 290.1h47v1H0zM0 294.1h47v1H0zM0 295.1h47v1H0zM0 296.1h47v1H0zM0 299.1h47v1H0zM0 301.1h47v1H0zM0 303.1h47v1H0zM0 304.1h47v1H0zM0 305.1h47v1H0zM0 311.1h47v1H0z" fill="url(#h12_2)" fill-opacity="0.05"/>
<path d="M0 254.1h47v1H0zM0 263.1h47v1H0zM0 264.1h47v1H0zM0 265.1h47v1H0z" fill="url(#h12_2)" fill-opacity="0.1"/>
<path d="M0 120.5h47v1H0zM0 121.5h47v1H0z" fill="url(#h12_2)" fill-opacity="0.25"/>
<path d="M0 94.3h47v1H0zM0 95.3h47v1H0zM0 154.1h47v1H0zM0 155.1h47v1H0zM0 163.1h47v1H0zM0 164.1h47v1H0zM0 165.1h47v1H0zM0 166.1h47v1H0zM0 167.1h47v1H0z" fill="url(#h12_2)" fill-opacity="0.3"/>
<path d="M0 153.1h47v1H0zM0 160.1h47v1H0zM0 170.1h47v1H0z" fill="url(#h12_2)" fill-opacity="0.35"/>
<path d="M0 236.1h47v1H0zM0 243.1h47v1H0zM0 266.1h47v1H0zM0 272.1h47v1H0zM0 291.1h47v1H0zM0 293.1h47v1H0zM0 300.1h47v1H0zM0 302.1h47v1H0z" fill="url(#h12_3)" fill-opacity="0.05"/>
<path d="M0 262.1h47v1H0z" fill="url(#h12_3)" fill-opacity="0.1"/>
<path d="M0 158.1h47v1H0z" fill="url(#h12_3)" fill-opacity="0.35"/>
<path d="M0 104.2h47v1H0z" fill="url(#h12_3)" fill-opacity="0.75"/>
<path d="M0 279.1h47v1H0zM0 281.1h47v1H0z" fill="url(#h13_1)" fill-opacity="0.05"/>
<path d="M0 162.1h47v1H0z" fill="url(#h13_1)" fill-opacity="0.3"/>
<path d="M0 216h47v1H0zM0 218h47v1H0zM0 221h47v1H0zM0 222h47v1H0zM0 226h47v1H0zM0 227h47v1H0zM0 228h47v1H0zM0 229h47v1H0zM0 230h47v1H0zM0 237.1h47v1H0zM0 241.1h47v1H0zM0 245.1h47v1H0zM0 247.1h47v1H0zM0 250.1h47v1H0zM0 251.1h47v1H0zM0 255.1h47v1H0zM0 256.1h47v1H0zM0 258.1h47v1H0zM0 259.1h47v1H0z" fill="url(#h13_2)" fill-opacity="0.05"/>
<path d="M0 200h47v1H0zM0 201h47v1H0zM0 205h47v1H0zM0 223h47v1H0zM0 231h47v1H0zM0 234h47v1H0zM0 248.1h47v1H0zM0 249.1h47v1H0zM0 267.1h47v1H0z" fill="url(#h13_2)" fill-opacity="0.1"/>
<path d="M0 93.3h47v1H0zM0 133.1h47v1H0zM0 135.1h47v1H0zM0 137.1h47v1H0zM0 139.1h47v1H0zM0 143.1h47v1H0zM0 145.1h47v1H0zM0 149.1h47v1H0zM0 150.1h47v1H0zM0 151.1h47v1H0zM0 152.1h47v1H0zM0 156.1h47v1H0zM0 159.1h47v1H0zM0 161.1h47v1H0z" fill="url(#h13_2)" fill-opacity="0.3"/>
<path d="M0 132.1h47v1H0zM0 138.1h47v1H0zM0 142.1h47v1H0zM0 144.1h47v1H0zM0 157.1h47v1H0z" fill="url(#h13_2)" fill-opacity="0.35"/>
<path d="M0 203h47v1H0zM0 235.1h47v1H0z" fill="url(#h13_3)" fill-opacity="0.05"/>
<path d="M0 210h47v1H0zM0 213h47v1H0z" fill="url(#h13_3)" fill-opacity="0.1"/>
<path d="M0 130.1h47v1H0zM0 131.1h47v1H0z" fill="url(#h13_3)" fill-opacity="0.35"/>
<path d="M0 188h47v1H0zM0 189h47v1H0zM0 190h47v1H0zM0 191h47v1H0zM0 193h47v1H0zM0 194h47v1H0zM0 196h47v1H0zM0 198h47v1H0zM0 199h47v1H0zM0 217h47v1H0zM0 219h47v1H0zM0 232h47v1H0zM0 233h47v1H0z" fill="url(#h14_2)" fill-opacity="0.05"/>
<path d="M0 195h47v1H0zM0 197h47v1H0zM0 202h47v1H0zM0 220h47v1H0zM0 224h47v1H0z" fill="url(#h14_2)" fill-opacity="0.1"/>
<path d="M0 117.4h47v1H0z" fill="url(#h14_2)" fill-opacity="0.25"/>
<path d="M0 92.3h47v1H0zM0 118.4h47v1H0zM0 119.5h47v1H0zM0 140.1h47v1H0zM0 146.1h47v1H0z" fill="url(#h14_2)" fill-opacity="0.3"/>
<path d="M0 127.1h47v1H0zM0 128.1h47v1H0zM0 129.1h47v1H0zM0 134.1h47v1H0zM0 141.1h47v1H0zM0 147.1h47v1H0zM0 148.1h47v1H0z" fill="url(#h14_2)" fill-opacity="0.35"/>
<path d="M0 204h47v1H0zM0 206h47v1H0zM0 208h47v1H0zM0 209h47v1H0zM0 211h47v1H0zM0 212h47v1H0zM0 225h47v1H0z" fill="url(#h14_3)" fill-opacity="0.05"/>
<path d="M0 207h47v1H0zM0 214h47v1H0zM0 215h47v1H0z" fill="url(#h14_3)" fill-opacity="0.1"/>
<path d="M0 136.1h47v1H0z" fill="url(#h14_3)" fill-opacity="0.35"/>
<path d="M0 114.4h47v1H0z" fill="url(#h15_1)" fill-opacity="0.3"/>
<path d="M0 192h47v1H0z" fill="url(#h15_2)" fill-opacity="0.05"/>
<path d="M0 110.3h47v1H0zM0 112.4h47v1H0z" fill="url(#h15_2)" fill-opacity="0.2"/>
<path d="M0 109.3h47v1H0zM0 111.3h47v1H0zM0 113.4h47v1H0zM0 115.4h47v1H0z" fill="url(#h15_2)" fill-opacity="0.25"/>
<path d="M0 88.4h47v1H0zM0 89.4h47v1H0zM0 90.4h47v1H0zM0 91.3h47v1H0zM0 107.3h47v1H0zM0 108.3h47v1H0zM0 116.4h47v1H0z" fill="url(#h15_2)" fill-opacity="0.3"/>
<path d="M0 105.3h47v1H0z" fill="url(#h16_2)" fill-opacity="0.2"/>
<path d="M0 106.3h47v1H0z" fill="url(#h16_2)" fill-opacity="0.25"/>
<path d="M0 85.4h47v1H0zM0 86.4h47v1H0zM0 87.4h47v1H0z" fill="url(#h16_2)" fill-opacity="0.3"/>
<path d="M0 104.2h47v1H0z" fill="url(#h16_3)" fill-opacity="0.25"/>
<path d="M0 102.2h47v1H0z" fill="url(#h17_1)" fill-opacity="0.3"/>
<path d="M0 101.2h47v1H0z" fill="url(#h17_1)" fill-opacity="0.35"/>
<path d="M0 102.2h47v1H0z" fill="url(#h17_1)" fill-opacity="0.8"/>
<path d="M0 101.2h47v1H0z" fill="url(#h17_1)" fill-opacity="0.95"/>
<path d="M0 85.4h47v1H0zM0 86.4h47v1H0zM0 87.4h47v1H0zM0 88.4h47v1H0zM0 90.4h47v1H0zM0 91.3h47v1H0zM0 92.3h47v1H0zM0 93.3h47v1H0zM0 94.3h47v1H0zM0 103.2h47v1H0zM0 104.2h47v1H0zM0 105.3h47v1H0zM0 106.3h47v1H0zM0 113.4h47v1H0zM0 117.4h47v1H0zM0 120.5h47v1H0zM0 127.1h47v1H0zM0 130.1h47v1H0zM0 133.1h47v1H0zM0 134.1h47v1H0zM0 135.1h47v1H0zM0 136.1h47v1H0zM0 137.1h47v1H0zM0 139.1h47v1H0zM0 140.1h47v1H0zM0 142.1h47v1H0zM0 144.1h47v1H0zM0 146.1h47v1H0zM0 148.1h47v1H0zM0 149.1h47v1H0zM0 152.1h47v1H0zM0 155.1h47v1H0zM0 159.1h47v1H0zM0 160.1h47v1H0zM0 162.1h47v1H0zM0 164.1h47v1H0zM0 166.1h47v1H0zM0 167.1h47v1H0zM0 168.1h47v1H0zM0 169.1h47v1H0zM0 170.1h47v1H0zM0 171.1h47v1H0zM0 172.1h47v1H0zM0 175.1h47v1H0zM0 177.1h47v1H0zM0 178.1h47v1H0zM0 182.1h47v1H0zM0 188h47v1H0zM0 190h47v1H0zM0 192h47v1H0zM0 194h47v1H0zM0 196h47v1H0zM0 203h47v1H0zM0 205h47v1H0zM0 206h47v1H0zM0 209h47v1H0zM0 211h47v1H0zM0 213h47v1H0zM0 214h47v1H0zM0 215h47v1H0zM0 217h47v1H0zM0 218h47v1H0zM0 219h47v1H0zM0 220h47v1H0zM0 221h47v1H0zM0 222h47v1H0zM0 223h47v1H0zM0 224h47v1H0zM0 225h47v1H0zM0 227h47v1H0zM0 228h47v1H0zM0 229h47v1H0zM0 230h47v1H0zM0 231h47v1H0zM0 232h47v1H0zM0 233h47v1H0zM0 234h47v1H0zM0 237.1h47v1H0zM0 238.1h47v1H0zM0 239.1h47v1H0zM0 240.1h47v1H0zM0 241.1h47v1H0zM0 242.1h47v1H0zM0 243.1h47v1H0zM0 245.1h47v1H0zM0 247.1h47v1H0zM0 248.1h47v1H0zM0 249.1h47v1H0zM0 250.1h47v1H0zM0 251.1h47v1H0zM0 254.1h47v1H0zM0 256.1h47v1H0zM0 257.1h47v1H0zM0 258.1h47v1H0zM0 259.1h47v1H0zM0 260.1h47v1H0zM0 261.1h47v1H0zM0 263.1h47v1H0zM0 266.1h47v1H0zM0 267.1h47v1H0zM0 268.1h47v1H0zM0 271.1h47v1H0zM0 272.1h47v1H0zM0 274.1h47v1H0zM0 275.1h47v1H0zM0 276.1h47v1H0zM0 277.1h47v1H0zM0 278.1h47v1H0zM0 279.1h47v1H0zM0 280.1h47v1H0zM0 281.1h47v1H0zM0 282.1h47v1H0zM0 283.1h47v1H0zM0 286.1h47v1H0zM0 287.1h47v1H0zM0 288.1h47v1H0zM0 289.1h47v1H0zM0 290.1h47v1H0zM0 291.1h47v1H0zM0 293.1h47v1H0zM0 294.1h47v1H0zM0 296.1h47v1H0zM0 297.1h47v1H0zM0 298.1h47v1H0zM0 300.1h47v1H0zM0 301.1h47v1H0zM0 302.1h47v1H0zM0 303.1h47v1H0zM0 304.1h47v1H0zM0 307.1h47v1H0zM0 308.1h47v1H0zM0 311.1h47v1H0zM0 313.1h47v1H0zM0 316.1h47v1H0zM0 317.1h47v1H0zM0 318.1h47v1H0zM0 320.1h47v1H0zM0 321.1h47v1H0zM0 322.1h47v1H0zM0 324.1h47v1H0zM0 325.1h47v1H0zM0 326.1h47v1H0zM0 327.1h47v1H0zM0 328.1h47v1H0zM0 330.2h47v1H0zM0 331.2h47v1H0zM0 333.2h47v1H0zM0 334.2h47v1H0zM0 335.2h47v1H0zM0 337.2h47v1H0zM0 339.2h47v1H0zM0 341.2h47v1H0zM0 342.2h47v1H0zM0 345.2h47v1H0zM0 346.2h47v1H0zM0 347.2h47v1H0zM0 348.2h47v1H0zM0 349.2h47v1H0zM0 351.2h47v1H0zM0 352.2h47v1H0zM0 353.2h47v1H0zM0 354.2h47v1H0zM0 355.2h47v1H0zM0 356.2h47v1H0zM0 358.2h47v1H0zM0 359.2h47v1H0zM0 361.2h47v1H0zM0 362.2h47v1H0zM0 363.2h47v1H0zM0 364.2h47v1H0zM0 365.2h47v1H0zM0 366.2h47v1H0zM0 367.2h47v1H0zM0 368.2h47v1H0zM0 369.2h47v1H0zM0 370.2h47v1H0zM0 371.2h47v1H0zM0 372.2h47v1H0zM0 374.2h47v1H0zM0 375.2h47v1H0z" fill="url(#h17_2)" fill-opacity="0.025"/>
<path d="M0 77.4h47v1.1H0zM0 89.4h47v1H0zM0 95.3h47v1H0zM0 102.2h47v1H0zM0 108.3h47v1H0zM0 109.3h47v1H0zM0 128.1h47v1H0zM0 129.1h47v1H0zM0 131.1h47v1H0zM0 132.1h47v1H0zM0 138.1h47v1H0zM0 141.1h47v1H0zM0 143.1h47v1H0zM0 145.1h47v1H0zM0 150.1h47v1H0zM0 151.1h47v1H0zM0 154.1h47v1H0zM0 156.1h47v1H0zM0 157.1h47v1H0zM0 158.1h47v1H0zM0 163.1h47v1H0zM0 165.1h47v1H0zM0 173.1h47v1H0zM0 174.1h47v1H0zM0 176.1h47v1H0zM0 179.1h47v1H0zM0 195h47v1H0zM0 197h47v1H0zM0 198h47v1H0zM0 200h47v1H0zM0 201h47v1H0zM0 202h47v1H0zM0 207h47v1H0zM0 208h47v1H0zM0 210h47v1H0zM0 212h47v1H0zM0 216h47v1H0zM0 235.1h47v1H0zM0 236.1h47v1H0zM0 244.1h47v1H0zM0 252.1h47v1H0zM0 253.1h47v1H0zM0 255.1h47v1H0zM0 262.1h47v1H0zM0 265.1h47v1H0zM0 269.1h47v1H0zM0 273.1h47v1H0zM0 284.1h47v1H0zM0 299.1h47v1H0zM0 305.1h47v1H0zM0 306.1h47v1H0zM0 310.1h47v1H0zM0 312.1h47v1H0zM0 314.1h47v1H0zM0 315.1h47v1H0zM0 323.1h47v1H0zM0 329.1h47v1H0zM0 340.2h47v1H0zM0 344.2h47v1H0zM0 357.2h47v1H0zM0 360.2h47v1H0z" fill="url(#h17_2)" fill-opacity="0.05"/>
<path d="M0 101.2h47v1H0zM0 110.3h47v1H0zM0 111.3h47v1H0zM0 115.4h47v1H0zM0 116.4h47v1H0zM0 119.5h47v1H0zM0 121.5h47v1H0zM0 153.1h47v1H0zM0 161.1h47v1H0zM0 180.1h47v1H0zM0 181.1h47v1H0zM0 189h47v1H0zM0 193h47v1H0zM0 199h47v1H0zM0 204h47v1H0zM0 226h47v1H0zM0 246.1h47v1H0zM0 270.1h47v1H0zM0 285.1h47v1H0zM0 309.1h47v1H0zM0 319.1h47v1H0zM0 338.2h47v1H0z" fill="url(#h17_2)" fill-opacity="0.075"/>
<path d="M0 78.5h47v1.1H0zM0 114.4h47v1H0zM0 118.4h47v1H0zM0 191h47v1H0z" fill="url(#h17_2)" fill-opacity="0.1"/>
<path d="M0 78.5h47v1.1H0zM0 79.6h47v1.1H0z" fill="url(#h17_2)" fill-opacity="0.125"/>
<path d="M0 76.3h47v1.1H0z" fill="url(#h17_2)" fill-opacity="0.15"/>
<path d="M0 107.3h47v1H0z" fill="url(#h17_2)" fill-opacity="0.175"/>
<path d="M0 103.2h47v1H0zM0 112.4h47v1H0z" fill="url(#h17_2)" fill-opacity="0.2"/>
<path d="M0 103.2h47v1H0z" fill="url(#h17_2)" fill-opacity="0.6"/>
<path d="M0 77.4h47v1.1H0z" fill="url(#h17_2)" fill-opacity="0.65"/>
<path d="M0 79.6h47v1.1H0z" fill="url(#h17_2)" fill-opacity="0.75"/>
<path d="M0 76.3h47v1.1H0z" fill="url(#h17_2)" fill-opacity="1.0"/>
<path d="M0 361.2h47v1H0z" fill="url(#h1_1)" fill-opacity="0.2"/>
<path d="M0 375.2h47v1H0z" fill="url(#h1_1)" fill-opacity="0.35"/>
<path d="M0 371.2h47v1H0zM0 372.2h47v1H0zM0 373.2h47v1H0z" fill="url(#h1_2)" fill-opacity="0.2"/>
<path d="M0 370.2h47v1H0z" fill="url(#h1_2)" fill-opacity="0.25"/>
<path d="M0 374.2h47v1H0z" fill="url(#h1_2)" fill-opacity="0.3"/>
<path d="M0 349.2h47v1H0z" fill="url(#h2_1)" fill-opacity="0.3"/>
<path d="M0 359.2h47v1H0zM0 360.2h47v1H0zM0 362.2h47v1H0zM0 363.2h47v1H0zM0 368.2h47v1H0z" fill="url(#h2_2)" fill-opacity="0.2"/>
<path d="M0 348.2h47v1H0zM0 357.2h47v1H0zM0 358.2h47v1H0zM0 364.2h47v1H0zM0 369.2h47v1H0z" fill="url(#h2_2)" fill-opacity="0.25"/>
<path d="M0 367.2h47v1H0z" fill="url(#h2_3)" fill-opacity="0.25"/>
<path d="M0 366.2h47v1H0z" fill="url(#h2_3)" fill-opacity="0.3"/>
<path d="M0 346.2h47v1H0zM0 352.2h47v1H0z" fill="url(#h3_1)" fill-opacity="0.3"/>
<path d="M0 347.2h47v1H0z" fill="url(#h3_1)" fill-opacity="0.35"/>
<path d="M0 345.2h47v1H0z" fill="url(#h3_1)" fill-opacity="0.4"/>
<path d="M0 356.2h47v1H0z" fill="url(#h3_2)" fill-opacity="0.25"/>
<path d="M0 338.2h47v1H0zM0 339.2h47v1H0zM0 343.2h47v1H0zM0 350.2h47v1H0zM0 355.2h47v1H0zM0 365.2h47v1H0z" fill="url(#h3_2)" fill-opacity="0.3"/>
<path d="M0 315.1h47v1H0zM0 326.1h47v1H0zM0 332.2h47v1H0zM0 340.2h47v1H0zM0 341.2h47v1H0zM0 342.2h47v1H0zM0 353.2h47v1H0z" fill="url(#h3_2)" fill-opacity="0.35"/>
<path d="M0 320.1h47v1H0zM0 327.1h47v1H0zM0 351.2h47v1H0z" fill="url(#h3_2)" fill-opacity="0.4"/>
<path d="M0 318.1h47v1H0z" fill="url(#h4_1)" fill-opacity="0.4"/>
<path d="M0 324.1h47v1H0z" fill="url(#h4_2)" fill-opacity="0.25"/>
<path d="M0 314.1h47v1H0zM0 316.1h47v1H0zM0 331.2h47v1H0zM0 337.2h47v1H0zM0 344.2h47v1H0z" fill="url(#h4_2)" fill-opacity="0.3"/>
<path d="M0 313.1h47v1H0zM0 321.1h47v1H0zM0 325.1h47v1H0zM0 335.2h47v1H0zM0 354.2h47v1H0z" fill="url(#h4_2)" fill-opacity="0.35"/>
<path d="M0 319.1h47v1H0zM0 328.1h47v1H0zM0 330.2h47v1H0zM0 333.2h47v1H0z" fill="url(#h4_2)" fill-opacity="0.4"/>
<path d="M0 329.1h47v1H0z" fill="url(#h4_2)" fill-opacity="0.45"/>
<path d="M0 180.1h47v1H0zM0 181.1h47v1H0z" fill="url(#h4_2)" fill-opacity="0.85"/>
<path d="M0 175.1h47v1H0zM0 176.1h47v1H0z" fill="url(#h4_2)" fill-opacity="0.9"/>
<path d="M0 177.1h47v1H0z" fill="url(#h4_2)" fill-opacity="1.0"/>
<path d="M0 322.1h47v1H0zM0 336.2h47v1H0z" fill="url(#h4_3)" fill-opacity="0.25"/>
<path d="M0 286.1h47v1H0zM0 312.1h47v1H0z" fill="url(#h4_3)" fill-opacity="0.35"/>
<path d="M0 334.2h47v1H0z" fill="url(#h4_3)" fill-opacity="0.4"/>
<path d="M0 277.1h47v1H0z" fill="url(#h5_1)" fill-opacity="0.45"/>
<path d="M0 171.1h47v1H0z" fill="url(#h5_1)" fill-opacity="0.85"/>
<path d="M0 285.1h47v1H0zM0 306.1h47v1H0zM0 323.1h47v1H0z" fill="url(#h5_2)" fill-opacity="0.25"/>
<path d="M0 276.1h47v1H0zM0 284.1h47v1H0zM0 289.1h47v1H0zM0 290.1h47v1H0zM0 294.1h47v1H0zM0 305.1h47v1H0z" fill="url(#h5_2)" fill-opacity="0.3"/>
<path d="M0 274.1h47v1H0zM0 283.1h47v1H0zM0 295.1h47v1H0zM0 296.1h47v1H0zM0 297.1h47v1H0zM0 299.1h47v1H0zM0 303.1h47v1H0zM0 308.1h47v1H0zM0 317.1h47v1H0z" fill="url(#h5_2)" fill-opacity="0.35"/>
<path d="M0 273.1h47v1H0zM0 310.1h47v1H0zM0 311.1h47v1H0z" fill="url(#h5_2)" fill-opacity="0.4"/>
<path d="M0 298.1h47v1H0zM0 309.1h47v1H0z" fill="url(#h5_2)" fill-opacity="0.45"/>
<path d="M0 264.1h47v1H0z" fill="url(#h5_2)" fill-opacity="0.5"/>
<path d="M0 263.1h47v1H0z" fill="url(#h5_2)" fill-opacity="0.55"/>
<path d="M0 121.5h47v1H0z" fill="url(#h5_2)" fill-opacity="0.7"/>
<path d="M0 172.1h47v1H0zM0 173.1h47v1H0z" fill="url(#h5_2)" fill-opacity="0.75"/>
<path d="M0 164.1h47v1H0zM0 167.1h47v1H0z" fill="url(#h5_2)" fill-opacity="0.8"/>
<path d="M0 165.1h47v1H0zM0 174.1h47v1H0z" fill="url(#h5_2)" fill-opacity="0.9"/>
<path d="M0 170.1h47v1H0zM0 178.1h47v1H0zM0 179.1h47v1H0z" fill="url(#h5_2)" fill-opacity="1.0"/>
<path d="M0 288.1h47v1H0z" fill="url(#h5_3)" fill-opacity="0.25"/>
<path d="M0 287.1h47v1H0zM0 291.1h47v1H0z" fill="url(#h5_3)" fill-opacity="0.3"/>
<path d="M0 272.1h47v1H0zM0 292.1h47v1H0zM0 293.1h47v1H0zM0 302.1h47v1H0zM0 307.1h47v1H0z" fill="url(#h5_3)" fill-opacity="0.4"/>
<path d="M0 182.1h47v1H0z" fill="url(#h5_3)" fill-opacity="0.85"/>
<path d="M0 375.2h47v1H0z" fill="url(#h6_1)" fill-opacity="0.05"/>
<path d="M0 252.1h47v1H0z" fill="url(#h6_1)" fill-opacity="0.35"/>
<path d="M0 279.1h47v1H0z" fill="url(#h6_1)" fill-opacity="0.4"/>
<path d="M0 280.1h47v1H0z" fill="url(#h6_1)" fill-opacity="0.45"/>
<path d="M0 281.1h47v1H0z" fill="url(#h6_1)" fill-opacity="0.5"/>
<path d="M0 168.1h47v1H0z" fill="url(#h6_1)" fill-opacity="0.9"/>
<path d="M0 169.1h47v1H0z" fill="url(#h6_1)" fill-opacity="1.0"/>
<path d="M0 373.2h47v1H0z" fill="url(#h6_2)" fill-opacity="0.05"/>
<path d="M0 275.1h47v1H0z" fill="url(#h6_2)" fill-opacity="0.25"/>
<path d="M0 240.1h47v1H0zM0 278.1h47v1H0zM0 301.1h47v1H0z" fill="url(#h6_2)" fill-opacity="0.3"/>
<path d="M0 239.1h47v1H0zM0 245.1h47v1H0zM0 246.1h47v1H0zM0 255.1h47v1H0zM0 270.1h47v1H0z" fill="url(#h6_2)" fill-opacity="0.35"/>
<path d="M0 238.1h47v1H0zM0 242.1h47v1H0zM0 244.1h47v1H0zM0 258.1h47v1H0zM0 260.1h47v1H0zM0 271.1h47v1H0zM0 282.1h47v1H0zM0 304.1h47v1H0z" fill="url(#h6_2)" fill-opacity="0.4"/>
<path d="M0 257.1h47v1H0zM0 261.1h47v1H0zM0 268.1h47v1H0z" fill="url(#h6_2)" fill-opacity="0.45"/>
<path d="M0 253.1h47v1H0zM0 254.1h47v1H0zM0 267.1h47v1H0zM0 269.1h47v1H0z" fill="url(#h6_2)" fill-opacity="0.5"/>
<path d="M0 265.1h47v1H0z" fill="url(#h6_2)" fill-opacity="0.55"/>
<path d="M0 120.5h47v1H0zM0 154.1h47v1H0zM0 155.1h47v1H0z" fill="url(#h6_2)" fill-opacity="0.8"/>
<path d="M0 152.1h47v1H0z" fill="url(#h6_2)" fill-opacity="0.85"/>
<path d="M0 156.1h47v1H0zM0 163.1h47v1H0zM0 166.1h47v1H0z" fill="url(#h6_2)" fill-opacity="0.9"/>
<path d="M0 153.1h47v1H0zM0 160.1h47v1H0z" fill="url(#h6_2)" fill-opacity="0.95"/>
<path d="M0 157.1h47v1H0z" fill="url(#h6_2)" fill-opacity="1.0"/>
<path d="M0 243.1h47v1H0zM0 300.1h47v1H0z" fill="url(#h6_3)" fill-opacity="0.35"/>
<path d="M0 236.1h47v1H0z" fill="url(#h6_3)" fill-opacity="0.4"/>
<path d="M0 266.1h47v1H0z" fill="url(#h6_3)" fill-opacity="0.45"/>
<path d="M0 262.1h47v1H0z" fill="url(#h6_3)" fill-opacity="0.5"/>
<path d="M0 158.1h47v1H0z" fill="url(#h6_3)" fill-opacity="1.0"/>
<path d="M0 361.2h47v1H0z" fill="url(#h7_1)" fill-opacity="0.05"/>
<path d="M0 162.1h47v1H0z" fill="url(#h7_1)" fill-opacity="0.9"/>
<path d="M0 370.2h47v1H0zM0 371.2h47v1H0zM0 372.2h47v1H0zM0 374.2h47v1H0z" fill="url(#h7_2)" fill-opacity="0.05"/>
<path d="M0 228h47v1H0z" fill="url(#h7_2)" fill-opacity="0.35"/>
<path d="M0 221h47v1H0zM0 226h47v1H0zM0 227h47v1H0zM0 237.1h47v1H0zM0 251.1h47v1H0zM0 256.1h47v1H0z" fill="url(#h7_2)" fill-opacity="0.4"/>
<path d="M0 222h47v1H0zM0 241.1h47v1H0zM0 250.1h47v1H0z" fill="url(#h7_2)" fill-opacity="0.45"/>
<path d="M0 218h47v1H0zM0 223h47v1H0zM0 229h47v1H0zM0 234h47v1H0zM0 247.1h47v1H0zM0 259.1h47v1H0z" fill="url(#h7_2)" fill-opacity="0.5"/>
<path d="M0 200h47v1H0zM0 201h47v1H0zM0 205h47v1H0zM0 248.1h47v1H0zM0 249.1h47v1H0z" fill="url(#h7_2)" fill-opacity="0.55"/>
<path d="M0 150.1h47v1H0z" fill="url(#h7_2)" fill-opacity="0.8"/>
<path d="M0 137.1h47v1H0zM0 139.1h47v1H0z" fill="url(#h7_2)" fill-opacity="0.85"/>
<path d="M0 143.1h47v1H0zM0 145.1h47v1H0zM0 149.1h47v1H0zM0 151.1h47v1H0zM0 161.1h47v1H0z" fill="url(#h7_2)" fill-opacity="0.9"/>
<path d="M0 138.1h47v1H0zM0 159.1h47v1H0z" fill="url(#h7_2)" fill-opacity="0.95"/>
<path d="M0 132.1h47v1H0zM0 142.1h47v1H0zM0 144.1h47v1H0z" fill="url(#h7_2)" fill-opacity="1.0"/>
<path d="M0 203h47v1H0zM0 235.1h47v1H0z" fill="url(#h7_3)" fill-opacity="0.45"/>
<path d="M0 213h47v1H0z" fill="url(#h7_3)" fill-opacity="0.55"/>
<path d="M0 130.1h47v1H0z" fill="url(#h7_3)" fill-opacity="0.95"/>
<path d="M0 131.1h47v1H0z" fill="url(#h7_3)" fill-opacity="1.0"/>
<path d="M0 349.2h47v1H0z" fill="url(#h8_1)" fill-opacity="0.05"/>
<path d="M0 348.2h47v1H0zM0 357.2h47v1H0zM0 358.2h47v1H0zM0 359.2h47v1H0zM0 360.2h47v1H0zM0 362.2h47v1H0zM0 363.2h47v1H0zM0 368.2h47v1H0zM0 369.2h47v1H0z" fill="url(#h8_2)" fill-opacity="0.05"/>
<path d="M0 190h47v1H0zM0 199h47v1H0z" fill="url(#h8_2)" fill-opacity="0.35"/>
<path d="M0 189h47v1H0zM0 194h47v1H0zM0 198h47v1H0zM0 217h47v1H0zM0 219h47v1H0zM0 230h47v1H0zM0 233h47v1H0z" fill="url(#h8_2)" fill-opacity="0.4"/>
<path d="M0 188h47v1H0zM0 193h47v1H0zM0 232h47v1H0z" fill="url(#h8_2)" fill-opacity="0.45"/>
<path d="M0 195h47v1H0zM0 197h47v1H0zM0 216h47v1H0zM0 220h47v1H0zM0 231h47v1H0z" fill="url(#h8_2)" fill-opacity="0.5"/>
<path d="M0 202h47v1H0zM0 224h47v1H0z" fill="url(#h8_2)" fill-opacity="0.6"/>
<path d="M0 118.4h47v1H0zM0 119.5h47v1H0zM0 133.1h47v1H0zM0 135.1h47v1H0zM0 140.1h47v1H0z" fill="url(#h8_2)" fill-opacity="0.85"/>
<path d="M0 146.1h47v1H0z" fill="url(#h8_2)" fill-opacity="0.9"/>
<path d="M0 134.1h47v1H0zM0 141.1h47v1H0z" fill="url(#h8_2)" fill-opacity="0.95"/>
<path d="M0 128.1h47v1H0zM0 129.1h47v1H0zM0 147.1h47v1H0zM0 148.1h47v1H0z" fill="url(#h8_2)" fill-opacity="1.0"/>
<path d="M0 367.2h47v1H0z" fill="url(#h8_3)" fill-opacity="0.05"/>
<path d="M0 209h47v1H0z" fill="url(#h8_3)" fill-opacity="0.35"/>
<path d="M0 208h47v1H0zM0 211h47v1H0z" fill="url(#h8_3)" fill-opacity="0.4"/>
<path d="M0 204h47v1H0zM0 206h47v1H0zM0 212h47v1H0zM0 225h47v1H0z" fill="url(#h8_3)" fill-opacity="0.45"/>
<path d="M0 210h47v1H0zM0 214h47v1H0z" fill="url(#h8_3)" fill-opacity="0.5"/>
<path d="M0 207h47v1H0zM0 215h47v1H0z" fill="url(#h8_3)" fill-opacity="0.55"/>
<path d="M0 136.1h47v1H0z" fill="url(#h8_3)" fill-opacity="1.0"/>
<path d="M0 345.2h47v1H0zM0 346.2h47v1H0zM0 347.2h47v1H0z" fill="url(#h9_1)" fill-opacity="0.05"/>
<path d="M0 320.1h47v1H0zM0 326.1h47v1H0zM0 332.2h47v1H0zM0 338.2h47v1H0zM0 339.2h47v1H0zM0 340.2h47v1H0zM0 341.2h47v1H0zM0 342.2h47v1H0zM0 343.2h47v1H0zM0 350.2h47v1H0zM0 351.2h47v1H0zM0 353.2h47v1H0zM0 356.2h47v1H0zM0 364.2h47v1H0zM0 365.2h47v1H0z" fill="url(#h9_2)" fill-opacity="0.05"/>
<path d="M0 191h47v1H0z" fill="url(#h9_2)" fill-opacity="0.3"/>
<path d="M0 196h47v1H0z" fill="url(#h9_2)" fill-opacity="0.4"/>
<path d="M0 192h47v1H0z" fill="url(#h9_2)" fill-opacity="0.45"/>
<path d="M0 115.4h47v1H0z" fill="url(#h9_2)" fill-opacity="0.7"/>
<path d="M0 117.4h47v1H0z" fill="url(#h9_2)" fill-opacity="0.75"/>
<path d="M0 116.4h47v1H0z" fill="url(#h9_2)" fill-opacity="0.85"/>
<path d="M0 127.1h47v1H0z" fill="url(#h9_2)" fill-opacity="1.0"/>
<path d="M0 366.2h47v1H0z" fill="url(#h9_3)" fill-opacity="0.05"/>
<path d="M2.7 103.4h9M5.4 104h5.8M0.2 119.4h5.4M1.9 175.6h9.8M22.5 176.9h4.5M12.1 151.6h6.1M0.2 158.9h4.7M21.5 145h7.2M31.4 152.3h7.4M31.7 174.2h9.4M28.3 132.7h9.7M11.4 280.6h3.3M26.3 224.4h8.2M1.1 338.7h7.2M40.8 278.2h6M13.4 328.5h9M19.9 356.3h2.7M27.8 313.6h9.5M37.4 200.1h6.3M29 214h4.9M24.3 259.1h6.4M29.1 217.9h5.3M1.4 307.2h2.9M40.1 216.3h2.6M34.8 322.2h9.5M16.6 277.6h6.7M41.2 247.3h5.6M11.7 251.1h5.6M0.2 196h6.3M8.3 330.7h8.5M42.8 350.5h4M29.6 217.5h7.6M15 281.9h6.4M35.6 204.9h6.9M17 307.7h7.6M13.3 204.6h6.1M29.7 365.1h9.1M2.5 285.9h3.7M27 219.8h4.9M21.6 352h3.2M42.9 368.8h2.3M7.9 364h7M44.3 295.8h2.5M20.1 219h9M41.4 344.4h2.4M19.5 219.3h7.5M12.3 309.9h8.1M13 333.5h3M16.3 211.9h4.4M12.1 216h5.1M17.7 200.3h9.3M38.2 230.7h8.6M12 356.8h7.3M32.9 235.5h5.8" stroke="#2b47a3" stroke-opacity="0.05" stroke-width="0.8"/>
<path d="M43.8 116.7h3M34.7 122h5.5M35.5 118.7h9M0.2 110.8h4.9M14.1 117.6h2.3M20 102.5h7M14.2 102.2h2.4M12.4 114.9h8.4M26.1 151h9.7M30.6 151.5h3.7M8.6 145.1h2.5M41.8 169h3M26.2 181.7h4M3.1 151.7h6.9M7.5 179.9h6.7M3.6 136.5h6.1M8 148.8h5.8M23.8 128.9h3.9M41 162.3h2.2M15.6 147.5h7.5M35.8 157.6h6.4M42.7 142.9h2.1M40.6 171.3h6.2M0.2 176.2h6.1M25.4 139h9.6M14.9 150h2.9M31.8 271.8h6.6M36.1 358.7h7M0.2 368h2.1M23.8 356.5h4M42.8 251h4M27.1 318.3h2.8M21.7 331h3.2M16.9 207.8h4.4M20.4 327.8h5.2M24.1 355.2h2.7M0.2 216.6h4.1M35.9 343.6h3.7M5.6 210.4h3.1M27 271.8h6.7M42 357.8h4M4.3 347.9h2.2M22.2 354.3h4.5M11.6 294.5h5.3M38.7 359.1h4.7M40.9 224h3.6M24.3 254.1h8.8M12 303.2h8.6M36.5 290.2h2.2M9.7 336.7h8.7M23.4 248.6h8.3M16.7 243.3h4.2M8.3 371.5h3.2M33.6 297.6h6.8M38.3 302.7h6.7M0.2 234.5h2.3M38.7 252.3h8.1M21.3 329.4h9.8M11.1 204.5h9.3M39.4 245.4h6.8M22.7 298h3.4M10 309.8h9.6M41 295.8h5.1M5.1 273h9M0.2 191.7h8.3M19.3 337.2h4.9M0.2 304.5h8.2M19.4 331.4h5.9M10.3 218.7h8.4M35.5 311.4h6.3M24.4 327.2h7.3M40 291.3h6.3M40.8 318.4h5.1M33.1 191.2h3.8M6.1 201.2h7.6M31.5 252.3h6.4M23.1 325.4h2.2M20.3 216.7h2.8M31.6 343.6h4.7M20.6 323.5h2.8M8.8 344h5.4M32 263.3h4.1M30.6 300.7h8.4M19.5 240.2h5.9M21.4 320h3.8M31.2 199.4h7M41.5 335.6h5M33.4 301.3h6M8.3 307.2h3.6M29.8 373.8h5.9M26.2 307.9h2.7M31 226.8h9M15.3 373h3M16 200.5h8.1M5.2 366.7h3.8M33.1 286.9h6.2M25.5 307.1h5.6M32.6 220.2h4" stroke="#2b47a3" stroke-opacity="0.1" stroke-width="0.8"/>
<path d="M40 114h6.2M32.7 108.6h4.3M16.9 111.1h5.9M40.3 116.6h4.4M12.4 101.9h2.5M18.6 105.1h5M9.6 103.4h7.3M36.1 108.8h3.1M12.3 106.4h9.7M0.2 111.2h6.2M1.9 169.7h7.7M26.8 165h9.3M4.3 172.8h8.5M0.2 135.7h8.1M0.2 169.8h5.8M15.7 177.5h5.9M29.7 135.3h2.4M15.3 148.3h6.1M34.9 152.8h5.9M0.4 132.3h3.8M16.2 155.2h7M21.5 145.2h6.5M16.6 134.8h5.2M10.4 137h9.2M17.8 299.9h4.8M23.3 356h4.6M0.7 189.8h4.3M18.6 253.1h2.7M21.9 304.1h2.5M0.2 229h4.2M22.7 312.9h2.7M19.8 197.2h3.5M23 329.6h3.5M25.6 237.1h5.7M31.8 200.7h9.8M25.4 313.4h1.9M20.7 273.9h4.2M30.8 302.1h7.8M41.9 328h4.9M24.8 242.1h3.1M0.2 266.9h6.1M0.2 373.7h8.5M19.3 295.8h5.7M25 312.4h3.3M21.1 336.1h3.3M32.8 192.1h8.4M22.1 286.2h4.7M14.9 214.4h8.1M16.1 255.1h3.7M21.1 283.9h3.3M40.9 211.1h3.5M11 302.4h6.9M4.5 287.4h5.2M39.1 289h7.7M6.9 188.9h6M24.6 261.5h3.9M32 334.2h2.2M29.1 340.8h7.3M45.3 328.6h1.5M24 254.6h5.2M34.3 200.7h4.7M16.9 324.6h5.7M22.9 196.8h2.8M0.2 332.1h1.8M12.2 198.1h8.3M21.6 239.4h4.7M1.5 311.1h5.7M18 203.5h2.7M0.2 235.3h5.4M1.9 354.6h7.8M37.2 286.1h8.6M0.8 277.3h5.4M40.1 257.2h2.3M14.6 278.8h3.1M38 220.7h7.6M14.3 272.3h3.4M21.6 287.5h2.4M45.1 238.4h1.7M5.9 237.8h9.2M5.6 202h3.3M25.5 246h3M27.4 339.5h2.7M22.9 362h3.6M23.3 325.8h5.4M21.6 373.8h9.5M29 372.9h1.5M20.2 359.3h4.8M20 375h2.4M24.3 322.5h7.5M38.3 316.3h3.3M25.3 262h5.1M31.1 220h8.2M31.5 297.1h9.2M41.3 265.7h5.5M17.6 267.7h4M38.9 258.5h5M19.1 256.4h6.6M24.6 275h5.5M17.7 321.4h4.8M7.7 273.6h7.2M5 249.5h5.7M27.2 289.6h7.5M15.4 318.9h6.7" stroke="#2b47a3" stroke-opacity="0.15" stroke-width="0.8"/>
<path d="M14.3 190.2h5.8M19.6 226.3h4.8M20.3 288.1h3.7M14.7 286.7h2.7M18.7 324.8h5.1M21.8 222.3h5.5M21.9 220.9h2.5M19.8 207h2.8M22.6 354.6h5.9M22.5 353.3h1.7M18.1 301.2h5.7M20.8 271.4h2.5M20.6 321.1h4.1M27.4 236.9h1.5M20.6 343.4h2.9M21.6 372.1h3.4M15.4 299h3.8M25 322.1h4.7M21.3 244h4M21 372.9h4.6M19.5 334.4h3.2M18.5 201h2.8M19 303.7h4.3M17.6 211.4h5.5M18.8 193.5h3.3M27.1 290.7h2.1M16.5 358.1h5.7M24 265.9h4.6M23.5 368.3h3.2M22.9 290.1h1.9M22.3 354.1h3.2M20.3 217.3h3.8M19.2 216.2h5.4" stroke="#2b47a3" stroke-opacity="0.2" stroke-width="0.8"/>
<path d="M18.9 200h3.4M20 329.9h2.6M13.7 285.7h3.5M13.9 215.9h4.6M24.2 356.5h5M22.7 194.4h3.8M22.3 281.7h2M14.5 216.6h5M21.3 196.9h5.1M20.2 356.3h4.3M17.6 246.5h2.6M25.8 189.8h4M22.5 346.3h1.7M23.1 334.1h4.8M23.6 302.2h3M22.5 312.7h2.8M12 208.5h5.1M15.6 212.6h3M24.6 318.6h3.9M24.4 324.3h2M23.8 299.1h4.8M19.3 357.4h3.3M20.4 363.3h4M27.1 329.2h2.4M24.4 303.8h5.1M21.3 310h3M21.5 308h4M14.8 301.9h5.6M20.3 273h4" stroke="#2b47a3" stroke-opacity="0.25" stroke-width="0.8"/>
<path d="M23.9 121h5.6M26.2 181.9h2.9M21.7 131.8h2.4M20 155.3h2.4M18.1 301.6h5M22 308.2h2.4M21.5 265.7h5.8M10.1 216.7h3.8M25 267.9h4.3M19.9 225.9h4.3M20.3 314.4h4M21.1 321.7h5.3M19.7 311h2.8M23.9 315.4h4.8M16.6 189.2h5.5M20.5 275.9h5.5M24 216.1h5.2M23 300.7h3.2M17.5 302.9h2.4M25.2 269.8h4.5M20.5 312.5h4.9M24.2 208.4h2M20.8 264.2h4.2M22.4 211h3.4M27.5 276h4.2M21 232.4h3.8M26.2 290.8h2.5M25.5 309.7h1.5M18.8 317.5h2.6M21.6 226h1.5M25.2 237.1h5.9" stroke="#2b47a3" stroke-opacity="0.3" stroke-width="0.8"/>
<path d="M14.5 107.7h4.5M19.2 115.5h3.1M21.1 137.6h4.5M14.1 133.1h2.2M19.1 160.7h2M16.4 130.5h5.5M26.2 154.5h3.9M23.2 130.8h3.1M30.4 154.2h4.2M29.1 277.8h1.7M18.3 248.8h3.6M20.9 206.8h5.6M17.9 272.3h5.2M18.8 215.5h5.6M21.1 203.7h1.7M17.3 261.3h4.8M22.3 206.5h2.8M11.3 192.2h1.9M20.6 275.6h3.9M19.7 203.7h1.8" stroke="#2b47a3" stroke-opacity="0.35" stroke-width="0.8"/>
<path d="M25.2 104.5h4.3M23.2 110.9h3.5M22.7 165.8h1.9M16.7 167.7h4.1M21.2 175.3h1.7M25 173.8h2.6M18.3 141.6h3.4M23 180.9h5.2M18.4 133.7h2M13.4 232.2h5.4M9.3 207.5h5.1M25.4 229.7h2.5M28 234h4.5M23.8 202.5h2.5M29.2 203.6h2.8M23.6 226.6h3.7" stroke="#2b47a3" stroke-opacity="0.4" stroke-width="0.8"/>
<path d="M21.5 121.4h3.4M22.9 177.8h3.9M26.7 136.5h3.2M18.6 145.9h4.7M18.1 178.2h4.3M21.1 139.6h3.3" stroke="#2b47a3" stroke-opacity="0.45" stroke-width="0.8"/>
<path d="M12.4 109.3h1.7M17.6 103.8h4.8M22.1 142h3.4M21.1 174.3h4.3M16 170.5h4M24.1 173.1h1.8M26.3 134.1h3.2" stroke="#2b47a3" stroke-opacity="0.5" stroke-width="0.8"/>
<path d="M23.1 170.3h5.9M17.4 132.4h3.2M15.1 134.9h2.2M20.7 139.8h4.2M22 151.5h3" stroke="#2b47a3" stroke-opacity="0.55" stroke-width="0.8"/>
<path d="M18.8 119.4h5.6M16.5 112.1h3.2M23.9 113.2h3.7M4.5 107.9h5.4M14.3 159.2h1.8M24.9 162.2h4.4M27.3 172h2.7" stroke="#2b47a3" stroke-opacity="0.6" stroke-width="0.8"/>
<path d="M38 109.6h3.5M30.8 131.6h3.3M16.4 145.6h1.7M17.6 152.4h2.3M18.5 161.7h3.9" stroke="#2b47a3" stroke-opacity="0.65" stroke-width="0.8"/>
<path d="M13.8 145h3.2M25.8 138.5h2.6M27.9 170.9h4.2M22.6 128.3h4.2M16.6 161.5h5.2M20.8 181.3h5.6M17.8 150.3h2.5" stroke="#2b47a3" stroke-opacity="0.7" stroke-width="0.8"/>
<path d="M30.1 163.3h4.5M20.8 128.1h1.8" stroke="#2b47a3" stroke-opacity="0.75" stroke-width="0.8"/>
<path d="M17.1 132.9h5.2" stroke="#2b47a3" stroke-opacity="0.8" stroke-width="0.8"/>
</g>
<rect x="576.1" y="76.3" width="47" height="4.4" fill="none" stroke="#555" stroke-width="0.7"/>
<rect x="576.1" y="85.4" width="47" height="10.9" fill="none" stroke="#555" stroke-width="0.7"/>
<rect x="576.1" y="101.2" width="47" height="21.3" fill="none" stroke="#555" stroke-width="0.7"/>
<rect x="576.1" y="127.1" width="47" height="56" fill="none" stroke="#555" stroke-width="0.7"/>
<rect x="576.1" y="188" width="47" height="188.2" fill="none" stroke="#555" stroke-width="0.7"/>
<line x1="576.1" y1="376.2" x2="576.1" y2="377.8" stroke="#777" stroke-width="0.6"/>
<line x1="599.6" y1="376.2" x2="599.6" y2="377.8" stroke="#777" stroke-width="0.6"/>
<line x1="623.1" y1="376.2" x2="623.1" y2="377.8" stroke="#777" stroke-width="0.6"/>
<text x="599.9" y="384.8" font-size="8.3" text-anchor="middle" fill="#222" textLength="47.5" lengthAdjust="spacingAndGlyphs">-1 center1Kb</text>
<g transform="translate(628.1,0)">
<path d="M0 92.3h47v1H0zM0 95.3h47v1H0z" fill="url(#fl2)" fill-opacity="0.95"/>
<path d="M0 93.3h47v1H0zM0 94.3h47v1H0z" fill="url(#fl2)" fill-opacity="1.0"/>
<path d="M0 90.4h47v1H0z" fill="url(#fl4)" fill-opacity="0.9"/>
<path d="M0 89.4h47v1H0zM0 91.3h47v1H0z" fill="url(#fl4)" fill-opacity="0.95"/>
<path d="M0 85.4h47v1H0z" fill="url(#fl5)" fill-opacity="0.95"/>
<path d="M0 86.4h47v1H0zM0 87.4h47v1H0zM0 88.4h47v1H0z" fill="url(#fl5)" fill-opacity="1.0"/>
<path d="M0 178.1h47v1H0z" fill="url(#h10_1)" fill-opacity="0.3"/>
<path d="M0 315.1h47v1H0zM0 322.1h47v1H0zM0 325.1h47v1H0zM0 326.1h47v1H0zM0 327.1h47v1H0zM0 328.1h47v1H0zM0 331.2h47v1H0zM0 337.2h47v1H0zM0 338.2h47v1H0zM0 339.2h47v1H0zM0 341.2h47v1H0zM0 360.2h47v1H0z" fill="url(#h10_2)" fill-opacity="0.05"/>
<path d="M0 330.2h47v1H0z" fill="url(#h10_2)" fill-opacity="0.1"/>
<path d="M0 306.1h47v1H0zM0 311.1h47v1H0z" fill="url(#h10_3)" fill-opacity="0.05"/>
<path d="M0 308.1h47v1H0z" fill="url(#h10_3)" fill-opacity="0.1"/>
<path d="M0 113.4h47v1H0z" fill="url(#h10_3)" fill-opacity="0.75"/>
<path d="M0 287.1h47v1H0zM0 300.1h47v1H0zM0 303.1h47v1H0z" fill="url(#h11_1)" fill-opacity="0.05"/>
<path d="M0 275.1h47v1H0zM0 277.1h47v1H0zM0 281.1h47v1H0zM0 283.1h47v1H0zM0 288.1h47v1H0zM0 294.1h47v1H0zM0 296.1h47v1H0zM0 304.1h47v1H0zM0 305.1h47v1H0zM0 307.1h47v1H0zM0 309.1h47v1H0zM0 310.1h47v1H0zM0 314.1h47v1H0zM0 316.1h47v1H0zM0 317.1h47v1H0zM0 318.1h47v1H0zM0 319.1h47v1H0zM0 320.1h47v1H0zM0 321.1h47v1H0zM0 323.1h47v1H0zM0 324.1h47v1H0zM0 329.1h47v1H0z" fill="url(#h11_2)" fill-opacity="0.05"/>
<path d="M0 289.1h47v1H0zM0 290.1h47v1H0zM0 291.1h47v1H0zM0 293.1h47v1H0zM0 297.1h47v1H0zM0 312.1h47v1H0zM0 313.1h47v1H0z" fill="url(#h11_2)" fill-opacity="0.1"/>
<path d="M0 181.1h47v1H0zM0 182.1h47v1H0z" fill="url(#h11_2)" fill-opacity="0.25"/>
<path d="M0 173.1h47v1H0zM0 177.1h47v1H0zM0 179.1h47v1H0zM0 180.1h47v1H0z" fill="url(#h11_2)" fill-opacity="0.3"/>
<path d="M0 172.1h47v1H0z" fill="url(#h11_2)" fill-opacity="0.35"/>
<path d="M0 109.3h47v1H0z" fill="url(#h11_2)" fill-opacity="0.75"/>
<path d="M0 110.3h47v1H0z" fill="url(#h11_2)" fill-opacity="0.85"/>
<path d="M0 106.3h47v1H0zM0 107.3h47v1H0zM0 108.3h47v1H0z" fill="url(#h11_2)" fill-opacity="0.9"/>
<path d="M0 175.1h47v1H0z" fill="url(#h11_3)" fill-opacity="0.25"/>
<path d="M0 174.1h47v1H0z" fill="url(#h11_3)" fill-opacity="0.3"/>
<path d="M0 167.1h47v1H0z" fill="url(#h11_3)" fill-opacity="0.35"/>
<path d="M0 112.4h47v1H0z" fill="url(#h11_3)" fill-opacity="0.8"/>
<path d="M0 111.3h47v1H0z" fill="url(#h11_3)" fill-opacity="0.95"/>
<path d="M0 286.1h47v1H0zM0 301.1h47v1H0zM0 302.1h47v1H0z" fill="url(#h12_1)" fill-opacity="0.05"/>
<path d="M0 243.1h47v1H0zM0 244.1h47v1H0zM0 253.1h47v1H0zM0 254.1h47v1H0zM0 255.1h47v1H0zM0 259.1h47v1H0zM0 299.1h47v1H0z" fill="url(#h12_1)" fill-opacity="0.1"/>
<path d="M0 104.2h47v1H0z" fill="url(#h12_1)" fill-opacity="0.65"/>
<path d="M0 257.1h47v1H0zM0 258.1h47v1H0zM0 271.1h47v1H0zM0 272.1h47v1H0zM0 273.1h47v1H0zM0 276.1h47v1H0zM0 278.1h47v1H0zM0 279.1h47v1H0zM0 284.1h47v1H0zM0 285.1h47v1H0zM0 295.1h47v1H0z" fill="url(#h12_2)" fill-opacity="0.05"/>
<path d="M0 233h47v1H0zM0 256.1h47v1H0zM0 260.1h47v1H0zM0 274.1h47v1H0zM0 280.1h47v1H0zM0 282.1h47v1H0zM0 298.1h47v1H0z" fill="url(#h12_2)" fill-opacity="0.1"/>
<path d="M0 149.1h47v1H0zM0 151.1h47v1H0zM0 163.1h47v1H0zM0 170.1h47v1H0zM0 171.1h47v1H0zM0 176.1h47v1H0z" fill="url(#h12_2)" fill-opacity="0.3"/>
<path d="M0 147.1h47v1H0zM0 150.1h47v1H0zM0 153.1h47v1H0zM0 158.1h47v1H0zM0 168.1h47v1H0z" fill="url(#h12_2)" fill-opacity="0.35"/>
<path d="M0 105.3h47v1H0z" fill="url(#h12_2)" fill-opacity="0.75"/>
<path d="M0 264.1h47v1H0zM0 266.1h47v1H0z" fill="url(#h12_3)" fill-opacity="0.05"/>
<path d="M0 292.1h47v1H0z" fill="url(#h12_3)" fill-opacity="0.1"/>
<path d="M0 154.1h47v1H0zM0 155.1h47v1H0zM0 157.1h47v1H0zM0 160.1h47v1H0zM0 169.1h47v1H0z" fill="url(#h12_3)" fill-opacity="0.3"/>
<path d="M0 159.1h47v1H0zM0 165.1h47v1H0zM0 166.1h47v1H0z" fill="url(#h12_3)" fill-opacity="0.35"/>
<path d="M0 206h47v1H0zM0 207h47v1H0zM0 223h47v1H0z" fill="url(#h13_1)" fill-opacity="0.05"/>
<path d="M0 215h47v1H0zM0 262.1h47v1H0z" fill="url(#h13_1)" fill-opacity="0.1"/>
<path d="M0 189h47v1H0zM0 217h47v1H0zM0 218h47v1H0zM0 219h47v1H0zM0 220h47v1H0zM0 224h47v1H0zM0 225h47v1H0zM0 227h47v1H0zM0 231h47v1H0zM0 236.1h47v1H0zM0 238.1h47v1H0zM0 239.1h47v1H0zM0 248.1h47v1H0zM0 249.1h47v1H0zM0 269.1h47v1H0zM0 270.1h47v1H0z" fill="url(#h13_2)" fill-opacity="0.05"/>
<path d="M0 188h47v1H0zM0 204h47v1H0zM0 205h47v1H0zM0 213h47v1H0zM0 214h47v1H0zM0 216h47v1H0zM0 228h47v1H0zM0 229h47v1H0zM0 230h47v1H0zM0 232h47v1H0zM0 234h47v1H0zM0 235.1h47v1H0zM0 240.1h47v1H0zM0 241.1h47v1H0zM0 242.1h47v1H0zM0 245.1h47v1H0zM0 246.1h47v1H0zM0 250.1h47v1H0zM0 251.1h47v1H0zM0 252.1h47v1H0zM0 261.1h47v1H0zM0 263.1h47v1H0zM0 268.1h47v1H0z" fill="url(#h13_2)" fill-opacity="0.1"/>
<path d="M0 118.4h47v1H0zM0 119.5h47v1H0z" fill="url(#h13_2)" fill-opacity="0.2"/>
<path d="M0 120.5h47v1H0zM0 121.5h47v1H0z" fill="url(#h13_2)" fill-opacity="0.25"/>
<path d="M0 93.3h47v1H0zM0 94.3h47v1H0zM0 95.3h47v1H0zM0 148.1h47v1H0z" fill="url(#h13_2)" fill-opacity="0.3"/>
<path d="M0 130.1h47v1H0zM0 142.1h47v1H0zM0 146.1h47v1H0z" fill="url(#h13_2)" fill-opacity="0.35"/>
<path d="M0 247.1h47v1H0zM0 265.1h47v1H0zM0 267.1h47v1H0z" fill="url(#h13_3)" fill-opacity="0.05"/>
<path d="M0 145.1h47v1H0zM0 152.1h47v1H0zM0 156.1h47v1H0zM0 161.1h47v1H0zM0 162.1h47v1H0zM0 164.1h47v1H0z" fill="url(#h13_3)" fill-opacity="0.3"/>
<path d="M0 144.1h47v1H0z" fill="url(#h13_3)" fill-opacity="0.35"/>
<path d="M0 208h47v1H0zM0 209h47v1H0zM0 210h47v1H0zM0 211h47v1H0z" fill="url(#h14_1)" fill-opacity="0.1"/>
<path d="M0 129.1h47v1H0zM0 134.1h47v1H0zM0 136.1h47v1H0z" fill="url(#h14_1)" fill-opacity="0.3"/>
<path d="M0 193h47v1H0zM0 199h47v1H0zM0 200h47v1H0zM0 226h47v1H0zM0 237.1h47v1H0z" fill="url(#h14_2)" fill-opacity="0.05"/>
<path d="M0 190h47v1H0zM0 192h47v1H0zM0 196h47v1H0zM0 197h47v1H0zM0 198h47v1H0zM0 201h47v1H0zM0 202h47v1H0zM0 203h47v1H0zM0 212h47v1H0zM0 221h47v1H0zM0 222h47v1H0z" fill="url(#h14_2)" fill-opacity="0.1"/>
<path d="M0 116.4h47v1H0zM0 117.4h47v1H0z" fill="url(#h14_2)" fill-opacity="0.15"/>
<path d="M0 115.4h47v1H0z" fill="url(#h14_2)" fill-opacity="0.2"/>
<path d="M0 90.4h47v1H0z" fill="url(#h14_2)" fill-opacity="0.25"/>
<path d="M0 91.3h47v1H0zM0 92.3h47v1H0zM0 127.1h47v1H0zM0 128.1h47v1H0zM0 132.1h47v1H0zM0 135.1h47v1H0zM0 139.1h47v1H0zM0 140.1h47v1H0z" fill="url(#h14_2)" fill-opacity="0.3"/>
<path d="M0 131.1h47v1H0zM0 133.1h47v1H0zM0 137.1h47v1H0zM0 138.1h47v1H0zM0 141.1h47v1H0zM0 143.1h47v1H0z" fill="url(#h14_2)" fill-opacity="0.35"/>
<path d="M0 191h47v1H0zM0 194h47v1H0zM0 195h47v1H0z" fill="url(#h14_3)" fill-opacity="0.1"/>
<path d="M0 114.4h47v1H0z" fill="url(#h15_2)" fill-opacity="0.2"/>
<path d="M0 85.4h47v1H0zM0 86.4h47v1H0zM0 87.4h47v1H0zM0 88.4h47v1H0zM0 89.4h47v1H0zM0 107.3h47v1H0zM0 108.3h47v1H0z" fill="url(#h15_2)" fill-opacity="0.3"/>
<path d="M0 112.4h47v1H0zM0 113.4h47v1H0z" fill="url(#h15_3)" fill-opacity="0.25"/>
<path d="M0 104.2h47v1H0z" fill="url(#h16_1)" fill-opacity="0.2"/>
<path d="M0 105.3h47v1H0zM0 109.3h47v1H0z" fill="url(#h16_2)" fill-opacity="0.25"/>
<path d="M0 106.3h47v1H0zM0 110.3h47v1H0z" fill="url(#h16_2)" fill-opacity="0.3"/>
<path d="M0 111.3h47v1H0z" fill="url(#h16_3)" fill-opacity="0.35"/>
<path d="M0 85.4h47v1H0zM0 88.4h47v1H0zM0 89.4h47v1H0zM0 90.4h47v1H0zM0 92.3h47v1H0zM0 93.3h47v1H0zM0 94.3h47v1H0zM0 95.3h47v1H0zM0 101.2h47v1H0zM0 106.3h47v1H0zM0 109.3h47v1H0zM0 113.4h47v1H0zM0 119.5h47v1H0zM0 127.1h47v1H0zM0 130.1h47v1H0zM0 132.1h47v1H0zM0 134.1h47v1H0zM0 136.1h47v1H0zM0 139.1h47v1H0zM0 141.1h47v1H0zM0 142.1h47v1H0zM0 143.1h47v1H0zM0 144.1h47v1H0zM0 147.1h47v1H0zM0 149.1h47v1H0zM0 150.1h47v1H0zM0 152.1h47v1H0zM0 154.1h47v1H0zM0 155.1h47v1H0zM0 156.1h47v1H0zM0 159.1h47v1H0zM0 163.1h47v1H0zM0 164.1h47v1H0zM0 167.1h47v1H0zM0 168.1h47v1H0zM0 170.1h47v1H0zM0 171.1h47v1H0zM0 172.1h47v1H0zM0 175.1h47v1H0zM0 177.1h47v1H0zM0 178.1h47v1H0zM0 179.1h47v1H0zM0 180.1h47v1H0zM0 181.1h47v1H0zM0 182.1h47v1H0zM0 188h47v1H0zM0 191h47v1H0zM0 195h47v1H0zM0 196h47v1H0zM0 200h47v1H0zM0 201h47v1H0zM0 207h47v1H0zM0 212h47v1H0zM0 213h47v1H0zM0 214h47v1H0zM0 215h47v1H0zM0 216h47v1H0zM0 217h47v1H0zM0 218h47v1H0zM0 219h47v1H0zM0 221h47v1H0zM0 222h47v1H0zM0 223h47v1H0zM0 225h47v1H0zM0 227h47v1H0zM0 228h47v1H0zM0 230h47v1H0zM0 231h47v1H0zM0 232h47v1H0zM0 234h47v1H0zM0 235.1h47v1H0zM0 237.1h47v1H0zM0 239.1h47v1H0zM0 241.1h47v1H0zM0 244.1h47v1H0zM0 249.1h47v1H0zM0 251.1h47v1H0zM0 252.1h47v1H0zM0 253.1h47v1H0zM0 254.1h47v1H0zM0 255.1h47v1H0zM0 256.1h47v1H0zM0 257.1h47v1H0zM0 258.1h47v1H0zM0 259.1h47v1H0zM0 260.1h47v1H0zM0 262.1h47v1H0zM0 263.1h47v1H0zM0 264.1h47v1H0zM0 265.1h47v1H0zM0 268.1h47v1H0zM0 272.1h47v1H0zM0 273.1h47v1H0zM0 274.1h47v1H0zM0 275.1h47v1H0zM0 276.1h47v1H0zM0 277.1h47v1H0zM0 278.1h47v1H0zM0 279.1h47v1H0zM0 280.1h47v1H0zM0 281.1h47v1H0zM0 282.1h47v1H0zM0 283.1h47v1H0zM0 284.1h47v1H0zM0 285.1h47v1H0zM0 286.1h47v1H0zM0 287.1h47v1H0zM0 288.1h47v1H0zM0 289.1h47v1H0zM0 290.1h47v1H0zM0 291.1h47v1H0zM0 293.1h47v1H0zM0 294.1h47v1H0zM0 296.1h47v1H0zM0 297.1h47v1H0zM0 298.1h47v1H0zM0 299.1h47v1H0zM0 300.1h47v1H0zM0 301.1h47v1H0zM0 303.1h47v1H0zM0 304.1h47v1H0zM0 305.1h47v1H0zM0 306.1h47v1H0zM0 307.1h47v1H0zM0 309.1h47v1H0zM0 311.1h47v1H0zM0 313.1h47v1H0zM0 314.1h47v1H0zM0 315.1h47v1H0zM0 317.1h47v1H0zM0 318.1h47v1H0zM0 319.1h47v1H0zM0 321.1h47v1H0zM0 323.1h47v1H0zM0 326.1h47v1H0zM0 327.1h47v1H0zM0 328.1h47v1H0zM0 330.2h47v1H0zM0 331.2h47v1H0zM0 332.2h47v1H0zM0 333.2h47v1H0zM0 334.2h47v1H0zM0 335.2h47v1H0zM0 336.2h47v1H0zM0 338.2h47v1H0zM0 339.2h47v1H0zM0 340.2h47v1H0zM0 344.2h47v1H0zM0 345.2h47v1H0zM0 346.2h47v1H0zM0 347.2h47v1H0zM0 348.2h47v1H0zM0 349.2h47v1H0zM0 350.2h47v1H0zM0 351.2h47v1H0zM0 353.2h47v1H0zM0 354.2h47v1H0zM0 355.2h47v1H0zM0 357.2h47v1H0zM0 358.2h47v1H0zM0 359.2h47v1H0zM0 360.2h47v1H0zM0 361.2h47v1H0zM0 362.2h47v1H0zM0 363.2h47v1H0zM0 366.2h47v1H0zM0 368.2h47v1H0zM0 369.2h47v1H0zM0 370.2h47v1H0zM0 372.2h47v1H0zM0 374.2h47v1H0zM0 375.2h47v1H0z" fill="url(#h17_2)" fill-opacity="0.025"/>
<path d="M0 77.4h47v1.1H0zM0 86.4h47v1H0zM0 87.4h47v1H0zM0 91.3h47v1H0zM0 105.3h47v1H0zM0 115.4h47v1H0zM0 117.4h47v1H0zM0 128.1h47v1H0zM0 129.1h47v1H0zM0 131.1h47v1H0zM0 133.1h47v1H0zM0 135.1h47v1H0zM0 137.1h47v1H0zM0 138.1h47v1H0zM0 140.1h47v1H0zM0 145.1h47v1H0zM0 146.1h47v1H0zM0 148.1h47v1H0zM0 151.1h47v1H0zM0 153.1h47v1H0zM0 157.1h47v1H0zM0 158.1h47v1H0zM0 161.1h47v1H0zM0 162.1h47v1H0zM0 169.1h47v1H0zM0 173.1h47v1H0zM0 174.1h47v1H0zM0 176.1h47v1H0zM0 189h47v1H0zM0 190h47v1H0zM0 192h47v1H0zM0 194h47v1H0zM0 198h47v1H0zM0 199h47v1H0zM0 202h47v1H0zM0 203h47v1H0zM0 208h47v1H0zM0 211h47v1H0zM0 224h47v1H0zM0 226h47v1H0zM0 240.1h47v1H0zM0 242.1h47v1H0zM0 243.1h47v1H0zM0 245.1h47v1H0zM0 246.1h47v1H0zM0 261.1h47v1H0zM0 266.1h47v1H0zM0 267.1h47v1H0zM0 270.1h47v1H0zM0 308.1h47v1H0zM0 316.1h47v1H0zM0 337.2h47v1H0zM0 341.2h47v1H0zM0 342.2h47v1H0zM0 356.2h47v1H0zM0 367.2h47v1H0z" fill="url(#h17_2)" fill-opacity="0.05"/>
<path d="M0 78.5h47v1.1H0zM0 102.2h47v1H0zM0 103.2h47v1H0zM0 108.3h47v1H0zM0 110.3h47v1H0zM0 111.3h47v1H0zM0 112.4h47v1H0zM0 114.4h47v1H0zM0 116.4h47v1H0zM0 120.5h47v1H0zM0 121.5h47v1H0zM0 160.1h47v1H0zM0 166.1h47v1H0zM0 193h47v1H0zM0 209h47v1H0zM0 210h47v1H0zM0 233h47v1H0zM0 238.1h47v1H0zM0 247.1h47v1H0zM0 250.1h47v1H0zM0 269.1h47v1H0zM0 302.1h47v1H0zM0 310.1h47v1H0zM0 312.1h47v1H0zM0 320.1h47v1H0zM0 322.1h47v1H0zM0 324.1h47v1H0zM0 365.2h47v1H0zM0 371.2h47v1H0z" fill="url(#h17_2)" fill-opacity="0.075"/>
<path d="M0 78.5h47v1.1H0zM0 79.6h47v1.1H0zM0 104.2h47v1H0zM0 107.3h47v1H0zM0 118.4h47v1H0zM0 165.1h47v1H0zM0 197h47v1H0z" fill="url(#h17_2)" fill-opacity="0.1"/>
<path d="M0 76.3h47v1.1H0zM0 205h47v1H0zM0 206h47v1H0z" fill="url(#h17_2)" fill-opacity="0.125"/>
<path d="M0 204h47v1H0z" fill="url(#h17_2)" fill-opacity="0.15"/>
<path d="M0 103.2h47v1H0z" fill="url(#h17_2)" fill-opacity="0.2"/>
<path d="M0 102.2h47v1H0z" fill="url(#h17_2)" fill-opacity="0.3"/>
<path d="M0 101.2h47v1H0z" fill="url(#h17_2)" fill-opacity="0.35"/>
<path d="M0 77.4h47v1.1H0zM0 103.2h47v1H0z" fill="url(#h17_2)" fill-opacity="0.6"/>
<path d="M0 79.6h47v1.1H0zM0 102.2h47v1H0z" fill="url(#h17_2)" fill-opacity="0.8"/>
<path d="M0 101.2h47v1H0z" fill="url(#h17_2)" fill-opacity="0.95"/>
<path d="M0 76.3h47v1.1H0z" fill="url(#h17_2)" fill-opacity="1.0"/>
<path d="M0 374.2h47v1H0z" fill="url(#h1_2)" fill-opacity="0.3"/>
<path d="M0 372.2h47v1H0zM0 375.2h47v1H0z" fill="url(#h1_2)" fill-opacity="0.4"/>
<path d="M0 344.2h47v1H0z" fill="url(#h2_1)" fill-opacity="0.35"/>
<path d="M0 350.2h47v1H0zM0 373.2h47v1H0z" fill="url(#h2_2)" fill-opacity="0.3"/>
<path d="M0 362.2h47v1H0zM0 364.2h47v1H0zM0 371.2h47v1H0z" fill="url(#h2_2)" fill-opacity="0.35"/>
<path d="M0 366.2h47v1H0zM0 367.2h47v1H0zM0 368.2h47v1H0z" fill="url(#h2_2)" fill-opacity="0.4"/>
<path d="M0 343.2h47v1H0zM0 369.2h47v1H0zM0 370.2h47v1H0z" fill="url(#h2_2)" fill-opacity="0.45"/>
<path d="M0 356.2h47v1H0z" fill="url(#h3_1)" fill-opacity="0.4"/>
<path d="M0 342.2h47v1H0zM0 357.2h47v1H0zM0 358.2h47v1H0z" fill="url(#h3_1)" fill-opacity="0.45"/>
<path d="M0 326.1h47v1H0zM0 338.2h47v1H0zM0 348.2h47v1H0zM0 363.2h47v1H0z" fill="url(#h3_2)" fill-opacity="0.3"/>
<path d="M0 337.2h47v1H0zM0 345.2h47v1H0zM0 346.2h47v1H0zM0 347.2h47v1H0zM0 349.2h47v1H0zM0 355.2h47v1H0zM0 359.2h47v1H0zM0 360.2h47v1H0z" fill="url(#h3_2)" fill-opacity="0.35"/>
<path d="M0 332.2h47v1H0zM0 334.2h47v1H0zM0 336.2h47v1H0zM0 340.2h47v1H0zM0 351.2h47v1H0zM0 352.2h47v1H0zM0 353.2h47v1H0z" fill="url(#h3_2)" fill-opacity="0.4"/>
<path d="M0 331.2h47v1H0zM0 333.2h47v1H0zM0 354.2h47v1H0zM0 361.2h47v1H0zM0 365.2h47v1H0z" fill="url(#h3_2)" fill-opacity="0.45"/>
<path d="M0 335.2h47v1H0z" fill="url(#h3_3)" fill-opacity="0.35"/>
<path d="M0 178.1h47v1H0z" fill="url(#h4_1)" fill-opacity="0.9"/>
<path d="M0 323.1h47v1H0z" fill="url(#h4_2)" fill-opacity="0.25"/>
<path d="M0 316.1h47v1H0zM0 321.1h47v1H0zM0 322.1h47v1H0zM0 324.1h47v1H0z" fill="url(#h4_2)" fill-opacity="0.3"/>
<path d="M0 305.1h47v1H0zM0 325.1h47v1H0zM0 327.1h47v1H0zM0 328.1h47v1H0zM0 339.2h47v1H0z" fill="url(#h4_2)" fill-opacity="0.35"/>
<path d="M0 310.1h47v1H0zM0 314.1h47v1H0zM0 315.1h47v1H0zM0 341.2h47v1H0z" fill="url(#h4_2)" fill-opacity="0.4"/>
<path d="M0 329.1h47v1H0z" fill="url(#h4_2)" fill-opacity="0.45"/>
<path d="M0 307.1h47v1H0zM0 330.2h47v1H0z" fill="url(#h4_2)" fill-opacity="0.5"/>
<path d="M0 289.1h47v1H0zM0 312.1h47v1H0zM0 313.1h47v1H0z" fill="url(#h4_2)" fill-opacity="0.55"/>
<path d="M0 290.1h47v1H0z" fill="url(#h4_2)" fill-opacity="0.6"/>
<path d="M0 173.1h47v1H0z" fill="url(#h4_2)" fill-opacity="0.8"/>
<path d="M0 179.1h47v1H0z" fill="url(#h4_2)" fill-opacity="0.9"/>
<path d="M0 306.1h47v1H0z" fill="url(#h4_3)" fill-opacity="0.4"/>
<path d="M0 311.1h47v1H0z" fill="url(#h4_3)" fill-opacity="0.5"/>
<path d="M0 308.1h47v1H0z" fill="url(#h4_3)" fill-opacity="0.55"/>
<path d="M0 286.1h47v1H0zM0 303.1h47v1H0z" fill="url(#h5_1)" fill-opacity="0.35"/>
<path d="M0 287.1h47v1H0z" fill="url(#h5_1)" fill-opacity="0.45"/>
<path d="M0 300.1h47v1H0zM0 301.1h47v1H0z" fill="url(#h5_1)" fill-opacity="0.5"/>
<path d="M0 295.1h47v1H0zM0 317.1h47v1H0zM0 318.1h47v1H0zM0 319.1h47v1H0zM0 320.1h47v1H0z" fill="url(#h5_2)" fill-opacity="0.3"/>
<path d="M0 276.1h47v1H0zM0 277.1h47v1H0zM0 283.1h47v1H0zM0 294.1h47v1H0z" fill="url(#h5_2)" fill-opacity="0.4"/>
<path d="M0 258.1h47v1H0zM0 296.1h47v1H0zM0 304.1h47v1H0zM0 309.1h47v1H0z" fill="url(#h5_2)" fill-opacity="0.45"/>
<path d="M0 256.1h47v1H0zM0 273.1h47v1H0zM0 275.1h47v1H0zM0 281.1h47v1H0zM0 288.1h47v1H0zM0 291.1h47v1H0zM0 298.1h47v1H0z" fill="url(#h5_2)" fill-opacity="0.5"/>
<path d="M0 274.1h47v1H0zM0 282.1h47v1H0zM0 297.1h47v1H0z" fill="url(#h5_2)" fill-opacity="0.55"/>
<path d="M0 293.1h47v1H0z" fill="url(#h5_2)" fill-opacity="0.6"/>
<path d="M0 181.1h47v1H0zM0 182.1h47v1H0z" fill="url(#h5_2)" fill-opacity="0.75"/>
<path d="M0 176.1h47v1H0zM0 180.1h47v1H0z" fill="url(#h5_2)" fill-opacity="0.8"/>
<path d="M0 171.1h47v1H0zM0 177.1h47v1H0z" fill="url(#h5_2)" fill-opacity="0.85"/>
<path d="M0 170.1h47v1H0z" fill="url(#h5_2)" fill-opacity="0.9"/>
<path d="M0 150.1h47v1H0zM0 172.1h47v1H0z" fill="url(#h5_2)" fill-opacity="1.0"/>
<path d="M0 292.1h47v1H0z" fill="url(#h5_3)" fill-opacity="0.6"/>
<path d="M0 175.1h47v1H0z" fill="url(#h5_3)" fill-opacity="0.8"/>
<path d="M0 174.1h47v1H0z" fill="url(#h5_3)" fill-opacity="0.85"/>
<path d="M0 167.1h47v1H0z" fill="url(#h5_3)" fill-opacity="1.0"/>
<path d="M0 302.1h47v1H0z" fill="url(#h6_1)" fill-opacity="0.45"/>
<path d="M0 254.1h47v1H0zM0 259.1h47v1H0z" fill="url(#h6_1)" fill-opacity="0.5"/>
<path d="M0 244.1h47v1H0zM0 299.1h47v1H0z" fill="url(#h6_1)" fill-opacity="0.55"/>
<path d="M0 253.1h47v1H0zM0 255.1h47v1H0z" fill="url(#h6_1)" fill-opacity="0.6"/>
<path d="M0 243.1h47v1H0z" fill="url(#h6_1)" fill-opacity="0.65"/>
<path d="M0 272.1h47v1H0z" fill="url(#h6_2)" fill-opacity="0.3"/>
<path d="M0 271.1h47v1H0zM0 278.1h47v1H0z" fill="url(#h6_2)" fill-opacity="0.35"/>
<path d="M0 279.1h47v1H0z" fill="url(#h6_2)" fill-opacity="0.4"/>
<path d="M0 249.1h47v1H0zM0 257.1h47v1H0zM0 270.1h47v1H0zM0 284.1h47v1H0zM0 285.1h47v1H0z" fill="url(#h6_2)" fill-opacity="0.45"/>
<path d="M0 232h47v1H0zM0 260.1h47v1H0zM0 280.1h47v1H0z" fill="url(#h6_2)" fill-opacity="0.5"/>
<path d="M0 245.1h47v1H0zM0 261.1h47v1H0z" fill="url(#h6_2)" fill-opacity="0.55"/>
<path d="M0 233h47v1H0zM0 234h47v1H0z" fill="url(#h6_2)" fill-opacity="0.6"/>
<path d="M0 241.1h47v1H0z" fill="url(#h6_2)" fill-opacity="0.65"/>
<path d="M0 151.1h47v1H0zM0 163.1h47v1H0z" fill="url(#h6_2)" fill-opacity="0.85"/>
<path d="M0 148.1h47v1H0zM0 149.1h47v1H0z" fill="url(#h6_2)" fill-opacity="0.9"/>
<path d="M0 146.1h47v1H0z" fill="url(#h6_2)" fill-opacity="0.95"/>
<path d="M0 147.1h47v1H0zM0 153.1h47v1H0zM0 158.1h47v1H0zM0 168.1h47v1H0z" fill="url(#h6_2)" fill-opacity="1.0"/>
<path d="M0 264.1h47v1H0zM0 265.1h47v1H0zM0 266.1h47v1H0z" fill="url(#h6_3)" fill-opacity="0.5"/>
<path d="M0 155.1h47v1H0z" fill="url(#h6_3)" fill-opacity="0.85"/>
<path d="M0 145.1h47v1H0zM0 154.1h47v1H0zM0 157.1h47v1H0zM0 160.1h47v1H0zM0 169.1h47v1H0z" fill="url(#h6_3)" fill-opacity="0.9"/>
<path d="M0 165.1h47v1H0z" fill="url(#h6_3)" fill-opacity="0.95"/>
<path d="M0 159.1h47v1H0zM0 166.1h47v1H0z" fill="url(#h6_3)" fill-opacity="1.0"/>
<path d="M0 207h47v1H0z" fill="url(#h7_1)" fill-opacity="0.4"/>
<path d="M0 223h47v1H0z" fill="url(#h7_1)" fill-opacity="0.45"/>
<path d="M0 262.1h47v1H0z" fill="url(#h7_1)" fill-opacity="0.5"/>
<path d="M0 215h47v1H0z" fill="url(#h7_1)" fill-opacity="0.65"/>
<path d="M0 372.2h47v1H0zM0 374.2h47v1H0zM0 375.2h47v1H0z" fill="url(#h7_2)" fill-opacity="0.05"/>
<path d="M0 248.1h47v1H0z" fill="url(#h7_2)" fill-opacity="0.35"/>
<path d="M0 217h47v1H0zM0 218h47v1H0zM0 219h47v1H0zM0 227h47v1H0zM0 239.1h47v1H0z" fill="url(#h7_2)" fill-opacity="0.4"/>
<path d="M0 220h47v1H0zM0 269.1h47v1H0z" fill="url(#h7_2)" fill-opacity="0.45"/>
<path d="M0 216h47v1H0zM0 224h47v1H0zM0 231h47v1H0zM0 236.1h47v1H0zM0 250.1h47v1H0zM0 268.1h47v1H0z" fill="url(#h7_2)" fill-opacity="0.5"/>
<path d="M0 204h47v1H0zM0 205h47v1H0zM0 214h47v1H0zM0 228h47v1H0zM0 230h47v1H0zM0 235.1h47v1H0z" fill="url(#h7_2)" fill-opacity="0.55"/>
<path d="M0 240.1h47v1H0zM0 251.1h47v1H0zM0 263.1h47v1H0z" fill="url(#h7_2)" fill-opacity="0.6"/>
<path d="M0 213h47v1H0zM0 242.1h47v1H0zM0 246.1h47v1H0zM0 252.1h47v1H0z" fill="url(#h7_2)" fill-opacity="0.65"/>
<path d="M0 121.5h47v1H0z" fill="url(#h7_2)" fill-opacity="0.7"/>
<path d="M0 120.5h47v1H0z" fill="url(#h7_2)" fill-opacity="0.75"/>
<path d="M0 267.1h47v1H0z" fill="url(#h7_3)" fill-opacity="0.4"/>
<path d="M0 247.1h47v1H0z" fill="url(#h7_3)" fill-opacity="0.45"/>
<path d="M0 161.1h47v1H0zM0 162.1h47v1H0z" fill="url(#h7_3)" fill-opacity="0.8"/>
<path d="M0 164.1h47v1H0z" fill="url(#h7_3)" fill-opacity="0.85"/>
<path d="M0 152.1h47v1H0zM0 156.1h47v1H0z" fill="url(#h7_3)" fill-opacity="0.9"/>
<path d="M0 144.1h47v1H0z" fill="url(#h7_3)" fill-opacity="1.0"/>
<path d="M0 344.2h47v1H0z" fill="url(#h8_1)" fill-opacity="0.05"/>
<path d="M0 206h47v1H0z" fill="url(#h8_1)" fill-opacity="0.45"/>
<path d="M0 209h47v1H0z" fill="url(#h8_1)" fill-opacity="0.55"/>
<path d="M0 208h47v1H0zM0 211h47v1H0z" fill="url(#h8_1)" fill-opacity="0.6"/>
<path d="M0 210h47v1H0z" fill="url(#h8_1)" fill-opacity="0.65"/>
<path d="M0 134.1h47v1H0zM0 136.1h47v1H0z" fill="url(#h8_1)" fill-opacity="0.85"/>
<path d="M0 129.1h47v1H0z" fill="url(#h8_1)" fill-opacity="0.9"/>
<path d="M0 350.2h47v1H0zM0 367.2h47v1H0zM0 368.2h47v1H0zM0 369.2h47v1H0zM0 370.2h47v1H0zM0 371.2h47v1H0zM0 373.2h47v1H0z" fill="url(#h8_2)" fill-opacity="0.05"/>
<path d="M0 199h47v1H0zM0 238.1h47v1H0z" fill="url(#h8_2)" fill-opacity="0.4"/>
<path d="M0 193h47v1H0zM0 225h47v1H0zM0 226h47v1H0zM0 237.1h47v1H0z" fill="url(#h8_2)" fill-opacity="0.45"/>
<path d="M0 116.4h47v1H0zM0 189h47v1H0zM0 229h47v1H0z" fill="url(#h8_2)" fill-opacity="0.5"/>
<path d="M0 190h47v1H0zM0 202h47v1H0zM0 203h47v1H0zM0 222h47v1H0z" fill="url(#h8_2)" fill-opacity="0.55"/>
<path d="M0 118.4h47v1H0zM0 119.5h47v1H0zM0 192h47v1H0zM0 197h47v1H0zM0 201h47v1H0zM0 212h47v1H0zM0 221h47v1H0z" fill="url(#h8_2)" fill-opacity="0.6"/>
<path d="M0 188h47v1H0z" fill="url(#h8_2)" fill-opacity="0.65"/>
<path d="M0 196h47v1H0z" fill="url(#h8_2)" fill-opacity="0.7"/>
<path d="M0 135.1h47v1H0z" fill="url(#h8_2)" fill-opacity="0.8"/>
<path d="M0 128.1h47v1H0z" fill="url(#h8_2)" fill-opacity="0.85"/>
<path d="M0 132.1h47v1H0zM0 139.1h47v1H0zM0 140.1h47v1H0z" fill="url(#h8_2)" fill-opacity="0.9"/>
<path d="M0 130.1h47v1H0zM0 137.1h47v1H0zM0 138.1h47v1H0zM0 142.1h47v1H0z" fill="url(#h8_2)" fill-opacity="0.95"/>
<path d="M0 131.1h47v1H0zM0 141.1h47v1H0zM0 143.1h47v1H0z" fill="url(#h8_2)" fill-opacity="1.0"/>
<path d="M0 191h47v1H0z" fill="url(#h8_3)" fill-opacity="0.5"/>
<path d="M0 194h47v1H0z" fill="url(#h8_3)" fill-opacity="0.65"/>
<path d="M0 195h47v1H0z" fill="url(#h8_3)" fill-opacity="0.75"/>
<path d="M0 342.2h47v1H0zM0 356.2h47v1H0zM0 357.2h47v1H0zM0 358.2h47v1H0z" fill="url(#h9_1)" fill-opacity="0.05"/>
<path d="M0 332.2h47v1H0zM0 333.2h47v1H0zM0 334.2h47v1H0zM0 336.2h47v1H0zM0 340.2h47v1H0zM0 343.2h47v1H0zM0 345.2h47v1H0zM0 346.2h47v1H0zM0 347.2h47v1H0zM0 348.2h47v1H0zM0 349.2h47v1H0zM0 351.2h47v1H0zM0 352.2h47v1H0zM0 353.2h47v1H0zM0 354.2h47v1H0zM0 355.2h47v1H0zM0 359.2h47v1H0zM0 361.2h47v1H0zM0 362.2h47v1H0zM0 363.2h47v1H0zM0 364.2h47v1H0zM0 365.2h47v1H0zM0 366.2h47v1H0z" fill="url(#h9_2)" fill-opacity="0.05"/>
<path d="M0 117.4h47v1H0zM0 200h47v1H0z" fill="url(#h9_2)" fill-opacity="0.45"/>
<path d="M0 198h47v1H0z" fill="url(#h9_2)" fill-opacity="0.5"/>
<path d="M0 115.4h47v1H0z" fill="url(#h9_2)" fill-opacity="0.55"/>
<path d="M0 114.4h47v1H0z" fill="url(#h9_2)" fill-opacity="0.6"/>
<path d="M0 127.1h47v1H0z" fill="url(#h9_2)" fill-opacity="0.9"/>
<path d="M0 133.1h47v1H0z" fill="url(#h9_2)" fill-opacity="0.95"/>
<path d="M0 335.2h47v1H0z" fill="url(#h9_3)" fill-opacity="0.05"/>
<path d="M40.7 120.7h6.1M38.5 108.5h6.1M41.8 119.8h2.3M14.9 117.5h3.1M16.6 138.9h6.6M35.5 160.4h9.2M0.2 179.4h5.1M32.1 149.4h7.3M14.8 141.3h2.9M41.2 142.2h5.6M17.8 136.6h8.7M25.9 129.5h5.1M35.6 162.8h8M19.4 128.8h4.7M0.2 161.3h5M0.2 159.5h3.1M1.5 307.8h7M35.2 243h3.6M18.2 196.7h6.4M3.6 193.5h3.2M29.8 356.3h9.5M16.5 273.6h8.9M6.9 287.4h6.8M18.4 288.5h8.9M31.6 281.7h2.4M34.4 319.6h8.9M0.2 369h6.6M26.5 220.2h7.1M21.8 231.5h9.8M3 318.8h7.2M28.9 293.8h6.4M21.7 314.5h2.6M21.4 322.5h9.7M17.7 195.5h3M0.2 227.3h5.3M5.1 207.6h2.2M33.6 295.2h2.3M39.4 304.1h7.4M43 232.8h3.8M17.2 324.8h4.9M6.5 203.2h7.8M3.3 266.4h6.1M23.7 366.9h7.1M14.2 337.6h2.2M36.2 326h2.7M20.9 224.9h5M6.2 365.4h3M25.9 273.5h6M18.8 261.6h4.9M12.1 251.8h3M12.7 348.1h6.1M8 259.1h6.3M6.6 284.8h6.1M5.1 321.1h8.7M41.3 363.4h5.5M41.7 216.8h5.1M28.6 208.9h8M38.9 294.4h7.2M34.6 319.5h3.5M22.6 192.5h4.1M18.5 346.4h5.4M4.1 273h9.6M34.1 281.7h8.9M20.4 230.5h2.6M28.1 194.6h7M0.2 214.1h1.5M31 216h6.8M14.7 313.5h4.9M20.7 352.7h6.7" stroke="#2b47a3" stroke-opacity="0.05" stroke-width="0.8"/>
<path d="M29.8 118.3h4.7M0.2 109h2.9M8.1 112.6h3.2M20.2 120.8h6.7M29.6 121.4h6.5M14.5 102.1h6.5M2.7 103h3.1M41.6 103.8h2.5M30.2 103h8.9M12.7 116.7h6.5M0.2 103.7h3.9M30.6 111.6h5.8M10.3 115.5h3.3M13.4 130.5h7.5M27.3 157.7h9.2M15.6 129.4h8.2M40.5 160.3h6.3M38.8 143.1h4.3M12.2 161h3.2M0.2 139.8h4.3M20.5 132.5h5.5M24.4 141h6.8M29.7 142.1h5.6M13.4 162.4h6.8M0.2 147.9h6.6M40.2 148.8h6.6M6.4 141.5h2.6M33.5 134h2.2M14.4 141.5h5.5M19.3 135.6h2.6M22.8 128.7h5.4M29.5 303.5h2.2M41.7 372.6h5.1M23.7 270.4h3.7M38.7 301.1h8.1M16.2 277.5h6.6M37.3 260.1h8M38.3 347.6h2.5M21.5 224.9h5.3M1 349.8h3.3M31.7 311.1h6.1M38.7 221.7h8.1M25.9 337h3.4M25.4 235.5h4.2M34.1 335h5.6M5.6 195.8h9.1M6.9 255.7h6M33.2 346.4h2.8M19.7 357.4h4.1M14.9 311.6h2M45 365.1h1.8M31.5 226.7h3.3M22.4 189.7h5.4M11 326h2.6M0.2 369.1h8.3M7.6 244.6h6.3M35.7 260.1h2.9M40.7 209.8h4.3M41.3 277.6h5.5M4.5 312h9.5M17.6 374.3h4.9M2.3 244.1h2.3M25.4 332.5h2.1M15.3 258h3.2M12.3 371.9h9.3M2.3 247.3h5.6M23 249.6h7.3M0.2 264.9h5.7M8 341.2h6M5.5 192h6.1M14.5 199.2h3.2M0.2 365h6.2M22.9 252.5h4.6M17.2 287.1h4.4M0.2 269.6h5.4M19.3 373.1h5.5M18.9 287.6h7.9M10.2 329.1h2.8M36.4 265.7h7.3M34.4 218.5h9.6M20.5 362h9M37.2 283h8.5M2.2 218.6h3.7M28.6 303.2h6.8M40.8 261.8h3.9M39.1 277.8h7.4M10.8 228.9h9.3M30.9 223.8h7.2M3.1 286.4h6M2 299.4h2.5M21.7 325.4h7.2M38.1 300.2h2.3M31.1 238.2h7.1M22.9 334h6M18.2 259.9h9M0.2 329.8h6M29.8 287.1h5.8M0.2 252.1h2.1M36.3 368.9h9.5" stroke="#2b47a3" stroke-opacity="0.1" stroke-width="0.8"/>
<path d="M0.2 102.3h2.5M8.2 116.8h3.2M32.5 111.3h3.7M5.2 112.6h8.7M0.3 112.5h4.2M16.8 113.9h8.4M9.2 162.7h5.7M38.2 173.1h8.6M12 138.2h3.6M4.9 171.4h8.1M36.9 170.2h9.1M24 176.2h9.8M3 161.1h2.4M25 158.2h2.2M29.9 175h6.7M40.9 165.8h5.9M10.8 130.3h3.2M16.9 147.2h9.8M0.2 153.3h5.3M25 143.6h4.7M37 145.8h9.4M21.8 276h7.6M20 361.9h1.6M10.5 360.4h5.1M2.8 321.7h6.5M37 363.3h7M6.3 256.5h4.6M0.5 213.4h7.5M21.7 352.1h3.8M13.2 207.1h5M11.3 190.6h2.6M9.4 329h2.2M40.8 201.4h6M22.4 340.7h2.1M18.5 367.7h5.4M44 348.3h2.8M4.1 235.7h3.7M21.1 362.3h4.3M19.1 336.6h4.4M21.8 307h4.1M16.6 214.9h7.4M22.1 231.8h3.7M18.7 363.1h5.7M5.5 320.3h3.6M38.8 195.8h8M23.1 357.7h7.2M35.1 201.2h8.4M13.6 302.6h6.6M18.6 213.1h5.9M27.7 349.1h3.6M7.4 228h7.8M41.1 227.1h5.5M19.5 258.8h7.6M28.4 335.8h6.9M16.8 339.5h7.8M28.8 245.1h6.2M43.2 229.9h3.6M3 312.7h3.2M23.3 333.3h3.8M22.7 316.5h3.5M12.7 338.2h4.7M6.8 323h2.2M40.7 318.1h6M39.9 270.4h2M11.5 265.5h4.6M24.5 221.2h7.1M2.1 303.5h2.9M43 240.8h3.8M8.6 217.4h7M26.5 307.9h3.4M29.9 302.6h5.2M25.2 363.7h5.7M40.3 238.5h6.5M3.1 332.1h9.2M22 299.1h4.3M20.8 217.2h2.3M7.8 233.3h7.8M14.7 333.6h3.5M43.8 201.2h2.4M24.7 316h6M30.6 250.2h8.7M42.3 242.9h3.4M37.2 329.7h2.9M22.6 206h4.2M27.7 291.8h3.4" stroke="#2b47a3" stroke-opacity="0.15" stroke-width="0.8"/>
<path d="M23.9 245.8h5.6M18.2 279.1h4.7M16 200.2h3.9M20.7 357.8h1.9M20.4 301.3h3.6M26.7 331.2h3.9M17.5 310.5h4.6M20.6 316.3h2.1M22 290.4h5.1M26.2 315.7h4.1M24.5 246h4.8M19.7 334.3h4.3M20.1 338.6h1.9M21.4 326h5.3M21.3 348.3h2.3M23.9 252h5.6M16.6 222.4h5.7M23 347.2h4.7M12.8 245.9h4.1M21 287.2h3.5M23.9 370.2h4.1M21.6 335.5h4.3M24.3 263.5h4.1M21.3 288.4h5.4M21.2 289.6h4.5M24.3 362.5h4.5M19.4 269.5h4.1M27.6 332.6h1.7M22.1 272h5.7M18 321.5h1.7M24.1 283.5h2.5M20.5 303.9h3.5M19.5 372.6h5.9M24.3 327.9h2.7" stroke="#2b47a3" stroke-opacity="0.2" stroke-width="0.8"/>
<path d="M22.6 344.5h4.3M17.5 289.4h3.7M30.3 244.9h6M19 335.9h2.8M20.8 297.3h5.2M21.8 248.3h5.8M17.4 278.4h2.7M17.5 245h4.1M28.1 233.5h1.6M20.3 328.7h4.6M23.6 370.2h2.9M19 348.7h2.5M17.1 227.4h4.7M19.2 357.5h2.7M22.5 336.1h3.8M21.5 298.5h3M24.5 199h2.3M21.6 296.3h4.8M24.2 190.8h3.1M19.2 322.2h2.9M17.4 299.3h2.9M20.5 362.2h3.9M20.7 335h2.2M21.4 269.7h3.6M23.4 215.4h2.1M27.7 330.7h3.8" stroke="#2b47a3" stroke-opacity="0.25" stroke-width="0.8"/>
<path d="M15.3 128.1h5.4M24.2 138.5h4.4M25.2 155.7h4.8M24.3 285.9h4.6M22.2 249.8h2M23.1 373.1h1.9M21.9 288.9h2.4M22.5 213.3h5.6M17.5 323h2.1M16.1 190.1h5.8M14.8 261h2.2M22.7 205.5h2.3M20.6 369.9h3.3M21 342.1h4.6M18.6 288.7h5.9M18.2 309.2h3.5M21.2 370.5h5.9M22.1 256.6h2.5M26.2 278.5h4.7M20 366.7h2.3M16 308.3h2.1M26.3 238.2h6M19.5 243.4h5.4" stroke="#2b47a3" stroke-opacity="0.3" stroke-width="0.8"/>
<path d="M3 104.8h3.5M9.9 109.2h4.1M22.6 159.2h3.2M31.8 143h4.9M20.7 134.1h3.1M21.9 136.3h4.1M17 295.1h4.9M18.6 239.4h5.1M18.3 217.9h2.4M20.2 355.8h5M21.7 220.4h4.6M20.4 298.7h4.5M20 290.6h3.5M16.9 215.5h4.2M25.1 238.9h4.8M26.4 218.9h1.9M22.9 229.1h3.2M18.4 313.2h4.7M13.9 215.8h4.1M16.1 215.6h1.8M17.4 262.9h2.8M28.3 224.1h3.7M22.2 296.2h3.1M24.3 213.9h4.1M26.8 262.4h3.6M19.4 327.1h4.6" stroke="#2b47a3" stroke-opacity="0.35" stroke-width="0.8"/>
<path d="M22.3 121h5.5M24.4 103.3h3.8M13.7 120.7h3.4M13.7 145.6h1.7M26.1 136.1h2.6M22.4 222.1h1.8M26.4 209.2h5.5M17.8 289.7h1.7M25.5 257.9h2.6M24.9 253.5h4.4M21.5 293.3h4.4M22.7 226.7h2.7M25.6 204h3.9M19.5 283.9h5.9M31 218.6h4.8M21.9 212.8h3M22.3 276.7h3.8M26.7 249.6h1.6" stroke="#2b47a3" stroke-opacity="0.4" stroke-width="0.8"/>
<path d="M27.5 103.8h3.4M13.2 102.5h4.9M19.4 146.6h4.7M19.4 148.8h4M16.1 158.4h4.4M16.9 171.1h4.6M17 134.4h5.2M19.7 127.7h4.9M29.8 237.5h3M21.5 218.7h1.8" stroke="#2b47a3" stroke-opacity="0.45" stroke-width="0.8"/>
<path d="M22.2 113.5h2.4M22.5 113.5h3.4M27.2 131.4h4.9M18.2 178.7h5.3M25.4 162.9h1.6M12.8 164.5h3.6M17.3 133.1h5.7M17.5 135.6h1.5M18 173.6h4.4M13.2 205.5h2.5" stroke="#2b47a3" stroke-opacity="0.5" stroke-width="0.8"/>
<path d="M32.2 109h1.8M24.7 111.3h2.1M20.1 146.7h2.1M22 152.4h3.6M20.6 159.1h3.4M17 159.3h2.4M17.2 175.6h5.3M27.8 153.7h1.6" stroke="#2b47a3" stroke-opacity="0.55" stroke-width="0.8"/>
<path d="M22.4 132h2.3M20.4 167.5h1.5M24.7 138.2h3.5M23.9 153.2h2.2M20.9 182.6h3.4" stroke="#2b47a3" stroke-opacity="0.6" stroke-width="0.8"/>
<path d="M18.2 158.4h4.3M19.7 179.5h4.5M19.6 172.3h2.4M21.8 150.3h2.4" stroke="#2b47a3" stroke-opacity="0.65" stroke-width="0.8"/>
<path d="M17.6 157.3h4.8M19.1 139.6h4.9M17.3 143.7h4.3M21.8 150.2h4.3" stroke="#2b47a3" stroke-opacity="0.7" stroke-width="0.8"/>
<path d="M19.2 142.7h5.9M20 138.4h5.4M27.4 129.3h1.7" stroke="#2b47a3" stroke-opacity="0.75" stroke-width="0.8"/>
</g>
<rect x="628.1" y="76.3" width="47" height="4.4" fill="none" stroke="#555" stroke-width="0.7"/>
<rect x="628.1" y="85.4" width="47" height="10.9" fill="none" stroke="#555" stroke-width="0.7"/>
<rect x="628.1" y="101.2" width="47" height="21.3" fill="none" stroke="#555" stroke-width="0.7"/>
<rect x="628.1" y="127.1" width="47" height="56" fill="none" stroke="#555" stroke-width="0.7"/>
<rect x="628.1" y="188" width="47" height="188.2" fill="none" stroke="#555" stroke-width="0.7"/>
<line x1="628.1" y1="376.2" x2="628.1" y2="377.8" stroke="#777" stroke-width="0.6"/>
<line x1="651.6" y1="376.2" x2="651.6" y2="377.8" stroke="#777" stroke-width="0.6"/>
<line x1="675.1" y1="376.2" x2="675.1" y2="377.8" stroke="#777" stroke-width="0.6"/>
<text x="651.9" y="384.8" font-size="8.3" text-anchor="middle" fill="#222" textLength="47.5" lengthAdjust="spacingAndGlyphs">-1 center1Kb</text>
<rect x="307.3" y="76.2" width="5.8" height="300" fill="url(#side)"/>
<rect x="313.1" y="76.2" width="1.6" height="300" fill="#b5b5b5"/>
<line x1="307.2" y1="76.2" x2="307.2" y2="376.2" stroke="#888" stroke-width="0.6"/>
<line x1="305" y1="376.2" x2="307.2" y2="376.2" stroke="#777" stroke-width="0.6"/>
<text x="302.4" y="379.2" font-size="9.8" text-anchor="end" fill="#222" textLength="11.9" lengthAdjust="spacingAndGlyphs">0.0</text>
<line x1="305" y1="325.6" x2="307.2" y2="325.6" stroke="#777" stroke-width="0.6"/>
<text x="302.4" y="328.6" font-size="9.8" text-anchor="end" fill="#222" textLength="11.9" lengthAdjust="spacingAndGlyphs">0.1</text>
<line x1="305" y1="275" x2="307.2" y2="275" stroke="#777" stroke-width="0.6"/>
<text x="302.4" y="278" font-size="9.8" text-anchor="end" fill="#222" textLength="11.9" lengthAdjust="spacingAndGlyphs">0.2</text>
<line x1="305" y1="224.4" x2="307.2" y2="224.4" stroke="#777" stroke-width="0.6"/>
<text x="302.4" y="227.4" font-size="9.8" text-anchor="end" fill="#222" textLength="11.9" lengthAdjust="spacingAndGlyphs">0.3</text>
<line x1="305" y1="173.8" x2="307.2" y2="173.8" stroke="#777" stroke-width="0.6"/>
<text x="302.4" y="176.8" font-size="9.8" text-anchor="end" fill="#222" textLength="11.9" lengthAdjust="spacingAndGlyphs">0.4</text>
<line x1="305" y1="123.2" x2="307.2" y2="123.2" stroke="#777" stroke-width="0.6"/>
<text x="302.4" y="126.2" font-size="9.8" text-anchor="end" fill="#222" textLength="11.9" lengthAdjust="spacingAndGlyphs">0.5</text>
<text transform="translate(287.6,232) rotate(-90)" font-size="9" text-anchor="middle" fill="#222">Peaks</text>
<text x="495.8" y="394.9" font-size="8.2" text-anchor="middle" fill="#222">Gene Distance (bp)</text>
<text x="676.7" y="79.6" font-size="6.4" fill="#333">C1</text>
<text x="676.7" y="92.2" font-size="6.4" fill="#333">C2</text>
<text x="676.7" y="112.8" font-size="6.4" fill="#333">C3</text>
<text x="676.7" y="156.3" font-size="6.4" fill="#333">C4</text>
<text x="676.7" y="284.5" font-size="6.4" fill="#333">C5</text>
<text x="0.2" y="202.6" font-size="18.5" font-weight="bold" fill="#000">C</text>
<text x="69.3" y="222.2" font-size="11.6" font-weight="bold" text-anchor="middle" fill="#000">OPEN</text>
<text x="69.3" y="236" font-size="11.6" font-weight="bold" text-anchor="middle" fill="#000">Chromatin</text>
<text x="31.4" y="253.3" font-size="10.45" text-anchor="middle" fill="#222">GA_vs_P</text>
<text x="31.4" y="265.8" font-size="10.45" text-anchor="middle" fill="#222">(9037 DAPs)</text>
<text x="108.1" y="253.3" font-size="10.45" text-anchor="middle" fill="#222">GS_vs_P</text>
<text x="108.1" y="265.8" font-size="10.45" text-anchor="middle" fill="#222">(4073 DAPs)</text>
<text x="67.7" y="372.6" font-size="10.45" text-anchor="middle" fill="#222">GSA_vs_P</text>
<text x="67.7" y="385" font-size="10.45" text-anchor="middle" fill="#222">(6952 DAPs)</text>
<clipPath id="gaOPEN"><circle cx="53" cy="301" r="31.6"/></clipPath>
<clipPath id="gsOPEN"><circle cx="83.5" cy="301" r="31.6"/></clipPath>
<circle cx="67.7" cy="332" r="31.6" fill="#668494"/>
<circle cx="53" cy="301" r="31.6" fill="#6382bb"/>
<circle cx="83.5" cy="301" r="31.6" fill="#64bae6"/>
<g clip-path="url(#gaOPEN)">
<circle cx="83.5" cy="301" r="31.6" fill="#2b8fd0"/>
<circle cx="67.7" cy="332" r="31.6" fill="#2e5a91"/>
<g clip-path="url(#gsOPEN)">
<circle cx="67.7" cy="332" r="31.6" fill="#1f78bf"/>
</g></g>
<g clip-path="url(#gsOPEN)">
<path d="M0 0h1v1z" fill="none"/>
</g>
<clipPath id="gsxOPEN"><path clip-rule="evenodd" d="M53 301 m-31.6 0 a31.6 31.6 0 1 0 63.2 0 a31.6 31.6 0 1 0 -63.2 0 Z M0 0 h685 v961 h-685 Z"/></clipPath>
<g clip-path="url(#gsxOPEN)"><g clip-path="url(#gsOPEN)">
<circle cx="67.7" cy="332" r="31.6" fill="#2d8ec4"/>
</g></g>
<text x="40.7" y="288" font-size="9.2" text-anchor="middle" fill="#111">7523</text>
<text x="69.5" y="294.8" font-size="9.2" text-anchor="middle" fill="#111">203</text>
<text x="97.5" y="288" font-size="9.2" text-anchor="middle" fill="#111">797</text>
<text x="69" y="313.4" font-size="9.2" text-anchor="middle" fill="#111">687</text>
<text x="49.4" y="324.6" font-size="9.2" text-anchor="middle" fill="#111">624</text>
<text x="85.3" y="324.6" font-size="9.2" text-anchor="middle" fill="#111">2386</text>
<text x="68.3" y="347.7" font-size="9.2" text-anchor="middle" fill="#111">3255</text>
<text x="209.6" y="222.2" font-size="11.6" font-weight="bold" text-anchor="middle" fill="#000">CLOSED</text>
<text x="209.6" y="236" font-size="11.6" font-weight="bold" text-anchor="middle" fill="#000">Chromatin</text>
<text x="173.2" y="253.3" font-size="10.45" text-anchor="middle" fill="#222">GA_vs_P</text>
<text x="173.2" y="265.8" font-size="10.45" text-anchor="middle" fill="#222">(3608 DAPs)</text>
<text x="247.5" y="253.3" font-size="10.45" text-anchor="middle" fill="#222">GS_vs_P</text>
<text x="247.5" y="265.8" font-size="10.45" text-anchor="middle" fill="#222">(1904 DAPs)</text>
<text x="210.5" y="372.6" font-size="10.45" text-anchor="middle" fill="#222">GSA_vs_P</text>
<text x="210.5" y="385" font-size="10.45" text-anchor="middle" fill="#222">(2972 DAPs)</text>
<clipPath id="gaCLOSED"><circle cx="195.8" cy="301" r="31.6"/></clipPath>
<clipPath id="gsCLOSED"><circle cx="226.3" cy="301" r="31.6"/></clipPath>
<circle cx="210.5" cy="332" r="31.6" fill="#668494"/>
<circle cx="195.8" cy="301" r="31.6" fill="#6382bb"/>
<circle cx="226.3" cy="301" r="31.6" fill="#64bae6"/>
<g clip-path="url(#gaCLOSED)">
<circle cx="226.3" cy="301" r="31.6" fill="#2b8fd0"/>
<circle cx="210.5" cy="332" r="31.6" fill="#2e5a91"/>
<g clip-path="url(#gsCLOSED)">
<circle cx="210.5" cy="332" r="31.6" fill="#1f78bf"/>
</g></g>
<g clip-path="url(#gsCLOSED)">
<path d="M0 0h1v1z" fill="none"/>
</g>
<clipPath id="gsxCLOSED"><path clip-rule="evenodd" d="M195.8 301 m-31.6 0 a31.6 31.6 0 1 0 63.2 0 a31.6 31.6 0 1 0 -63.2 0 Z M0 0 h685 v961 h-685 Z"/></clipPath>
<g clip-path="url(#gsxCLOSED)"><g clip-path="url(#gsCLOSED)">
<circle cx="210.5" cy="332" r="31.6" fill="#2d8ec4"/>
</g></g>
<text x="183.5" y="288" font-size="9.2" text-anchor="middle" fill="#111">2382</text>
<text x="212.3" y="294.8" font-size="9.2" text-anchor="middle" fill="#111">131</text>
<text x="240.3" y="288" font-size="9.2" text-anchor="middle" fill="#111">490</text>
<text x="211.8" y="313.4" font-size="9.2" text-anchor="middle" fill="#111">714</text>
<text x="192.2" y="324.6" font-size="9.2" text-anchor="middle" fill="#111">381</text>
<text x="228.1" y="324.6" font-size="9.2" text-anchor="middle" fill="#111">569</text>
<text x="211.1" y="347.7" font-size="9.2" text-anchor="middle" fill="#111">1308</text>
<text x="-0.1" y="419.7" font-size="18.5" font-weight="bold" fill="#000">D</text>
<text x="93.7" y="429.3" font-size="11.6" font-weight="bold" fill="#000">GA vs P</text>
<line x1="134" y1="434.7" x2="134" y2="750.5" stroke="#e6e6e6" stroke-width="0.8"/>
<line x1="146.9" y1="434.7" x2="146.9" y2="750.5" stroke="#e6e6e6" stroke-width="0.8"/>
<line x1="159.7" y1="434.7" x2="159.7" y2="750.5" stroke="#e6e6e6" stroke-width="0.8"/>
<line x1="172.6" y1="434.7" x2="172.6" y2="750.5" stroke="#e6e6e6" stroke-width="0.8"/>
<line x1="198.2" y1="434.7" x2="198.2" y2="750.5" stroke="#e6e6e6" stroke-width="0.8"/>
<line x1="211.1" y1="434.7" x2="211.1" y2="750.5" stroke="#e6e6e6" stroke-width="0.8"/>
<line x1="185.4" y1="434.7" x2="185.4" y2="750.5" stroke="#7a7a7a" stroke-width="0.8" stroke-dasharray="4,2.6"/>
<text x="136" y="760" font-size="8.2" text-anchor="middle" fill="#444">−4</text>
<text x="161.8" y="760" font-size="8.2" text-anchor="middle" fill="#444">−2</text>
<text x="185.4" y="760" font-size="8.2" text-anchor="middle" fill="#444">0</text>
<text x="211.5" y="760" font-size="8.2" text-anchor="middle" fill="#444">2</text>
<text x="185.6" y="768.7" font-size="8.2" text-anchor="middle" fill="#444">NES</text>
<line x1="185.4" y1="446.1" x2="217.1" y2="446.1" stroke="#7f7f7f" stroke-width="0.8"/>
<line x1="185.4" y1="443.9" x2="185.4" y2="448.3" stroke="#7f7f7f" stroke-width="0.6"/>
<circle cx="217.1" cy="446.1" r="3.3" fill="#e8292b"/>
<text x="125.6" y="448.4" font-size="8.15" text-anchor="end">EMT</text>
<line x1="185.4" y1="460.7" x2="208.4" y2="460.7" stroke="#b8b8b8" stroke-width="0.8"/>
<line x1="185.4" y1="458.5" x2="185.4" y2="462.9" stroke="#7f7f7f" stroke-width="0.6"/>
<circle cx="208.4" cy="460.7" r="5.3" fill="#e8292b"/>
<text x="125.6" y="463" font-size="8.15" text-anchor="end">Heart development</text>
<line x1="185.4" y1="476.9" x2="207.4" y2="476.9" stroke="#7f7f7f" stroke-width="0.8"/>
<line x1="185.4" y1="474.7" x2="185.4" y2="479.1" stroke="#7f7f7f" stroke-width="0.6"/>
<circle cx="207.4" cy="476.9" r="7.6" fill="#e8292b"/>
<text x="125.6" y="479.2" font-size="8.15" text-anchor="end">Cell morphogenesis</text>
<line x1="185.4" y1="494.9" x2="206.5" y2="494.9" stroke="#b8b8b8" stroke-width="0.8"/>
<line x1="185.4" y1="492.7" x2="185.4" y2="497.1" stroke="#7f7f7f" stroke-width="0.6"/>
<circle cx="206.5" cy="494.9" r="7.6" fill="#e8292b"/>
<text x="125.6" y="497.2" font-size="8.15" text-anchor="end">Cell adhesion</text>
<line x1="185.4" y1="515.4" x2="206.5" y2="515.4" stroke="#7f7f7f" stroke-width="0.8"/>
<line x1="185.4" y1="513.2" x2="185.4" y2="517.6" stroke="#7f7f7f" stroke-width="0.6"/>
<circle cx="206.5" cy="515.4" r="7.6" fill="#e8292b"/>
<text x="125.6" y="517.7" font-size="8.15" text-anchor="end">Cell Motility</text>
<line x1="185.4" y1="536.2" x2="205" y2="536.2" stroke="#7f7f7f" stroke-width="0.8"/>
<line x1="185.4" y1="534" x2="185.4" y2="538.4" stroke="#7f7f7f" stroke-width="0.6"/>
<circle cx="205" cy="536.2" r="7.6" fill="#e8292b"/>
<text x="125.6" y="538.5" font-size="8.15" text-anchor="end">Neurogenesis</text>
<line x1="185.4" y1="554.2" x2="164.5" y2="554.2" stroke="#7f7f7f" stroke-width="0.8"/>
<line x1="185.4" y1="552" x2="185.4" y2="556.4" stroke="#7f7f7f" stroke-width="0.6"/>
<circle cx="164.5" cy="554.2" r="5.7" fill="#3a54a6"/>
<text x="125.6" y="556.5" font-size="8.15" text-anchor="end">Hematopoiesis late progenitor</text>
<line x1="185.4" y1="569" x2="164.3" y2="569" stroke="#b8b8b8" stroke-width="0.8"/>
<line x1="185.4" y1="566.8" x2="185.4" y2="571.2" stroke="#7f7f7f" stroke-width="0.6"/>
<circle cx="164.3" cy="569" r="3.3" fill="#4d5cae"/>
<text x="125.6" y="571.3" font-size="8.15" text-anchor="end">Myeloid cell differentiation</text>
<line x1="185.4" y1="582.1" x2="158.5" y2="582.1" stroke="#7f7f7f" stroke-width="0.8"/>
<line x1="185.4" y1="579.9" x2="185.4" y2="584.3" stroke="#7f7f7f" stroke-width="0.6"/>
<circle cx="158.5" cy="582.1" r="3.4" fill="#6b62b6"/>
<text x="125.6" y="584.4" font-size="8.15" text-anchor="end">Myeloid cell development</text>
<line x1="185.4" y1="595.2" x2="158.3" y2="595.2" stroke="#7f7f7f" stroke-width="0.8"/>
<line x1="185.4" y1="593" x2="185.4" y2="597.4" stroke="#7f7f7f" stroke-width="0.6"/>
<circle cx="158.3" cy="595.2" r="3.4" fill="#3a54a6"/>
<text x="125.6" y="597.5" font-size="8.15" text-anchor="end">Hematopoiesis early progenitor</text>
<line x1="185.4" y1="609.4" x2="157.7" y2="609.4" stroke="#7f7f7f" stroke-width="0.8"/>
<line x1="185.4" y1="607.2" x2="185.4" y2="611.6" stroke="#7f7f7f" stroke-width="0.6"/>
<circle cx="157.7" cy="609.4" r="5.5" fill="#3a54a6"/>
<text x="125.6" y="611.7" font-size="8.15" text-anchor="end">Mitotic cell cycle</text>
<line x1="185.4" y1="627.7" x2="157.3" y2="627.7" stroke="#7f7f7f" stroke-width="0.8"/>
<line x1="185.4" y1="625.5" x2="185.4" y2="629.9" stroke="#7f7f7f" stroke-width="0.6"/>
<circle cx="157.3" cy="627.7" r="3.4" fill="#3a54a6"/>
<text x="125.6" y="625.1" font-size="8.15" text-anchor="end">Hematopoiesis</text>
<text x="125.6" y="634.7" font-size="8.15" text-anchor="end">intermediate progenitor</text>
<line x1="185.4" y1="647.9" x2="156.4" y2="647.9" stroke="#b8b8b8" stroke-width="0.8"/>
<line x1="185.4" y1="645.7" x2="185.4" y2="650.1" stroke="#7f7f7f" stroke-width="0.6"/>
<circle cx="156.4" cy="647.9" r="7.6" fill="#3a54a6"/>
<text x="125.6" y="650.2" font-size="8.15" text-anchor="end">Cell cycle</text>
<line x1="185.4" y1="665.2" x2="155" y2="665.2" stroke="#7f7f7f" stroke-width="0.8"/>
<line x1="185.4" y1="663" x2="185.4" y2="667.4" stroke="#7f7f7f" stroke-width="0.6"/>
<circle cx="155" cy="665.2" r="5.4" fill="#3a54a6"/>
<text x="125.6" y="667.5" font-size="8.15" text-anchor="end">Chromosome organization</text>
<line x1="185.4" y1="680.4" x2="152.6" y2="680.4" stroke="#7f7f7f" stroke-width="0.8"/>
<line x1="185.4" y1="678.2" x2="185.4" y2="682.6" stroke="#7f7f7f" stroke-width="0.6"/>
<circle cx="152.6" cy="680.4" r="3.4" fill="#3a54a6"/>
<text x="125.6" y="682.7" font-size="8.15" text-anchor="end">G2M checkpoint</text>
<line x1="185.4" y1="692.1" x2="150.9" y2="692.1" stroke="#b8b8b8" stroke-width="0.8"/>
<line x1="185.4" y1="689.9" x2="185.4" y2="694.3" stroke="#7f7f7f" stroke-width="0.6"/>
<circle cx="150.9" cy="692.1" r="3.4" fill="#3a54a6"/>
<text x="125.6" y="694.4" font-size="8.15" text-anchor="end">DNA repair</text>
<line x1="185.4" y1="708.8" x2="141.6" y2="708.8" stroke="#b8b8b8" stroke-width="0.8"/>
<line x1="185.4" y1="706.6" x2="185.4" y2="711" stroke="#7f7f7f" stroke-width="0.6"/>
<circle cx="141.6" cy="708.8" r="7.6" fill="#3a54a6"/>
<text x="125.6" y="711.1" font-size="8.15" text-anchor="end">RNA processing</text>
<line x1="185.4" y1="725.5" x2="137.2" y2="725.5" stroke="#7f7f7f" stroke-width="0.8"/>
<line x1="185.4" y1="723.3" x2="185.4" y2="727.7" stroke="#7f7f7f" stroke-width="0.6"/>
<circle cx="137.2" cy="725.5" r="3.4" fill="#3a54a6"/>
<text x="125.6" y="727.8" font-size="8.15" text-anchor="end">RNA splicing</text>
<line x1="185.4" y1="740" x2="137" y2="740" stroke="#7f7f7f" stroke-width="0.8"/>
<line x1="185.4" y1="737.8" x2="185.4" y2="742.2" stroke="#7f7f7f" stroke-width="0.6"/>
<circle cx="137" cy="740" r="5.6" fill="#3a54a6"/>
<text x="125.6" y="742.3" font-size="8.15" text-anchor="end">mRNA processing</text>
<text x="309.8" y="429.3" font-size="11.6" font-weight="bold" fill="#000">GS vs P</text>
<line x1="339.6" y1="434.6" x2="339.6" y2="749.7" stroke="#e6e6e6" stroke-width="0.8"/>
<line x1="354.3" y1="434.6" x2="354.3" y2="749.7" stroke="#e6e6e6" stroke-width="0.8"/>
<line x1="383.7" y1="434.6" x2="383.7" y2="749.7" stroke="#e6e6e6" stroke-width="0.8"/>
<line x1="398.4" y1="434.6" x2="398.4" y2="749.7" stroke="#e6e6e6" stroke-width="0.8"/>
<line x1="369" y1="434.6" x2="369" y2="749.7" stroke="#7a7a7a" stroke-width="0.8" stroke-dasharray="4,2.6"/>
<text x="342.4" y="760" font-size="8.2" text-anchor="middle" fill="#444">−2</text>
<text x="369" y="760" font-size="8.2" text-anchor="middle" fill="#444">0</text>
<text x="399.3" y="760" font-size="8.2" text-anchor="middle" fill="#444">2</text>
<text x="369.2" y="768.7" font-size="8.2" text-anchor="middle" fill="#444">NES</text>
<line x1="369" y1="450.4" x2="411.3" y2="450.4" stroke="#7f7f7f" stroke-width="0.8"/>
<line x1="369" y1="448.2" x2="369" y2="452.6" stroke="#7f7f7f" stroke-width="0.6"/>
<circle cx="411.3" cy="450.4" r="3.5" fill="#e8292b"/>
<text x="332.2" y="452.7" font-size="8.15" text-anchor="end">Eppert CE HSC LSC</text>
<line x1="369" y1="470.2" x2="399.8" y2="470.2" stroke="#b8b8b8" stroke-width="0.8"/>
<line x1="369" y1="468" x2="369" y2="472.4" stroke="#7f7f7f" stroke-width="0.6"/>
<circle cx="399.8" cy="470.2" r="3.5" fill="#e8292b"/>
<text x="332.2" y="472.5" font-size="8.15" text-anchor="end">Synapse assembly</text>
<line x1="369" y1="489.8" x2="397.2" y2="489.8" stroke="#b8b8b8" stroke-width="0.8"/>
<line x1="369" y1="487.6" x2="369" y2="492" stroke="#7f7f7f" stroke-width="0.6"/>
<circle cx="397.2" cy="489.8" r="3.5" fill="#ef6a4c"/>
<text x="332.2" y="492.1" font-size="8.15" text-anchor="end">EMT</text>
<line x1="369" y1="510.8" x2="393.2" y2="510.8" stroke="#b8b8b8" stroke-width="0.8"/>
<line x1="369" y1="508.6" x2="369" y2="513" stroke="#7f7f7f" stroke-width="0.6"/>
<circle cx="393.2" cy="510.8" r="5.4" fill="#e8292b"/>
<text x="332.2" y="513.1" font-size="8.15" text-anchor="end">Axon development</text>
<line x1="369" y1="532.8" x2="392" y2="532.8" stroke="#7f7f7f" stroke-width="0.8"/>
<line x1="369" y1="530.6" x2="369" y2="535" stroke="#7f7f7f" stroke-width="0.6"/>
<circle cx="392" cy="532.8" r="5.5" fill="#e8292b"/>
<text x="332.2" y="535.1" font-size="8.15" text-anchor="end">Cell Morphogenesis</text>
<line x1="369" y1="557.6" x2="388.2" y2="557.6" stroke="#b8b8b8" stroke-width="0.8"/>
<line x1="369" y1="555.4" x2="369" y2="559.8" stroke="#7f7f7f" stroke-width="0.6"/>
<circle cx="388.2" cy="557.6" r="7.6" fill="#f3805f"/>
<text x="332.2" y="559.9" font-size="8.15" text-anchor="end">Cell adhesion</text>
<line x1="369" y1="581" x2="346.8" y2="581" stroke="#7f7f7f" stroke-width="0.8"/>
<line x1="369" y1="578.8" x2="369" y2="583.2" stroke="#7f7f7f" stroke-width="0.6"/>
<circle cx="346.8" cy="581" r="3.5" fill="#7d6cbb"/>
<text x="332.2" y="583.3" font-size="8.15" text-anchor="end">HSC</text>
<line x1="369" y1="605.5" x2="345" y2="605.5" stroke="#b8b8b8" stroke-width="0.8"/>
<line x1="369" y1="603.3" x2="369" y2="607.7" stroke="#7f7f7f" stroke-width="0.6"/>
<circle cx="345" cy="605.5" r="7.6" fill="#3a54a6"/>
<text x="332.2" y="602.9" font-size="8.15" text-anchor="end">Regulation of immune</text>
<text x="332.2" y="612.5" font-size="8.15" text-anchor="end">system process</text>
<line x1="369" y1="631.2" x2="342.7" y2="631.2" stroke="#7f7f7f" stroke-width="0.8"/>
<line x1="369" y1="629" x2="369" y2="633.4" stroke="#7f7f7f" stroke-width="0.6"/>
<circle cx="342.7" cy="631.2" r="5.5" fill="#3a54a6"/>
<text x="332.2" y="633.5" font-size="8.15" text-anchor="end">Innate immune resopnse</text>
<line x1="369" y1="657.7" x2="341.5" y2="657.7" stroke="#b8b8b8" stroke-width="0.8"/>
<line x1="369" y1="655.5" x2="369" y2="659.9" stroke="#7f7f7f" stroke-width="0.6"/>
<circle cx="341.5" cy="657.7" r="3.5" fill="#3a54a6"/>
<text x="332.2" y="655.1" font-size="8.15" text-anchor="end">Regulation of myeloid</text>
<text x="332.2" y="664.7" font-size="8.15" text-anchor="end">cell differentiation</text>
<line x1="369" y1="687.5" x2="340.4" y2="687.5" stroke="#7f7f7f" stroke-width="0.8"/>
<line x1="369" y1="685.3" x2="369" y2="689.7" stroke="#7f7f7f" stroke-width="0.6"/>
<circle cx="340.4" cy="687.5" r="3.5" fill="#3a54a6"/>
<text x="332.2" y="684.9" font-size="8.15" text-anchor="end">Hematopoiesis</text>
<text x="332.2" y="694.5" font-size="8.15" text-anchor="end">intermediate progenitor</text>
<line x1="369" y1="716.7" x2="340.4" y2="716.7" stroke="#b8b8b8" stroke-width="0.8"/>
<line x1="369" y1="714.5" x2="369" y2="718.9" stroke="#7f7f7f" stroke-width="0.6"/>
<circle cx="340.4" cy="716.7" r="3.5" fill="#4d5cae"/>
<text x="332.2" y="714.1" font-size="8.15" text-anchor="end">Poistive regulation of</text>
<text x="332.2" y="723.7" font-size="8.15" text-anchor="end">myeloid cell differentiation</text>
<line x1="369" y1="741.5" x2="338.6" y2="741.5" stroke="#7f7f7f" stroke-width="0.8"/>
<line x1="369" y1="739.3" x2="369" y2="743.7" stroke="#7f7f7f" stroke-width="0.6"/>
<circle cx="338.6" cy="741.5" r="3.5" fill="#3a54a6"/>
<text x="332.2" y="743.8" font-size="8.15" text-anchor="end">Response to type I interferon</text>
<text x="535.7" y="429.3" font-size="11.6" font-weight="bold" fill="#000">GSA vs P</text>
<line x1="554.7" y1="434.6" x2="554.7" y2="749.7" stroke="#e6e6e6" stroke-width="0.8"/>
<line x1="570.7" y1="434.6" x2="570.7" y2="749.7" stroke="#e6e6e6" stroke-width="0.8"/>
<line x1="602.7" y1="434.6" x2="602.7" y2="749.7" stroke="#e6e6e6" stroke-width="0.8"/>
<line x1="618.7" y1="434.6" x2="618.7" y2="749.7" stroke="#e6e6e6" stroke-width="0.8"/>
<line x1="586.7" y1="434.6" x2="586.7" y2="749.7" stroke="#7a7a7a" stroke-width="0.8" stroke-dasharray="4,2.6"/>
<text x="556.2" y="760" font-size="8.2" text-anchor="middle" fill="#444">−2</text>
<text x="586.9" y="760" font-size="8.2" text-anchor="middle" fill="#444">0</text>
<text x="618.7" y="760" font-size="8.2" text-anchor="middle" fill="#444">2</text>
<text x="586.9" y="768.7" font-size="8.2" text-anchor="middle" fill="#444">NES</text>
<line x1="586.7" y1="438.5" x2="631.1" y2="438.5" stroke="#7f7f7f" stroke-width="0.8"/>
<line x1="586.7" y1="436.3" x2="586.7" y2="440.7" stroke="#7f7f7f" stroke-width="0.6"/>
<circle cx="631.1" cy="438.5" r="3.5" fill="#e8292b"/>
<text x="535" y="440.8" font-size="8.15" text-anchor="end">Eppert CE HSC LSC</text>
<line x1="586.7" y1="452.7" x2="620.5" y2="452.7" stroke="#7f7f7f" stroke-width="0.8"/>
<line x1="586.7" y1="450.5" x2="586.7" y2="454.9" stroke="#7f7f7f" stroke-width="0.6"/>
<circle cx="620.5" cy="452.7" r="3.5" fill="#e8292b"/>
<text x="535" y="455" font-size="8.15" text-anchor="end">Synapse assembly</text>
<line x1="586.7" y1="467.4" x2="614.5" y2="467.4" stroke="#7f7f7f" stroke-width="0.8"/>
<line x1="586.7" y1="465.2" x2="586.7" y2="469.6" stroke="#7f7f7f" stroke-width="0.6"/>
<circle cx="614.5" cy="467.4" r="3.5" fill="#ec4a36"/>
<text x="535" y="469.7" font-size="8.15" text-anchor="end">EMT</text>
<line x1="586.7" y1="482.5" x2="611.6" y2="482.5" stroke="#7f7f7f" stroke-width="0.8"/>
<line x1="586.7" y1="480.3" x2="586.7" y2="484.7" stroke="#7f7f7f" stroke-width="0.6"/>
<circle cx="611.6" cy="482.5" r="5.5" fill="#e8292b"/>
<text x="535" y="484.8" font-size="8.15" text-anchor="end">Axon development</text>
<line x1="586.7" y1="496.6" x2="611" y2="496.6" stroke="#7f7f7f" stroke-width="0.8"/>
<line x1="586.7" y1="494.4" x2="586.7" y2="498.8" stroke="#7f7f7f" stroke-width="0.6"/>
<circle cx="611" cy="496.6" r="5.5" fill="#e8292b"/>
<text x="535" y="498.9" font-size="8.15" text-anchor="end">Heart development</text>
<line x1="586.7" y1="510.8" x2="609.8" y2="510.8" stroke="#b8b8b8" stroke-width="0.8"/>
<line x1="586.7" y1="508.6" x2="586.7" y2="513" stroke="#7f7f7f" stroke-width="0.6"/>
<circle cx="609.8" cy="510.8" r="5.5" fill="#e8292b"/>
<text x="535" y="513.1" font-size="8.15" text-anchor="end">Cell morphogenesis</text>
<line x1="586.7" y1="527.3" x2="607.9" y2="527.3" stroke="#7f7f7f" stroke-width="0.8"/>
<line x1="586.7" y1="525.1" x2="586.7" y2="529.5" stroke="#7f7f7f" stroke-width="0.6"/>
<circle cx="607.9" cy="527.3" r="7.6" fill="#e8292b"/>
<text x="535" y="529.6" font-size="8.15" text-anchor="end">Cell adhesion</text>
<line x1="586.7" y1="545.4" x2="606.4" y2="545.4" stroke="#7f7f7f" stroke-width="0.8"/>
<line x1="586.7" y1="543.2" x2="586.7" y2="547.6" stroke="#7f7f7f" stroke-width="0.6"/>
<circle cx="606.4" cy="545.4" r="7.6" fill="#ef6a4c"/>
<text x="535" y="547.7" font-size="8.15" text-anchor="end">Neurogenesis</text>
<line x1="586.7" y1="563.2" x2="606.4" y2="563.2" stroke="#7f7f7f" stroke-width="0.8"/>
<line x1="586.7" y1="561" x2="586.7" y2="565.4" stroke="#7f7f7f" stroke-width="0.6"/>
<circle cx="606.4" cy="563.2" r="7.6" fill="#ef6a4c"/>
<text x="535" y="565.5" font-size="8.15" text-anchor="end">Cell motility</text>
<line x1="586.7" y1="578.6" x2="566.4" y2="578.6" stroke="#7f7f7f" stroke-width="0.8"/>
<line x1="586.7" y1="576.4" x2="586.7" y2="580.8" stroke="#7f7f7f" stroke-width="0.6"/>
<circle cx="566.4" cy="578.6" r="5.5" fill="#8c7cc2"/>
<text x="535" y="580.9" font-size="8.15" text-anchor="end">Inflammatory response</text>
<line x1="586.7" y1="594.7" x2="560.6" y2="594.7" stroke="#7f7f7f" stroke-width="0.8"/>
<line x1="586.7" y1="592.5" x2="586.7" y2="596.9" stroke="#7f7f7f" stroke-width="0.6"/>
<circle cx="560.6" cy="594.7" r="7.6" fill="#3a54a6"/>
<text x="535" y="597" font-size="8.15" text-anchor="end">Regulation of cell differentiation</text>
<line x1="586.7" y1="610.8" x2="556.8" y2="610.8" stroke="#7f7f7f" stroke-width="0.8"/>
<line x1="586.7" y1="608.6" x2="586.7" y2="613" stroke="#7f7f7f" stroke-width="0.6"/>
<circle cx="556.8" cy="610.8" r="5.5" fill="#3a54a6"/>
<text x="535" y="613.1" font-size="8.15" text-anchor="end">Innate immune response</text>
<line x1="586.7" y1="625.4" x2="556.2" y2="625.4" stroke="#7f7f7f" stroke-width="0.8"/>
<line x1="586.7" y1="623.2" x2="586.7" y2="627.6" stroke="#7f7f7f" stroke-width="0.6"/>
<circle cx="556.2" cy="625.4" r="3.5" fill="#3a54a6"/>
<text x="535" y="627.7" font-size="8.15" text-anchor="end">Hematopoiesis mature cell</text>
<line x1="586.7" y1="639.3" x2="556.2" y2="639.3" stroke="#7f7f7f" stroke-width="0.8"/>
<line x1="586.7" y1="637.1" x2="586.7" y2="641.5" stroke="#7f7f7f" stroke-width="0.6"/>
<circle cx="556.2" cy="639.3" r="3.5" fill="#3a54a6"/>
<text x="535" y="641.6" font-size="8.15" text-anchor="end">Myeloid cell differentiation</text>
<line x1="586.7" y1="653.4" x2="556.2" y2="653.4" stroke="#7f7f7f" stroke-width="0.8"/>
<line x1="586.7" y1="651.2" x2="586.7" y2="655.6" stroke="#7f7f7f" stroke-width="0.6"/>
<circle cx="556.2" cy="653.4" r="5.5" fill="#3a54a6"/>
<text x="535" y="655.7" font-size="8.15" text-anchor="end">Hematopoiesis late progenitor</text>
<line x1="586.7" y1="667.4" x2="555.3" y2="667.4" stroke="#7f7f7f" stroke-width="0.8"/>
<line x1="586.7" y1="665.2" x2="586.7" y2="669.6" stroke="#7f7f7f" stroke-width="0.6"/>
<circle cx="555.3" cy="667.4" r="3.5" fill="#6b62b6"/>
<text x="535" y="669.7" font-size="8.15" text-anchor="end">Myeloid cell development</text>
<line x1="586.7" y1="682" x2="553.9" y2="682" stroke="#b8b8b8" stroke-width="0.8"/>
<line x1="586.7" y1="679.8" x2="586.7" y2="684.2" stroke="#7f7f7f" stroke-width="0.6"/>
<circle cx="553.9" cy="682" r="3.5" fill="#3a54a6"/>
<text x="535" y="684.3" font-size="8.15" text-anchor="end">Hematopoiesis early progenitor</text>
<line x1="586.7" y1="700.1" x2="551.5" y2="700.1" stroke="#b8b8b8" stroke-width="0.8"/>
<line x1="586.7" y1="697.9" x2="586.7" y2="702.3" stroke="#7f7f7f" stroke-width="0.6"/>
<circle cx="551.5" cy="700.1" r="3.5" fill="#3a54a6"/>
<text x="535" y="697.5" font-size="8.15" text-anchor="end">Regulation of mitotic cell</text>
<text x="535" y="707.1" font-size="8.15" text-anchor="end">cycle phase transition</text>
<line x1="586.7" y1="718.2" x2="550.4" y2="718.2" stroke="#7f7f7f" stroke-width="0.8"/>
<line x1="586.7" y1="716" x2="586.7" y2="720.4" stroke="#7f7f7f" stroke-width="0.6"/>
<circle cx="550.4" cy="718.2" r="3.5" fill="#3a54a6"/>
<text x="535" y="720.5" font-size="8.15" text-anchor="end">G2M Checkpoint</text>
<line x1="586.7" y1="732.2" x2="546.6" y2="732.2" stroke="#7f7f7f" stroke-width="0.8"/>
<line x1="586.7" y1="730" x2="586.7" y2="734.4" stroke="#7f7f7f" stroke-width="0.6"/>
<circle cx="546.6" cy="732.2" r="3.5" fill="#3a54a6"/>
<text x="535" y="734.5" font-size="8.15" text-anchor="end">Disease of mitotic cell cycle</text>
<line x1="586.7" y1="746.2" x2="542.8" y2="746.2" stroke="#7f7f7f" stroke-width="0.8"/>
<line x1="586.7" y1="744" x2="586.7" y2="748.4" stroke="#7f7f7f" stroke-width="0.6"/>
<circle cx="542.8" cy="746.2" r="3.5" fill="#3a54a6"/>
<text x="535" y="748.5" font-size="8.15" text-anchor="end">DNA repair</text>
<text x="630.1" y="568.6" font-size="7.7">log10(p-adj)</text>
<defs><linearGradient id="cbar" x1="0" y1="0" x2="0" y2="1"><stop offset="0" style="stop-color:#e8282a"/><stop offset="0.25" style="stop-color:#f07a6a"/><stop offset="0.52" style="stop-color:#ffffff"/><stop offset="0.75" style="stop-color:#8a82c4"/><stop offset="1" style="stop-color:#3a53a6"/></linearGradient></defs>
<rect x="636.9" y="575" width="9.8" height="48.5" fill="url(#cbar)"/>
<line x1="636.9" y1="574.8" x2="638.6" y2="574.8" stroke="#fff" stroke-width="0.5"/>
<line x1="645" y1="574.8" x2="646.7" y2="574.8" stroke="#fff" stroke-width="0.5"/>
<text x="649.6" y="577.6" font-size="7.9">3</text>
<line x1="636.9" y1="582.8" x2="638.6" y2="582.8" stroke="#fff" stroke-width="0.5"/>
<line x1="645" y1="582.8" x2="646.7" y2="582.8" stroke="#fff" stroke-width="0.5"/>
<text x="649.6" y="585.6" font-size="7.9">2</text>
<line x1="636.9" y1="590.8" x2="638.6" y2="590.8" stroke="#fff" stroke-width="0.5"/>
<line x1="645" y1="590.8" x2="646.7" y2="590.8" stroke="#fff" stroke-width="0.5"/>
<text x="649.6" y="593.6" font-size="7.9">1</text>
<line x1="636.9" y1="598.8" x2="638.6" y2="598.8" stroke="#fff" stroke-width="0.5"/>
<line x1="645" y1="598.8" x2="646.7" y2="598.8" stroke="#fff" stroke-width="0.5"/>
<text x="649.6" y="601.6" font-size="7.9">0</text>
<line x1="636.9" y1="606.8" x2="638.6" y2="606.8" stroke="#fff" stroke-width="0.5"/>
<line x1="645" y1="606.8" x2="646.7" y2="606.8" stroke="#fff" stroke-width="0.5"/>
<text x="649.6" y="609.6" font-size="7.9">−1</text>
<line x1="636.9" y1="614.8" x2="638.6" y2="614.8" stroke="#fff" stroke-width="0.5"/>
<line x1="645" y1="614.8" x2="646.7" y2="614.8" stroke="#fff" stroke-width="0.5"/>
<text x="649.6" y="617.6" font-size="7.9">−2</text>
<line x1="636.9" y1="622.8" x2="638.6" y2="622.8" stroke="#fff" stroke-width="0.5"/>
<line x1="645" y1="622.8" x2="646.7" y2="622.8" stroke="#fff" stroke-width="0.5"/>
<text x="649.6" y="625.6" font-size="7.9">−3</text>
<text x="630.1" y="635.8" font-size="8.0">Genes in set</text>
<circle cx="642.3" cy="643.2" r="3.3" fill="#bdbdbd"/>
<text x="651.6" y="646" font-size="7.6">0−500</text>
<circle cx="642.3" cy="658" r="5.4" fill="#bdbdbd"/>
<text x="651.6" y="660.8" font-size="7.6">500−1000</text>
<circle cx="642.3" cy="676" r="7.6" fill="#bdbdbd"/>
<text x="651.6" y="678.8" font-size="7.6">&gt;1000</text>
<text x="1.2" y="792.9" font-size="18.5" font-weight="bold" fill="#000">E</text>
<clipPath id="cv1"><rect x="31.2" y="803.2" width="192.7" height="135.2"/></clipPath>
<text x="127.3" y="800" font-size="11.6" font-weight="bold" text-anchor="middle" fill="#000">GA vs P</text>
<text x="27.2" y="811.7" font-size="10.4" text-anchor="end" fill="#222">30</text>
<text x="27.2" y="852.5" font-size="10.4" text-anchor="end" fill="#222">20</text>
<text x="27.2" y="893.7" font-size="10.4" text-anchor="end" fill="#222">10</text>
<text x="27.2" y="934.3" font-size="10.4" text-anchor="end" fill="#222">0</text>
<text x="75.4" y="948.2" font-size="10.4" text-anchor="middle" fill="#222">−5</text>
<text x="127.3" y="948.2" font-size="10.4" text-anchor="middle" fill="#222">0</text>
<text x="183.5" y="948.2" font-size="10.4" text-anchor="middle" fill="#222">5</text>
<text x="127.8" y="957.6" font-size="10.35" text-anchor="middle" fill="#222">log2(Fold Change)</text>
<text transform="translate(12.2,872.2) rotate(-90)" font-size="10.6" text-anchor="middle" fill="#222">−log10(pvalue)</text>
<g clip-path="url(#cv1)">
<path d="M86 922 Q104.7 935 127.6 933.5 Q152 935 172 922 Z" fill="#d4d4d4"/>
<polygon points="119.9,923 119.9,904 134.3,908 134.3,923" fill="#d4d4d4"/>
<polygon points="124,903 131.2,906 128.4,926.5 127.6,931 126.8,926.5" fill="#fff"/>
<polygon points="84,918.5 90,915.5 97,913 104,910 110,906 115,902 119,899.5 121.9,898.5 121.9,922.6 84,922.6" fill="#9b5de5"/>
<path d="M92.5 891.6h0M120.2 885.6h0M112.8 892.8h0M78 919h0M110.1 904h0M102.6 907.4h0M103.4 901.2h0M121.2 897.7h0M113.5 891.5h0M95.3 914.3h0M99.9 904.6h0M101.1 911.5h0M109 905.8h0M117 901.1h0M104.1 908.5h0M121.3 899.3h0M116.7 899.2h0M94.4 914h0M99.8 897.4h0M122 914.1h0M88.4 913.6h0M106.6 907.7h0M121.4 899.6h0M88.3 916.5h0M85.4 918.9h0M88.5 914.9h0M119.3 896.2h0M105.5 907.9h0M85.5 914.3h0M110 906.9h0M106.6 908.4h0M108.4 906h0M84.5 918.8h0M112.9 900.6h0M81.8 917.9h0M90.3 916.9h0M91.2 911.6h0M117.5 899.8h0M99.9 912.8h0M108.2 906.5h0M94.5 913.5h0M114 880.7h0M84.1 916.4h0M82.7 906.1h0M83.6 918.4h0M97.8 909.1h0M94.9 908.9h0M92.4 912h0M93.7 912.4h0M84.3 917.2h0M82.9 917.5h0M96.4 901h0M84.9 915h0M104.8 905h0M111.5 903.7h0M118.7 894.6h0M81.3 916.4h0M119.2 893.2h0M107.6 902.3h0M109.2 904.5h0M99.6 908.8h0M78.9 917.8h0M96.8 909.6h0M106.7 906.7h0M103.3 910.2h0M120.9 893.8h0M108.8 900.3h0M79.2 919.2h0M97.3 911.3h0M100.8 906.9h0M110.8 899.7h0M95.9 903.6h0M113.7 885.1h0M78.6 919.7h0M115.9 885.6h0M107.4 906.9h0M116.4 898.3h0M108.6 907.2h0M82.7 908.3h0M94.7 914.8h0M91.1 902.1h0M87.7 909.9h0M91.8 899.1h0M93 898.1h0M100.3 913h0M95.4 911.8h0M84.7 919.1h0M102.6 904.3h0M110.2 905h0M85.9 915.4h0M109.7 906.3h0M117 879.4h0M92.9 915h0M102.3 911.2h0M117.4 896.6h0M96.2 903.2h0M112.1 897.7h0M82.4 919h0M115.9 901.2h0M82.8 919.1h0M107 906.7h0M83.4 904.3h0M108.5 903.5h0M81.2 915.4h0M119.6 896.9h0M120.7 899.7h0M90.4 914.8h0M108.1 906h0M106.8 909.3h0M107.6 901.5h0M86.2 917.8h0M96.1 911h0M98.8 895.7h0M84 914h0M100.6 907.1h0M90.6 908.2h0M114.2 904h0M93.3 915.8h0M104.1 903.1h0M95.8 893.4h0M112.1 899.3h0M82.9 911.6h0M98.9 912.1h0M78 918.5h0M82.6 913.6h0M103.4 911.7h0M118.5 898.3h0M104.8 909.1h0M93.1 915.2h0M112.3 904.6h0M103.7 903.4h0M121.2 900.1h0M109.2 905.7h0M78.6 917.8h0M97.9 912.9h0M84.4 919h0M99.8 913.1h0M117.8 895.1h0M119.1 893.2h0M114.1 891.8h0M111.6 898.2h0M97.8 903.2h0M116 896.2h0M119.4 891.1h0M87.1 894.1h0M87.6 916.9h0M108.1 885.8h0M109.9 906.4h0M92.9 913.3h0M111.1 905.9h0M111.2 905h0M79.3 909.1h0M112.5 894.5h0M101 899.1h0M105.1 907h0M111.4 897.3h0M106.5 907.2h0M101.1 911.7h0M96 908h0M110.6 902.6h0M99.3 901.7h0M102.3 907.6h0M83.6 908.4h0M121.4 891.6h0M80.1 919.9h0M106.4 908.8h0M102 894.5h0M109.5 905.2h0M113.9 901.3h0M111 905.2h0" stroke="#9b5de5" stroke-width="1.8" stroke-linecap="round"/>
<polygon points="133.2,904 137,899.5 142,897.5 150,898.5 158,901.5 166,905 174,909 181,913 184,917 184.5,921.5 184.5,922.5 133.2,922.5" fill="#4e8c5e"/>
<path d="M185.9 920.9h0M148.8 896.5h0M146.4 893.7h0M146.7 895.4h0M178.4 908.6h0M147.8 892.5h0M168.9 902.1h0M159 900.1h0M183.2 914.6h0M157.5 879.1h0M179.5 912.9h0M180.7 910.3h0M174.9 906.6h0M152.6 898.8h0M163.5 889h0M144.7 898.2h0M181.1 910.8h0M156.5 897.2h0M158.9 903h0M165.9 903.1h0M176.2 910.1h0M140.8 893.3h0M191.5 914.2h0M184.5 908.9h0M188.2 921.1h0M183.6 903.1h0M167.3 904.4h0M187.7 919.4h0M145.2 890h0M150.5 881.6h0M160.8 892.5h0M140.7 899.3h0M158.3 890.8h0M173.9 910.1h0M187.2 918.8h0M172.8 890.4h0M147.3 892.1h0M154.1 901.3h0M144.5 892.9h0M144.1 891.1h0M154.5 900.9h0M171.5 902.9h0M174.2 908.5h0M157.8 896.9h0M146.8 875.7h0M167.6 904.6h0M188.7 912.5h0M172.4 906.5h0M152.4 890.7h0M178.9 908.2h0M179.9 905.1h0M176.3 910.2h0M139.1 892.2h0M183.5 910.5h0M153.7 900.8h0M145.7 893.9h0M134.9 888.9h0M143 891h0M165.1 904.8h0M140 893.9h0M138 894h0M157.1 899.7h0M190 910.3h0M186.2 913.1h0M164.7 901.7h0M175.5 906h0M176.6 904.5h0M140.8 885.3h0M161.1 902.2h0M167.6 902.5h0M149.1 897.7h0M170 898.1h0M166.4 898.5h0M153.6 891.3h0M192 917.6h0M173.5 904.8h0M190.4 919h0M144.4 898.5h0M161.5 890.6h0M137.9 896.8h0M150.3 876h0M153.7 889.4h0M183 915.8h0M169.3 893.9h0M155.3 896.2h0M180.9 912.2h0M147.1 885.5h0M177.6 905.6h0M153.5 899.1h0M159.6 901.5h0M151.7 885.8h0M168.7 884h0M178.3 911h0M135.4 897.3h0M157.6 899.2h0M187.2 902.8h0M155.9 900h0M154.4 871.5h0M166.5 906.7h0M172.3 909.2h0M141 892.5h0M165.6 894.7h0M138 873.6h0M144.3 884.4h0M164.6 890h0M168.3 907.2h0M165.4 886.5h0M167.4 906.2h0M190 910.7h0M186.8 910.7h0M161.5 900.6h0M186.8 900.8h0M164.9 905.6h0M174.5 907.1h0M158.2 901.3h0M133.3 903.5h0M161 893.6h0M176.9 878.2h0M165.6 905.8h0M166.1 903.8h0M137.9 882.9h0M149 894.4h0M155.1 901.6h0M155.1 900.6h0M163.1 895.8h0M138.8 898h0M165.2 892.3h0M163.7 891.8h0M186.7 920.1h0M168.4 893.3h0M155.5 898.3h0M185.2 917.5h0M136.2 898.5h0M169.6 900.5h0M168.8 904.1h0M186.3 917.9h0M145.4 896.6h0M191.7 920.5h0M170.7 907.4h0M179.3 912.1h0M155.8 894.7h0M137 895.3h0M150.3 892.6h0M169.2 903.3h0M162 900.1h0M191.4 911.5h0M151.7 899.3h0M164.8 900.1h0M135.7 901.5h0M164.8 904.1h0M176.9 911.9h0M169.6 890.3h0M183.2 905.6h0M165.9 905.2h0M186.8 920.4h0M137.3 897.5h0M134 902.5h0M146.5 899.3h0M152.9 886.8h0M141.2 883.4h0M175.6 905.7h0M149.2 899.1h0M161 904.3h0M179.8 913.1h0M140.7 893.4h0M135.6 894.2h0M153.1 900.8h0M139.2 892.9h0M187.6 916.1h0" stroke="#4e8c5e" stroke-width="1.8" stroke-linecap="round"/>
</g>
<line x1="121.4" y1="803.2" x2="121.4" y2="938.4" stroke="#a0a0a0" stroke-width="0.7" stroke-dasharray="3.2,2.2"/>
<line x1="132.8" y1="803.2" x2="132.8" y2="938.4" stroke="#a0a0a0" stroke-width="0.7" stroke-dasharray="3.2,2.2"/>
<line x1="31.2" y1="922" x2="223.9" y2="922" stroke="#a0a0a0" stroke-width="0.7" stroke-dasharray="3.2,2.2"/>
<line x1="86.3" y1="814.6" x2="119.5" y2="910" stroke="#151515" stroke-width="0.6"/>
<line x1="77.7" y1="819.4" x2="117.5" y2="908" stroke="#151515" stroke-width="0.6"/>
<line x1="58.4" y1="827" x2="116" y2="912" stroke="#151515" stroke-width="0.6"/>
<line x1="54.9" y1="835.7" x2="115" y2="913" stroke="#151515" stroke-width="0.6"/>
<line x1="62.8" y1="848" x2="117" y2="914" stroke="#151515" stroke-width="0.6"/>
<line x1="59.3" y1="855.9" x2="118" y2="915" stroke="#151515" stroke-width="0.6"/>
<line x1="56.3" y1="862.5" x2="117" y2="916" stroke="#151515" stroke-width="0.6"/>
<line x1="56.6" y1="873.9" x2="116" y2="917" stroke="#151515" stroke-width="0.6"/>
<line x1="68.9" y1="888.6" x2="118" y2="916" stroke="#151515" stroke-width="0.6"/>
<line x1="59.3" y1="898.2" x2="119" y2="917" stroke="#151515" stroke-width="0.6"/>
<line x1="60.2" y1="909.1" x2="120" y2="918" stroke="#151515" stroke-width="0.6"/>
<line x1="60.5" y1="917" x2="121" y2="919" stroke="#151515" stroke-width="0.6"/>
<line x1="59.3" y1="921.7" x2="121" y2="920" stroke="#151515" stroke-width="0.6"/>
<line x1="94.4" y1="928.2" x2="121" y2="921" stroke="#151515" stroke-width="0.6"/>
<line x1="103.2" y1="820.7" x2="120.5" y2="910" stroke="#151515" stroke-width="0.6"/>
<line x1="103.9" y1="833" x2="120" y2="912" stroke="#151515" stroke-width="0.6"/>
<line x1="91.6" y1="850.5" x2="119" y2="913" stroke="#151515" stroke-width="0.6"/>
<line x1="144.1" y1="813.1" x2="137" y2="915" stroke="#151515" stroke-width="0.6"/>
<line x1="170.7" y1="811.5" x2="140" y2="914" stroke="#151515" stroke-width="0.6"/>
<line x1="169.7" y1="819.6" x2="141" y2="913" stroke="#151515" stroke-width="0.6"/>
<line x1="173.3" y1="827.4" x2="143" y2="913" stroke="#151515" stroke-width="0.6"/>
<line x1="137" y1="829.8" x2="136" y2="916" stroke="#151515" stroke-width="0.6"/>
<line x1="178.2" y1="838.4" x2="145" y2="912" stroke="#151515" stroke-width="0.6"/>
<line x1="179.5" y1="847.2" x2="146" y2="913" stroke="#151515" stroke-width="0.6"/>
<line x1="188.5" y1="853" x2="148" y2="913" stroke="#151515" stroke-width="0.6"/>
<line x1="190.1" y1="869.1" x2="150" y2="911" stroke="#151515" stroke-width="0.6"/>
<line x1="196.1" y1="879.6" x2="153" y2="910" stroke="#151515" stroke-width="0.6"/>
<line x1="188.5" y1="895.9" x2="158" y2="912" stroke="#151515" stroke-width="0.6"/>
<text x="72.7" y="813.8" font-size="8.6" font-style="italic" textLength="15.8" lengthAdjust="spacingAndGlyphs">FOS</text>
<text x="55.7" y="822" font-size="8.6" font-style="italic" textLength="20.6" lengthAdjust="spacingAndGlyphs">EGR1</text>
<text x="34.7" y="829.6" font-size="8.6" font-style="italic" textLength="22.3" lengthAdjust="spacingAndGlyphs">GFI1B</text>
<text x="38.5" y="838.3" font-size="8.6" font-style="italic" textLength="15" lengthAdjust="spacingAndGlyphs">JUN</text>
<text x="36" y="850.6" font-size="8.6" font-style="italic" textLength="25.4" lengthAdjust="spacingAndGlyphs">RUNX1</text>
<text x="35" y="858.5" font-size="8.6" font-style="italic" textLength="22.9" lengthAdjust="spacingAndGlyphs">MEIS1</text>
<text x="31.9" y="865.1" font-size="8.6" font-style="italic" textLength="23" lengthAdjust="spacingAndGlyphs">MEIS2</text>
<text x="36" y="876.5" font-size="8.6" font-style="italic" textLength="19.2" lengthAdjust="spacingAndGlyphs">ETV6</text>
<text x="35" y="891.2" font-size="8.6" font-style="italic" textLength="32.5" lengthAdjust="spacingAndGlyphs">CREBBP</text>
<text x="45.9" y="900.8" font-size="8.6" font-style="italic" textLength="12" lengthAdjust="spacingAndGlyphs">SKI</text>
<text x="36.8" y="911.7" font-size="8.6" font-style="italic" textLength="22" lengthAdjust="spacingAndGlyphs">WNT3</text>
<text x="38.2" y="919.6" font-size="8.6" font-style="italic" textLength="20.9" lengthAdjust="spacingAndGlyphs">LMO2</text>
<text x="34.2" y="928.5" font-size="8.6" font-style="italic" textLength="26.3" lengthAdjust="spacingAndGlyphs">HOXB3</text>
<text x="63.9" y="935" font-size="8.6" font-style="italic" textLength="31.7" lengthAdjust="spacingAndGlyphs">NOTCH1</text>
<text x="101.2" y="819.9" font-size="8.6" font-style="italic" textLength="23.2" lengthAdjust="spacingAndGlyphs">STAT1</text>
<text x="78" y="832.2" font-size="8.6" font-style="italic" textLength="28.1" lengthAdjust="spacingAndGlyphs">ITGA2B</text>
<text x="72.7" y="849.7" font-size="8.6" font-style="italic" textLength="21.1" lengthAdjust="spacingAndGlyphs">FOSB</text>
<text x="142.1" y="812.3" font-size="8.6" font-style="italic" textLength="21.7" lengthAdjust="spacingAndGlyphs">WNT4</text>
<text x="168.7" y="810.7" font-size="8.6" font-style="italic" textLength="35" lengthAdjust="spacingAndGlyphs">RUNX1T1</text>
<text x="167.7" y="818.8" font-size="8.6" font-style="italic" textLength="19.6" lengthAdjust="spacingAndGlyphs">CUX1</text>
<text x="171.3" y="826.6" font-size="8.6" font-style="italic" textLength="19.1" lengthAdjust="spacingAndGlyphs">ETS1</text>
<text x="135" y="829" font-size="8.6" font-style="italic" textLength="11.4" lengthAdjust="spacingAndGlyphs">KIT</text>
<text x="176.2" y="837.6" font-size="8.6" font-style="italic" textLength="18.2" lengthAdjust="spacingAndGlyphs">KLF6</text>
<text x="177.5" y="846.4" font-size="8.6" font-style="italic" textLength="20.4" lengthAdjust="spacingAndGlyphs">CDK6</text>
<text x="189.1" y="855.6" font-size="8.6" font-style="italic" textLength="19.7" lengthAdjust="spacingAndGlyphs">CDK1</text>
<text x="188.1" y="868.3" font-size="8.6" font-style="italic" textLength="21.7" lengthAdjust="spacingAndGlyphs">ITGA9</text>
<text x="196.7" y="882.2" font-size="8.6" font-style="italic" textLength="18.8" lengthAdjust="spacingAndGlyphs">ETS1</text>
<text x="189.1" y="898.5" font-size="8.6" font-style="italic" textLength="29.3" lengthAdjust="spacingAndGlyphs">SETBP1</text>
<rect x="31.2" y="803.2" width="192.7" height="135.2" fill="none" stroke="#6e6e6e" stroke-width="0.8"/>
<clipPath id="cv2"><rect x="258" y="803.5" width="192.9" height="134.5"/></clipPath>
<text x="354.2" y="800" font-size="11.6" font-weight="bold" text-anchor="middle" fill="#000">GS vs P</text>
<text x="254" y="812" font-size="10.4" text-anchor="end" fill="#222">30</text>
<text x="254" y="853.4" font-size="10.4" text-anchor="end" fill="#222">20</text>
<text x="254" y="894.9" font-size="10.4" text-anchor="end" fill="#222">10</text>
<text x="254" y="934.4" font-size="10.4" text-anchor="end" fill="#222">0</text>
<text x="300.4" y="948.2" font-size="10.4" text-anchor="middle" fill="#222">−5</text>
<text x="352.8" y="948.2" font-size="10.4" text-anchor="middle" fill="#222">0</text>
<text x="408.2" y="948.2" font-size="10.4" text-anchor="middle" fill="#222">5</text>
<text x="353.5" y="957.6" font-size="10.35" text-anchor="middle" fill="#222">log2(Fold Change)</text>
<text transform="translate(239,875.8) rotate(-90)" font-size="10.6" text-anchor="middle" fill="#222">−log10(pvalue)</text>
<g clip-path="url(#cv2)">
<path d="M312 921.3 Q331.2 931.5 354.6 930 Q379.6 931.5 400 921.3 Z" fill="#d4d4d4"/>
<polygon points="347.2,922.3 347.2,902 361,906 361,922.3" fill="#d4d4d4"/>
<polygon points="351.3,901 357.9,904 355.4,923 354.6,927.5 353.8,923" fill="#fff"/>
<polygon points="313,921 318,917 326,913 334,909 341,905 346,901.5 348.5,899.5 348.5,922.2 313,922.2" fill="#9b5de5"/>
<path d="M289.8 884.1h0M311.6 913.8h0M324.8 889.9h0M298 920.1h0M287.2 919.6h0M291.1 916.2h0M341.4 906.1h0M326.6 890.4h0M331.9 909.8h0M294.8 921h0M347 887.7h0M336.7 898.4h0M348.2 896.4h0M287.6 915.4h0M336.7 908.9h0M339.8 902.9h0M286.7 899.8h0M323.9 902.2h0M313.1 917.4h0M286.6 911h0M293.6 913.9h0M329.3 882.7h0M312.3 908.6h0M289 914.5h0M348.1 880.5h0M338.7 906.3h0M314.1 914.9h0M305.1 917.1h0M322.5 903.7h0M328.5 896.8h0M335.8 905h0M326.5 899.5h0M289.8 914h0M293.9 906.6h0M327.6 906h0M342.8 896.1h0M286.1 913.1h0M335.3 900h0M333.6 910.1h0M329.2 910.4h0M294.7 903.1h0M346.3 898.5h0M346 892.2h0M328.9 895.8h0M338.6 907.2h0M324.8 905.9h0M326.9 909.7h0M346.5 900.4h0M338 906h0M291.4 899.2h0M287 907.7h0M304.7 901.4h0M313.9 909.9h0M338.3 896.5h0M344.8 900.1h0M321.4 914.1h0M286.9 916.2h0M285.9 907.9h0M289.5 899.4h0M322.4 915.6h0M333.4 908h0M310.5 881.6h0M288.7 910.4h0M311.1 917.6h0M344.7 901.5h0M324.9 907.6h0M306.6 910.7h0M291.4 920h0M285.2 917.5h0M311.1 919h0M337.1 901.3h0M341.3 898.5h0M299.8 910.6h0M307.3 912.7h0M330.6 910.6h0M343.1 897h0M315.8 919.7h0M298.1 914h0M322 906.9h0M309.3 922h0M340.6 898h0M339.2 894.2h0M326.5 910h0M331.2 904.2h0M320.3 912h0M329.4 890.3h0M343.5 877.8h0M289.1 916h0M298.5 920.2h0M288.3 902.7h0M321.3 901.9h0M343.9 902.9h0M301.3 917.3h0M333.3 903.7h0M302.4 915.9h0M323.6 903.1h0M339.6 906h0M306.1 912.1h0M304.8 912.3h0M320.9 914.7h0M316.9 918.9h0M329.1 897.8h0M294.3 906.5h0M331.2 910.2h0M325.8 909.5h0M287.5 918.5h0M312.1 909.6h0M310.8 919.3h0M314.3 910.2h0M290.3 920.1h0M322.8 915.3h0M292 895.4h0M324.3 914.1h0M332.9 910.3h0M338.3 904.7h0M325.9 914.1h0M294.7 912.4h0M318.2 916.2h0M307.7 915.5h0M294.5 916.8h0M291 918.4h0M299.5 903.4h0M303.7 905.1h0M340.1 900.8h0M334.3 907h0M327.8 903h0M288.1 914.9h0M325.7 890h0M323.2 910.4h0M340.2 902.6h0M291.3 895.4h0M326.4 895.1h0M329.6 898.7h0M341.3 873h0M314.2 905.1h0M321.1 912h0M305 918.3h0M294 909h0M337.7 906.8h0M324.2 913.9h0M306.6 902.6h0M344 901.7h0M292.7 897.9h0M299 907.8h0M292.7 919.1h0M293.3 917.2h0M317.1 911.4h0M315.4 884.8h0M344.4 899.9h0M337.9 891.6h0M315.5 893.5h0M337.2 902.7h0M326.5 912h0M304.8 910.6h0M286 913.8h0M289.8 911.7h0M305.1 920.2h0M291.7 915h0M310.1 915.7h0M295.3 921.1h0M341.1 885.4h0M306 894.8h0M312 916.8h0M289.4 920.9h0M337.5 908h0M290.9 918.3h0M311.6 889.6h0M315.8 915.7h0M305.6 912.2h0M302.4 915.3h0M300.3 912.6h0M319.6 901.5h0M321.4 911.8h0M341.7 903.6h0M335.7 892.6h0M329.9 906.9h0M311.7 899.6h0M286.2 919.5h0M305.9 905.8h0M291.7 911.8h0M325.7 907.3h0M345.3 891.8h0M336.2 899.1h0M338.5 903.7h0M301.6 918.9h0M331.7 908h0M332.6 906.6h0M326.4 909.1h0M288.4 916.5h0M306.8 905.7h0M320 914.9h0M347.8 897.1h0M287.7 899.6h0M293.3 910.1h0M325.2 870.2h0M321.1 910.6h0M324.3 885.1h0M316.7 918.3h0M342.1 895.9h0M319.9 917.4h0M332.7 895h0M321.7 901.2h0M330.2 910h0M348.6 915.7h0M340.3 868.6h0M292.1 904.7h0M337.1 908.2h0M286.1 913.5h0M341.8 900.6h0M339.3 904.5h0M312.2 914.9h0M294.3 918.7h0M347.2 882.5h0M325 903.6h0M299.8 921.1h0M334.9 903.3h0M342.3 903.2h0M291.4 891.1h0M348.4 883.2h0M291.2 914.9h0M306.6 909h0M300.5 907.4h0M309.5 909.7h0M317.4 890.7h0M286.3 916.8h0M314.4 910.5h0M285.4 917.3h0M330.1 904.2h0M287.2 913.5h0M287.4 921.8h0" stroke="#9b5de5" stroke-width="1.8" stroke-linecap="round"/>
<polygon points="359.7,898 363,894.5 368,893 373,894 378,896.5 385,903 391,909 395,914 396.5,918 396,921.5 396,922.2 359.7,922.2" fill="#4e8c5e"/>
<path d="M409.1 883.1h0M392.2 900.3h0M366.1 890.6h0M404.1 907.7h0M372.1 891.6h0M361.7 891.5h0M406.3 906.1h0M405.8 904.9h0M361.8 863.1h0M403.7 905h0M388 899.7h0M390.5 909.7h0M366.4 893.4h0M360.5 892.3h0M411.4 878.1h0M360.1 896.6h0M395.6 915.7h0M371.9 892.9h0M392.8 908.1h0M389.5 896h0M377.6 878h0M377.3 887.5h0M370.6 888.8h0M371.1 889.2h0M410.3 917.2h0M375.9 879.8h0M374.4 892.8h0M365.5 888.8h0M371.9 867h0M365.9 889.4h0M396.9 917.1h0M401.7 909.2h0M410 921.2h0M402.4 919h0M394.8 911.8h0M384.9 897.6h0M368.5 890.9h0M382.9 898.8h0M395.7 908.8h0M404.6 916.6h0M388.6 898.5h0M390 897.4h0M371.5 889.8h0M373.4 891.3h0M389.8 901.6h0M365.4 884.2h0M360.2 883.4h0M392.7 907.9h0M410.6 918.8h0M367.2 861.8h0M392.4 908.5h0M376.5 893.8h0M360 899.1h0M407.4 917.2h0M383.7 896.7h0M375.7 891.2h0M380.3 899.2h0M382 895.4h0M396.9 914.9h0M369.4 888.3h0M377.2 897.3h0M376.3 892.2h0M362.9 883.1h0M387.1 906.5h0M380.3 897.4h0M374.1 895.1h0M396.9 919.7h0M406.3 893.6h0M378 893h0M399.3 888.4h0M396.2 915.3h0M370.5 892.8h0M381.9 895.8h0M391.9 895h0M411 916.6h0M409.1 912.2h0M382.7 901.9h0M371.6 891.3h0M384.8 894h0M386 877.4h0M411.8 908.6h0M401.1 917h0M404 913h0M391 898.7h0M408.4 915.6h0M375.6 894.9h0M401.5 916.1h0M405.6 915.2h0M385.1 900.9h0M397 920.1h0M379.6 887.9h0M388.3 907.1h0M382.2 897.5h0M363.6 895.3h0M406.5 917.8h0M369.4 873.8h0M377.2 896.6h0M369.6 894.7h0M411.7 916h0M361.7 897.3h0M409.1 878.2h0M411.1 918.3h0M385.1 903h0M367.5 884.3h0M403.5 920.7h0M405.5 912.3h0M368 886.6h0M370.9 888.3h0M378.3 885.1h0M380.3 894.1h0M370.2 887.5h0M374.4 867.8h0M403.2 895.7h0M406.2 914.5h0M380.7 888.5h0M406.4 916.2h0M409 920.6h0M406.8 911.2h0M365.9 873.5h0M374.4 892.1h0M373.5 888.8h0M383.1 891.1h0M390.4 891.3h0M382.8 896.9h0M368.1 894.4h0M409.6 916.2h0M402.7 916.4h0M375.4 888h0M397.6 898.1h0M361.1 891h0M362.9 892.1h0M394.2 910.4h0M387 901.5h0M396.4 913h0M396.5 918.8h0M398.4 903.5h0M402.2 915.6h0M392.3 884.3h0M401.7 912.6h0M394.3 912.3h0M392 903.1h0M368 889h0M406.3 901.8h0M372.5 892.4h0M398.1 916h0M388 904.7h0M404.6 910.8h0M374.1 895.9h0M401.8 915.8h0M410.1 899.8h0M395.8 919.9h0M407.5 912.6h0M379.3 875.9h0M367.9 893.4h0M386.8 897.9h0M398.6 899.4h0M407.7 916h0M386.6 894.6h0M397.7 916h0M399.1 912.2h0M382.4 890.3h0M381.3 886.1h0M389.1 906.3h0M378.5 896h0M389.2 905.2h0M402.6 898.8h0M410.4 916.3h0M372.2 893.2h0M380.9 887.9h0M365.2 870.7h0M384.2 894.6h0M406.7 917.6h0M403.5 920.7h0M399.1 920.3h0M391.9 911.6h0M368.8 868.9h0M406.9 911.5h0M395.7 905.4h0M373.2 889.5h0M361.7 886.6h0M364.5 889.3h0M411.2 901.6h0M388.7 901.8h0M387.5 892.4h0M377.1 879.1h0M404.5 916.3h0M381.4 885.1h0M375.5 893.8h0M377.7 864.6h0M386.3 902.7h0M404.2 899.9h0M395.4 914h0M386.8 899.3h0M392.8 911.5h0M405 917.2h0M398.2 918.5h0M405.6 920h0M378.5 891.9h0M376.7 881.1h0M402.3 920.2h0M393.7 907.5h0M408.3 902h0M360.3 888.1h0M409.2 915.2h0M411.9 919.5h0M379.3 889.6h0M402.7 916.4h0M409.4 916.1h0M385.1 899.6h0M378.6 895.1h0M389.4 904.4h0M389.3 895.7h0M370 893.3h0M392.1 903h0M372.6 891.5h0M397.9 919.5h0M360.7 891h0M374.6 895.4h0M396.5 914.2h0M385.2 903h0" stroke="#4e8c5e" stroke-width="1.8" stroke-linecap="round"/>
</g>
<line x1="348.7" y1="803.5" x2="348.7" y2="938" stroke="#a0a0a0" stroke-width="0.7" stroke-dasharray="3.2,2.2"/>
<line x1="359.5" y1="803.5" x2="359.5" y2="938" stroke="#a0a0a0" stroke-width="0.7" stroke-dasharray="3.2,2.2"/>
<line x1="258" y1="921.3" x2="450.9" y2="921.3" stroke="#a0a0a0" stroke-width="0.7" stroke-dasharray="3.2,2.2"/>
<line x1="307.7" y1="819" x2="345" y2="912" stroke="#151515" stroke-width="0.6"/>
<line x1="342.5" y1="814.3" x2="347" y2="915" stroke="#151515" stroke-width="0.6"/>
<line x1="336.5" y1="827" x2="346" y2="914" stroke="#151515" stroke-width="0.6"/>
<line x1="298.1" y1="828.3" x2="344" y2="911" stroke="#151515" stroke-width="0.6"/>
<line x1="298.1" y1="846.2" x2="343" y2="914" stroke="#151515" stroke-width="0.6"/>
<line x1="297.2" y1="853.7" x2="345" y2="915" stroke="#151515" stroke-width="0.6"/>
<line x1="297.2" y1="863.1" x2="346" y2="916" stroke="#151515" stroke-width="0.6"/>
<line x1="288.7" y1="870.7" x2="344" y2="916" stroke="#151515" stroke-width="0.6"/>
<line x1="288.7" y1="878.2" x2="345" y2="917" stroke="#151515" stroke-width="0.6"/>
<line x1="290.6" y1="888.6" x2="346" y2="918" stroke="#151515" stroke-width="0.6"/>
<line x1="292.5" y1="898.9" x2="346" y2="918" stroke="#151515" stroke-width="0.6"/>
<line x1="296.2" y1="909.7" x2="345" y2="917" stroke="#151515" stroke-width="0.6"/>
<line x1="292.5" y1="917.8" x2="344" y2="917" stroke="#151515" stroke-width="0.6"/>
<line x1="288" y1="924.9" x2="330" y2="918" stroke="#151515" stroke-width="0.6"/>
<line x1="372.8" y1="811.5" x2="362" y2="908" stroke="#151515" stroke-width="0.6"/>
<line x1="401.3" y1="817.4" x2="364" y2="910" stroke="#151515" stroke-width="0.6"/>
<line x1="368" y1="822.6" x2="361" y2="912" stroke="#151515" stroke-width="0.6"/>
<line x1="422.8" y1="819.2" x2="365" y2="911" stroke="#151515" stroke-width="0.6"/>
<line x1="372.2" y1="833.9" x2="363" y2="910" stroke="#151515" stroke-width="0.6"/>
<line x1="400.7" y1="837.7" x2="364" y2="911" stroke="#151515" stroke-width="0.6"/>
<line x1="424.3" y1="833.4" x2="366" y2="910" stroke="#151515" stroke-width="0.6"/>
<line x1="426.2" y1="842.9" x2="366" y2="911" stroke="#151515" stroke-width="0.6"/>
<line x1="420.9" y1="852" x2="367" y2="912" stroke="#151515" stroke-width="0.6"/>
<line x1="420.9" y1="860.9" x2="366" y2="912" stroke="#151515" stroke-width="0.6"/>
<line x1="420.9" y1="869.4" x2="368" y2="912" stroke="#151515" stroke-width="0.6"/>
<line x1="413.9" y1="877" x2="367" y2="913" stroke="#151515" stroke-width="0.6"/>
<line x1="412.5" y1="885.2" x2="368" y2="913" stroke="#151515" stroke-width="0.6"/>
<line x1="415.2" y1="893.2" x2="369" y2="913" stroke="#151515" stroke-width="0.6"/>
<line x1="422.8" y1="902.7" x2="370" y2="912" stroke="#151515" stroke-width="0.6"/>
<line x1="412.5" y1="912.5" x2="369" y2="913" stroke="#151515" stroke-width="0.6"/>
<line x1="421.2" y1="917.8" x2="368" y2="914" stroke="#151515" stroke-width="0.6"/>
<line x1="415.9" y1="924.7" x2="367" y2="913" stroke="#151515" stroke-width="0.6"/>
<line x1="376" y1="929.8" x2="368" y2="913" stroke="#151515" stroke-width="0.6"/>
<text x="293.8" y="818.2" font-size="8.6" font-style="italic" textLength="16.1" lengthAdjust="spacingAndGlyphs">FOS</text>
<text x="322.6" y="813.5" font-size="8.6" font-style="italic" textLength="22.1" lengthAdjust="spacingAndGlyphs">GFI1B</text>
<text x="318.3" y="826.2" font-size="8.6" font-style="italic" textLength="20.4" lengthAdjust="spacingAndGlyphs">EGR1</text>
<text x="281.5" y="830.9" font-size="8.6" font-style="italic" textLength="15.2" lengthAdjust="spacingAndGlyphs">JUN</text>
<text x="268.7" y="848.8" font-size="8.6" font-style="italic" textLength="28" lengthAdjust="spacingAndGlyphs">ITGA2B</text>
<text x="274.4" y="856.3" font-size="8.6" font-style="italic" textLength="21.4" lengthAdjust="spacingAndGlyphs">WNT3</text>
<text x="263.6" y="865.7" font-size="8.6" font-style="italic" textLength="32.2" lengthAdjust="spacingAndGlyphs">NOTCH1</text>
<text x="274.4" y="873.3" font-size="8.6" font-style="italic" textLength="12.9" lengthAdjust="spacingAndGlyphs">SKI</text>
<text x="265.5" y="880.8" font-size="8.6" font-style="italic" textLength="21.8" lengthAdjust="spacingAndGlyphs">WNT4</text>
<text x="266.4" y="891.2" font-size="8.6" font-style="italic" textLength="22.8" lengthAdjust="spacingAndGlyphs">GATA1</text>
<text x="273" y="901.5" font-size="8.6" font-style="italic" textLength="18.1" lengthAdjust="spacingAndGlyphs">KLF6</text>
<text x="261.7" y="912.3" font-size="8.6" font-style="italic" textLength="33.1" lengthAdjust="spacingAndGlyphs">CREBBP</text>
<text x="271.2" y="920.4" font-size="8.6" font-style="italic" textLength="19.9" lengthAdjust="spacingAndGlyphs">CUX1</text>
<text x="268.7" y="931.7" font-size="8.6" font-style="italic" textLength="20.5" lengthAdjust="spacingAndGlyphs">FOSB</text>
<text x="370.8" y="810.7" font-size="8.6" font-style="italic" textLength="25.8" lengthAdjust="spacingAndGlyphs">HOXB9</text>
<text x="399.3" y="816.6" font-size="8.6" font-style="italic" textLength="20.6" lengthAdjust="spacingAndGlyphs">CDK6</text>
<text x="366" y="821.8" font-size="8.6" font-style="italic" textLength="24.9" lengthAdjust="spacingAndGlyphs">BAALC</text>
<text x="423.4" y="821.8" font-size="8.6" font-style="italic" textLength="16.8" lengthAdjust="spacingAndGlyphs">GFI1</text>
<text x="370.2" y="833.1" font-size="8.6" font-style="italic" textLength="21.3" lengthAdjust="spacingAndGlyphs">LMO2</text>
<text x="398.7" y="836.9" font-size="8.6" font-style="italic" textLength="19.3" lengthAdjust="spacingAndGlyphs">ETV6</text>
<text x="424.9" y="836" font-size="8.6" font-style="italic" textLength="22" lengthAdjust="spacingAndGlyphs">STAT1</text>
<text x="426.8" y="845.5" font-size="8.6" font-style="italic" textLength="12.1" lengthAdjust="spacingAndGlyphs">KIT</text>
<text x="421.5" y="854.6" font-size="8.6" font-style="italic" textLength="19.3" lengthAdjust="spacingAndGlyphs">ETS1</text>
<text x="421.5" y="863.5" font-size="8.6" font-style="italic" textLength="20.1" lengthAdjust="spacingAndGlyphs">CDK1</text>
<text x="421.5" y="872" font-size="8.6" font-style="italic" textLength="22.5" lengthAdjust="spacingAndGlyphs">ITGA9</text>
<text x="414.5" y="879.6" font-size="8.6" font-style="italic" textLength="35.6" lengthAdjust="spacingAndGlyphs">RUNX1T1</text>
<text x="413.1" y="887.8" font-size="8.6" font-style="italic" textLength="19.5" lengthAdjust="spacingAndGlyphs">ETV4</text>
<text x="415.8" y="895.8" font-size="8.6" font-style="italic" textLength="23.1" lengthAdjust="spacingAndGlyphs">MEIS1</text>
<text x="423.4" y="905.3" font-size="8.6" font-style="italic" textLength="25.8" lengthAdjust="spacingAndGlyphs">HOXB3</text>
<text x="413.1" y="915.1" font-size="8.6" font-style="italic" textLength="30.4" lengthAdjust="spacingAndGlyphs">MECOM</text>
<text x="419.2" y="924.6" font-size="8.6" font-style="italic" textLength="29.2" lengthAdjust="spacingAndGlyphs">SETBP1</text>
<text x="413.9" y="931.5" font-size="8.6" font-style="italic" textLength="14.4" lengthAdjust="spacingAndGlyphs">HLF</text>
<text x="374" y="936.6" font-size="8.6" font-style="italic" textLength="26.9" lengthAdjust="spacingAndGlyphs">MEF2C</text>
<rect x="258" y="803.5" width="192.9" height="134.5" fill="none" stroke="#6e6e6e" stroke-width="0.8"/>
<clipPath id="cv3"><rect x="488.5" y="803.5" width="192.9" height="134.1"/></clipPath>
<text x="585.4" y="800" font-size="11.6" font-weight="bold" text-anchor="middle" fill="#000">GSA vs P</text>
<text x="484.5" y="812" font-size="10.4" text-anchor="end" fill="#222">30</text>
<text x="484.5" y="852.5" font-size="10.4" text-anchor="end" fill="#222">20</text>
<text x="484.5" y="893" font-size="10.4" text-anchor="end" fill="#222">10</text>
<text x="484.5" y="933.5" font-size="10.4" text-anchor="end" fill="#222">0</text>
<text x="532.6" y="948.2" font-size="10.4" text-anchor="middle" fill="#222">−5</text>
<text x="585.4" y="948.2" font-size="10.4" text-anchor="middle" fill="#222">0</text>
<text x="640" y="948.2" font-size="10.4" text-anchor="middle" fill="#222">5</text>
<text x="585" y="957.6" font-size="10.35" text-anchor="middle" fill="#222">log2(Fold Change)</text>
<text transform="translate(469.5,873) rotate(-90)" font-size="10.6" text-anchor="middle" fill="#222">−log10(pvalue)</text>
<g clip-path="url(#cv3)">
<path d="M538 921.3 Q559.5 932.5 585.7 931 Q612.3 932.5 634 921.3 Z" fill="#d4d4d4"/>
<polygon points="578.4,922.3 578.4,894 592,898 592,922.3" fill="#d4d4d4"/>
<polygon points="582.5,893 588.9,896 586.5,924 585.7,928.5 584.9,924" fill="#fff"/>
<polygon points="544,921 546,915 552,910 558,906 565,902 571,897.5 576,894 579.3,892 579.3,922.3 544,922.3" fill="#9b5de5"/>
<path d="M546.4 900.2h0M546.1 915.8h0M552.4 899.5h0M562.9 904.1h0M553.6 908.5h0M529.8 908.4h0M546.6 902.5h0M568.7 900.6h0M547.7 911.8h0M530.4 901.9h0M553 894.8h0M555.8 904.3h0M557.3 892.8h0M541.8 919.6h0M555.9 898.4h0M549.1 912.9h0M573.4 884h0M570.6 897.8h0M579.5 919.1h0M543.2 907.2h0M576.8 873.4h0M564.8 896.8h0M547.2 905.7h0M528.7 915.3h0M544.9 878.5h0M563.4 904h0M559.3 906.5h0M577.4 884h0M568.3 897h0M529.7 909.7h0M545.3 916.4h0M572.2 894.6h0M563.6 884.6h0M562.3 903.9h0M572.1 865.6h0M572.5 887.8h0M533 908.7h0M533.9 917.4h0M551.5 909.7h0M562.2 895.2h0M542.8 915h0M561.1 884.4h0M549.9 913.1h0M575.3 884.7h0M536.9 919.9h0M579.1 890.9h0M566.3 898.5h0M559.3 899.5h0M578.3 888.3h0M570.3 893.2h0M545.9 901.5h0M534.3 918.4h0M554.4 902.1h0M538 916.6h0M531.6 890.2h0M570.1 898.5h0M560 902.7h0M568.9 892h0M548.4 911.4h0M535.7 918h0M562.5 877.1h0M545.2 909.1h0M564.3 897.1h0M578.7 893.7h0M550.6 911.2h0M570.6 888.4h0M567.2 895h0M528.1 917.1h0M576.2 894.2h0M537.3 913.9h0M562.2 894.3h0M574.2 882.9h0M573.7 893.2h0M579.1 874.8h0M548.7 912.1h0M535.3 918.5h0M537.2 916.4h0M564.6 892.6h0M533.5 913.4h0M562.3 888.3h0M559.8 889.7h0M532.7 894.6h0M529.2 896.5h0M538.2 920.1h0M537.2 902h0M538.6 892.2h0M550.1 912h0M577.6 888.7h0M532.8 921.9h0M555.2 908.4h0M550 905.8h0M562.1 889.1h0M536.7 916.8h0M539.1 916.1h0M571.6 892.1h0M538.6 907.3h0M557 884.7h0M568 897.7h0M573.4 896.2h0M536.3 908.7h0M562.6 886.8h0M562.5 899.7h0M577.2 882.6h0M563.3 899.5h0M539.8 911.6h0M565.1 903.1h0M558.6 896.3h0M546.5 909.3h0M572.6 889.4h0M569.3 897.8h0M569.1 900.1h0M570.8 896.8h0M545.7 915.4h0M569.7 870.7h0M569.1 899.1h0M549 911.7h0M558.9 904.5h0M560.9 903.7h0M565.5 895.2h0M567.1 895.8h0M528.4 918.9h0M566.6 894.8h0M544.7 916.2h0M549.2 912.6h0M578.7 880.6h0M571.8 897.5h0M542.7 912.6h0M551.5 905.3h0M556.3 908.5h0M535 918.5h0M569.7 884.9h0M529.5 918.6h0M554.4 907.9h0M569.6 884.5h0M548.6 909h0M561.1 904.3h0M535.1 911.2h0M561.3 903.8h0M575 895.2h0M566.8 888.7h0M531.6 920h0M528.8 904.1h0M543.5 915.6h0M555.4 895.5h0M562.2 903.8h0M563.6 904h0M541.4 912.7h0M560.6 904.1h0M533.4 920.7h0M570.3 886.3h0M537.3 918.9h0M553.5 907.8h0M531.7 914.9h0M573.9 894.2h0M548.8 912.9h0M570.1 892.6h0M542.2 911.1h0M569.6 892.8h0M538 917.9h0M533.7 920.9h0M532.2 915.4h0M576.7 893h0M567.2 886.6h0M532.8 919.9h0M534.8 918h0M551.5 911.4h0M569.2 881h0M578 887h0M540.6 904.9h0M567.9 887.4h0M539.3 913.9h0M536.3 915.6h0M536 912.7h0M543.7 917.6h0M543.6 921.2h0M541 894.1h0M546.5 913.2h0M528.2 913h0M565.7 899.8h0M553.4 910.3h0M567.1 887.4h0M579.3 914.1h0M549.5 875.5h0M528.2 892.5h0M555 883.1h0M555.8 908.5h0M537.3 913.3h0M531.8 916h0M551.8 909.6h0M577.9 888.4h0M570.7 897.6h0M552.6 900.1h0M570.3 887.3h0M568.2 899h0M539 918.6h0M578.7 882h0M532.6 914.9h0M541.9 898.6h0M528.7 917h0M537.6 917.4h0M567.1 899.5h0M554.2 890.3h0M571.5 882.6h0M555.3 894.5h0M560.4 902.1h0M542.8 897.7h0M554.5 897.1h0M569.7 890.5h0M529.8 916.6h0M548.1 903.6h0M575.3 866.4h0M575.2 883.1h0M554.4 899.7h0M528.7 916.6h0M570.9 874.3h0M534.8 906.3h0M552.7 904.1h0M563.1 903h0M562.5 895.8h0M545.4 908.3h0M550 912h0M571.8 897h0M563.4 894h0M543.7 918.6h0M551 912.1h0M551.5 895.6h0M570.4 896.8h0M535.6 911.1h0M535.5 917.5h0M539.8 887.9h0M545.1 907.6h0M574.5 880.1h0M576.5 891.4h0M545.8 914h0M535.2 908.7h0M559 900h0M536.9 915.7h0M539.8 907h0M556.1 907.9h0M579.4 913.2h0M553.2 902.8h0M548.2 910.9h0M552.7 885.7h0M555.2 902h0M545.2 904h0M535.2 918.5h0M560.1 904.5h0M569 898.7h0M529.1 915.7h0M565.7 901.5h0M574.7 881h0M542.2 914.6h0M572.8 892.7h0M555.5 889.4h0M539.5 919.6h0M566.9 881.5h0M539.1 919.3h0M564.2 886.8h0M549.2 913.4h0" stroke="#9b5de5" stroke-width="1.8" stroke-linecap="round"/>
<polygon points="590.5,891 594,888.5 600,886.5 606,888.5 612,893 618,898.5 624,904 629,910 631,915 631,921 631,922.3 590.5,922.3" fill="#4e8c5e"/>
<path d="M620.5 899.3h0M634.3 913.8h0M594.7 887.8h0M629.2 911.2h0M595.5 876.9h0M604 886.5h0M605.9 881.5h0M601.6 878h0M644.1 910.1h0M624.8 884.7h0M603.9 869.1h0M636.3 919.3h0M622.1 902.4h0M597.3 886.7h0M594.4 888.3h0M631.3 919.2h0M636.9 912.5h0M638.5 919.9h0M645.7 918.3h0M646.2 911.4h0M600.9 877.9h0M631 912.2h0M643.4 912.6h0M609.6 873.8h0M645.4 898.8h0M634.3 913h0M621.7 892h0M626.9 902.3h0M604.5 882.1h0M627.5 903.2h0M600.3 883.3h0M617.7 898.5h0M609.6 892.4h0M608.1 879.9h0M615.5 894h0M630.2 909.4h0M608 890.6h0M617.8 890.8h0M606.8 884.5h0M600.2 880.6h0M638.8 912.4h0M636.7 917.7h0M642.9 896.6h0M601.3 888.1h0M620.7 899.4h0M644.7 918.2h0M610.8 893.3h0M621.9 865.2h0M616.1 879.8h0M631.8 912.4h0M647.3 914.4h0M606 880.9h0M621.9 900.3h0M624.1 898.9h0M602.3 887h0M628.8 905.9h0M619.1 863.8h0M608 879h0M635.8 919.5h0M595 875.8h0M636.6 910.4h0M606.9 867.8h0M618.9 893.6h0M617 894.1h0M605.6 883.6h0M598.8 880.8h0M606.5 861.5h0M594.8 886.4h0M597.5 885.4h0M642.8 914.3h0M621.4 902.5h0M605.6 885.6h0M630 906.9h0M634.7 908.7h0M619.7 901h0M612 889.1h0M602.8 877.1h0M593.7 880.7h0M645.1 918.2h0M611.7 881.5h0M621.9 888.3h0M624.7 894.1h0M619.6 893.3h0M621.4 896.5h0M600.6 885.1h0M639.4 916.6h0M621.2 894.1h0M633.6 918.1h0M597.8 885.5h0M640.6 916.7h0M611.5 893.8h0M596.6 887.2h0M604.7 887.7h0M623.8 887.1h0M611.1 891.1h0M602.6 874.7h0M597.9 884.8h0M614.3 895.4h0M643.5 898h0M620 889.8h0M629.4 905.8h0M611.2 892.9h0M596.4 867.6h0M643.8 917.8h0M592.1 890.4h0M606.7 889.4h0M598.5 878.7h0M647.5 921.8h0M624.5 895.4h0M631.1 904h0M603.9 887.1h0M620.2 897.5h0M624 901.8h0M623.6 903.3h0M604.1 887.9h0M612.6 887h0M613.6 886.4h0M638.9 917.6h0M631.1 911.9h0M646.9 908.1h0M623.5 900.5h0M613.1 889.9h0M637.3 918.7h0M612.9 877.9h0M644.7 917.6h0M625.5 905.2h0M617.3 887.8h0M622.8 902.3h0M605.9 887.6h0M617.2 869h0M592.6 890.9h0M624.8 905.7h0M594.9 889.3h0M600.8 882.2h0M599.3 880.3h0M609.3 889.9h0M597.7 882.2h0M614 894.9h0M596.6 884.2h0M599.4 882.2h0M634.3 880.3h0M646.5 904h0M613.4 891.8h0M597 883.5h0M643.6 917.4h0M604.4 889h0M615.4 895.5h0M610.7 889.6h0M622.7 901.8h0M636.9 914.6h0M606.8 885.6h0M640 909.1h0M609.4 879.2h0M646.3 905.8h0M646.8 921.2h0M629.4 897.9h0M643.4 915.1h0M592.9 885.8h0M631.8 899.6h0M611.7 893.7h0M641.8 919.6h0M599.4 887.6h0M602.2 875.3h0M645.5 918.8h0M594.4 889.3h0M625.5 895.4h0M609.4 889h0M625.9 904.8h0M605.2 888.2h0M630.1 896.3h0M644.1 910.1h0M616.8 891.3h0M636.7 918.4h0M634.1 919.1h0M622.4 901.7h0M606 878.5h0M634.7 898.9h0M632.8 917.6h0M629.6 912.6h0M615 887.3h0M641.1 918.1h0M617.6 888.7h0M637.8 917.4h0M637.2 911.8h0M641.8 907.6h0M620.4 899.4h0M626 895.1h0M620.8 890.9h0M642 914.8h0M597.7 878.8h0M631.7 913.8h0M594.1 886.6h0M645.4 912.7h0M618.4 897.8h0M624.7 905.8h0M637.2 911.9h0M603 883.1h0M612.5 892.2h0M628.5 910.8h0M593.2 888.8h0M624.5 879.4h0M645.6 912.1h0M592.9 883.5h0M597.4 884.7h0M635.9 889.6h0M636.7 913.5h0M597 880.3h0M636.9 912.3h0M610 884.8h0M622.7 897.5h0M642.2 921.6h0M617.2 896.5h0M594.8 889.4h0M640.9 914.4h0M641.3 919.5h0M619.7 900.6h0M626 902.3h0M610.1 891.4h0M636.3 903.7h0M597.3 888.6h0M634.2 916.9h0M643.1 892.9h0M610.3 877.1h0M640.1 919.3h0M642.8 917h0M634.5 920.3h0M622.5 902.8h0M606.9 886.9h0M625 905.9h0M616.1 897.4h0M645.3 897.6h0M614.7 872.2h0M617.7 897.2h0M645.2 916.5h0M596.3 883.3h0M630.8 910.1h0M607.8 890.1h0M597.3 873.7h0M647.8 919.4h0" stroke="#4e8c5e" stroke-width="1.8" stroke-linecap="round"/>
</g>
<line x1="579.9" y1="803.5" x2="579.9" y2="937.6" stroke="#a0a0a0" stroke-width="0.7" stroke-dasharray="3.2,2.2"/>
<line x1="590.5" y1="803.5" x2="590.5" y2="937.6" stroke="#a0a0a0" stroke-width="0.7" stroke-dasharray="3.2,2.2"/>
<line x1="488.5" y1="921.3" x2="681.4" y2="921.3" stroke="#a0a0a0" stroke-width="0.7" stroke-dasharray="3.2,2.2"/>
<line x1="544.6" y1="818.5" x2="562.5" y2="868" stroke="#151515" stroke-width="0.6"/>
<circle cx="562.5" cy="868.5" r="1" fill="#9b5de5"/>
<line x1="531" y1="822.6" x2="574" y2="905" stroke="#151515" stroke-width="0.6"/>
<line x1="525.3" y1="838.6" x2="576" y2="907" stroke="#151515" stroke-width="0.6"/>
<line x1="520.6" y1="854.1" x2="575" y2="909" stroke="#151515" stroke-width="0.6"/>
<line x1="514" y1="864.4" x2="573" y2="910" stroke="#151515" stroke-width="0.6"/>
<line x1="518.7" y1="875.4" x2="575" y2="911" stroke="#151515" stroke-width="0.6"/>
<line x1="529.1" y1="889.5" x2="574" y2="912" stroke="#151515" stroke-width="0.6"/>
<line x1="520" y1="898.9" x2="575" y2="913" stroke="#151515" stroke-width="0.6"/>
<line x1="516.3" y1="908.9" x2="576" y2="914" stroke="#151515" stroke-width="0.6"/>
<line x1="519.3" y1="918.7" x2="567" y2="915" stroke="#151515" stroke-width="0.6"/>
<line x1="526.1" y1="923.9" x2="577" y2="916" stroke="#151515" stroke-width="0.6"/>
<line x1="535.9" y1="930.5" x2="575" y2="917" stroke="#151515" stroke-width="0.6"/>
<line x1="541.8" y1="929.2" x2="567" y2="911" stroke="#151515" stroke-width="0.6"/>
<line x1="596.8" y1="812.8" x2="593" y2="905" stroke="#151515" stroke-width="0.6"/>
<line x1="608.1" y1="819.4" x2="594" y2="906" stroke="#151515" stroke-width="0.6"/>
<line x1="631.7" y1="821.3" x2="595" y2="907" stroke="#151515" stroke-width="0.6"/>
<line x1="635.4" y1="829.2" x2="596" y2="907" stroke="#151515" stroke-width="0.6"/>
<line x1="594" y1="834.5" x2="592" y2="905" stroke="#151515" stroke-width="0.6"/>
<line x1="641.3" y1="833.9" x2="597" y2="906" stroke="#151515" stroke-width="0.6"/>
<line x1="640.7" y1="841.8" x2="597" y2="907" stroke="#151515" stroke-width="0.6"/>
<line x1="640.7" y1="848.9" x2="598" y2="908" stroke="#151515" stroke-width="0.6"/>
<line x1="642.2" y1="856.5" x2="598" y2="907" stroke="#151515" stroke-width="0.6"/>
<line x1="643.2" y1="864" x2="599" y2="908" stroke="#151515" stroke-width="0.6"/>
<line x1="645.1" y1="870.6" x2="600" y2="909" stroke="#151515" stroke-width="0.6"/>
<line x1="640.3" y1="880" x2="600" y2="910" stroke="#151515" stroke-width="0.6"/>
<line x1="642.2" y1="887.5" x2="600" y2="911" stroke="#151515" stroke-width="0.6"/>
<line x1="643.2" y1="895.1" x2="599" y2="912" stroke="#151515" stroke-width="0.6"/>
<line x1="649.4" y1="903.2" x2="598" y2="913" stroke="#151515" stroke-width="0.6"/>
<line x1="647.5" y1="911.4" x2="597" y2="913" stroke="#151515" stroke-width="0.6"/>
<line x1="657.3" y1="917.6" x2="598" y2="914" stroke="#151515" stroke-width="0.6"/>
<line x1="636.9" y1="918.2" x2="597" y2="915" stroke="#151515" stroke-width="0.6"/>
<line x1="651.4" y1="925.3" x2="596" y2="915" stroke="#151515" stroke-width="0.6"/>
<line x1="601.9" y1="921.9" x2="606" y2="916" stroke="#151515" stroke-width="0.6"/>
<line x1="624.1" y1="929.4" x2="598" y2="915" stroke="#151515" stroke-width="0.6"/>
<line x1="594" y1="931" x2="594" y2="918" stroke="#151515" stroke-width="0.6"/>
<text x="542.6" y="817.7" font-size="8.6" font-style="italic" textLength="20.9" lengthAdjust="spacingAndGlyphs">EGR1</text>
<text x="513.8" y="825.2" font-size="8.6" font-style="italic" textLength="15.8" lengthAdjust="spacingAndGlyphs">FOS</text>
<text x="495.5" y="841.2" font-size="8.6" font-style="italic" textLength="28.4" lengthAdjust="spacingAndGlyphs">ITGA2B</text>
<text x="504" y="856.7" font-size="8.6" font-style="italic" textLength="15.2" lengthAdjust="spacingAndGlyphs">JUN</text>
<text x="490.8" y="867" font-size="8.6" font-style="italic" textLength="21.8" lengthAdjust="spacingAndGlyphs">FOSB</text>
<text x="495.5" y="878" font-size="8.6" font-style="italic" textLength="21.8" lengthAdjust="spacingAndGlyphs">WNT4</text>
<text x="495.5" y="892.1" font-size="8.6" font-style="italic" textLength="32.2" lengthAdjust="spacingAndGlyphs">NOTCH1</text>
<text x="495.5" y="901.5" font-size="8.6" font-style="italic" textLength="23.1" lengthAdjust="spacingAndGlyphs">GFI1B</text>
<text x="491.2" y="911.5" font-size="8.6" font-style="italic" textLength="23.7" lengthAdjust="spacingAndGlyphs">GATA1</text>
<text x="496.1" y="921.3" font-size="8.6" font-style="italic" textLength="21.8" lengthAdjust="spacingAndGlyphs">WNT3</text>
<text x="506.8" y="930.7" font-size="8.6" font-style="italic" textLength="20.5" lengthAdjust="spacingAndGlyphs">CUX1</text>
<text x="524.7" y="937.3" font-size="8.6" font-style="italic" textLength="12.4" lengthAdjust="spacingAndGlyphs">SKI</text>
<text x="539.8" y="936" font-size="8.6" font-style="italic" textLength="32.1" lengthAdjust="spacingAndGlyphs">CREBBP</text>
<text x="594.8" y="812" font-size="8.6" font-style="italic" textLength="19" lengthAdjust="spacingAndGlyphs">KLF6</text>
<text x="606.1" y="818.6" font-size="8.6" font-style="italic" textLength="19.9" lengthAdjust="spacingAndGlyphs">CDK6</text>
<text x="629.7" y="820.5" font-size="8.6" font-style="italic" textLength="26.5" lengthAdjust="spacingAndGlyphs">HOXB9</text>
<text x="633.4" y="828.4" font-size="8.6" font-style="italic" textLength="19.9" lengthAdjust="spacingAndGlyphs">CDK1</text>
<text x="592" y="833.7" font-size="8.6" font-style="italic" textLength="17.1" lengthAdjust="spacingAndGlyphs">GFI1</text>
<text x="641.9" y="836.5" font-size="8.6" font-style="italic" textLength="26.5" lengthAdjust="spacingAndGlyphs">MEF2C</text>
<text x="641.3" y="844.4" font-size="8.6" textLength="11.3" lengthAdjust="spacingAndGlyphs">KIT</text>
<text x="641.3" y="851.5" font-size="8.6" textLength="19.4" lengthAdjust="spacingAndGlyphs">ETV4</text>
<text x="642.8" y="859.1" font-size="8.6" font-style="italic" textLength="25.6" lengthAdjust="spacingAndGlyphs">HOXB3</text>
<text x="643.8" y="866.6" font-size="8.6" font-style="italic" textLength="22.7" lengthAdjust="spacingAndGlyphs">ITGA9</text>
<text x="645.7" y="873.2" font-size="8.6" font-style="italic" textLength="18.9" lengthAdjust="spacingAndGlyphs">ETS1</text>
<text x="640.9" y="882.6" font-size="8.6" font-style="italic" textLength="34.6" lengthAdjust="spacingAndGlyphs">RUNX1T1</text>
<text x="642.8" y="890.1" font-size="8.6" font-style="italic" textLength="23.3" lengthAdjust="spacingAndGlyphs">MEIS1</text>
<text x="643.8" y="897.7" font-size="8.6" font-style="italic" textLength="23.6" lengthAdjust="spacingAndGlyphs">MEIS2</text>
<text x="650" y="905.8" font-size="8.6" font-style="italic" textLength="19.9" lengthAdjust="spacingAndGlyphs">ETV6</text>
<text x="648.1" y="914" font-size="8.6" font-style="italic" textLength="29.7" lengthAdjust="spacingAndGlyphs">SETBP1</text>
<text x="657.9" y="920.2" font-size="8.6" font-style="italic" textLength="20.8" lengthAdjust="spacingAndGlyphs">LMO2</text>
<text x="634.9" y="925" font-size="8.6" font-style="italic" textLength="21.8" lengthAdjust="spacingAndGlyphs">STAT1</text>
<text x="649.4" y="932.1" font-size="8.6" font-style="italic" textLength="29.3" lengthAdjust="spacingAndGlyphs">MECOM</text>
<text x="599.9" y="928.7" font-size="8.6" font-style="italic" textLength="14.3" lengthAdjust="spacingAndGlyphs">HLF</text>
<text x="622.1" y="936.2" font-size="8.6" font-style="italic" textLength="25.6" lengthAdjust="spacingAndGlyphs">RUNX1</text>
<text x="592" y="937.8" font-size="8.6" font-style="italic" textLength="25.6" lengthAdjust="spacingAndGlyphs">BAALC</text>
<rect x="488.5" y="803.5" width="192.9" height="134.1" fill="none" stroke="#6e6e6e" stroke-width="0.8"/>
</svg>
</body></html>
